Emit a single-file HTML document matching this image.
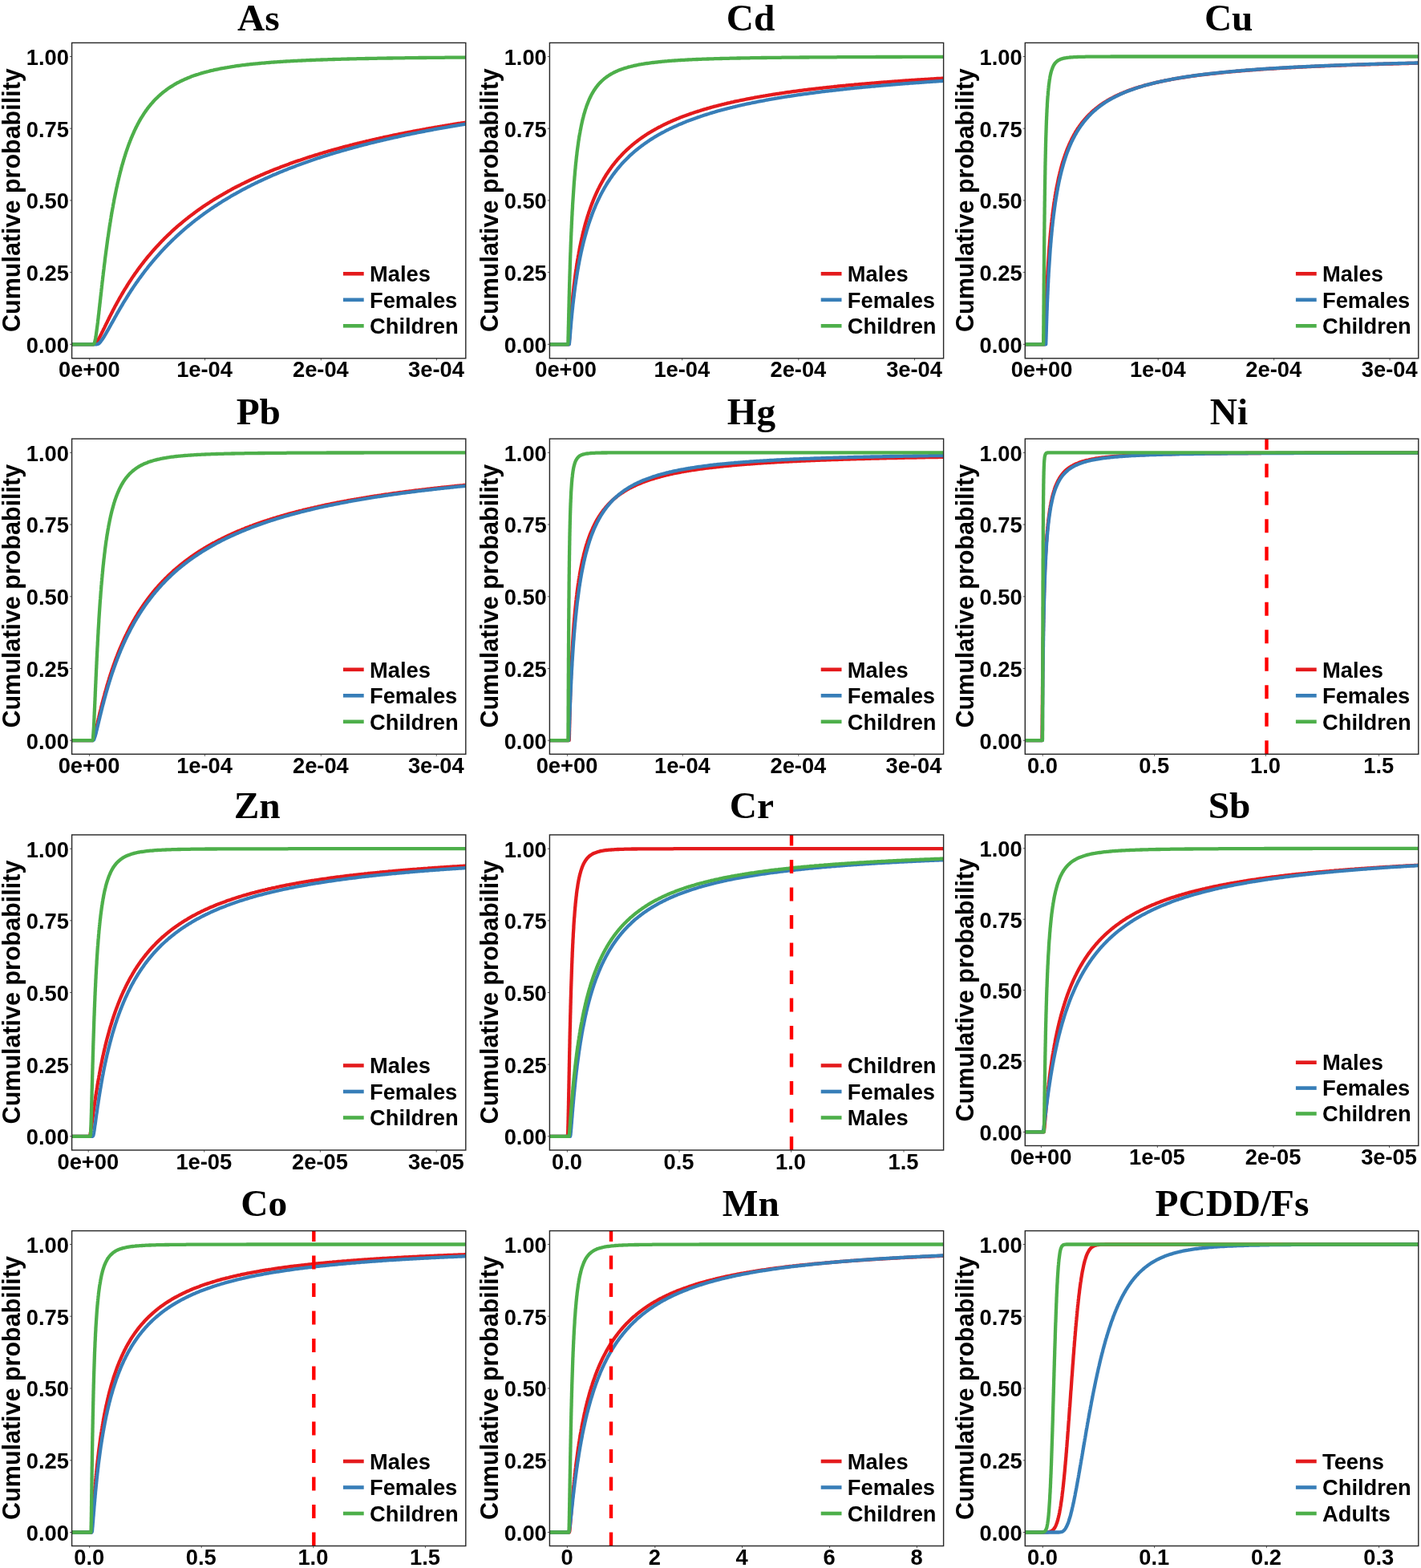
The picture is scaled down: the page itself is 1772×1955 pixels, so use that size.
<!DOCTYPE html>
<html><head><meta charset="utf-8"><title>Cumulative probability plots</title>
<style>
html,body{margin:0;padding:0;background:#fff;}
body{width:1772px;height:1955px;overflow:hidden;}
svg{display:block;}
.ti{font-family:"Liberation Serif","Times New Roman",serif;font-weight:bold;font-size:47.3px;text-anchor:middle;fill:#000;}
.yl{font-family:"Liberation Sans",Arial,sans-serif;font-weight:bold;font-size:30.5px;text-anchor:middle;fill:#000;}
.yt{font-family:"Liberation Sans",Arial,sans-serif;font-weight:bold;font-size:27.3px;text-anchor:end;fill:#000;}
.xt{font-family:"Liberation Sans",Arial,sans-serif;font-weight:bold;font-size:27.3px;text-anchor:middle;fill:#000;}
.lg{font-family:"Liberation Sans",Arial,sans-serif;font-weight:bold;font-size:27.3px;fill:#000;}
.tk{stroke:#333;stroke-width:0.8;}
.bd{fill:none;stroke:#262626;stroke-width:1.4;}
.cv{fill:none;stroke-width:4.3;stroke-linejoin:round;stroke-linecap:butt;}
.dash{stroke:#FF0000;stroke-width:4.4;stroke-dasharray:17.1 17.4;}
</style></head><body>
<svg xmlns="http://www.w3.org/2000/svg" width="1772" height="1955" viewBox="0 0 1772 1955">
<rect width="1772" height="1955" fill="#fff"/>
<defs>
<clipPath id="cp0"><rect x="89.6" y="53.4" width="491.19999999999993" height="393.40000000000003"/></clipPath>
<clipPath id="cp1"><rect x="685.4" y="53.4" width="491.19999999999993" height="393.40000000000003"/></clipPath>
<clipPath id="cp2"><rect x="1278.3" y="53.4" width="490.5" height="393.40000000000003"/></clipPath>
<clipPath id="cp3"><rect x="89.6" y="547.1" width="491.19999999999993" height="393.19999999999993"/></clipPath>
<clipPath id="cp4"><rect x="685.4" y="547.1" width="491.19999999999993" height="393.19999999999993"/></clipPath>
<clipPath id="cp5"><rect x="1278.3" y="547.1" width="490.5" height="393.19999999999993"/></clipPath>
<clipPath id="cp6"><rect x="89.6" y="1040.9" width="491.19999999999993" height="393.0999999999999"/></clipPath>
<clipPath id="cp7"><rect x="685.4" y="1040.9" width="491.19999999999993" height="393.0999999999999"/></clipPath>
<clipPath id="cp8"><rect x="1278.3" y="1040.9" width="490.5" height="387.5999999999999"/></clipPath>
<clipPath id="cp9"><rect x="89.6" y="1534.6" width="491.19999999999993" height="392.9000000000001"/></clipPath>
<clipPath id="cp10"><rect x="685.4" y="1534.6" width="491.19999999999993" height="392.9000000000001"/></clipPath>
<clipPath id="cp11"><rect x="1278.3" y="1534.6" width="490.5" height="392.9000000000001"/></clipPath>
</defs>
<text x="322.3" y="38.1" class="ti">As</text>
<text class="yl" transform="translate(24.849999999999994,249.6) rotate(-90)">Cumulative probability</text>
<line x1="87.0" y1="429.3" x2="89.6" y2="429.3" class="tk"/>
<text x="86.0" y="439.6" class="yt">0.00</text>
<line x1="87.0" y1="339.6" x2="89.6" y2="339.6" class="tk"/>
<text x="86.0" y="349.9" class="yt">0.25</text>
<line x1="87.0" y1="249.9" x2="89.6" y2="249.9" class="tk"/>
<text x="86.0" y="260.2" class="yt">0.50</text>
<line x1="87.0" y1="160.2" x2="89.6" y2="160.2" class="tk"/>
<text x="86.0" y="170.5" class="yt">0.75</text>
<line x1="87.0" y1="70.5" x2="89.6" y2="70.5" class="tk"/>
<text x="86.0" y="80.8" class="yt">1.00</text>
<line x1="111.7" y1="446.8" x2="111.7" y2="449.4" class="tk"/>
<text x="111.3" y="470.3" class="xt">0e+00</text>
<line x1="255.5" y1="446.8" x2="255.5" y2="449.4" class="tk"/>
<text x="255.1" y="470.3" class="xt">1e-04</text>
<line x1="400.3" y1="446.8" x2="400.3" y2="449.4" class="tk"/>
<text x="399.9" y="470.3" class="xt">2e-04</text>
<line x1="544.4" y1="446.8" x2="544.4" y2="449.4" class="tk"/>
<text x="544.0" y="470.3" class="xt">3e-04</text>
<g clip-path="url(#cp0)">
<path d="M79.6,429.3 L116.9,429.3 L118.3,428.9 L119.5,427.9 L120.4,426.7 L121.3,425.4 L122.1,424.2 L122.8,422.9 L123.6,421.6 L124.3,420.2 L125.0,418.9 L125.7,417.6 L126.4,416.2 L127.0,414.9 L127.7,413.5 L128.4,412.2 L129.0,410.8 L129.7,409.5 L130.4,408.1 L131.0,406.8 L131.7,405.4 L132.3,404.1 L133.0,402.7 L133.7,401.4 L134.3,400.0 L135.0,398.7 L135.7,397.3 L136.3,396.0 L137.0,394.6 L137.7,393.3 L138.4,391.9 L139.1,390.6 L139.8,389.3 L140.4,387.9 L141.1,386.6 L141.8,385.2 L142.5,383.9 L143.2,382.6 L143.9,381.3 L144.7,379.9 L145.4,378.6 L146.1,377.3 L146.8,376.0 L147.6,374.6 L148.3,373.3 L149.0,372.0 L149.8,370.7 L150.5,369.4 L151.3,368.1 L152.0,366.8 L152.8,365.5 L153.6,364.2 L154.3,362.9 L155.1,361.6 L155.9,360.3 L156.7,359.1 L157.5,357.8 L158.3,356.5 L159.1,355.2 L159.9,353.9 L160.7,352.7 L161.5,351.4 L162.3,350.2 L163.2,348.9 L164.0,347.6 L164.8,346.4 L165.7,345.1 L166.5,343.9 L167.4,342.7 L168.2,341.4 L169.1,340.2 L170.0,339.0 L170.9,337.7 L171.7,336.5 L172.6,335.3 L173.5,334.1 L174.4,332.9 L175.3,331.7 L176.2,330.5 L177.1,329.3 L178.1,328.1 L179.0,326.9 L179.9,325.7 L180.8,324.5 L181.8,323.4 L182.7,322.2 L183.7,321.0 L184.6,319.9 L185.6,318.7 L186.6,317.6 L187.6,316.4 L188.5,315.3 L189.5,314.1 L190.5,313.0 L191.5,311.9 L192.5,310.7 L193.5,309.6 L194.5,308.5 L195.5,307.4 L196.6,306.3 L197.6,305.2 L198.6,304.1 L199.6,303.0 L200.7,301.9 L201.7,300.8 L202.8,299.7 L203.8,298.7 L204.9,297.6 L206.0,296.5 L207.0,295.5 L208.1,294.4 L209.2,293.4 L210.3,292.3 L211.4,291.3 L212.5,290.3 L213.6,289.2 L214.7,288.2 L215.8,287.2 L216.9,286.2 L218.0,285.2 L219.2,284.2 L220.3,283.2 L221.4,282.2 L222.6,281.2 L223.7,280.2 L224.9,279.3 L226.0,278.3 L227.2,277.3 L228.3,276.4 L229.5,275.4 L230.7,274.5 L231.8,273.5 L233.0,272.6 L234.2,271.7 L235.4,270.7 L236.6,269.8 L237.8,268.9 L239.0,268.0 L240.2,267.1 L241.4,266.2 L242.6,265.3 L243.8,264.4 L245.0,263.5 L246.2,262.6 L247.5,261.7 L248.7,260.9 L249.9,260.0 L251.2,259.2 L252.4,258.3 L253.6,257.4 L254.9,256.6 L256.1,255.8 L257.4,254.9 L258.7,254.1 L259.9,253.3 L261.2,252.5 L262.4,251.6 L263.7,250.8 L265.0,250.0 L266.3,249.2 L267.5,248.4 L268.8,247.6 L270.1,246.9 L271.4,246.1 L272.7,245.3 L274.0,244.5 L275.3,243.8 L276.6,243.0 L277.9,242.3 L279.2,241.5 L280.5,240.8 L281.8,240.0 L283.1,239.3 L284.4,238.5 L285.7,237.8 L287.1,237.1 L288.4,236.4 L289.7,235.7 L291.0,234.9 L292.4,234.2 L293.7,233.5 L295.0,232.8 L296.4,232.2 L297.7,231.5 L299.1,230.8 L300.4,230.1 L301.8,229.4 L303.1,228.8 L304.5,228.1 L305.8,227.4 L307.2,226.8 L308.5,226.1 L309.9,225.5 L311.2,224.8 L312.6,224.2 L314.0,223.6 L315.3,222.9 L316.7,222.3 L318.1,221.7 L319.4,221.0 L320.8,220.4 L322.2,219.8 L323.6,219.2 L324.9,218.6 L326.3,218.0 L327.7,217.4 L329.1,216.8 L330.5,216.2 L331.9,215.6 L333.3,215.1 L334.6,214.5 L336.0,213.9 L337.4,213.3 L338.8,212.8 L340.2,212.2 L341.6,211.6 L343.0,211.1 L344.4,210.5 L345.8,210.0 L347.2,209.4 L348.6,208.9 L350.0,208.3 L351.4,207.8 L352.8,207.3 L354.3,206.7 L355.7,206.2 L357.1,205.7 L358.5,205.2 L359.9,204.7 L361.3,204.1 L362.7,203.6 L364.2,203.1 L365.6,202.6 L367.0,202.1 L368.4,201.6 L369.8,201.1 L371.3,200.6 L372.7,200.1 L374.1,199.7 L375.5,199.2 L377.0,198.7 L378.4,198.2 L379.8,197.7 L381.2,197.3 L382.7,196.8 L384.1,196.3 L385.5,195.9 L387.0,195.4 L388.4,195.0 L389.8,194.5 L391.3,194.1 L392.7,193.6 L394.2,193.2 L395.6,192.7 L397.0,192.3 L398.5,191.8 L399.9,191.4 L401.4,191.0 L402.8,190.5 L404.2,190.1 L405.7,189.7 L407.1,189.3 L408.6,188.8 L410.0,188.4 L411.5,188.0 L412.9,187.6 L414.4,187.2 L415.8,186.8 L417.3,186.4 L418.7,186.0 L420.2,185.6 L421.6,185.2 L423.1,184.8 L424.5,184.4 L426.0,184.0 L427.4,183.6 L428.9,183.2 L430.3,182.8 L431.8,182.4 L433.3,182.1 L434.7,181.7 L436.2,181.3 L437.6,180.9 L439.1,180.6 L440.6,180.2 L442.0,179.8 L443.5,179.4 L444.9,179.1 L446.4,178.7 L447.9,178.4 L449.3,178.0 L450.8,177.6 L452.2,177.3 L453.7,176.9 L455.2,176.6 L456.6,176.2 L458.1,175.9 L459.6,175.6 L461.0,175.2 L462.5,174.9 L464.0,174.5 L465.4,174.2 L466.9,173.9 L468.4,173.5 L469.8,173.2 L471.3,172.9 L472.8,172.5 L474.3,172.2 L475.7,171.9 L477.2,171.6 L478.7,171.2 L480.1,170.9 L481.6,170.6 L483.1,170.3 L484.6,170.0 L486.0,169.7 L487.5,169.3 L489.0,169.0 L490.4,168.7 L491.9,168.4 L493.4,168.1 L494.9,167.8 L496.3,167.5 L497.8,167.2 L499.3,166.9 L500.8,166.6 L502.3,166.3 L503.7,166.0 L505.2,165.7 L506.7,165.5 L508.2,165.2 L509.6,164.9 L511.1,164.6 L512.6,164.3 L514.1,164.0 L515.6,163.7 L517.0,163.5 L518.5,163.2 L520.0,162.9 L521.5,162.6 L523.0,162.4 L524.4,162.1 L525.9,161.8 L527.4,161.5 L528.9,161.3 L530.4,161.0 L531.8,160.7 L533.3,160.5 L534.8,160.2 L536.3,159.9 L537.8,159.7 L539.3,159.4 L540.7,159.2 L542.2,158.9 L543.7,158.6 L545.2,158.4 L546.7,158.1 L548.2,157.9 L549.6,157.6 L551.1,157.4 L552.6,157.1 L554.1,156.9 L555.6,156.6 L557.1,156.4 L558.6,156.2 L560.0,155.9 L561.5,155.7 L563.0,155.4 L564.5,155.2 L566.0,154.9 L567.5,154.7 L569.0,154.5 L570.4,154.2 L571.9,154.0 L573.4,153.8 L574.9,153.5 L576.4,153.3 L577.9,153.1 L579.4,152.9 L580.9,152.6 L582.4,152.4 L583.8,152.2 L585.3,151.9 L586.8,151.7 L588.3,151.5 L589.8,151.3 L591.3,151.1 L592.8,150.8 L594.3,150.6 L595.8,150.4 L597.2,150.2 L598.7,150.0 L600.2,149.8 L590.8,149.8" class="cv" stroke="#E41A1C"/>
<path d="M79.6,429.3 L120.4,429.3 L121.9,429.0 L123.2,428.3 L124.3,427.3 L125.3,426.2 L126.2,425.0 L127.1,423.8 L128.0,422.5 L128.8,421.3 L129.6,420.0 L130.4,418.7 L131.2,417.4 L131.9,416.1 L132.7,414.8 L133.4,413.5 L134.2,412.2 L134.9,410.9 L135.7,409.6 L136.4,408.3 L137.1,407.0 L137.9,405.6 L138.6,404.3 L139.3,403.0 L140.1,401.7 L140.8,400.4 L141.5,399.1 L142.3,397.8 L143.0,396.4 L143.7,395.1 L144.5,393.8 L145.2,392.5 L145.9,391.2 L146.7,389.9 L147.4,388.6 L148.2,387.3 L148.9,386.0 L149.7,384.7 L150.5,383.4 L151.2,382.1 L152.0,380.8 L152.8,379.5 L153.5,378.2 L154.3,376.9 L155.1,375.6 L155.9,374.3 L156.7,373.1 L157.5,371.8 L158.3,370.5 L159.1,369.2 L159.9,368.0 L160.7,366.7 L161.5,365.4 L162.3,364.2 L163.1,362.9 L163.9,361.6 L164.8,360.4 L165.6,359.1 L166.4,357.9 L167.3,356.6 L168.1,355.4 L169.0,354.2 L169.8,352.9 L170.7,351.7 L171.6,350.5 L172.4,349.2 L173.3,348.0 L174.2,346.8 L175.1,345.6 L176.0,344.4 L176.9,343.1 L177.8,341.9 L178.7,340.7 L179.6,339.5 L180.5,338.3 L181.4,337.1 L182.3,336.0 L183.3,334.8 L184.2,333.6 L185.1,332.4 L186.1,331.2 L187.0,330.1 L188.0,328.9 L188.9,327.7 L189.9,326.6 L190.9,325.4 L191.8,324.3 L192.8,323.1 L193.8,322.0 L194.8,320.9 L195.8,319.7 L196.8,318.6 L197.8,317.5 L198.8,316.4 L199.8,315.2 L200.8,314.1 L201.8,313.0 L202.8,311.9 L203.9,310.8 L204.9,309.7 L205.9,308.6 L207.0,307.6 L208.0,306.5 L209.1,305.4 L210.1,304.3 L211.2,303.3 L212.3,302.2 L213.3,301.2 L214.4,300.1 L215.5,299.1 L216.6,298.0 L217.7,297.0 L218.8,295.9 L219.9,294.9 L221.0,293.9 L222.1,292.9 L223.2,291.9 L224.3,290.8 L225.4,289.8 L226.5,288.8 L227.7,287.8 L228.8,286.9 L229.9,285.9 L231.1,284.9 L232.2,283.9 L233.4,282.9 L234.5,282.0 L235.7,281.0 L236.9,280.1 L238.0,279.1 L239.2,278.2 L240.4,277.2 L241.5,276.3 L242.7,275.3 L243.9,274.4 L245.1,273.5 L246.3,272.6 L247.5,271.7 L248.7,270.8 L249.9,269.9 L251.1,269.0 L252.3,268.1 L253.5,267.2 L254.7,266.3 L256.0,265.4 L257.2,264.5 L258.4,263.7 L259.7,262.8 L260.9,262.0 L262.1,261.1 L263.4,260.2 L264.6,259.4 L265.9,258.6 L267.1,257.7 L268.4,256.9 L269.6,256.1 L270.9,255.3 L272.2,254.4 L273.4,253.6 L274.7,252.8 L276.0,252.0 L277.2,251.2 L278.5,250.4 L279.8,249.6 L281.1,248.9 L282.4,248.1 L283.7,247.3 L285.0,246.5 L286.2,245.8 L287.5,245.0 L288.8,244.2 L290.2,243.5 L291.5,242.7 L292.8,242.0 L294.1,241.3 L295.4,240.5 L296.7,239.8 L298.0,239.1 L299.3,238.4 L300.7,237.6 L302.0,236.9 L303.3,236.2 L304.7,235.5 L306.0,234.8 L307.3,234.1 L308.7,233.4 L310.0,232.7 L311.3,232.1 L312.7,231.4 L314.0,230.7 L315.4,230.0 L316.7,229.4 L318.1,228.7 L319.4,228.0 L320.8,227.4 L322.1,226.7 L323.5,226.1 L324.9,225.5 L326.2,224.8 L327.6,224.2 L328.9,223.6 L330.3,222.9 L331.7,222.3 L333.1,221.7 L334.4,221.1 L335.8,220.5 L337.2,219.8 L338.6,219.2 L339.9,218.6 L341.3,218.0 L342.7,217.4 L344.1,216.9 L345.5,216.3 L346.9,215.7 L348.3,215.1 L349.6,214.5 L351.0,214.0 L352.4,213.4 L353.8,212.8 L355.2,212.3 L356.6,211.7 L358.0,211.2 L359.4,210.6 L360.8,210.1 L362.2,209.5 L363.6,209.0 L365.0,208.4 L366.4,207.9 L367.8,207.4 L369.2,206.8 L370.7,206.3 L372.1,205.8 L373.5,205.3 L374.9,204.7 L376.3,204.2 L377.7,203.7 L379.1,203.2 L380.6,202.7 L382.0,202.2 L383.4,201.7 L384.8,201.2 L386.2,200.7 L387.7,200.2 L389.1,199.7 L390.5,199.3 L391.9,198.8 L393.4,198.3 L394.8,197.8 L396.2,197.3 L397.6,196.9 L399.1,196.4 L400.5,195.9 L401.9,195.5 L403.4,195.0 L404.8,194.6 L406.2,194.1 L407.7,193.7 L409.1,193.2 L410.6,192.8 L412.0,192.3 L413.4,191.9 L414.9,191.4 L416.3,191.0 L417.8,190.6 L419.2,190.1 L420.6,189.7 L422.1,189.3 L423.5,188.9 L425.0,188.5 L426.4,188.0 L427.9,187.6 L429.3,187.2 L430.8,186.8 L432.2,186.4 L433.6,186.0 L435.1,185.6 L436.5,185.2 L438.0,184.8 L439.5,184.4 L440.9,184.0 L442.4,183.6 L443.8,183.2 L445.3,182.8 L446.7,182.4 L448.2,182.0 L449.6,181.6 L451.1,181.3 L452.5,180.9 L454.0,180.5 L455.5,180.1 L456.9,179.8 L458.4,179.4 L459.8,179.0 L461.3,178.7 L462.7,178.3 L464.2,177.9 L465.7,177.6 L467.1,177.2 L468.6,176.9 L470.1,176.5 L471.5,176.2 L473.0,175.8 L474.4,175.5 L475.9,175.1 L477.4,174.8 L478.8,174.4 L480.3,174.1 L481.8,173.7 L483.2,173.4 L484.7,173.1 L486.2,172.7 L487.6,172.4 L489.1,172.1 L490.6,171.7 L492.0,171.4 L493.5,171.1 L495.0,170.8 L496.5,170.4 L497.9,170.1 L499.4,169.8 L500.9,169.5 L502.3,169.2 L503.8,168.9 L505.3,168.5 L506.8,168.2 L508.2,167.9 L509.7,167.6 L511.2,167.3 L512.6,167.0 L514.1,166.7 L515.6,166.4 L517.1,166.1 L518.5,165.8 L520.0,165.5 L521.5,165.2 L523.0,164.9 L524.4,164.6 L525.9,164.3 L527.4,164.0 L528.9,163.8 L530.4,163.5 L531.8,163.2 L533.3,162.9 L534.8,162.6 L536.3,162.3 L537.7,162.1 L539.2,161.8 L540.7,161.5 L542.2,161.2 L543.7,161.0 L545.1,160.7 L546.6,160.4 L548.1,160.1 L549.6,159.9 L551.1,159.6 L552.5,159.3 L554.0,159.1 L555.5,158.8 L557.0,158.6 L558.5,158.3 L560.0,158.0 L561.4,157.8 L562.9,157.5 L564.4,157.3 L565.9,157.0 L567.4,156.8 L568.9,156.5 L570.3,156.3 L571.8,156.0 L573.3,155.8 L574.8,155.5 L576.3,155.3 L577.8,155.0 L579.2,154.8 L580.7,154.5 L582.2,154.3 L583.7,154.0 L585.2,153.8 L586.7,153.6 L588.2,153.3 L589.6,153.1 L591.1,152.9 L592.6,152.6 L594.1,152.4 L595.6,152.2 L597.1,151.9 L598.6,151.7 L600.0,151.5 L590.8,151.5" class="cv" stroke="#377EB8"/>
<path d="M79.6,429.3 L116.0,429.3 L117.2,428.7 L117.8,427.3 L118.3,425.8 L118.6,424.4 L118.9,422.9 L119.2,421.4 L119.4,419.9 L119.7,418.5 L119.9,417.0 L120.1,415.5 L120.3,414.0 L120.5,412.5 L120.7,411.0 L120.9,409.5 L121.1,408.0 L121.3,406.5 L121.5,405.0 L121.7,403.5 L121.9,402.0 L122.0,400.5 L122.2,399.1 L122.4,397.6 L122.6,396.1 L122.7,394.6 L122.9,393.1 L123.1,391.6 L123.3,390.1 L123.4,388.6 L123.6,387.1 L123.8,385.6 L123.9,384.1 L124.1,382.6 L124.3,381.1 L124.4,379.6 L124.6,378.1 L124.8,376.6 L124.9,375.1 L125.1,373.6 L125.3,372.1 L125.4,370.6 L125.6,369.1 L125.8,367.6 L125.9,366.1 L126.1,364.6 L126.3,363.2 L126.4,361.7 L126.6,360.2 L126.8,358.7 L126.9,357.2 L127.1,355.7 L127.3,354.2 L127.4,352.7 L127.6,351.2 L127.8,349.7 L128.0,348.2 L128.1,346.7 L128.3,345.2 L128.5,343.7 L128.7,342.2 L128.8,340.7 L129.0,339.2 L129.2,337.7 L129.4,336.2 L129.6,334.7 L129.7,333.2 L129.9,331.8 L130.1,330.3 L130.3,328.8 L130.5,327.3 L130.7,325.8 L130.8,324.3 L131.0,322.8 L131.2,321.3 L131.4,319.8 L131.6,318.3 L131.8,316.8 L132.0,315.3 L132.2,313.8 L132.4,312.3 L132.6,310.8 L132.8,309.4 L133.0,307.9 L133.2,306.4 L133.4,304.9 L133.6,303.4 L133.8,301.9 L134.0,300.4 L134.2,298.9 L134.4,297.4 L134.6,295.9 L134.9,294.4 L135.1,293.0 L135.3,291.5 L135.5,290.0 L135.7,288.5 L136.0,287.0 L136.2,285.5 L136.4,284.0 L136.6,282.5 L136.9,281.0 L137.1,279.6 L137.3,278.1 L137.6,276.6 L137.8,275.1 L138.0,273.6 L138.3,272.1 L138.5,270.6 L138.8,269.2 L139.0,267.7 L139.3,266.2 L139.5,264.7 L139.8,263.2 L140.1,261.7 L140.3,260.3 L140.6,258.8 L140.9,257.3 L141.1,255.8 L141.4,254.3 L141.7,252.9 L142.0,251.4 L142.2,249.9 L142.5,248.4 L142.8,246.9 L143.1,245.5 L143.4,244.0 L143.7,242.5 L144.0,241.0 L144.3,239.6 L144.6,238.1 L144.9,236.6 L145.2,235.1 L145.5,233.7 L145.9,232.2 L146.2,230.7 L146.5,229.3 L146.8,227.8 L147.2,226.3 L147.5,224.9 L147.9,223.4 L148.2,221.9 L148.6,220.5 L148.9,219.0 L149.3,217.5 L149.6,216.1 L150.0,214.6 L150.4,213.2 L150.8,211.7 L151.2,210.3 L151.5,208.8 L151.9,207.4 L152.3,205.9 L152.8,204.5 L153.2,203.0 L153.6,201.6 L154.0,200.1 L154.4,198.7 L154.9,197.2 L155.3,195.8 L155.8,194.4 L156.2,192.9 L156.7,191.5 L157.1,190.1 L157.6,188.6 L158.1,187.2 L158.6,185.8 L159.1,184.4 L159.6,182.9 L160.1,181.5 L160.6,180.1 L161.1,178.7 L161.7,177.3 L162.2,175.9 L162.8,174.5 L163.3,173.1 L163.9,171.7 L164.5,170.3 L165.1,168.9 L165.7,167.5 L166.3,166.2 L166.9,164.8 L167.5,163.4 L168.1,162.1 L168.8,160.7 L169.5,159.3 L170.1,158.0 L170.8,156.7 L171.5,155.3 L172.2,154.0 L172.9,152.7 L173.6,151.3 L174.4,150.0 L175.1,148.7 L175.9,147.4 L176.7,146.1 L177.5,144.9 L178.3,143.6 L179.1,142.3 L179.9,141.1 L180.8,139.8 L181.6,138.6 L182.5,137.4 L183.4,136.1 L184.3,134.9 L185.2,133.7 L186.1,132.6 L187.1,131.4 L188.0,130.2 L189.0,129.1 L190.0,128.0 L191.0,126.8 L192.0,125.7 L193.1,124.6 L194.1,123.6 L195.2,122.5 L196.3,121.4 L197.3,120.4 L198.5,119.4 L199.6,118.4 L200.7,117.4 L201.9,116.4 L203.0,115.4 L204.2,114.5 L205.4,113.6 L206.6,112.7 L207.8,111.8 L209.0,110.9 L210.2,110.0 L211.5,109.2 L212.7,108.4 L214.0,107.6 L215.3,106.8 L216.6,106.0 L217.9,105.2 L219.2,104.5 L220.5,103.7 L221.8,103.0 L223.2,102.3 L224.5,101.6 L225.9,101.0 L227.2,100.3 L228.6,99.7 L229.9,99.1 L231.3,98.5 L232.7,97.9 L234.1,97.3 L235.5,96.7 L236.9,96.2 L238.3,95.6 L239.7,95.1 L241.1,94.6 L242.5,94.1 L244.0,93.6 L245.4,93.1 L246.8,92.7 L248.3,92.2 L249.7,91.8 L251.1,91.3 L252.6,90.9 L254.0,90.5 L255.5,90.1 L256.9,89.7 L258.4,89.3 L259.9,89.0 L261.3,88.6 L262.8,88.2 L264.2,87.9 L265.7,87.6 L267.2,87.2 L268.6,86.9 L270.1,86.6 L271.6,86.3 L273.1,86.0 L274.5,85.7 L276.0,85.4 L277.5,85.1 L279.0,84.9 L280.5,84.6 L281.9,84.3 L283.4,84.1 L284.9,83.8 L286.4,83.6 L287.9,83.3 L289.4,83.1 L290.9,82.9 L292.4,82.7 L293.8,82.4 L295.3,82.2 L296.8,82.0 L298.3,81.8 L299.8,81.6 L301.3,81.4 L302.8,81.2 L304.3,81.1 L305.8,80.9 L307.3,80.7 L308.8,80.5 L310.3,80.4 L311.8,80.2 L313.3,80.0 L314.8,79.9 L316.3,79.7 L317.7,79.6 L319.2,79.4 L320.7,79.3 L322.2,79.1 L323.7,79.0 L325.2,78.9 L326.7,78.7 L328.2,78.6 L329.7,78.5 L331.2,78.3 L332.7,78.2 L334.2,78.1 L335.7,78.0 L337.2,77.9 L338.7,77.7 L340.2,77.6 L341.7,77.5 L343.2,77.4 L344.7,77.3 L346.3,77.2 L347.8,77.1 L349.3,77.0 L350.8,76.9 L352.3,76.8 L353.8,76.7 L355.3,76.6 L356.8,76.5 L358.3,76.4 L359.8,76.4 L361.3,76.3 L362.8,76.2 L364.3,76.1 L365.8,76.0 L367.3,75.9 L368.8,75.9 L370.3,75.8 L371.8,75.7 L373.3,75.6 L374.8,75.6 L376.3,75.5 L377.8,75.4 L379.3,75.4 L380.8,75.3 L382.3,75.2 L383.8,75.2 L385.3,75.1 L386.8,75.0 L388.3,75.0 L389.8,74.9 L391.3,74.8 L392.9,74.8 L394.4,74.7 L395.9,74.7 L397.4,74.6 L398.9,74.6 L400.4,74.5 L401.9,74.5 L403.4,74.4 L404.9,74.4 L406.4,74.3 L407.9,74.3 L409.4,74.2 L410.9,74.2 L412.4,74.1 L413.9,74.1 L415.4,74.0 L416.9,74.0 L418.4,73.9 L419.9,73.9 L421.4,73.8 L422.9,73.8 L424.4,73.8 L425.9,73.7 L427.5,73.7 L429.0,73.6 L430.5,73.6 L432.0,73.6 L433.5,73.5 L435.0,73.5 L436.5,73.4 L438.0,73.4 L439.5,73.4 L441.0,73.3 L442.5,73.3 L444.0,73.3 L445.5,73.2 L447.0,73.2 L448.5,73.2 L450.0,73.1 L451.5,73.1 L453.0,73.1 L454.5,73.1 L456.0,73.0 L457.6,73.0 L459.1,73.0 L460.6,72.9 L462.1,72.9 L463.6,72.9 L465.1,72.9 L466.6,72.8 L468.1,72.8 L469.6,72.8 L471.1,72.7 L472.6,72.7 L474.1,72.7 L475.6,72.7 L477.1,72.6 L478.6,72.6 L480.1,72.6 L481.6,72.6 L483.1,72.5 L484.6,72.5 L486.1,72.5 L487.7,72.5 L489.2,72.5 L490.7,72.4 L492.2,72.4 L493.7,72.4 L495.2,72.4 L496.7,72.4 L498.2,72.3 L499.7,72.3 L501.2,72.3 L502.7,72.3 L504.2,72.3 L505.7,72.2 L507.2,72.2 L508.7,72.2 L510.2,72.2 L511.7,72.2 L513.2,72.1 L514.7,72.1 L516.3,72.1 L517.8,72.1 L519.3,72.1 L520.8,72.1 L522.3,72.0 L523.8,72.0 L525.3,72.0 L526.8,72.0 L528.3,72.0 L529.8,72.0 L531.3,72.0 L532.8,71.9 L534.3,71.9 L535.8,71.9 L537.3,71.9 L538.8,71.9 L540.3,71.9 L541.8,71.9 L543.3,71.8 L544.8,71.8 L546.4,71.8 L547.9,71.8 L549.4,71.8 L550.9,71.8 L552.4,71.8 L553.9,71.8 L555.4,71.7 L556.9,71.7 L558.4,71.7 L559.9,71.7 L561.4,71.7 L562.9,71.7 L564.4,71.7 L565.9,71.7 L567.4,71.6 L568.9,71.6 L570.4,71.6 L571.9,71.6 L573.4,71.6 L575.0,71.6 L576.5,71.6 L578.0,71.6 L579.5,71.6 L581.0,71.5 L582.5,71.5 L584.0,71.5 L585.5,71.5 L587.0,71.5 L588.5,71.5 L590.0,71.5 L591.5,71.5 L593.0,71.5 L594.5,71.5 L596.0,71.5 L597.5,71.4 L599.0,71.4 L600.5,71.4 L590.8,71.4" class="cv" stroke="#4DAF4A"/>
</g>
<rect x="89.6" y="53.4" width="491.2" height="393.4" class="bd"/>
<line x1="427.9" y1="341.3" x2="453.7" y2="341.3" stroke="#E41A1C" stroke-width="4.6"/>
<text x="461.0" y="351.0" class="lg">Males</text>
<line x1="427.9" y1="373.8" x2="453.7" y2="373.8" stroke="#377EB8" stroke-width="4.6"/>
<text x="461.0" y="383.5" class="lg">Females</text>
<line x1="427.9" y1="406.3" x2="453.7" y2="406.3" stroke="#4DAF4A" stroke-width="4.6"/>
<text x="461.0" y="416.0" class="lg">Children</text>
<text x="936.0" y="38.1" class="ti">Cd</text>
<text class="yl" transform="translate(620.65,249.6) rotate(-90)">Cumulative probability</text>
<line x1="682.8" y1="429.3" x2="685.4" y2="429.3" class="tk"/>
<text x="681.8" y="439.6" class="yt">0.00</text>
<line x1="682.8" y1="339.6" x2="685.4" y2="339.6" class="tk"/>
<text x="681.8" y="349.9" class="yt">0.25</text>
<line x1="682.8" y1="249.9" x2="685.4" y2="249.9" class="tk"/>
<text x="681.8" y="260.2" class="yt">0.50</text>
<line x1="682.8" y1="160.2" x2="685.4" y2="160.2" class="tk"/>
<text x="681.8" y="170.5" class="yt">0.75</text>
<line x1="682.8" y1="70.5" x2="685.4" y2="70.5" class="tk"/>
<text x="681.8" y="80.8" class="yt">1.00</text>
<line x1="706.0" y1="446.8" x2="706.0" y2="449.4" class="tk"/>
<text x="705.6" y="470.3" class="xt">0e+00</text>
<line x1="850.7" y1="446.8" x2="850.7" y2="449.4" class="tk"/>
<text x="850.3" y="470.3" class="xt">1e-04</text>
<line x1="995.8" y1="446.8" x2="995.8" y2="449.4" class="tk"/>
<text x="995.4" y="470.3" class="xt">2e-04</text>
<line x1="1140.5" y1="446.8" x2="1140.5" y2="449.4" class="tk"/>
<text x="1140.1" y="470.3" class="xt">3e-04</text>
<g clip-path="url(#cp1)">
<path d="M675.4,429.3 L709.5,429.3 L709.7,427.8 L709.8,426.3 L709.9,424.8 L710.1,423.3 L710.2,421.8 L710.3,420.3 L710.3,418.8 L710.4,417.3 L710.5,415.8 L710.6,414.3 L710.7,412.8 L710.8,411.3 L711.0,409.8 L711.1,408.3 L711.2,406.8 L711.3,405.3 L711.4,403.8 L711.5,402.3 L711.6,400.8 L711.7,399.3 L711.8,397.8 L711.9,396.3 L712.1,394.8 L712.2,393.3 L712.3,391.8 L712.4,390.3 L712.5,388.8 L712.7,387.3 L712.8,385.8 L712.9,384.3 L713.1,382.8 L713.2,381.3 L713.3,379.8 L713.5,378.3 L713.6,376.8 L713.7,375.3 L713.9,373.8 L714.0,372.3 L714.2,370.8 L714.3,369.3 L714.5,367.8 L714.6,366.3 L714.8,364.8 L715.0,363.3 L715.1,361.8 L715.3,360.3 L715.5,358.8 L715.6,357.3 L715.8,355.8 L716.0,354.3 L716.2,352.8 L716.4,351.3 L716.5,349.9 L716.7,348.4 L716.9,346.9 L717.1,345.4 L717.3,343.9 L717.5,342.4 L717.7,340.9 L717.9,339.4 L718.1,337.9 L718.3,336.4 L718.6,334.9 L718.8,333.4 L719.0,332.0 L719.2,330.5 L719.5,329.0 L719.7,327.5 L719.9,326.0 L720.2,324.5 L720.4,323.0 L720.7,321.6 L720.9,320.1 L721.2,318.6 L721.5,317.1 L721.7,315.6 L722.0,314.1 L722.3,312.7 L722.6,311.2 L722.8,309.7 L723.1,308.2 L723.4,306.8 L723.7,305.3 L724.0,303.8 L724.3,302.3 L724.7,300.9 L725.0,299.4 L725.3,297.9 L725.6,296.5 L726.0,295.0 L726.3,293.5 L726.6,292.1 L727.0,290.6 L727.4,289.1 L727.7,287.7 L728.1,286.2 L728.5,284.8 L728.8,283.3 L729.2,281.8 L729.6,280.4 L730.0,278.9 L730.4,277.5 L730.9,276.0 L731.3,274.6 L731.7,273.2 L732.1,271.7 L732.6,270.3 L733.0,268.8 L733.5,267.4 L733.9,266.0 L734.4,264.5 L734.9,263.1 L735.4,261.7 L735.9,260.3 L736.4,258.8 L736.9,257.4 L737.4,256.0 L737.9,254.6 L738.5,253.2 L739.0,251.8 L739.6,250.4 L740.1,249.0 L740.7,247.6 L741.3,246.2 L741.9,244.8 L742.5,243.5 L743.1,242.1 L743.7,240.7 L744.4,239.3 L745.0,238.0 L745.6,236.6 L746.3,235.3 L747.0,233.9 L747.6,232.6 L748.3,231.2 L749.0,229.9 L749.8,228.6 L750.5,227.3 L751.2,226.0 L752.0,224.6 L752.7,223.3 L753.5,222.0 L754.2,220.8 L755.0,219.5 L755.8,218.2 L756.6,216.9 L757.5,215.7 L758.3,214.4 L759.1,213.2 L760.0,211.9 L760.9,210.7 L761.7,209.5 L762.6,208.3 L763.5,207.0 L764.4,205.8 L765.4,204.7 L766.3,203.5 L767.2,202.3 L768.2,201.1 L769.2,200.0 L770.1,198.8 L771.1,197.7 L772.1,196.6 L773.1,195.5 L774.2,194.4 L775.2,193.3 L776.2,192.2 L777.3,191.1 L778.3,190.0 L779.4,189.0 L780.5,187.9 L781.6,186.9 L782.7,185.9 L783.8,184.9 L784.9,183.8 L786.0,182.9 L787.2,181.9 L788.3,180.9 L789.5,179.9 L790.7,179.0 L791.8,178.0 L793.0,177.1 L794.2,176.2 L795.4,175.3 L796.6,174.4 L797.8,173.5 L799.0,172.6 L800.3,171.7 L801.5,170.9 L802.8,170.0 L804.0,169.2 L805.3,168.4 L806.5,167.5 L807.8,166.7 L809.1,165.9 L810.4,165.1 L811.6,164.4 L812.9,163.6 L814.2,162.8 L815.5,162.1 L816.8,161.3 L818.2,160.6 L819.5,159.9 L820.8,159.2 L822.1,158.5 L823.5,157.8 L824.8,157.1 L826.2,156.4 L827.5,155.7 L828.9,155.1 L830.2,154.4 L831.6,153.8 L832.9,153.1 L834.3,152.5 L835.7,151.9 L837.0,151.3 L838.4,150.7 L839.8,150.1 L841.2,149.5 L842.6,148.9 L844.0,148.3 L845.4,147.8 L846.8,147.2 L848.2,146.6 L849.6,146.1 L851.0,145.5 L852.4,145.0 L853.8,144.5 L855.2,144.0 L856.6,143.4 L858.0,142.9 L859.4,142.4 L860.9,141.9 L862.3,141.4 L863.7,141.0 L865.1,140.5 L866.6,140.0 L868.0,139.5 L869.4,139.1 L870.9,138.6 L872.3,138.2 L873.7,137.7 L875.2,137.3 L876.6,136.8 L878.1,136.4 L879.5,136.0 L880.9,135.6 L882.4,135.1 L883.8,134.7 L885.3,134.3 L886.7,133.9 L888.2,133.5 L889.6,133.1 L891.1,132.7 L892.6,132.4 L894.0,132.0 L895.5,131.6 L896.9,131.2 L898.4,130.9 L899.8,130.5 L901.3,130.1 L902.8,129.8 L904.2,129.4 L905.7,129.1 L907.2,128.7 L908.6,128.4 L910.1,128.1 L911.6,127.7 L913.0,127.4 L914.5,127.1 L916.0,126.7 L917.4,126.4 L918.9,126.1 L920.4,125.8 L921.9,125.5 L923.3,125.2 L924.8,124.9 L926.3,124.6 L927.8,124.3 L929.2,124.0 L930.7,123.7 L932.2,123.4 L933.7,123.1 L935.1,122.8 L936.6,122.5 L938.1,122.3 L939.6,122.0 L941.1,121.7 L942.5,121.4 L944.0,121.2 L945.5,120.9 L947.0,120.7 L948.5,120.4 L950.0,120.1 L951.4,119.9 L952.9,119.6 L954.4,119.4 L955.9,119.1 L957.4,118.9 L958.9,118.6 L960.3,118.4 L961.8,118.2 L963.3,117.9 L964.8,117.7 L966.3,117.5 L967.8,117.2 L969.3,117.0 L970.8,116.8 L972.2,116.5 L973.7,116.3 L975.2,116.1 L976.7,115.9 L978.2,115.7 L979.7,115.4 L981.2,115.2 L982.7,115.0 L984.2,114.8 L985.7,114.6 L987.1,114.4 L988.6,114.2 L990.1,114.0 L991.6,113.8 L993.1,113.6 L994.6,113.4 L996.1,113.2 L997.6,113.0 L999.1,112.8 L1000.6,112.6 L1002.1,112.4 L1003.6,112.2 L1005.1,112.1 L1006.5,111.9 L1008.0,111.7 L1009.5,111.5 L1011.0,111.3 L1012.5,111.1 L1014.0,111.0 L1015.5,110.8 L1017.0,110.6 L1018.5,110.4 L1020.0,110.3 L1021.5,110.1 L1023.0,109.9 L1024.5,109.8 L1026.0,109.6 L1027.5,109.4 L1029.0,109.3 L1030.5,109.1 L1032.0,108.9 L1033.5,108.8 L1035.0,108.6 L1036.5,108.5 L1038.0,108.3 L1039.5,108.2 L1041.0,108.0 L1042.4,107.8 L1043.9,107.7 L1045.4,107.5 L1046.9,107.4 L1048.4,107.2 L1049.9,107.1 L1051.4,106.9 L1052.9,106.8 L1054.4,106.7 L1055.9,106.5 L1057.4,106.4 L1058.9,106.2 L1060.4,106.1 L1061.9,105.9 L1063.4,105.8 L1064.9,105.7 L1066.4,105.5 L1067.9,105.4 L1069.4,105.3 L1070.9,105.1 L1072.4,105.0 L1073.9,104.9 L1075.4,104.7 L1076.9,104.6 L1078.4,104.5 L1079.9,104.3 L1081.4,104.2 L1082.9,104.1 L1084.4,104.0 L1085.9,103.8 L1087.4,103.7 L1088.9,103.6 L1090.4,103.5 L1091.9,103.3 L1093.4,103.2 L1094.9,103.1 L1096.4,103.0 L1097.9,102.9 L1099.4,102.7 L1100.9,102.6 L1102.4,102.5 L1103.9,102.4 L1105.4,102.3 L1106.9,102.2 L1108.4,102.1 L1109.9,101.9 L1111.4,101.8 L1112.9,101.7 L1114.4,101.6 L1115.9,101.5 L1117.4,101.4 L1118.9,101.3 L1120.4,101.2 L1121.9,101.1 L1123.4,101.0 L1124.9,100.9 L1126.4,100.7 L1127.9,100.6 L1129.4,100.5 L1130.9,100.4 L1132.4,100.3 L1133.9,100.2 L1135.5,100.1 L1137.0,100.0 L1138.5,99.9 L1140.0,99.8 L1141.5,99.7 L1143.0,99.6 L1144.5,99.5 L1146.0,99.4 L1147.5,99.3 L1149.0,99.2 L1150.5,99.1 L1152.0,99.1 L1153.5,99.0 L1155.0,98.9 L1156.5,98.8 L1158.0,98.7 L1159.5,98.6 L1161.0,98.5 L1162.5,98.4 L1164.0,98.3 L1165.5,98.2 L1167.0,98.1 L1168.5,98.0 L1170.0,98.0 L1171.5,97.9 L1173.0,97.8 L1174.5,97.7 L1176.0,97.6 L1177.5,97.5 L1179.0,97.4 L1180.5,97.3 L1182.0,97.3 L1183.5,97.2 L1185.0,97.1 L1186.5,97.0 L1188.0,96.9 L1189.5,96.8 L1191.0,96.8 L1192.5,96.7 L1194.0,96.6 L1195.6,96.5 L1186.6,96.5" class="cv" stroke="#E41A1C"/>
<path d="M675.4,429.3 L709.8,429.3 L710.0,427.8 L710.2,426.3 L710.3,424.8 L710.4,423.3 L710.6,421.8 L710.7,420.3 L710.8,418.8 L710.9,417.3 L711.1,415.8 L711.2,414.3 L711.3,412.8 L711.4,411.3 L711.6,409.8 L711.7,408.3 L711.8,406.8 L711.9,405.3 L712.1,403.8 L712.2,402.3 L712.3,400.8 L712.5,399.3 L712.6,397.8 L712.8,396.4 L712.9,394.9 L713.0,393.4 L713.2,391.9 L713.3,390.4 L713.5,388.9 L713.6,387.4 L713.8,385.9 L714.0,384.4 L714.1,382.9 L714.3,381.4 L714.4,379.9 L714.6,378.4 L714.8,376.9 L715.0,375.4 L715.1,373.9 L715.3,372.4 L715.5,370.9 L715.7,369.4 L715.9,367.9 L716.0,366.4 L716.2,364.9 L716.4,363.4 L716.6,362.0 L716.8,360.5 L717.0,359.0 L717.2,357.5 L717.4,356.0 L717.6,354.5 L717.9,353.0 L718.1,351.5 L718.3,350.0 L718.5,348.5 L718.8,347.1 L719.0,345.6 L719.2,344.1 L719.5,342.6 L719.7,341.1 L719.9,339.6 L720.2,338.1 L720.4,336.7 L720.7,335.2 L721.0,333.7 L721.2,332.2 L721.5,330.7 L721.8,329.3 L722.1,327.8 L722.3,326.3 L722.6,324.8 L722.9,323.3 L723.2,321.9 L723.5,320.4 L723.8,318.9 L724.1,317.5 L724.4,316.0 L724.7,314.5 L725.1,313.0 L725.4,311.6 L725.7,310.1 L726.1,308.6 L726.4,307.2 L726.8,305.7 L727.1,304.2 L727.5,302.8 L727.8,301.3 L728.2,299.9 L728.6,298.4 L729.0,297.0 L729.4,295.5 L729.8,294.0 L730.2,292.6 L730.6,291.1 L731.0,289.7 L731.4,288.3 L731.8,286.8 L732.3,285.4 L732.7,283.9 L733.1,282.5 L733.6,281.1 L734.0,279.6 L734.5,278.2 L735.0,276.8 L735.5,275.3 L736.0,273.9 L736.5,272.5 L737.0,271.1 L737.5,269.7 L738.0,268.3 L738.5,266.8 L739.1,265.4 L739.6,264.0 L740.2,262.6 L740.7,261.2 L741.3,259.8 L741.9,258.5 L742.4,257.1 L743.0,255.7 L743.6,254.3 L744.3,252.9 L744.9,251.6 L745.5,250.2 L746.2,248.8 L746.8,247.5 L747.5,246.1 L748.1,244.8 L748.8,243.4 L749.5,242.1 L750.2,240.8 L750.9,239.4 L751.6,238.1 L752.4,236.8 L753.1,235.5 L753.8,234.2 L754.6,232.9 L755.4,231.6 L756.1,230.3 L756.9,229.0 L757.7,227.7 L758.5,226.5 L759.4,225.2 L760.2,224.0 L761.0,222.7 L761.9,221.5 L762.8,220.2 L763.6,219.0 L764.5,217.8 L765.4,216.6 L766.3,215.4 L767.2,214.2 L768.2,213.0 L769.1,211.8 L770.0,210.7 L771.0,209.5 L772.0,208.3 L772.9,207.2 L773.9,206.1 L774.9,204.9 L775.9,203.8 L776.9,202.7 L778.0,201.6 L779.0,200.5 L780.1,199.4 L781.1,198.4 L782.2,197.3 L783.3,196.3 L784.3,195.2 L785.4,194.2 L786.5,193.2 L787.7,192.1 L788.8,191.1 L789.9,190.2 L791.0,189.2 L792.2,188.2 L793.3,187.2 L794.5,186.3 L795.7,185.3 L796.9,184.4 L798.0,183.5 L799.2,182.6 L800.4,181.6 L801.7,180.8 L802.9,179.9 L804.1,179.0 L805.3,178.1 L806.6,177.3 L807.8,176.4 L809.1,175.6 L810.3,174.7 L811.6,173.9 L812.8,173.1 L814.1,172.3 L815.4,171.5 L816.7,170.7 L818.0,170.0 L819.3,169.2 L820.6,168.4 L821.9,167.7 L823.2,167.0 L824.5,166.2 L825.8,165.5 L827.1,164.8 L828.5,164.1 L829.8,163.4 L831.1,162.7 L832.5,162.0 L833.8,161.4 L835.2,160.7 L836.5,160.0 L837.9,159.4 L839.3,158.7 L840.6,158.1 L842.0,157.5 L843.4,156.9 L844.7,156.3 L846.1,155.6 L847.5,155.1 L848.9,154.5 L850.3,153.9 L851.7,153.3 L853.0,152.7 L854.4,152.2 L855.8,151.6 L857.2,151.1 L858.6,150.5 L860.1,150.0 L861.5,149.4 L862.9,148.9 L864.3,148.4 L865.7,147.9 L867.1,147.4 L868.5,146.9 L870.0,146.4 L871.4,145.9 L872.8,145.4 L874.2,144.9 L875.7,144.5 L877.1,144.0 L878.5,143.5 L879.9,143.1 L881.4,142.6 L882.8,142.2 L884.3,141.7 L885.7,141.3 L887.1,140.8 L888.6,140.4 L890.0,140.0 L891.5,139.6 L892.9,139.1 L894.4,138.7 L895.8,138.3 L897.3,137.9 L898.7,137.5 L900.2,137.1 L901.6,136.7 L903.1,136.4 L904.5,136.0 L906.0,135.6 L907.4,135.2 L908.9,134.9 L910.4,134.5 L911.8,134.1 L913.3,133.8 L914.7,133.4 L916.2,133.1 L917.7,132.7 L919.1,132.4 L920.6,132.0 L922.1,131.7 L923.5,131.3 L925.0,131.0 L926.5,130.7 L927.9,130.4 L929.4,130.0 L930.9,129.7 L932.3,129.4 L933.8,129.1 L935.3,128.8 L936.8,128.5 L938.2,128.2 L939.7,127.9 L941.2,127.6 L942.7,127.3 L944.1,127.0 L945.6,126.7 L947.1,126.4 L948.6,126.1 L950.1,125.8 L951.5,125.6 L953.0,125.3 L954.5,125.0 L956.0,124.7 L957.4,124.5 L958.9,124.2 L960.4,123.9 L961.9,123.7 L963.4,123.4 L964.9,123.2 L966.3,122.9 L967.8,122.6 L969.3,122.4 L970.8,122.1 L972.3,121.9 L973.8,121.7 L975.2,121.4 L976.7,121.2 L978.2,120.9 L979.7,120.7 L981.2,120.5 L982.7,120.2 L984.2,120.0 L985.7,119.8 L987.1,119.5 L988.6,119.3 L990.1,119.1 L991.6,118.9 L993.1,118.7 L994.6,118.4 L996.1,118.2 L997.6,118.0 L999.0,117.8 L1000.5,117.6 L1002.0,117.4 L1003.5,117.2 L1005.0,117.0 L1006.5,116.8 L1008.0,116.6 L1009.5,116.4 L1011.0,116.2 L1012.5,116.0 L1014.0,115.8 L1015.5,115.6 L1016.9,115.4 L1018.4,115.2 L1019.9,115.0 L1021.4,114.8 L1022.9,114.6 L1024.4,114.4 L1025.9,114.2 L1027.4,114.1 L1028.9,113.9 L1030.4,113.7 L1031.9,113.5 L1033.4,113.3 L1034.9,113.2 L1036.4,113.0 L1037.9,112.8 L1039.4,112.6 L1040.8,112.5 L1042.3,112.3 L1043.8,112.1 L1045.3,112.0 L1046.8,111.8 L1048.3,111.6 L1049.8,111.5 L1051.3,111.3 L1052.8,111.2 L1054.3,111.0 L1055.8,110.8 L1057.3,110.7 L1058.8,110.5 L1060.3,110.4 L1061.8,110.2 L1063.3,110.1 L1064.8,109.9 L1066.3,109.7 L1067.8,109.6 L1069.3,109.4 L1070.8,109.3 L1072.3,109.2 L1073.8,109.0 L1075.3,108.9 L1076.8,108.7 L1078.3,108.6 L1079.8,108.4 L1081.3,108.3 L1082.8,108.1 L1084.3,108.0 L1085.8,107.9 L1087.3,107.7 L1088.7,107.6 L1090.2,107.5 L1091.7,107.3 L1093.2,107.2 L1094.7,107.1 L1096.2,106.9 L1097.7,106.8 L1099.2,106.7 L1100.7,106.5 L1102.2,106.4 L1103.7,106.3 L1105.2,106.1 L1106.7,106.0 L1108.2,105.9 L1109.7,105.8 L1111.2,105.6 L1112.7,105.5 L1114.2,105.4 L1115.7,105.3 L1117.2,105.1 L1118.7,105.0 L1120.2,104.9 L1121.7,104.8 L1123.2,104.7 L1124.7,104.6 L1126.2,104.4 L1127.7,104.3 L1129.2,104.2 L1130.7,104.1 L1132.2,104.0 L1133.7,103.9 L1135.2,103.7 L1136.7,103.6 L1138.2,103.5 L1139.7,103.4 L1141.2,103.3 L1142.7,103.2 L1144.2,103.1 L1145.7,103.0 L1147.2,102.9 L1148.7,102.8 L1150.2,102.7 L1151.7,102.6 L1153.3,102.4 L1154.8,102.3 L1156.3,102.2 L1157.8,102.1 L1159.3,102.0 L1160.8,101.9 L1162.3,101.8 L1163.8,101.7 L1165.3,101.6 L1166.8,101.5 L1168.3,101.4 L1169.8,101.3 L1171.3,101.2 L1172.8,101.1 L1174.3,101.0 L1175.8,100.9 L1177.3,100.8 L1178.8,100.7 L1180.3,100.7 L1181.8,100.6 L1183.3,100.5 L1184.8,100.4 L1186.3,100.3 L1187.8,100.2 L1189.3,100.1 L1190.8,100.0 L1192.3,99.9 L1193.8,99.8 L1195.3,99.7 L1186.6,99.7" class="cv" stroke="#377EB8"/>
<path d="M675.4,429.3 L708.1,429.3 L708.3,427.8 L708.4,426.3 L708.4,424.8 L708.5,423.3 L708.5,421.8 L708.5,420.3 L708.6,418.8 L708.6,417.3 L708.7,415.8 L708.7,414.3 L708.7,412.8 L708.8,411.3 L708.8,409.8 L708.8,408.3 L708.9,406.8 L708.9,405.3 L709.0,403.8 L709.0,402.2 L709.0,400.7 L709.1,399.2 L709.1,397.7 L709.1,396.2 L709.2,394.7 L709.2,393.2 L709.2,391.7 L709.3,390.2 L709.3,388.7 L709.3,387.2 L709.4,385.7 L709.4,384.2 L709.5,382.7 L709.5,381.2 L709.5,379.7 L709.6,378.2 L709.6,376.7 L709.6,375.2 L709.7,373.7 L709.7,372.2 L709.7,370.7 L709.8,369.2 L709.8,367.6 L709.9,366.1 L709.9,364.6 L709.9,363.1 L710.0,361.6 L710.0,360.1 L710.1,358.6 L710.1,357.1 L710.1,355.6 L710.2,354.1 L710.2,352.6 L710.3,351.1 L710.3,349.6 L710.4,348.1 L710.4,346.6 L710.4,345.1 L710.5,343.6 L710.5,342.1 L710.6,340.6 L710.6,339.1 L710.7,337.6 L710.7,336.1 L710.8,334.6 L710.8,333.1 L710.8,331.5 L710.9,330.0 L710.9,328.5 L711.0,327.0 L711.0,325.5 L711.1,324.0 L711.1,322.5 L711.2,321.0 L711.2,319.5 L711.3,318.0 L711.3,316.5 L711.4,315.0 L711.5,313.5 L711.5,312.0 L711.6,310.5 L711.6,309.0 L711.7,307.5 L711.7,306.0 L711.8,304.5 L711.8,303.0 L711.9,301.5 L712.0,300.0 L712.0,298.5 L712.1,297.0 L712.1,295.5 L712.2,293.9 L712.3,292.4 L712.3,290.9 L712.4,289.4 L712.5,287.9 L712.5,286.4 L712.6,284.9 L712.7,283.4 L712.7,281.9 L712.8,280.4 L712.9,278.9 L712.9,277.4 L713.0,275.9 L713.1,274.4 L713.2,272.9 L713.2,271.4 L713.3,269.9 L713.4,268.4 L713.5,266.9 L713.5,265.4 L713.6,263.9 L713.7,262.4 L713.8,260.9 L713.9,259.4 L714.0,257.9 L714.0,256.4 L714.1,254.9 L714.2,253.4 L714.3,251.9 L714.4,250.4 L714.5,248.9 L714.6,247.4 L714.7,245.9 L714.8,244.4 L714.9,242.9 L715.0,241.4 L715.1,239.9 L715.2,238.4 L715.3,236.8 L715.4,235.3 L715.5,233.8 L715.6,232.3 L715.7,230.8 L715.8,229.3 L715.9,227.8 L716.0,226.3 L716.2,224.8 L716.3,223.3 L716.4,221.8 L716.5,220.3 L716.7,218.8 L716.8,217.3 L716.9,215.8 L717.0,214.3 L717.2,212.8 L717.3,211.3 L717.5,209.9 L717.6,208.4 L717.7,206.9 L717.9,205.4 L718.0,203.9 L718.2,202.4 L718.4,200.9 L718.5,199.4 L718.7,197.9 L718.8,196.4 L719.0,194.9 L719.2,193.4 L719.4,191.9 L719.5,190.4 L719.7,188.9 L719.9,187.4 L720.1,185.9 L720.3,184.4 L720.5,182.9 L720.7,181.4 L720.9,180.0 L721.1,178.5 L721.3,177.0 L721.5,175.5 L721.8,174.0 L722.0,172.5 L722.2,171.0 L722.5,169.5 L722.7,168.1 L723.0,166.6 L723.3,165.1 L723.5,163.6 L723.8,162.1 L724.1,160.7 L724.4,159.2 L724.7,157.7 L725.0,156.2 L725.3,154.8 L725.6,153.3 L725.9,151.8 L726.3,150.4 L726.6,148.9 L727.0,147.4 L727.4,146.0 L727.7,144.5 L728.1,143.1 L728.5,141.6 L729.0,140.2 L729.4,138.7 L729.8,137.3 L730.3,135.9 L730.8,134.4 L731.2,133.0 L731.7,131.6 L732.3,130.2 L732.8,128.8 L733.4,127.4 L733.9,126.0 L734.5,124.6 L735.1,123.2 L735.8,121.8 L736.4,120.5 L737.1,119.1 L737.8,117.8 L738.5,116.5 L739.3,115.2 L740.0,113.9 L740.8,112.6 L741.7,111.4 L742.5,110.1 L743.4,108.9 L744.3,107.7 L745.3,106.5 L746.2,105.4 L747.2,104.2 L748.2,103.1 L749.3,102.1 L750.4,101.0 L751.5,100.0 L752.6,99.0 L753.7,98.0 L754.9,97.1 L756.1,96.2 L757.3,95.3 L758.6,94.5 L759.9,93.6 L761.1,92.9 L762.4,92.1 L763.8,91.4 L765.1,90.7 L766.4,90.0 L767.8,89.3 L769.2,88.7 L770.5,88.1 L771.9,87.6 L773.3,87.0 L774.7,86.5 L776.2,86.0 L777.6,85.5 L779.0,85.0 L780.5,84.6 L781.9,84.2 L783.3,83.7 L784.8,83.3 L786.3,83.0 L787.7,82.6 L789.2,82.3 L790.6,81.9 L792.1,81.6 L793.6,81.3 L795.1,81.0 L796.5,80.7 L798.0,80.4 L799.5,80.2 L801.0,79.9 L802.5,79.7 L804.0,79.4 L805.4,79.2 L806.9,79.0 L808.4,78.8 L809.9,78.6 L811.4,78.4 L812.9,78.2 L814.4,78.0 L815.9,77.8 L817.4,77.6 L818.9,77.5 L820.4,77.3 L821.9,77.1 L823.4,77.0 L824.9,76.8 L826.4,76.7 L827.9,76.6 L829.4,76.4 L830.9,76.3 L832.4,76.2 L833.9,76.0 L835.4,75.9 L836.9,75.8 L838.4,75.7 L839.9,75.6 L841.4,75.5 L842.9,75.4 L844.4,75.3 L845.9,75.2 L847.4,75.1 L848.9,75.0 L850.4,74.9 L851.9,74.8 L853.4,74.8 L854.9,74.7 L856.4,74.6 L857.9,74.5 L859.4,74.4 L860.9,74.4 L862.4,74.3 L863.9,74.2 L865.4,74.2 L866.9,74.1 L868.4,74.0 L869.9,74.0 L871.4,73.9 L872.9,73.8 L874.4,73.8 L875.9,73.7 L877.4,73.7 L878.9,73.6 L880.4,73.6 L881.9,73.5 L883.4,73.5 L884.9,73.4 L886.4,73.4 L888.0,73.3 L889.5,73.3 L891.0,73.2 L892.5,73.2 L894.0,73.1 L895.5,73.1 L897.0,73.1 L898.5,73.0 L900.0,73.0 L901.5,72.9 L903.0,72.9 L904.5,72.9 L906.0,72.8 L907.5,72.8 L909.0,72.8 L910.5,72.7 L912.0,72.7 L913.5,72.7 L915.0,72.6 L916.5,72.6 L918.0,72.6 L919.5,72.5 L921.0,72.5 L922.6,72.5 L924.1,72.4 L925.6,72.4 L927.1,72.4 L928.6,72.4 L930.1,72.3 L931.6,72.3 L933.1,72.3 L934.6,72.3 L936.1,72.2 L937.6,72.2 L939.1,72.2 L940.6,72.2 L942.1,72.1 L943.6,72.1 L945.1,72.1 L946.6,72.1 L948.1,72.1 L949.6,72.0 L951.1,72.0 L952.6,72.0 L954.2,72.0 L955.7,72.0 L957.2,71.9 L958.7,71.9 L960.2,71.9 L961.7,71.9 L963.2,71.9 L964.7,71.9 L966.2,71.8 L967.7,71.8 L969.2,71.8 L970.7,71.8 L972.2,71.8 L973.7,71.8 L975.2,71.7 L976.7,71.7 L978.2,71.7 L979.7,71.7 L981.2,71.7 L982.7,71.7 L984.2,71.7 L985.8,71.6 L987.3,71.6 L988.8,71.6 L990.3,71.6 L991.8,71.6 L993.3,71.6 L994.8,71.6 L996.3,71.6 L997.8,71.5 L999.3,71.5 L1000.8,71.5 L1002.3,71.5 L1003.8,71.5 L1005.3,71.5 L1006.8,71.5 L1008.3,71.5 L1009.8,71.4 L1011.3,71.4 L1012.8,71.4 L1014.3,71.4 L1015.8,71.4 L1017.4,71.4 L1018.9,71.4 L1020.4,71.4 L1021.9,71.4 L1023.4,71.4 L1024.9,71.4 L1026.4,71.3 L1027.9,71.3 L1029.4,71.3 L1030.9,71.3 L1032.4,71.3 L1033.9,71.3 L1035.4,71.3 L1036.9,71.3 L1038.4,71.3 L1039.9,71.3 L1041.4,71.3 L1042.9,71.3 L1044.4,71.2 L1045.9,71.2 L1047.4,71.2 L1049.0,71.2 L1050.5,71.2 L1052.0,71.2 L1053.5,71.2 L1055.0,71.2 L1056.5,71.2 L1058.0,71.2 L1059.5,71.2 L1061.0,71.2 L1062.5,71.2 L1064.0,71.2 L1065.5,71.1 L1067.0,71.1 L1068.5,71.1 L1070.0,71.1 L1071.5,71.1 L1073.0,71.1 L1074.5,71.1 L1076.0,71.1 L1077.5,71.1 L1079.1,71.1 L1080.6,71.1 L1082.1,71.1 L1083.6,71.1 L1085.1,71.1 L1086.6,71.1 L1088.1,71.1 L1089.6,71.1 L1091.1,71.1 L1092.6,71.0 L1094.1,71.0 L1095.6,71.0 L1097.1,71.0 L1098.6,71.0 L1100.1,71.0 L1101.6,71.0 L1103.1,71.0 L1104.6,71.0 L1106.1,71.0 L1107.6,71.0 L1109.1,71.0 L1110.7,71.0 L1112.2,71.0 L1113.7,71.0 L1115.2,71.0 L1116.7,71.0 L1118.2,71.0 L1119.7,71.0 L1121.2,71.0 L1122.7,71.0 L1124.2,71.0 L1125.7,70.9 L1127.2,70.9 L1128.7,70.9 L1130.2,70.9 L1131.7,70.9 L1133.2,70.9 L1134.7,70.9 L1136.2,70.9 L1137.7,70.9 L1139.2,70.9 L1140.7,70.9 L1142.3,70.9 L1143.8,70.9 L1145.3,70.9 L1146.8,70.9 L1148.3,70.9 L1149.8,70.9 L1151.3,70.9 L1152.8,70.9 L1154.3,70.9 L1155.8,70.9 L1157.3,70.9 L1158.8,70.9 L1160.3,70.9 L1161.8,70.9 L1163.3,70.9 L1164.8,70.9 L1166.3,70.9 L1167.8,70.9 L1169.3,70.9 L1170.8,70.9 L1172.4,70.8 L1173.9,70.8 L1175.4,70.8 L1176.9,70.8 L1178.4,70.8 L1179.9,70.8 L1181.4,70.8 L1182.9,70.8 L1184.4,70.8 L1185.9,70.8 L1187.4,70.8 L1188.9,70.8 L1190.4,70.8 L1191.9,70.8 L1193.4,70.8 L1194.9,70.8 L1196.4,70.8 L1186.6,70.8" class="cv" stroke="#4DAF4A"/>
</g>
<rect x="685.4" y="53.4" width="491.2" height="393.4" class="bd"/>
<line x1="1023.7" y1="341.3" x2="1049.5" y2="341.3" stroke="#E41A1C" stroke-width="4.6"/>
<text x="1056.8" y="351.0" class="lg">Males</text>
<line x1="1023.7" y1="373.8" x2="1049.5" y2="373.8" stroke="#377EB8" stroke-width="4.6"/>
<text x="1056.8" y="383.5" class="lg">Females</text>
<line x1="1023.7" y1="406.3" x2="1049.5" y2="406.3" stroke="#4DAF4A" stroke-width="4.6"/>
<text x="1056.8" y="416.0" class="lg">Children</text>
<text x="1532.2" y="38.1" class="ti">Cu</text>
<text class="yl" transform="translate(1213.55,249.6) rotate(-90)">Cumulative probability</text>
<line x1="1275.7" y1="429.3" x2="1278.3" y2="429.3" class="tk"/>
<text x="1274.7" y="439.6" class="yt">0.00</text>
<line x1="1275.7" y1="339.6" x2="1278.3" y2="339.6" class="tk"/>
<text x="1274.7" y="349.9" class="yt">0.25</text>
<line x1="1275.7" y1="249.9" x2="1278.3" y2="249.9" class="tk"/>
<text x="1274.7" y="260.2" class="yt">0.50</text>
<line x1="1275.7" y1="160.2" x2="1278.3" y2="160.2" class="tk"/>
<text x="1274.7" y="170.5" class="yt">0.75</text>
<line x1="1275.7" y1="70.5" x2="1278.3" y2="70.5" class="tk"/>
<text x="1274.7" y="80.8" class="yt">1.00</text>
<line x1="1299.4" y1="446.8" x2="1299.4" y2="449.4" class="tk"/>
<text x="1299.0" y="470.3" class="xt">0e+00</text>
<line x1="1444.2" y1="446.8" x2="1444.2" y2="449.4" class="tk"/>
<text x="1443.8" y="470.3" class="xt">1e-04</text>
<line x1="1588.6" y1="446.8" x2="1588.6" y2="449.4" class="tk"/>
<text x="1588.2" y="470.3" class="xt">2e-04</text>
<line x1="1733.1" y1="446.8" x2="1733.1" y2="449.4" class="tk"/>
<text x="1732.7" y="470.3" class="xt">3e-04</text>
<g clip-path="url(#cp2)">
<path d="M1268.3,429.3 L1303.0,429.3 L1303.0,427.8 L1303.1,426.3 L1303.1,424.8 L1303.2,423.3 L1303.2,421.8 L1303.3,420.3 L1303.3,418.8 L1303.4,417.3 L1303.4,415.8 L1303.5,414.3 L1303.5,412.8 L1303.5,411.3 L1303.6,409.8 L1303.6,408.3 L1303.7,406.8 L1303.7,405.3 L1303.8,403.7 L1303.8,402.2 L1303.9,400.7 L1303.9,399.2 L1304.0,397.7 L1304.0,396.2 L1304.0,394.7 L1304.1,393.2 L1304.1,391.7 L1304.2,390.2 L1304.3,388.7 L1304.3,387.2 L1304.4,385.7 L1304.4,384.2 L1304.5,382.7 L1304.5,381.2 L1304.6,379.7 L1304.6,378.2 L1304.7,376.7 L1304.8,375.2 L1304.8,373.7 L1304.9,372.2 L1304.9,370.7 L1305.0,369.2 L1305.1,367.7 L1305.1,366.2 L1305.2,364.7 L1305.3,363.2 L1305.3,361.7 L1305.4,360.2 L1305.5,358.7 L1305.5,357.2 L1305.6,355.6 L1305.7,354.1 L1305.7,352.6 L1305.8,351.1 L1305.9,349.6 L1306.0,348.1 L1306.0,346.6 L1306.1,345.1 L1306.2,343.6 L1306.3,342.1 L1306.4,340.6 L1306.4,339.1 L1306.5,337.6 L1306.6,336.1 L1306.7,334.6 L1306.8,333.1 L1306.9,331.6 L1307.0,330.1 L1307.1,328.6 L1307.2,327.1 L1307.3,325.6 L1307.4,324.1 L1307.5,322.6 L1307.6,321.1 L1307.7,319.6 L1307.8,318.1 L1307.9,316.6 L1308.0,315.1 L1308.1,313.6 L1308.2,312.1 L1308.3,310.6 L1308.4,309.1 L1308.5,307.6 L1308.7,306.1 L1308.8,304.6 L1308.9,303.1 L1309.0,301.6 L1309.1,300.1 L1309.3,298.6 L1309.4,297.1 L1309.5,295.6 L1309.7,294.1 L1309.8,292.6 L1309.9,291.1 L1310.1,289.6 L1310.2,288.1 L1310.4,286.6 L1310.5,285.1 L1310.7,283.6 L1310.8,282.1 L1311.0,280.6 L1311.1,279.1 L1311.3,277.7 L1311.5,276.2 L1311.6,274.7 L1311.8,273.2 L1312.0,271.7 L1312.2,270.2 L1312.3,268.7 L1312.5,267.2 L1312.7,265.7 L1312.9,264.2 L1313.1,262.7 L1313.3,261.2 L1313.5,259.7 L1313.7,258.2 L1313.9,256.8 L1314.1,255.3 L1314.3,253.8 L1314.5,252.3 L1314.8,250.8 L1315.0,249.3 L1315.2,247.8 L1315.5,246.3 L1315.7,244.9 L1315.9,243.4 L1316.2,241.9 L1316.4,240.4 L1316.7,238.9 L1317.0,237.4 L1317.2,236.0 L1317.5,234.5 L1317.8,233.0 L1318.1,231.5 L1318.4,230.1 L1318.7,228.6 L1319.0,227.1 L1319.3,225.6 L1319.6,224.2 L1319.9,222.7 L1320.2,221.2 L1320.6,219.8 L1320.9,218.3 L1321.3,216.8 L1321.6,215.4 L1322.0,213.9 L1322.4,212.5 L1322.7,211.0 L1323.1,209.5 L1323.5,208.1 L1323.9,206.6 L1324.3,205.2 L1324.7,203.8 L1325.2,202.3 L1325.6,200.9 L1326.1,199.4 L1326.5,198.0 L1327.0,196.6 L1327.5,195.1 L1328.0,193.7 L1328.5,192.3 L1329.0,190.9 L1329.5,189.5 L1330.0,188.1 L1330.6,186.7 L1331.1,185.3 L1331.7,183.9 L1332.3,182.5 L1332.9,181.1 L1333.5,179.7 L1334.1,178.4 L1334.7,177.0 L1335.4,175.6 L1336.0,174.3 L1336.7,172.9 L1337.4,171.6 L1338.1,170.3 L1338.8,168.9 L1339.5,167.6 L1340.3,166.3 L1341.0,165.0 L1341.8,163.7 L1342.6,162.5 L1343.4,161.2 L1344.2,159.9 L1345.1,158.7 L1345.9,157.5 L1346.8,156.2 L1347.7,155.0 L1348.6,153.8 L1349.5,152.6 L1350.5,151.4 L1351.4,150.3 L1352.4,149.1 L1353.4,148.0 L1354.4,146.9 L1355.4,145.8 L1356.4,144.7 L1357.5,143.6 L1358.5,142.5 L1359.6,141.5 L1360.7,140.4 L1361.8,139.4 L1362.9,138.4 L1364.0,137.4 L1365.2,136.5 L1366.4,135.5 L1367.5,134.6 L1368.7,133.6 L1369.9,132.7 L1371.1,131.8 L1372.3,130.9 L1373.6,130.1 L1374.8,129.2 L1376.1,128.4 L1377.3,127.6 L1378.6,126.8 L1379.9,126.0 L1381.2,125.2 L1382.5,124.5 L1383.8,123.7 L1385.1,123.0 L1386.4,122.3 L1387.8,121.6 L1389.1,120.9 L1390.4,120.2 L1391.8,119.6 L1393.1,118.9 L1394.5,118.3 L1395.9,117.7 L1397.3,117.0 L1398.6,116.4 L1400.0,115.9 L1401.4,115.3 L1402.8,114.7 L1404.2,114.2 L1405.6,113.6 L1407.0,113.1 L1408.4,112.6 L1409.8,112.1 L1411.3,111.6 L1412.7,111.1 L1414.1,110.6 L1415.5,110.1 L1417.0,109.6 L1418.4,109.2 L1419.8,108.7 L1421.3,108.3 L1422.7,107.9 L1424.1,107.5 L1425.6,107.0 L1427.0,106.6 L1428.5,106.2 L1429.9,105.8 L1431.4,105.5 L1432.9,105.1 L1434.3,104.7 L1435.8,104.3 L1437.2,104.0 L1438.7,103.6 L1440.2,103.3 L1441.6,102.9 L1443.1,102.6 L1444.6,102.3 L1446.0,102.0 L1447.5,101.6 L1449.0,101.3 L1450.4,101.0 L1451.9,100.7 L1453.4,100.4 L1454.9,100.1 L1456.3,99.8 L1457.8,99.6 L1459.3,99.3 L1460.8,99.0 L1462.3,98.7 L1463.7,98.5 L1465.2,98.2 L1466.7,98.0 L1468.2,97.7 L1469.7,97.5 L1471.2,97.2 L1472.6,97.0 L1474.1,96.7 L1475.6,96.5 L1477.1,96.3 L1478.6,96.0 L1480.1,95.8 L1481.6,95.6 L1483.0,95.4 L1484.5,95.2 L1486.0,94.9 L1487.5,94.7 L1489.0,94.5 L1490.5,94.3 L1492.0,94.1 L1493.5,93.9 L1495.0,93.7 L1496.5,93.6 L1497.9,93.4 L1499.4,93.2 L1500.9,93.0 L1502.4,92.8 L1503.9,92.6 L1505.4,92.5 L1506.9,92.3 L1508.4,92.1 L1509.9,91.9 L1511.4,91.8 L1512.9,91.6 L1514.4,91.5 L1515.9,91.3 L1517.4,91.1 L1518.9,91.0 L1520.4,90.8 L1521.9,90.7 L1523.4,90.5 L1524.9,90.4 L1526.4,90.2 L1527.9,90.1 L1529.3,89.9 L1530.8,89.8 L1532.3,89.7 L1533.8,89.5 L1535.3,89.4 L1536.8,89.2 L1538.3,89.1 L1539.8,89.0 L1541.3,88.8 L1542.8,88.7 L1544.3,88.6 L1545.8,88.5 L1547.3,88.3 L1548.8,88.2 L1550.3,88.1 L1551.8,88.0 L1553.3,87.9 L1554.8,87.7 L1556.3,87.6 L1557.8,87.5 L1559.3,87.4 L1560.8,87.3 L1562.3,87.2 L1563.8,87.1 L1565.3,87.0 L1566.8,86.9 L1568.3,86.7 L1569.8,86.6 L1571.3,86.5 L1572.8,86.4 L1574.3,86.3 L1575.8,86.2 L1577.3,86.1 L1578.8,86.0 L1580.3,85.9 L1581.8,85.8 L1583.3,85.7 L1584.8,85.7 L1586.3,85.6 L1587.8,85.5 L1589.3,85.4 L1590.8,85.3 L1592.3,85.2 L1593.8,85.1 L1595.3,85.0 L1596.8,84.9 L1598.3,84.8 L1599.8,84.8 L1601.4,84.7 L1602.9,84.6 L1604.4,84.5 L1605.9,84.4 L1607.4,84.3 L1608.9,84.3 L1610.4,84.2 L1611.9,84.1 L1613.4,84.0 L1614.9,84.0 L1616.4,83.9 L1617.9,83.8 L1619.4,83.7 L1620.9,83.6 L1622.4,83.6 L1623.9,83.5 L1625.4,83.4 L1626.9,83.4 L1628.4,83.3 L1629.9,83.2 L1631.4,83.1 L1632.9,83.1 L1634.4,83.0 L1635.9,82.9 L1637.4,82.9 L1638.9,82.8 L1640.4,82.7 L1641.9,82.7 L1643.4,82.6 L1644.9,82.5 L1646.4,82.5 L1647.9,82.4 L1649.4,82.4 L1650.9,82.3 L1652.4,82.2 L1653.9,82.2 L1655.4,82.1 L1656.9,82.0 L1658.4,82.0 L1659.9,81.9 L1661.5,81.9 L1663.0,81.8 L1664.5,81.8 L1666.0,81.7 L1667.5,81.6 L1669.0,81.6 L1670.5,81.5 L1672.0,81.5 L1673.5,81.4 L1675.0,81.4 L1676.5,81.3 L1678.0,81.3 L1679.5,81.2 L1681.0,81.1 L1682.5,81.1 L1684.0,81.0 L1685.5,81.0 L1687.0,80.9 L1688.5,80.9 L1690.0,80.8 L1691.5,80.8 L1693.0,80.7 L1694.5,80.7 L1696.0,80.6 L1697.5,80.6 L1699.0,80.5 L1700.5,80.5 L1702.0,80.5 L1703.5,80.4 L1705.0,80.4 L1706.5,80.3 L1708.1,80.3 L1709.6,80.2 L1711.1,80.2 L1712.6,80.1 L1714.1,80.1 L1715.6,80.0 L1717.1,80.0 L1718.6,80.0 L1720.1,79.9 L1721.6,79.9 L1723.1,79.8 L1724.6,79.8 L1726.1,79.7 L1727.6,79.7 L1729.1,79.7 L1730.6,79.6 L1732.1,79.6 L1733.6,79.5 L1735.1,79.5 L1736.6,79.5 L1738.1,79.4 L1739.6,79.4 L1741.1,79.3 L1742.6,79.3 L1744.1,79.3 L1745.6,79.2 L1747.1,79.2 L1748.6,79.2 L1750.2,79.1 L1751.7,79.1 L1753.2,79.0 L1754.7,79.0 L1756.2,79.0 L1757.7,78.9 L1759.2,78.9 L1760.7,78.9 L1762.2,78.8 L1763.7,78.8 L1765.2,78.8 L1766.7,78.7 L1768.2,78.7 L1769.7,78.7 L1771.2,78.6 L1772.7,78.6 L1774.2,78.5 L1775.7,78.5 L1777.2,78.5 L1778.7,78.5 L1780.2,78.4 L1781.7,78.4 L1783.2,78.4 L1784.7,78.3 L1786.2,78.3 L1787.7,78.3 L1778.8,78.3" class="cv" stroke="#E41A1C"/>
<path d="M1268.3,429.3 L1304.2,429.3 L1304.3,427.8 L1304.3,426.3 L1304.4,424.8 L1304.4,423.3 L1304.5,421.8 L1304.5,420.3 L1304.6,418.8 L1304.6,417.3 L1304.7,415.8 L1304.7,414.3 L1304.8,412.8 L1304.8,411.3 L1304.8,409.8 L1304.9,408.3 L1304.9,406.8 L1305.0,405.3 L1305.0,403.8 L1305.1,402.3 L1305.1,400.8 L1305.2,399.3 L1305.2,397.7 L1305.3,396.2 L1305.3,394.7 L1305.4,393.2 L1305.4,391.7 L1305.5,390.2 L1305.5,388.7 L1305.6,387.2 L1305.7,385.7 L1305.7,384.2 L1305.8,382.7 L1305.8,381.2 L1305.9,379.7 L1305.9,378.2 L1306.0,376.7 L1306.1,375.2 L1306.1,373.7 L1306.2,372.2 L1306.3,370.7 L1306.3,369.2 L1306.4,367.7 L1306.5,366.2 L1306.5,364.7 L1306.6,363.2 L1306.7,361.7 L1306.7,360.2 L1306.8,358.7 L1306.9,357.2 L1306.9,355.7 L1307.0,354.2 L1307.1,352.7 L1307.2,351.2 L1307.2,349.7 L1307.3,348.2 L1307.4,346.7 L1307.5,345.2 L1307.6,343.7 L1307.6,342.2 L1307.7,340.7 L1307.8,339.2 L1307.9,337.7 L1308.0,336.2 L1308.1,334.7 L1308.2,333.2 L1308.3,331.7 L1308.4,330.2 L1308.5,328.7 L1308.6,327.2 L1308.7,325.7 L1308.8,324.2 L1308.9,322.7 L1309.0,321.2 L1309.1,319.7 L1309.2,318.2 L1309.3,316.7 L1309.4,315.2 L1309.5,313.7 L1309.6,312.2 L1309.7,310.7 L1309.8,309.2 L1310.0,307.7 L1310.1,306.2 L1310.2,304.7 L1310.3,303.2 L1310.5,301.7 L1310.6,300.2 L1310.7,298.7 L1310.8,297.2 L1311.0,295.7 L1311.1,294.2 L1311.3,292.7 L1311.4,291.2 L1311.5,289.7 L1311.7,288.2 L1311.8,286.7 L1312.0,285.2 L1312.1,283.7 L1312.3,282.2 L1312.5,280.7 L1312.6,279.2 L1312.8,277.7 L1312.9,276.2 L1313.1,274.7 L1313.3,273.3 L1313.5,271.8 L1313.6,270.3 L1313.8,268.8 L1314.0,267.3 L1314.2,265.8 L1314.4,264.3 L1314.6,262.8 L1314.8,261.3 L1315.0,259.8 L1315.2,258.3 L1315.4,256.9 L1315.6,255.4 L1315.8,253.9 L1316.0,252.4 L1316.3,250.9 L1316.5,249.4 L1316.7,247.9 L1317.0,246.4 L1317.2,245.0 L1317.5,243.5 L1317.7,242.0 L1318.0,240.5 L1318.2,239.0 L1318.5,237.6 L1318.8,236.1 L1319.0,234.6 L1319.3,233.1 L1319.6,231.6 L1319.9,230.2 L1320.2,228.7 L1320.5,227.2 L1320.8,225.8 L1321.1,224.3 L1321.5,222.8 L1321.8,221.3 L1322.1,219.9 L1322.5,218.4 L1322.8,217.0 L1323.2,215.5 L1323.5,214.0 L1323.9,212.6 L1324.3,211.1 L1324.7,209.7 L1325.1,208.2 L1325.5,206.8 L1325.9,205.3 L1326.3,203.9 L1326.7,202.4 L1327.2,201.0 L1327.6,199.6 L1328.1,198.1 L1328.5,196.7 L1329.0,195.3 L1329.5,193.9 L1330.0,192.4 L1330.5,191.0 L1331.0,189.6 L1331.6,188.2 L1332.1,186.8 L1332.7,185.4 L1333.2,184.0 L1333.8,182.6 L1334.4,181.2 L1335.0,179.9 L1335.6,178.5 L1336.2,177.1 L1336.9,175.8 L1337.5,174.4 L1338.2,173.1 L1338.9,171.7 L1339.6,170.4 L1340.3,169.1 L1341.0,167.8 L1341.8,166.5 L1342.5,165.2 L1343.3,163.9 L1344.1,162.6 L1344.9,161.3 L1345.7,160.1 L1346.6,158.8 L1347.4,157.6 L1348.3,156.3 L1349.2,155.1 L1350.1,153.9 L1351.0,152.7 L1351.9,151.5 L1352.9,150.4 L1353.8,149.2 L1354.8,148.1 L1355.8,147.0 L1356.8,145.8 L1357.8,144.7 L1358.9,143.7 L1359.9,142.6 L1361.0,141.5 L1362.1,140.5 L1363.2,139.5 L1364.3,138.5 L1365.4,137.5 L1366.6,136.5 L1367.7,135.5 L1368.9,134.6 L1370.1,133.6 L1371.3,132.7 L1372.5,131.8 L1373.7,130.9 L1374.9,130.1 L1376.1,129.2 L1377.4,128.4 L1378.6,127.5 L1379.9,126.7 L1381.2,125.9 L1382.5,125.2 L1383.8,124.4 L1385.1,123.7 L1386.4,122.9 L1387.7,122.2 L1389.0,121.5 L1390.4,120.8 L1391.7,120.1 L1393.1,119.5 L1394.4,118.8 L1395.8,118.2 L1397.1,117.5 L1398.5,116.9 L1399.9,116.3 L1401.3,115.7 L1402.6,115.1 L1404.0,114.6 L1405.4,114.0 L1406.8,113.5 L1408.2,112.9 L1409.7,112.4 L1411.1,111.9 L1412.5,111.4 L1413.9,110.9 L1415.3,110.4 L1416.7,109.9 L1418.2,109.4 L1419.6,109.0 L1421.0,108.5 L1422.5,108.1 L1423.9,107.7 L1425.4,107.2 L1426.8,106.8 L1428.2,106.4 L1429.7,106.0 L1431.1,105.6 L1432.6,105.2 L1434.1,104.8 L1435.5,104.5 L1437.0,104.1 L1438.4,103.7 L1439.9,103.4 L1441.4,103.0 L1442.8,102.7 L1444.3,102.4 L1445.7,102.0 L1447.2,101.7 L1448.7,101.4 L1450.2,101.1 L1451.6,100.8 L1453.1,100.4 L1454.6,100.1 L1456.0,99.9 L1457.5,99.6 L1459.0,99.3 L1460.5,99.0 L1462.0,98.7 L1463.4,98.5 L1464.9,98.2 L1466.4,97.9 L1467.9,97.7 L1469.4,97.4 L1470.8,97.2 L1472.3,96.9 L1473.8,96.7 L1475.3,96.4 L1476.8,96.2 L1478.3,96.0 L1479.7,95.7 L1481.2,95.5 L1482.7,95.3 L1484.2,95.1 L1485.7,94.9 L1487.2,94.6 L1488.7,94.4 L1490.2,94.2 L1491.7,94.0 L1493.1,93.8 L1494.6,93.6 L1496.1,93.4 L1497.6,93.2 L1499.1,93.1 L1500.6,92.9 L1502.1,92.7 L1503.6,92.5 L1505.1,92.3 L1506.6,92.2 L1508.1,92.0 L1509.6,91.8 L1511.1,91.6 L1512.5,91.5 L1514.0,91.3 L1515.5,91.1 L1517.0,91.0 L1518.5,90.8 L1520.0,90.7 L1521.5,90.5 L1523.0,90.4 L1524.5,90.2 L1526.0,90.1 L1527.5,89.9 L1529.0,89.8 L1530.5,89.6 L1532.0,89.5 L1533.5,89.3 L1535.0,89.2 L1536.5,89.1 L1538.0,88.9 L1539.5,88.8 L1541.0,88.7 L1542.5,88.5 L1544.0,88.4 L1545.5,88.3 L1547.0,88.2 L1548.5,88.0 L1550.0,87.9 L1551.5,87.8 L1553.0,87.7 L1554.5,87.5 L1556.0,87.4 L1557.5,87.3 L1559.0,87.2 L1560.5,87.1 L1562.0,87.0 L1563.5,86.9 L1565.0,86.8 L1566.5,86.6 L1568.0,86.5 L1569.5,86.4 L1571.0,86.3 L1572.5,86.2 L1574.0,86.1 L1575.5,86.0 L1577.0,85.9 L1578.5,85.8 L1580.0,85.7 L1581.5,85.6 L1583.0,85.5 L1584.5,85.4 L1586.0,85.3 L1587.5,85.3 L1589.0,85.2 L1590.5,85.1 L1592.0,85.0 L1593.5,84.9 L1595.0,84.8 L1596.5,84.7 L1598.0,84.6 L1599.5,84.5 L1601.0,84.5 L1602.5,84.4 L1604.0,84.3 L1605.5,84.2 L1607.0,84.1 L1608.5,84.0 L1610.0,84.0 L1611.5,83.9 L1613.0,83.8 L1614.5,83.7 L1616.0,83.6 L1617.5,83.6 L1619.0,83.5 L1620.5,83.4 L1622.0,83.3 L1623.5,83.3 L1625.0,83.2 L1626.5,83.1 L1628.0,83.1 L1629.5,83.0 L1631.0,82.9 L1632.5,82.8 L1634.0,82.8 L1635.5,82.7 L1637.0,82.6 L1638.5,82.6 L1640.0,82.5 L1641.5,82.4 L1643.0,82.4 L1644.5,82.3 L1646.0,82.2 L1647.5,82.2 L1649.0,82.1 L1650.5,82.1 L1652.0,82.0 L1653.5,81.9 L1655.0,81.9 L1656.5,81.8 L1658.0,81.8 L1659.5,81.7 L1661.0,81.6 L1662.5,81.6 L1664.0,81.5 L1665.5,81.5 L1667.0,81.4 L1668.5,81.4 L1670.1,81.3 L1671.6,81.2 L1673.1,81.2 L1674.6,81.1 L1676.1,81.1 L1677.6,81.0 L1679.1,81.0 L1680.6,80.9 L1682.1,80.9 L1683.6,80.8 L1685.1,80.8 L1686.6,80.7 L1688.1,80.7 L1689.6,80.6 L1691.1,80.6 L1692.6,80.5 L1694.1,80.5 L1695.6,80.4 L1697.1,80.4 L1698.6,80.3 L1700.1,80.3 L1701.6,80.2 L1703.1,80.2 L1704.6,80.1 L1706.1,80.1 L1707.6,80.0 L1709.1,80.0 L1710.6,79.9 L1712.1,79.9 L1713.6,79.9 L1715.1,79.8 L1716.6,79.8 L1718.1,79.7 L1719.6,79.7 L1721.1,79.6 L1722.6,79.6 L1724.1,79.6 L1725.7,79.5 L1727.2,79.5 L1728.7,79.4 L1730.2,79.4 L1731.7,79.4 L1733.2,79.3 L1734.7,79.3 L1736.2,79.2 L1737.7,79.2 L1739.2,79.2 L1740.7,79.1 L1742.2,79.1 L1743.7,79.0 L1745.2,79.0 L1746.7,79.0 L1748.2,78.9 L1749.7,78.9 L1751.2,78.9 L1752.7,78.8 L1754.2,78.8 L1755.7,78.7 L1757.2,78.7 L1758.7,78.7 L1760.2,78.6 L1761.7,78.6 L1763.2,78.6 L1764.7,78.5 L1766.2,78.5 L1767.7,78.5 L1769.2,78.4 L1770.7,78.4 L1772.2,78.4 L1773.7,78.3 L1775.3,78.3 L1776.8,78.3 L1778.3,78.2 L1779.8,78.2 L1781.3,78.2 L1782.8,78.1 L1784.3,78.1 L1785.8,78.1 L1787.3,78.0 L1778.8,78.0" class="cv" stroke="#377EB8"/>
<path d="M1268.3,429.3 L1301.0,429.3 L1301.1,427.8 L1301.1,426.3 L1301.2,424.8 L1301.2,423.3 L1301.2,421.8 L1301.2,420.3 L1301.2,418.8 L1301.2,417.3 L1301.3,415.8 L1301.3,414.3 L1301.3,412.8 L1301.3,411.3 L1301.3,409.8 L1301.3,408.3 L1301.3,406.8 L1301.4,405.3 L1301.4,403.8 L1301.4,402.3 L1301.4,400.8 L1301.4,399.3 L1301.4,397.8 L1301.4,396.3 L1301.4,394.7 L1301.4,393.2 L1301.5,391.7 L1301.5,390.2 L1301.5,388.7 L1301.5,387.2 L1301.5,385.7 L1301.5,384.2 L1301.5,382.7 L1301.5,381.2 L1301.6,379.7 L1301.6,378.2 L1301.6,376.7 L1301.6,375.2 L1301.6,373.7 L1301.6,372.2 L1301.6,370.7 L1301.6,369.2 L1301.6,367.7 L1301.7,366.2 L1301.7,364.7 L1301.7,363.2 L1301.7,361.7 L1301.7,360.2 L1301.7,358.7 L1301.7,357.2 L1301.7,355.7 L1301.7,354.2 L1301.8,352.7 L1301.8,351.2 L1301.8,349.6 L1301.8,348.1 L1301.8,346.6 L1301.8,345.1 L1301.8,343.6 L1301.8,342.1 L1301.9,340.6 L1301.9,339.1 L1301.9,337.6 L1301.9,336.1 L1301.9,334.6 L1301.9,333.1 L1301.9,331.6 L1301.9,330.1 L1302.0,328.6 L1302.0,327.1 L1302.0,325.6 L1302.0,324.1 L1302.0,322.6 L1302.0,321.1 L1302.0,319.6 L1302.0,318.1 L1302.1,316.6 L1302.1,315.1 L1302.1,313.6 L1302.1,312.1 L1302.1,310.6 L1302.1,309.1 L1302.1,307.6 L1302.1,306.1 L1302.2,304.6 L1302.2,303.0 L1302.2,301.5 L1302.2,300.0 L1302.2,298.5 L1302.2,297.0 L1302.2,295.5 L1302.3,294.0 L1302.3,292.5 L1302.3,291.0 L1302.3,289.5 L1302.3,288.0 L1302.3,286.5 L1302.4,285.0 L1302.4,283.5 L1302.4,282.0 L1302.4,280.5 L1302.4,279.0 L1302.4,277.5 L1302.5,276.0 L1302.5,274.5 L1302.5,273.0 L1302.5,271.5 L1302.5,270.0 L1302.5,268.5 L1302.6,267.0 L1302.6,265.5 L1302.6,264.0 L1302.6,262.5 L1302.6,261.0 L1302.6,259.5 L1302.7,257.9 L1302.7,256.4 L1302.7,254.9 L1302.7,253.4 L1302.7,251.9 L1302.8,250.4 L1302.8,248.9 L1302.8,247.4 L1302.8,245.9 L1302.8,244.4 L1302.9,242.9 L1302.9,241.4 L1302.9,239.9 L1302.9,238.4 L1302.9,236.9 L1303.0,235.4 L1303.0,233.9 L1303.0,232.4 L1303.0,230.9 L1303.1,229.4 L1303.1,227.9 L1303.1,226.4 L1303.1,224.9 L1303.2,223.4 L1303.2,221.9 L1303.2,220.4 L1303.2,218.9 L1303.3,217.4 L1303.3,215.9 L1303.3,214.4 L1303.3,212.9 L1303.4,211.4 L1303.4,209.8 L1303.4,208.3 L1303.4,206.8 L1303.5,205.3 L1303.5,203.8 L1303.5,202.3 L1303.6,200.8 L1303.6,199.3 L1303.6,197.8 L1303.7,196.3 L1303.7,194.8 L1303.7,193.3 L1303.8,191.8 L1303.8,190.3 L1303.8,188.8 L1303.9,187.3 L1303.9,185.8 L1303.9,184.3 L1304.0,182.8 L1304.0,181.3 L1304.0,179.8 L1304.1,178.3 L1304.1,176.8 L1304.2,175.3 L1304.2,173.8 L1304.2,172.3 L1304.3,170.8 L1304.3,169.3 L1304.4,167.8 L1304.4,166.3 L1304.5,164.8 L1304.5,163.3 L1304.6,161.8 L1304.6,160.3 L1304.7,158.8 L1304.7,157.2 L1304.8,155.7 L1304.8,154.2 L1304.9,152.7 L1304.9,151.2 L1305.0,149.7 L1305.1,148.2 L1305.1,146.7 L1305.2,145.2 L1305.3,143.7 L1305.3,142.2 L1305.4,140.7 L1305.5,139.2 L1305.5,137.7 L1305.6,136.2 L1305.7,134.7 L1305.8,133.2 L1305.9,131.7 L1305.9,130.2 L1306.0,128.7 L1306.1,127.2 L1306.2,125.7 L1306.3,124.2 L1306.4,122.7 L1306.5,121.2 L1306.6,119.7 L1306.8,118.2 L1306.9,116.7 L1307.0,115.2 L1307.1,113.7 L1307.3,112.2 L1307.4,110.7 L1307.6,109.2 L1307.7,107.7 L1307.9,106.2 L1308.1,104.8 L1308.3,103.3 L1308.5,101.8 L1308.7,100.3 L1308.9,98.8 L1309.2,97.3 L1309.4,95.8 L1309.7,94.4 L1310.0,92.9 L1310.4,91.4 L1310.7,90.0 L1311.1,88.5 L1311.6,87.1 L1312.1,85.7 L1312.6,84.3 L1313.2,82.9 L1313.9,81.5 L1314.7,80.2 L1315.5,79.0 L1316.5,77.9 L1317.6,76.8 L1318.7,75.9 L1320.0,75.1 L1321.3,74.4 L1322.7,73.8 L1324.1,73.3 L1325.6,72.9 L1327.0,72.5 L1328.5,72.3 L1330.0,72.0 L1331.5,71.8 L1333.0,71.7 L1334.5,71.5 L1336.0,71.4 L1337.5,71.3 L1339.0,71.2 L1340.5,71.1 L1342.0,71.1 L1343.5,71.0 L1345.0,70.9 L1346.5,70.9 L1348.0,70.9 L1349.5,70.8 L1351.0,70.8 L1352.5,70.8 L1354.0,70.7 L1355.5,70.7 L1357.0,70.7 L1358.5,70.7 L1360.0,70.7 L1361.5,70.7 L1363.0,70.6 L1364.5,70.6 L1366.0,70.6 L1367.5,70.6 L1369.0,70.6 L1370.6,70.6 L1372.1,70.6 L1373.6,70.6 L1375.1,70.6 L1376.6,70.6 L1378.1,70.6 L1379.6,70.6 L1381.1,70.6 L1382.6,70.6 L1384.1,70.6 L1385.6,70.5 L1387.1,70.5 L1388.6,70.5 L1390.1,70.5 L1391.6,70.5 L1393.1,70.5 L1394.6,70.5 L1396.1,70.5 L1397.6,70.5 L1399.1,70.5 L1400.6,70.5 L1402.1,70.5 L1403.6,70.5 L1405.1,70.5 L1406.6,70.5 L1408.1,70.5 L1409.6,70.5 L1411.1,70.5 L1412.6,70.5 L1414.1,70.5 L1415.7,70.5 L1417.2,70.5 L1418.7,70.5 L1420.2,70.5 L1421.7,70.5 L1423.2,70.5 L1424.7,70.5 L1426.2,70.5 L1427.7,70.5 L1429.2,70.5 L1430.7,70.5 L1432.2,70.5 L1433.7,70.5 L1435.2,70.5 L1436.7,70.5 L1438.2,70.5 L1439.7,70.5 L1441.2,70.5 L1442.7,70.5 L1444.2,70.5 L1445.7,70.5 L1447.2,70.5 L1448.7,70.5 L1450.2,70.5 L1451.7,70.5 L1453.2,70.5 L1454.7,70.5 L1456.2,70.5 L1457.7,70.5 L1459.2,70.5 L1460.8,70.5 L1462.3,70.5 L1463.8,70.5 L1465.3,70.5 L1466.8,70.5 L1468.3,70.5 L1469.8,70.5 L1471.3,70.5 L1472.8,70.5 L1474.3,70.5 L1475.8,70.5 L1477.3,70.5 L1478.8,70.5 L1480.3,70.5 L1481.8,70.5 L1483.3,70.5 L1484.8,70.5 L1486.3,70.5 L1487.8,70.5 L1489.3,70.5 L1490.8,70.5 L1492.3,70.5 L1493.8,70.5 L1495.3,70.5 L1496.8,70.5 L1498.3,70.5 L1499.8,70.5 L1501.3,70.5 L1502.8,70.5 L1504.3,70.5 L1505.9,70.5 L1507.4,70.5 L1508.9,70.5 L1510.4,70.5 L1511.9,70.5 L1513.4,70.5 L1514.9,70.5 L1516.4,70.5 L1517.9,70.5 L1519.4,70.5 L1520.9,70.5 L1522.4,70.5 L1523.9,70.5 L1525.4,70.5 L1526.9,70.5 L1528.4,70.5 L1529.9,70.5 L1531.4,70.5 L1532.9,70.5 L1534.4,70.5 L1535.9,70.5 L1537.4,70.5 L1538.9,70.5 L1540.4,70.5 L1541.9,70.5 L1543.4,70.5 L1544.9,70.5 L1546.4,70.5 L1547.9,70.5 L1549.4,70.5 L1551.0,70.5 L1552.5,70.5 L1554.0,70.5 L1555.5,70.5 L1557.0,70.5 L1558.5,70.5 L1560.0,70.5 L1561.5,70.5 L1563.0,70.5 L1564.5,70.5 L1566.0,70.5 L1567.5,70.5 L1569.0,70.5 L1570.5,70.5 L1572.0,70.5 L1573.5,70.5 L1575.0,70.5 L1576.5,70.5 L1578.0,70.5 L1579.5,70.5 L1581.0,70.5 L1582.5,70.5 L1584.0,70.5 L1585.5,70.5 L1587.0,70.5 L1588.5,70.5 L1590.0,70.5 L1591.5,70.5 L1593.0,70.5 L1594.5,70.5 L1596.1,70.5 L1597.6,70.5 L1599.1,70.5 L1600.6,70.5 L1602.1,70.5 L1603.6,70.5 L1605.1,70.5 L1606.6,70.5 L1608.1,70.5 L1609.6,70.5 L1611.1,70.5 L1612.6,70.5 L1614.1,70.5 L1615.6,70.5 L1617.1,70.5 L1618.6,70.5 L1620.1,70.5 L1621.6,70.5 L1623.1,70.5 L1624.6,70.5 L1626.1,70.5 L1627.6,70.5 L1629.1,70.5 L1630.6,70.5 L1632.1,70.5 L1633.6,70.5 L1635.1,70.5 L1636.6,70.5 L1638.1,70.5 L1639.6,70.5 L1641.2,70.5 L1642.7,70.5 L1644.2,70.5 L1645.7,70.5 L1647.2,70.5 L1648.7,70.5 L1650.2,70.5 L1651.7,70.5 L1653.2,70.5 L1654.7,70.5 L1656.2,70.5 L1657.7,70.5 L1659.2,70.5 L1660.7,70.5 L1662.2,70.5 L1663.7,70.5 L1665.2,70.5 L1666.7,70.5 L1668.2,70.5 L1669.7,70.5 L1671.2,70.5 L1672.7,70.5 L1674.2,70.5 L1675.7,70.5 L1677.2,70.5 L1678.7,70.5 L1680.2,70.5 L1681.7,70.5 L1683.2,70.5 L1684.7,70.5 L1686.3,70.5 L1687.8,70.5 L1689.3,70.5 L1690.8,70.5 L1692.3,70.5 L1693.8,70.5 L1695.3,70.5 L1696.8,70.5 L1698.3,70.5 L1699.8,70.5 L1701.3,70.5 L1702.8,70.5 L1704.3,70.5 L1705.8,70.5 L1707.3,70.5 L1708.8,70.5 L1710.3,70.5 L1711.8,70.5 L1713.3,70.5 L1714.8,70.5 L1716.3,70.5 L1717.8,70.5 L1719.3,70.5 L1720.8,70.5 L1722.3,70.5 L1723.8,70.5 L1725.3,70.5 L1726.8,70.5 L1728.3,70.5 L1729.8,70.5 L1731.4,70.5 L1732.9,70.5 L1734.4,70.5 L1735.9,70.5 L1737.4,70.5 L1738.9,70.5 L1740.4,70.5 L1741.9,70.5 L1743.4,70.5 L1744.9,70.5 L1746.4,70.5 L1747.9,70.5 L1749.4,70.5 L1750.9,70.5 L1752.4,70.5 L1753.9,70.5 L1755.4,70.5 L1756.9,70.5 L1758.4,70.5 L1759.9,70.5 L1761.4,70.5 L1762.9,70.5 L1764.4,70.5 L1765.9,70.5 L1767.4,70.5 L1768.9,70.5 L1770.4,70.5 L1771.9,70.5 L1773.4,70.5 L1774.9,70.5 L1776.5,70.5 L1778.0,70.5 L1779.5,70.5 L1781.0,70.5 L1782.5,70.5 L1784.0,70.5 L1785.5,70.5 L1787.0,70.5 L1788.5,70.5 L1778.8,70.5" class="cv" stroke="#4DAF4A"/>
</g>
<rect x="1278.3" y="53.4" width="490.5" height="393.4" class="bd"/>
<line x1="1615.9" y1="341.3" x2="1641.7" y2="341.3" stroke="#E41A1C" stroke-width="4.6"/>
<text x="1649.0" y="351.0" class="lg">Males</text>
<line x1="1615.9" y1="373.8" x2="1641.7" y2="373.8" stroke="#377EB8" stroke-width="4.6"/>
<text x="1649.0" y="383.5" class="lg">Females</text>
<line x1="1615.9" y1="406.3" x2="1641.7" y2="406.3" stroke="#4DAF4A" stroke-width="4.6"/>
<text x="1649.0" y="416.0" class="lg">Children</text>
<text x="322.3" y="528.5" class="ti">Pb</text>
<text class="yl" transform="translate(24.849999999999994,743.2) rotate(-90)">Cumulative probability</text>
<line x1="87.0" y1="923.2" x2="89.6" y2="923.2" class="tk"/>
<text x="86.0" y="933.5" class="yt">0.00</text>
<line x1="87.0" y1="833.5" x2="89.6" y2="833.5" class="tk"/>
<text x="86.0" y="843.8" class="yt">0.25</text>
<line x1="87.0" y1="743.8" x2="89.6" y2="743.8" class="tk"/>
<text x="86.0" y="754.0" class="yt">0.50</text>
<line x1="87.0" y1="654.0" x2="89.6" y2="654.0" class="tk"/>
<text x="86.0" y="664.3" class="yt">0.75</text>
<line x1="87.0" y1="564.3" x2="89.6" y2="564.3" class="tk"/>
<text x="86.0" y="574.6" class="yt">1.00</text>
<line x1="111.4" y1="940.3" x2="111.4" y2="942.9" class="tk"/>
<text x="111.0" y="963.8" class="xt">0e+00</text>
<line x1="255.5" y1="940.3" x2="255.5" y2="942.9" class="tk"/>
<text x="255.1" y="963.8" class="xt">1e-04</text>
<line x1="400.3" y1="940.3" x2="400.3" y2="942.9" class="tk"/>
<text x="399.9" y="963.8" class="xt">2e-04</text>
<line x1="544.2" y1="940.3" x2="544.2" y2="942.9" class="tk"/>
<text x="543.8" y="963.8" class="xt">3e-04</text>
<g clip-path="url(#cp3)">
<path d="M79.6,923.2 L115.0,923.2 L116.0,922.2 L116.6,920.8 L117.1,919.4 L117.5,917.9 L117.9,916.5 L118.3,915.0 L118.7,913.5 L119.0,912.1 L119.4,910.6 L119.7,909.2 L120.1,907.7 L120.4,906.2 L120.8,904.8 L121.1,903.3 L121.5,901.8 L121.8,900.4 L122.2,898.9 L122.5,897.4 L122.8,896.0 L123.2,894.5 L123.5,893.0 L123.9,891.6 L124.2,890.1 L124.6,888.6 L124.9,887.2 L125.3,885.7 L125.7,884.2 L126.0,882.8 L126.4,881.3 L126.7,879.8 L127.1,878.4 L127.5,876.9 L127.8,875.5 L128.2,874.0 L128.6,872.6 L129.0,871.1 L129.4,869.6 L129.8,868.2 L130.2,866.7 L130.5,865.3 L130.9,863.8 L131.3,862.4 L131.8,860.9 L132.2,859.5 L132.6,858.0 L133.0,856.6 L133.4,855.1 L133.8,853.7 L134.3,852.2 L134.7,850.8 L135.1,849.4 L135.6,847.9 L136.0,846.5 L136.5,845.0 L136.9,843.6 L137.4,842.2 L137.8,840.7 L138.3,839.3 L138.8,837.9 L139.2,836.4 L139.7,835.0 L140.2,833.6 L140.7,832.2 L141.2,830.7 L141.7,829.3 L142.2,827.9 L142.7,826.5 L143.2,825.1 L143.7,823.6 L144.3,822.2 L144.8,820.8 L145.3,819.4 L145.9,818.0 L146.4,816.6 L147.0,815.2 L147.5,813.8 L148.1,812.4 L148.6,811.0 L149.2,809.6 L149.8,808.2 L150.4,806.8 L151.0,805.5 L151.6,804.1 L152.2,802.7 L152.8,801.3 L153.4,799.9 L154.0,798.6 L154.6,797.2 L155.3,795.8 L155.9,794.5 L156.5,793.1 L157.2,791.7 L157.9,790.4 L158.5,789.0 L159.2,787.7 L159.9,786.3 L160.6,785.0 L161.2,783.7 L161.9,782.3 L162.6,781.0 L163.4,779.7 L164.1,778.3 L164.8,777.0 L165.5,775.7 L166.3,774.4 L167.0,773.1 L167.8,771.8 L168.5,770.5 L169.3,769.2 L170.1,767.9 L170.9,766.6 L171.6,765.3 L172.4,764.0 L173.2,762.8 L174.0,761.5 L174.9,760.2 L175.7,759.0 L176.5,757.7 L177.4,756.5 L178.2,755.2 L179.1,754.0 L179.9,752.7 L180.8,751.5 L181.7,750.3 L182.6,749.1 L183.4,747.9 L184.3,746.6 L185.3,745.4 L186.2,744.2 L187.1,743.1 L188.0,741.9 L189.0,740.7 L189.9,739.5 L190.8,738.3 L191.8,737.2 L192.8,736.0 L193.7,734.9 L194.7,733.7 L195.7,732.6 L196.7,731.5 L197.7,730.3 L198.7,729.2 L199.7,728.1 L200.8,727.0 L201.8,725.9 L202.8,724.8 L203.9,723.7 L204.9,722.7 L206.0,721.6 L207.0,720.5 L208.1,719.5 L209.2,718.4 L210.3,717.4 L211.4,716.3 L212.5,715.3 L213.6,714.3 L214.7,713.3 L215.8,712.2 L216.9,711.2 L218.1,710.3 L219.2,709.3 L220.3,708.3 L221.5,707.3 L222.7,706.3 L223.8,705.4 L225.0,704.4 L226.2,703.5 L227.3,702.6 L228.5,701.6 L229.7,700.7 L230.9,699.8 L232.1,698.9 L233.3,698.0 L234.5,697.1 L235.7,696.2 L237.0,695.3 L238.2,694.4 L239.4,693.6 L240.7,692.7 L241.9,691.9 L243.1,691.0 L244.4,690.2 L245.7,689.3 L246.9,688.5 L248.2,687.7 L249.5,686.9 L250.7,686.1 L252.0,685.3 L253.3,684.5 L254.6,683.7 L255.9,683.0 L257.2,682.2 L258.5,681.4 L259.8,680.7 L261.1,679.9 L262.4,679.2 L263.7,678.4 L265.0,677.7 L266.3,677.0 L267.7,676.3 L269.0,675.6 L270.3,674.9 L271.7,674.2 L273.0,673.5 L274.3,672.8 L275.7,672.1 L277.0,671.4 L278.4,670.8 L279.7,670.1 L281.1,669.4 L282.4,668.8 L283.8,668.1 L285.2,667.5 L286.5,666.9 L287.9,666.3 L289.3,665.6 L290.7,665.0 L292.0,664.4 L293.4,663.8 L294.8,663.2 L296.2,662.6 L297.6,662.0 L299.0,661.4 L300.3,660.9 L301.7,660.3 L303.1,659.7 L304.5,659.2 L305.9,658.6 L307.3,658.0 L308.7,657.5 L310.1,657.0 L311.5,656.4 L313.0,655.9 L314.4,655.4 L315.8,654.8 L317.2,654.3 L318.6,653.8 L320.0,653.3 L321.4,652.8 L322.9,652.3 L324.3,651.8 L325.7,651.3 L327.1,650.8 L328.6,650.3 L330.0,649.8 L331.4,649.4 L332.8,648.9 L334.3,648.4 L335.7,648.0 L337.1,647.5 L338.6,647.0 L340.0,646.6 L341.5,646.1 L342.9,645.7 L344.3,645.3 L345.8,644.8 L347.2,644.4 L348.7,644.0 L350.1,643.5 L351.6,643.1 L353.0,642.7 L354.5,642.3 L355.9,641.9 L357.4,641.5 L358.8,641.1 L360.3,640.7 L361.7,640.3 L363.2,639.9 L364.6,639.5 L366.1,639.1 L367.5,638.7 L369.0,638.3 L370.4,637.9 L371.9,637.6 L373.4,637.2 L374.8,636.8 L376.3,636.5 L377.7,636.1 L379.2,635.7 L380.7,635.4 L382.1,635.0 L383.6,634.7 L385.1,634.3 L386.5,634.0 L388.0,633.6 L389.5,633.3 L390.9,633.0 L392.4,632.6 L393.9,632.3 L395.3,632.0 L396.8,631.6 L398.3,631.3 L399.8,631.0 L401.2,630.7 L402.7,630.3 L404.2,630.0 L405.6,629.7 L407.1,629.4 L408.6,629.1 L410.1,628.8 L411.5,628.5 L413.0,628.2 L414.5,627.9 L416.0,627.6 L417.4,627.3 L418.9,627.0 L420.4,626.7 L421.9,626.4 L423.4,626.2 L424.8,625.9 L426.3,625.6 L427.8,625.3 L429.3,625.0 L430.8,624.8 L432.2,624.5 L433.7,624.2 L435.2,623.9 L436.7,623.7 L438.2,623.4 L439.7,623.1 L441.1,622.9 L442.6,622.6 L444.1,622.4 L445.6,622.1 L447.1,621.9 L448.6,621.6 L450.0,621.4 L451.5,621.1 L453.0,620.9 L454.5,620.6 L456.0,620.4 L457.5,620.1 L459.0,619.9 L460.5,619.7 L461.9,619.4 L463.4,619.2 L464.9,619.0 L466.4,618.7 L467.9,618.5 L469.4,618.3 L470.9,618.0 L472.4,617.8 L473.8,617.6 L475.3,617.4 L476.8,617.1 L478.3,616.9 L479.8,616.7 L481.3,616.5 L482.8,616.3 L484.3,616.1 L485.8,615.8 L487.3,615.6 L488.8,615.4 L490.2,615.2 L491.7,615.0 L493.2,614.8 L494.7,614.6 L496.2,614.4 L497.7,614.2 L499.2,614.0 L500.7,613.8 L502.2,613.6 L503.7,613.4 L505.2,613.2 L506.7,613.0 L508.2,612.8 L509.7,612.6 L511.2,612.4 L512.6,612.3 L514.1,612.1 L515.6,611.9 L517.1,611.7 L518.6,611.5 L520.1,611.3 L521.6,611.2 L523.1,611.0 L524.6,610.8 L526.1,610.6 L527.6,610.4 L529.1,610.3 L530.6,610.1 L532.1,609.9 L533.6,609.7 L535.1,609.6 L536.6,609.4 L538.1,609.2 L539.6,609.1 L541.1,608.9 L542.6,608.7 L544.1,608.6 L545.6,608.4 L547.1,608.2 L548.6,608.1 L550.0,607.9 L551.5,607.7 L553.0,607.6 L554.5,607.4 L556.0,607.3 L557.5,607.1 L559.0,607.0 L560.5,606.8 L562.0,606.6 L563.5,606.5 L565.0,606.3 L566.5,606.2 L568.0,606.0 L569.5,605.9 L571.0,605.7 L572.5,605.6 L574.0,605.4 L575.5,605.3 L577.0,605.2 L578.5,605.0 L580.0,604.9 L581.5,604.7 L583.0,604.6 L584.5,604.4 L586.0,604.3 L587.5,604.2 L589.0,604.0 L590.5,603.9 L592.0,603.7 L593.5,603.6 L595.0,603.5 L596.5,603.3 L598.0,603.2 L599.5,603.1 L590.8,603.1" class="cv" stroke="#E41A1C"/>
<path d="M79.6,923.2 L116.0,923.2 L117.1,922.2 L117.6,920.8 L118.1,919.4 L118.6,918.0 L119.0,916.5 L119.4,915.1 L119.8,913.6 L120.1,912.1 L120.5,910.7 L120.9,909.2 L121.2,907.8 L121.6,906.3 L121.9,904.8 L122.3,903.4 L122.6,901.9 L123.0,900.4 L123.3,899.0 L123.7,897.5 L124.0,896.1 L124.4,894.6 L124.7,893.1 L125.1,891.7 L125.5,890.2 L125.8,888.7 L126.2,887.3 L126.5,885.8 L126.9,884.4 L127.3,882.9 L127.6,881.4 L128.0,880.0 L128.4,878.5 L128.8,877.1 L129.2,875.6 L129.5,874.2 L129.9,872.7 L130.3,871.3 L130.7,869.8 L131.1,868.4 L131.5,866.9 L131.9,865.5 L132.3,864.0 L132.7,862.6 L133.1,861.1 L133.6,859.7 L134.0,858.2 L134.4,856.8 L134.8,855.3 L135.3,853.9 L135.7,852.5 L136.1,851.0 L136.6,849.6 L137.0,848.1 L137.5,846.7 L137.9,845.3 L138.4,843.8 L138.9,842.4 L139.3,841.0 L139.8,839.6 L140.3,838.1 L140.8,836.7 L141.3,835.3 L141.8,833.9 L142.3,832.4 L142.8,831.0 L143.3,829.6 L143.8,828.2 L144.3,826.8 L144.8,825.4 L145.4,824.0 L145.9,822.6 L146.4,821.1 L147.0,819.7 L147.5,818.3 L148.1,816.9 L148.6,815.6 L149.2,814.2 L149.8,812.8 L150.3,811.4 L150.9,810.0 L151.5,808.6 L152.1,807.2 L152.7,805.8 L153.3,804.5 L153.9,803.1 L154.5,801.7 L155.2,800.3 L155.8,799.0 L156.4,797.6 L157.1,796.3 L157.7,794.9 L158.4,793.5 L159.0,792.2 L159.7,790.8 L160.4,789.5 L161.1,788.2 L161.8,786.8 L162.4,785.5 L163.1,784.2 L163.9,782.8 L164.6,781.5 L165.3,780.2 L166.0,778.9 L166.7,777.5 L167.5,776.2 L168.2,774.9 L169.0,773.6 L169.8,772.3 L170.5,771.0 L171.3,769.7 L172.1,768.5 L172.9,767.2 L173.7,765.9 L174.5,764.6 L175.3,763.4 L176.1,762.1 L176.9,760.9 L177.8,759.6 L178.6,758.3 L179.5,757.1 L180.3,755.9 L181.2,754.6 L182.0,753.4 L182.9,752.2 L183.8,751.0 L184.7,749.8 L185.6,748.6 L186.5,747.4 L187.4,746.2 L188.3,745.0 L189.3,743.8 L190.2,742.6 L191.1,741.4 L192.1,740.3 L193.1,739.1 L194.0,738.0 L195.0,736.8 L196.0,735.7 L197.0,734.5 L198.0,733.4 L199.0,732.3 L200.0,731.2 L201.0,730.0 L202.0,728.9 L203.0,727.8 L204.1,726.8 L205.1,725.7 L206.2,724.6 L207.2,723.5 L208.3,722.5 L209.3,721.4 L210.4,720.3 L211.5,719.3 L212.6,718.3 L213.7,717.2 L214.8,716.2 L215.9,715.2 L217.0,714.2 L218.1,713.2 L219.3,712.2 L220.4,711.2 L221.5,710.2 L222.7,709.2 L223.8,708.3 L225.0,707.3 L226.2,706.4 L227.3,705.4 L228.5,704.5 L229.7,703.5 L230.9,702.6 L232.1,701.7 L233.3,700.8 L234.5,699.9 L235.7,699.0 L236.9,698.1 L238.1,697.2 L239.3,696.3 L240.6,695.5 L241.8,694.6 L243.0,693.8 L244.3,692.9 L245.5,692.1 L246.8,691.2 L248.0,690.4 L249.3,689.6 L250.6,688.8 L251.8,688.0 L253.1,687.2 L254.4,686.4 L255.7,685.6 L257.0,684.8 L258.3,684.0 L259.6,683.3 L260.9,682.5 L262.2,681.8 L263.5,681.0 L264.8,680.3 L266.1,679.6 L267.4,678.8 L268.7,678.1 L270.1,677.4 L271.4,676.7 L272.7,676.0 L274.0,675.3 L275.4,674.6 L276.7,673.9 L278.1,673.2 L279.4,672.6 L280.8,671.9 L282.1,671.2 L283.5,670.6 L284.8,669.9 L286.2,669.3 L287.5,668.7 L288.9,668.0 L290.3,667.4 L291.7,666.8 L293.0,666.2 L294.4,665.6 L295.8,665.0 L297.2,664.4 L298.5,663.8 L299.9,663.2 L301.3,662.6 L302.7,662.0 L304.1,661.4 L305.5,660.9 L306.9,660.3 L308.3,659.8 L309.7,659.2 L311.1,658.7 L312.5,658.1 L313.9,657.6 L315.3,657.0 L316.7,656.5 L318.1,656.0 L319.5,655.5 L320.9,654.9 L322.4,654.4 L323.8,653.9 L325.2,653.4 L326.6,652.9 L328.0,652.4 L329.5,652.0 L330.9,651.5 L332.3,651.0 L333.7,650.5 L335.2,650.0 L336.6,649.6 L338.0,649.1 L339.5,648.6 L340.9,648.2 L342.3,647.7 L343.8,647.3 L345.2,646.8 L346.6,646.4 L348.1,646.0 L349.5,645.5 L351.0,645.1 L352.4,644.7 L353.9,644.2 L355.3,643.8 L356.7,643.4 L358.2,643.0 L359.6,642.6 L361.1,642.2 L362.5,641.8 L364.0,641.4 L365.4,641.0 L366.9,640.6 L368.3,640.2 L369.8,639.8 L371.3,639.4 L372.7,639.1 L374.2,638.7 L375.6,638.3 L377.1,637.9 L378.5,637.6 L380.0,637.2 L381.5,636.8 L382.9,636.5 L384.4,636.1 L385.8,635.8 L387.3,635.4 L388.8,635.1 L390.2,634.7 L391.7,634.4 L393.2,634.0 L394.6,633.7 L396.1,633.4 L397.6,633.0 L399.0,632.7 L400.5,632.4 L402.0,632.1 L403.4,631.7 L404.9,631.4 L406.4,631.1 L407.9,630.8 L409.3,630.5 L410.8,630.2 L412.3,629.9 L413.7,629.6 L415.2,629.3 L416.7,629.0 L418.2,628.7 L419.6,628.4 L421.1,628.1 L422.6,627.8 L424.1,627.5 L425.6,627.2 L427.0,626.9 L428.5,626.6 L430.0,626.3 L431.5,626.1 L432.9,625.8 L434.4,625.5 L435.9,625.2 L437.4,625.0 L438.9,624.7 L440.3,624.4 L441.8,624.2 L443.3,623.9 L444.8,623.6 L446.3,623.4 L447.8,623.1 L449.2,622.9 L450.7,622.6 L452.2,622.4 L453.7,622.1 L455.2,621.9 L456.7,621.6 L458.1,621.4 L459.6,621.1 L461.1,620.9 L462.6,620.6 L464.1,620.4 L465.6,620.2 L467.0,619.9 L468.5,619.7 L470.0,619.5 L471.5,619.2 L473.0,619.0 L474.5,618.8 L476.0,618.6 L477.5,618.3 L478.9,618.1 L480.4,617.9 L481.9,617.7 L483.4,617.5 L484.9,617.2 L486.4,617.0 L487.9,616.8 L489.4,616.6 L490.9,616.4 L492.3,616.2 L493.8,616.0 L495.3,615.8 L496.8,615.5 L498.3,615.3 L499.8,615.1 L501.3,614.9 L502.8,614.7 L504.3,614.5 L505.8,614.3 L507.3,614.1 L508.7,613.9 L510.2,613.8 L511.7,613.6 L513.2,613.4 L514.7,613.2 L516.2,613.0 L517.7,612.8 L519.2,612.6 L520.7,612.4 L522.2,612.2 L523.7,612.1 L525.2,611.9 L526.7,611.7 L528.2,611.5 L529.7,611.3 L531.1,611.2 L532.6,611.0 L534.1,610.8 L535.6,610.6 L537.1,610.5 L538.6,610.3 L540.1,610.1 L541.6,609.9 L543.1,609.8 L544.6,609.6 L546.1,609.4 L547.6,609.3 L549.1,609.1 L550.6,608.9 L552.1,608.8 L553.6,608.6 L555.1,608.4 L556.6,608.3 L558.1,608.1 L559.6,608.0 L561.1,607.8 L562.5,607.7 L564.0,607.5 L565.5,607.3 L567.0,607.2 L568.5,607.0 L570.0,606.9 L571.5,606.7 L573.0,606.6 L574.5,606.4 L576.0,606.3 L577.5,606.1 L579.0,606.0 L580.5,605.8 L582.0,605.7 L583.5,605.5 L585.0,605.4 L586.5,605.3 L588.0,605.1 L589.5,605.0 L591.0,604.8 L592.5,604.7 L594.0,604.6 L595.5,604.4 L597.0,604.3 L598.5,604.1 L600.0,604.0 L590.8,604.0" class="cv" stroke="#377EB8"/>
<path d="M79.6,923.2 L115.2,923.2 L115.8,922.0 L116.0,920.5 L116.1,919.0 L116.2,917.5 L116.3,916.0 L116.4,914.5 L116.5,913.0 L116.6,911.5 L116.7,910.0 L116.8,908.5 L116.9,907.0 L117.0,905.5 L117.0,904.0 L117.1,902.5 L117.2,900.9 L117.3,899.4 L117.3,897.9 L117.4,896.4 L117.5,894.9 L117.5,893.4 L117.6,891.9 L117.7,890.4 L117.7,888.9 L117.8,887.4 L117.9,885.9 L117.9,884.4 L118.0,882.9 L118.1,881.4 L118.1,879.9 L118.2,878.4 L118.3,876.9 L118.3,875.4 L118.4,873.9 L118.5,872.4 L118.5,870.9 L118.6,869.4 L118.7,867.9 L118.7,866.4 L118.8,864.9 L118.8,863.4 L118.9,861.9 L119.0,860.4 L119.0,858.9 L119.1,857.4 L119.2,855.9 L119.2,854.4 L119.3,852.9 L119.4,851.4 L119.4,849.9 L119.5,848.4 L119.6,846.9 L119.6,845.3 L119.7,843.8 L119.8,842.3 L119.8,840.8 L119.9,839.3 L120.0,837.8 L120.0,836.3 L120.1,834.8 L120.2,833.3 L120.3,831.8 L120.3,830.3 L120.4,828.8 L120.5,827.3 L120.5,825.8 L120.6,824.3 L120.7,822.8 L120.7,821.3 L120.8,819.8 L120.9,818.3 L121.0,816.8 L121.0,815.3 L121.1,813.8 L121.2,812.3 L121.3,810.8 L121.3,809.3 L121.4,807.8 L121.5,806.3 L121.6,804.8 L121.7,803.3 L121.7,801.8 L121.8,800.3 L121.9,798.8 L122.0,797.3 L122.0,795.8 L122.1,794.3 L122.2,792.8 L122.3,791.3 L122.4,789.8 L122.5,788.3 L122.5,786.8 L122.6,785.3 L122.7,783.8 L122.8,782.3 L122.9,780.8 L123.0,779.2 L123.1,777.7 L123.2,776.2 L123.3,774.7 L123.3,773.2 L123.4,771.7 L123.5,770.2 L123.6,768.7 L123.7,767.2 L123.8,765.7 L123.9,764.2 L124.0,762.7 L124.1,761.2 L124.2,759.7 L124.3,758.2 L124.4,756.7 L124.5,755.2 L124.6,753.7 L124.7,752.2 L124.8,750.7 L124.9,749.2 L125.0,747.7 L125.2,746.2 L125.3,744.7 L125.4,743.2 L125.5,741.7 L125.6,740.2 L125.7,738.7 L125.8,737.2 L126.0,735.7 L126.1,734.2 L126.2,732.7 L126.3,731.2 L126.4,729.7 L126.6,728.2 L126.7,726.7 L126.8,725.2 L127.0,723.7 L127.1,722.2 L127.2,720.7 L127.4,719.2 L127.5,717.7 L127.6,716.2 L127.8,714.7 L127.9,713.3 L128.1,711.8 L128.2,710.3 L128.3,708.8 L128.5,707.3 L128.6,705.8 L128.8,704.3 L129.0,702.8 L129.1,701.3 L129.3,699.8 L129.4,698.3 L129.6,696.8 L129.8,695.3 L130.0,693.8 L130.1,692.3 L130.3,690.8 L130.5,689.3 L130.7,687.8 L130.8,686.3 L131.0,684.8 L131.2,683.4 L131.4,681.9 L131.6,680.4 L131.8,678.9 L132.0,677.4 L132.2,675.9 L132.4,674.4 L132.7,672.9 L132.9,671.4 L133.1,669.9 L133.3,668.5 L133.6,667.0 L133.8,665.5 L134.1,664.0 L134.3,662.5 L134.6,661.0 L134.8,659.6 L135.1,658.1 L135.3,656.6 L135.6,655.1 L135.9,653.6 L136.2,652.2 L136.5,650.7 L136.8,649.2 L137.1,647.7 L137.4,646.3 L137.7,644.8 L138.0,643.3 L138.4,641.9 L138.7,640.4 L139.1,638.9 L139.4,637.5 L139.8,636.0 L140.2,634.6 L140.6,633.1 L141.0,631.7 L141.4,630.2 L141.8,628.8 L142.2,627.3 L142.7,625.9 L143.1,624.5 L143.6,623.0 L144.1,621.6 L144.6,620.2 L145.1,618.8 L145.7,617.4 L146.2,616.0 L146.8,614.6 L147.4,613.2 L148.0,611.8 L148.6,610.4 L149.2,609.1 L149.9,607.7 L150.6,606.4 L151.3,605.1 L152.0,603.8 L152.8,602.5 L153.6,601.2 L154.4,599.9 L155.2,598.7 L156.1,597.4 L157.0,596.2 L157.9,595.1 L158.9,593.9 L159.9,592.8 L160.9,591.6 L161.9,590.6 L163.0,589.5 L164.1,588.5 L165.2,587.5 L166.4,586.5 L167.5,585.6 L168.7,584.7 L170.0,583.8 L171.2,583.0 L172.5,582.2 L173.8,581.4 L175.1,580.7 L176.4,579.9 L177.8,579.3 L179.1,578.6 L180.5,578.0 L181.9,577.4 L183.3,576.9 L184.7,576.3 L186.1,575.8 L187.5,575.4 L189.0,574.9 L190.4,574.5 L191.9,574.0 L193.3,573.7 L194.8,573.3 L196.2,572.9 L197.7,572.6 L199.2,572.3 L200.6,571.9 L202.1,571.7 L203.6,571.4 L205.1,571.1 L206.6,570.9 L208.0,570.6 L209.5,570.4 L211.0,570.2 L212.5,569.9 L214.0,569.7 L215.5,569.6 L217.0,569.4 L218.5,569.2 L220.0,569.0 L221.5,568.9 L223.0,568.7 L224.5,568.6 L225.9,568.4 L227.4,568.3 L228.9,568.1 L230.4,568.0 L231.9,567.9 L233.4,567.8 L234.9,567.7 L236.4,567.6 L237.9,567.5 L239.4,567.4 L240.9,567.3 L242.4,567.2 L243.9,567.1 L245.5,567.0 L247.0,566.9 L248.5,566.9 L250.0,566.8 L251.5,566.7 L253.0,566.6 L254.5,566.6 L256.0,566.5 L257.5,566.4 L259.0,566.4 L260.5,566.3 L262.0,566.3 L263.5,566.2 L265.0,566.2 L266.5,566.1 L268.0,566.1 L269.5,566.0 L271.0,566.0 L272.5,565.9 L274.0,565.9 L275.5,565.8 L277.0,565.8 L278.5,565.8 L280.0,565.7 L281.5,565.7 L283.0,565.7 L284.5,565.6 L286.0,565.6 L287.5,565.6 L289.0,565.5 L290.5,565.5 L292.1,565.5 L293.6,565.4 L295.1,565.4 L296.6,565.4 L298.1,565.4 L299.6,565.3 L301.1,565.3 L302.6,565.3 L304.1,565.3 L305.6,565.2 L307.1,565.2 L308.6,565.2 L310.1,565.2 L311.6,565.2 L313.1,565.1 L314.6,565.1 L316.1,565.1 L317.6,565.1 L319.1,565.1 L320.6,565.1 L322.1,565.0 L323.6,565.0 L325.1,565.0 L326.6,565.0 L328.2,565.0 L329.7,565.0 L331.2,564.9 L332.7,564.9 L334.2,564.9 L335.7,564.9 L337.2,564.9 L338.7,564.9 L340.2,564.9 L341.7,564.9 L343.2,564.8 L344.7,564.8 L346.2,564.8 L347.7,564.8 L349.2,564.8 L350.7,564.8 L352.2,564.8 L353.7,564.8 L355.2,564.8 L356.7,564.8 L358.2,564.7 L359.7,564.7 L361.2,564.7 L362.7,564.7 L364.3,564.7 L365.8,564.7 L367.3,564.7 L368.8,564.7 L370.3,564.7 L371.8,564.7 L373.3,564.7 L374.8,564.7 L376.3,564.7 L377.8,564.7 L379.3,564.6 L380.8,564.6 L382.3,564.6 L383.8,564.6 L385.3,564.6 L386.8,564.6 L388.3,564.6 L389.8,564.6 L391.3,564.6 L392.8,564.6 L394.3,564.6 L395.8,564.6 L397.3,564.6 L398.8,564.6 L400.4,564.6 L401.9,564.6 L403.4,564.6 L404.9,564.6 L406.4,564.6 L407.9,564.5 L409.4,564.5 L410.9,564.5 L412.4,564.5 L413.9,564.5 L415.4,564.5 L416.9,564.5 L418.4,564.5 L419.9,564.5 L421.4,564.5 L422.9,564.5 L424.4,564.5 L425.9,564.5 L427.4,564.5 L428.9,564.5 L430.4,564.5 L431.9,564.5 L433.4,564.5 L434.9,564.5 L436.5,564.5 L438.0,564.5 L439.5,564.5 L441.0,564.5 L442.5,564.5 L444.0,564.5 L445.5,564.5 L447.0,564.5 L448.5,564.5 L450.0,564.5 L451.5,564.5 L453.0,564.5 L454.5,564.4 L456.0,564.4 L457.5,564.4 L459.0,564.4 L460.5,564.4 L462.0,564.4 L463.5,564.4 L465.0,564.4 L466.5,564.4 L468.0,564.4 L469.5,564.4 L471.0,564.4 L472.6,564.4 L474.1,564.4 L475.6,564.4 L477.1,564.4 L478.6,564.4 L480.1,564.4 L481.6,564.4 L483.1,564.4 L484.6,564.4 L486.1,564.4 L487.6,564.4 L489.1,564.4 L490.6,564.4 L492.1,564.4 L493.6,564.4 L495.1,564.4 L496.6,564.4 L498.1,564.4 L499.6,564.4 L501.1,564.4 L502.6,564.4 L504.1,564.4 L505.6,564.4 L507.1,564.4 L508.7,564.4 L510.2,564.4 L511.7,564.4 L513.2,564.4 L514.7,564.4 L516.2,564.4 L517.7,564.4 L519.2,564.4 L520.7,564.4 L522.2,564.4 L523.7,564.4 L525.2,564.4 L526.7,564.4 L528.2,564.4 L529.7,564.4 L531.2,564.4 L532.7,564.4 L534.2,564.4 L535.7,564.4 L537.2,564.4 L538.7,564.4 L540.2,564.4 L541.7,564.4 L543.2,564.4 L544.8,564.4 L546.3,564.4 L547.8,564.4 L549.3,564.4 L550.8,564.4 L552.3,564.4 L553.8,564.4 L555.3,564.4 L556.8,564.4 L558.3,564.4 L559.8,564.4 L561.3,564.4 L562.8,564.4 L564.3,564.4 L565.8,564.4 L567.3,564.4 L568.8,564.4 L570.3,564.4 L571.8,564.4 L573.3,564.4 L574.8,564.4 L576.3,564.4 L577.8,564.3 L579.3,564.3 L580.9,564.3 L582.4,564.3 L583.9,564.3 L585.4,564.3 L586.9,564.3 L588.4,564.3 L589.9,564.3 L591.4,564.3 L592.9,564.3 L594.4,564.3 L595.9,564.3 L597.4,564.3 L598.9,564.3 L600.4,564.3 L590.8,564.3" class="cv" stroke="#4DAF4A"/>
</g>
<rect x="89.6" y="547.1" width="491.2" height="393.2" class="bd"/>
<line x1="427.9" y1="834.8" x2="453.7" y2="834.8" stroke="#E41A1C" stroke-width="4.6"/>
<text x="461.0" y="844.5" class="lg">Males</text>
<line x1="427.9" y1="867.3" x2="453.7" y2="867.3" stroke="#377EB8" stroke-width="4.6"/>
<text x="461.0" y="877.0" class="lg">Females</text>
<line x1="427.9" y1="899.8" x2="453.7" y2="899.8" stroke="#4DAF4A" stroke-width="4.6"/>
<text x="461.0" y="909.5" class="lg">Children</text>
<text x="936.9" y="528.5" class="ti">Hg</text>
<text class="yl" transform="translate(620.65,743.2) rotate(-90)">Cumulative probability</text>
<line x1="682.8" y1="923.2" x2="685.4" y2="923.2" class="tk"/>
<text x="681.8" y="933.5" class="yt">0.00</text>
<line x1="682.8" y1="833.5" x2="685.4" y2="833.5" class="tk"/>
<text x="681.8" y="843.8" class="yt">0.25</text>
<line x1="682.8" y1="743.8" x2="685.4" y2="743.8" class="tk"/>
<text x="681.8" y="754.0" class="yt">0.50</text>
<line x1="682.8" y1="654.0" x2="685.4" y2="654.0" class="tk"/>
<text x="681.8" y="664.3" class="yt">0.75</text>
<line x1="682.8" y1="564.3" x2="685.4" y2="564.3" class="tk"/>
<text x="681.8" y="574.6" class="yt">1.00</text>
<line x1="707.4" y1="940.3" x2="707.4" y2="942.9" class="tk"/>
<text x="707.0" y="963.8" class="xt">0e+00</text>
<line x1="851.3" y1="940.3" x2="851.3" y2="942.9" class="tk"/>
<text x="850.9" y="963.8" class="xt">1e-04</text>
<line x1="995.8" y1="940.3" x2="995.8" y2="942.9" class="tk"/>
<text x="995.4" y="963.8" class="xt">2e-04</text>
<line x1="1139.9" y1="940.3" x2="1139.9" y2="942.9" class="tk"/>
<text x="1139.5" y="963.8" class="xt">3e-04</text>
<g clip-path="url(#cp4)">
<path d="M675.4,923.2 L709.7,923.2 L709.8,921.7 L709.8,920.2 L709.9,918.7 L709.9,917.2 L710.0,915.7 L710.0,914.2 L710.0,912.7 L710.1,911.2 L710.1,909.7 L710.1,908.2 L710.2,906.7 L710.2,905.2 L710.2,903.7 L710.3,902.1 L710.3,900.6 L710.3,899.1 L710.4,897.6 L710.4,896.1 L710.4,894.6 L710.5,893.1 L710.5,891.6 L710.6,890.1 L710.6,888.6 L710.6,887.1 L710.7,885.6 L710.7,884.1 L710.8,882.6 L710.8,881.1 L710.8,879.6 L710.9,878.1 L710.9,876.6 L711.0,875.1 L711.0,873.6 L711.1,872.1 L711.1,870.6 L711.1,869.1 L711.2,867.6 L711.2,866.1 L711.3,864.5 L711.3,863.0 L711.4,861.5 L711.4,860.0 L711.5,858.5 L711.5,857.0 L711.6,855.5 L711.6,854.0 L711.7,852.5 L711.7,851.0 L711.8,849.5 L711.9,848.0 L711.9,846.5 L712.0,845.0 L712.0,843.5 L712.1,842.0 L712.2,840.5 L712.2,839.0 L712.3,837.5 L712.3,836.0 L712.4,834.5 L712.5,833.0 L712.5,831.5 L712.6,830.0 L712.7,828.5 L712.7,827.0 L712.8,825.5 L712.9,824.0 L713.0,822.5 L713.0,821.0 L713.1,819.4 L713.2,817.9 L713.3,816.4 L713.3,814.9 L713.4,813.4 L713.5,811.9 L713.6,810.4 L713.7,808.9 L713.7,807.4 L713.8,805.9 L713.9,804.4 L714.0,802.9 L714.1,801.4 L714.2,799.9 L714.3,798.4 L714.4,796.9 L714.5,795.4 L714.6,793.9 L714.7,792.4 L714.8,790.9 L714.9,789.4 L715.0,787.9 L715.1,786.4 L715.2,784.9 L715.3,783.4 L715.4,781.9 L715.5,780.4 L715.6,778.9 L715.7,777.4 L715.9,775.9 L716.0,774.4 L716.1,772.9 L716.2,771.4 L716.4,769.9 L716.5,768.4 L716.6,766.9 L716.8,765.4 L716.9,763.9 L717.0,762.4 L717.2,760.9 L717.3,759.4 L717.5,757.9 L717.6,756.4 L717.8,754.9 L717.9,753.4 L718.1,751.9 L718.2,750.4 L718.4,748.9 L718.6,747.5 L718.7,746.0 L718.9,744.5 L719.1,743.0 L719.3,741.5 L719.4,740.0 L719.6,738.5 L719.8,737.0 L720.0,735.5 L720.2,734.0 L720.4,732.5 L720.6,731.0 L720.8,729.5 L721.0,728.0 L721.3,726.6 L721.5,725.1 L721.7,723.6 L721.9,722.1 L722.2,720.6 L722.4,719.1 L722.7,717.6 L722.9,716.2 L723.2,714.7 L723.4,713.2 L723.7,711.7 L724.0,710.2 L724.2,708.8 L724.5,707.3 L724.8,705.8 L725.1,704.3 L725.4,702.9 L725.7,701.4 L726.0,699.9 L726.4,698.4 L726.7,697.0 L727.0,695.5 L727.4,694.0 L727.7,692.6 L728.1,691.1 L728.4,689.7 L728.8,688.2 L729.2,686.7 L729.6,685.3 L730.0,683.8 L730.4,682.4 L730.8,681.0 L731.3,679.5 L731.7,678.1 L732.2,676.6 L732.6,675.2 L733.1,673.8 L733.6,672.4 L734.1,670.9 L734.6,669.5 L735.1,668.1 L735.7,666.7 L736.2,665.3 L736.8,663.9 L737.4,662.5 L738.0,661.1 L738.6,659.8 L739.2,658.4 L739.8,657.0 L740.5,655.7 L741.1,654.3 L741.8,653.0 L742.5,651.6 L743.2,650.3 L743.9,649.0 L744.7,647.7 L745.4,646.4 L746.2,645.1 L747.0,643.8 L747.8,642.6 L748.7,641.3 L749.5,640.1 L750.4,638.9 L751.3,637.6 L752.2,636.4 L753.1,635.2 L754.1,634.1 L755.0,632.9 L756.0,631.8 L757.0,630.6 L758.0,629.5 L759.0,628.4 L760.1,627.4 L761.1,626.3 L762.2,625.2 L763.3,624.2 L764.4,623.2 L765.6,622.2 L766.7,621.2 L767.9,620.3 L769.0,619.3 L770.2,618.4 L771.4,617.5 L772.7,616.6 L773.9,615.8 L775.1,614.9 L776.4,614.1 L777.6,613.3 L778.9,612.5 L780.2,611.7 L781.5,610.9 L782.8,610.2 L784.1,609.4 L785.4,608.7 L786.8,608.0 L788.1,607.3 L789.5,606.7 L790.8,606.0 L792.2,605.4 L793.5,604.7 L794.9,604.1 L796.3,603.5 L797.7,602.9 L799.1,602.4 L800.5,601.8 L801.9,601.3 L803.3,600.7 L804.7,600.2 L806.1,599.7 L807.5,599.2 L808.9,598.7 L810.4,598.2 L811.8,597.8 L813.2,597.3 L814.7,596.9 L816.1,596.4 L817.6,596.0 L819.0,595.6 L820.4,595.2 L821.9,594.8 L823.3,594.4 L824.8,594.0 L826.3,593.6 L827.7,593.2 L829.2,592.9 L830.6,592.5 L832.1,592.2 L833.6,591.8 L835.0,591.5 L836.5,591.2 L838.0,590.9 L839.4,590.5 L840.9,590.2 L842.4,589.9 L843.9,589.6 L845.3,589.3 L846.8,589.1 L848.3,588.8 L849.8,588.5 L851.3,588.2 L852.7,588.0 L854.2,587.7 L855.7,587.5 L857.2,587.2 L858.7,587.0 L860.2,586.7 L861.6,586.5 L863.1,586.2 L864.6,586.0 L866.1,585.8 L867.6,585.6 L869.1,585.3 L870.6,585.1 L872.1,584.9 L873.5,584.7 L875.0,584.5 L876.5,584.3 L878.0,584.1 L879.5,583.9 L881.0,583.7 L882.5,583.5 L884.0,583.4 L885.5,583.2 L887.0,583.0 L888.5,582.8 L890.0,582.6 L891.5,582.5 L893.0,582.3 L894.5,582.1 L895.9,582.0 L897.4,581.8 L898.9,581.7 L900.4,581.5 L901.9,581.4 L903.4,581.2 L904.9,581.1 L906.4,580.9 L907.9,580.8 L909.4,580.6 L910.9,580.5 L912.4,580.3 L913.9,580.2 L915.4,580.1 L916.9,579.9 L918.4,579.8 L919.9,579.7 L921.4,579.5 L922.9,579.4 L924.4,579.3 L925.9,579.2 L927.4,579.1 L928.9,578.9 L930.4,578.8 L931.9,578.7 L933.4,578.6 L934.9,578.5 L936.4,578.4 L937.9,578.3 L939.4,578.1 L940.9,578.0 L942.4,577.9 L943.9,577.8 L945.4,577.7 L946.9,577.6 L948.4,577.5 L949.9,577.4 L951.4,577.3 L952.9,577.2 L954.4,577.1 L955.9,577.0 L957.4,576.9 L958.9,576.8 L960.4,576.8 L961.9,576.7 L963.4,576.6 L964.9,576.5 L966.4,576.4 L967.9,576.3 L969.4,576.2 L970.9,576.1 L972.4,576.1 L973.9,576.0 L975.4,575.9 L976.9,575.8 L978.5,575.7 L980.0,575.7 L981.5,575.6 L983.0,575.5 L984.5,575.4 L986.0,575.4 L987.5,575.3 L989.0,575.2 L990.5,575.1 L992.0,575.1 L993.5,575.0 L995.0,574.9 L996.5,574.9 L998.0,574.8 L999.5,574.7 L1001.0,574.6 L1002.5,574.6 L1004.0,574.5 L1005.5,574.4 L1007.0,574.4 L1008.5,574.3 L1010.0,574.3 L1011.5,574.2 L1013.0,574.1 L1014.5,574.1 L1016.0,574.0 L1017.5,573.9 L1019.0,573.9 L1020.5,573.8 L1022.0,573.8 L1023.5,573.7 L1025.0,573.7 L1026.5,573.6 L1028.1,573.5 L1029.6,573.5 L1031.1,573.4 L1032.6,573.4 L1034.1,573.3 L1035.6,573.3 L1037.1,573.2 L1038.6,573.2 L1040.1,573.1 L1041.6,573.1 L1043.1,573.0 L1044.6,573.0 L1046.1,572.9 L1047.6,572.9 L1049.1,572.8 L1050.6,572.8 L1052.1,572.7 L1053.6,572.7 L1055.1,572.6 L1056.6,572.6 L1058.1,572.5 L1059.6,572.5 L1061.1,572.4 L1062.6,572.4 L1064.1,572.3 L1065.6,572.3 L1067.1,572.3 L1068.7,572.2 L1070.2,572.2 L1071.7,572.1 L1073.2,572.1 L1074.7,572.0 L1076.2,572.0 L1077.7,572.0 L1079.2,571.9 L1080.7,571.9 L1082.2,571.8 L1083.7,571.8 L1085.2,571.8 L1086.7,571.7 L1088.2,571.7 L1089.7,571.6 L1091.2,571.6 L1092.7,571.6 L1094.2,571.5 L1095.7,571.5 L1097.2,571.4 L1098.7,571.4 L1100.2,571.4 L1101.7,571.3 L1103.2,571.3 L1104.7,571.3 L1106.3,571.2 L1107.8,571.2 L1109.3,571.2 L1110.8,571.1 L1112.3,571.1 L1113.8,571.1 L1115.3,571.0 L1116.8,571.0 L1118.3,571.0 L1119.8,570.9 L1121.3,570.9 L1122.8,570.9 L1124.3,570.8 L1125.8,570.8 L1127.3,570.8 L1128.8,570.7 L1130.3,570.7 L1131.8,570.7 L1133.3,570.6 L1134.8,570.6 L1136.3,570.6 L1137.8,570.5 L1139.3,570.5 L1140.8,570.5 L1142.4,570.5 L1143.9,570.4 L1145.4,570.4 L1146.9,570.4 L1148.4,570.3 L1149.9,570.3 L1151.4,570.3 L1152.9,570.3 L1154.4,570.2 L1155.9,570.2 L1157.4,570.2 L1158.9,570.2 L1160.4,570.1 L1161.9,570.1 L1163.4,570.1 L1164.9,570.0 L1166.4,570.0 L1167.9,570.0 L1169.4,570.0 L1170.9,569.9 L1172.4,569.9 L1173.9,569.9 L1175.4,569.9 L1177.0,569.8 L1178.5,569.8 L1180.0,569.8 L1181.5,569.8 L1183.0,569.7 L1184.5,569.7 L1186.0,569.7 L1187.5,569.7 L1189.0,569.7 L1190.5,569.6 L1192.0,569.6 L1193.5,569.6 L1195.0,569.6 L1186.6,569.6" class="cv" stroke="#E41A1C"/>
<path d="M675.4,923.2 L709.1,923.2 L709.2,921.7 L709.3,920.2 L709.4,918.7 L709.5,917.2 L709.5,915.7 L709.6,914.2 L709.6,912.7 L709.7,911.2 L709.8,909.7 L709.8,908.2 L709.9,906.7 L709.9,905.2 L710.0,903.7 L710.0,902.2 L710.1,900.7 L710.1,899.2 L710.2,897.7 L710.3,896.2 L710.3,894.7 L710.4,893.2 L710.4,891.7 L710.5,890.2 L710.5,888.7 L710.6,887.2 L710.7,885.7 L710.7,884.2 L710.8,882.6 L710.8,881.1 L710.9,879.6 L711.0,878.1 L711.0,876.6 L711.1,875.1 L711.1,873.6 L711.2,872.1 L711.3,870.6 L711.3,869.1 L711.4,867.6 L711.5,866.1 L711.5,864.6 L711.6,863.1 L711.7,861.6 L711.7,860.1 L711.8,858.6 L711.9,857.1 L711.9,855.6 L712.0,854.1 L712.1,852.6 L712.2,851.1 L712.2,849.6 L712.3,848.1 L712.4,846.6 L712.5,845.1 L712.5,843.6 L712.6,842.1 L712.7,840.6 L712.8,839.1 L712.8,837.6 L712.9,836.1 L713.0,834.6 L713.1,833.1 L713.2,831.6 L713.3,830.1 L713.4,828.6 L713.4,827.1 L713.5,825.6 L713.6,824.1 L713.7,822.6 L713.8,821.1 L713.9,819.6 L714.0,818.1 L714.1,816.6 L714.2,815.1 L714.3,813.6 L714.4,812.1 L714.5,810.6 L714.6,809.1 L714.7,807.6 L714.8,806.1 L714.9,804.6 L715.0,803.1 L715.1,801.6 L715.2,800.1 L715.3,798.6 L715.5,797.1 L715.6,795.6 L715.7,794.1 L715.8,792.6 L715.9,791.1 L716.0,789.6 L716.2,788.1 L716.3,786.6 L716.4,785.1 L716.6,783.6 L716.7,782.1 L716.8,780.6 L717.0,779.1 L717.1,777.6 L717.2,776.1 L717.4,774.6 L717.5,773.1 L717.7,771.6 L717.8,770.1 L717.9,768.6 L718.1,767.1 L718.3,765.6 L718.4,764.1 L718.6,762.6 L718.7,761.1 L718.9,759.6 L719.1,758.1 L719.2,756.6 L719.4,755.1 L719.6,753.6 L719.7,752.1 L719.9,750.7 L720.1,749.2 L720.3,747.7 L720.5,746.2 L720.7,744.7 L720.9,743.2 L721.1,741.7 L721.3,740.2 L721.5,738.7 L721.7,737.2 L721.9,735.7 L722.1,734.3 L722.3,732.8 L722.5,731.3 L722.8,729.8 L723.0,728.3 L723.2,726.8 L723.5,725.3 L723.7,723.9 L723.9,722.4 L724.2,720.9 L724.5,719.4 L724.7,717.9 L725.0,716.4 L725.2,715.0 L725.5,713.5 L725.8,712.0 L726.1,710.5 L726.4,709.1 L726.7,707.6 L727.0,706.1 L727.3,704.6 L727.6,703.2 L727.9,701.7 L728.2,700.2 L728.6,698.8 L728.9,697.3 L729.2,695.8 L729.6,694.4 L730.0,692.9 L730.3,691.4 L730.7,690.0 L731.1,688.5 L731.5,687.1 L731.9,685.6 L732.3,684.2 L732.7,682.7 L733.1,681.3 L733.5,679.9 L734.0,678.4 L734.4,677.0 L734.9,675.5 L735.3,674.1 L735.8,672.7 L736.3,671.3 L736.8,669.9 L737.3,668.4 L737.8,667.0 L738.4,665.6 L738.9,664.2 L739.5,662.8 L740.1,661.4 L740.6,660.0 L741.2,658.7 L741.8,657.3 L742.5,655.9 L743.1,654.6 L743.8,653.2 L744.4,651.9 L745.1,650.5 L745.8,649.2 L746.5,647.9 L747.2,646.5 L748.0,645.2 L748.7,643.9 L749.5,642.6 L750.3,641.4 L751.1,640.1 L751.9,638.8 L752.8,637.6 L753.6,636.3 L754.5,635.1 L755.4,633.9 L756.3,632.7 L757.2,631.5 L758.2,630.4 L759.1,629.2 L760.1,628.1 L761.1,626.9 L762.1,625.8 L763.1,624.7 L764.2,623.6 L765.2,622.6 L766.3,621.5 L767.4,620.5 L768.5,619.5 L769.7,618.5 L770.8,617.5 L772.0,616.5 L773.1,615.6 L774.3,614.7 L775.5,613.8 L776.7,612.9 L777.9,612.0 L779.2,611.1 L780.4,610.3 L781.7,609.5 L783.0,608.7 L784.2,607.9 L785.5,607.1 L786.8,606.4 L788.1,605.6 L789.5,604.9 L790.8,604.2 L792.1,603.5 L793.5,602.8 L794.8,602.2 L796.2,601.5 L797.6,600.9 L798.9,600.3 L800.3,599.7 L801.7,599.1 L803.1,598.5 L804.5,598.0 L805.9,597.4 L807.3,596.9 L808.7,596.4 L810.1,595.9 L811.5,595.4 L812.9,594.9 L814.4,594.4 L815.8,593.9 L817.2,593.5 L818.7,593.0 L820.1,592.6 L821.6,592.2 L823.0,591.8 L824.5,591.4 L825.9,591.0 L827.4,590.6 L828.8,590.2 L830.3,589.8 L831.7,589.4 L833.2,589.1 L834.6,588.7 L836.1,588.4 L837.6,588.1 L839.0,587.7 L840.5,587.4 L842.0,587.1 L843.5,586.8 L844.9,586.5 L846.4,586.2 L847.9,585.9 L849.4,585.6 L850.8,585.3 L852.3,585.1 L853.8,584.8 L855.3,584.5 L856.8,584.3 L858.2,584.0 L859.7,583.8 L861.2,583.5 L862.7,583.3 L864.2,583.1 L865.7,582.9 L867.2,582.6 L868.6,582.4 L870.1,582.2 L871.6,582.0 L873.1,581.8 L874.6,581.6 L876.1,581.4 L877.6,581.2 L879.1,581.0 L880.6,580.8 L882.1,580.6 L883.5,580.4 L885.0,580.2 L886.5,580.0 L888.0,579.9 L889.5,579.7 L891.0,579.5 L892.5,579.4 L894.0,579.2 L895.5,579.0 L897.0,578.9 L898.5,578.7 L900.0,578.6 L901.5,578.4 L903.0,578.3 L904.5,578.1 L906.0,578.0 L907.5,577.8 L909.0,577.7 L910.5,577.6 L912.0,577.4 L913.5,577.3 L915.0,577.2 L916.5,577.0 L918.0,576.9 L919.5,576.8 L921.0,576.7 L922.5,576.6 L924.0,576.4 L925.5,576.3 L927.0,576.2 L928.5,576.1 L930.0,576.0 L931.5,575.9 L933.0,575.8 L934.5,575.6 L936.0,575.5 L937.5,575.4 L939.0,575.3 L940.5,575.2 L942.0,575.1 L943.5,575.0 L945.0,574.9 L946.5,574.8 L948.0,574.7 L949.5,574.7 L951.0,574.6 L952.5,574.5 L954.0,574.4 L955.5,574.3 L957.0,574.2 L958.5,574.1 L960.0,574.0 L961.5,574.0 L963.0,573.9 L964.5,573.8 L966.0,573.7 L967.5,573.6 L969.0,573.5 L970.5,573.5 L972.0,573.4 L973.5,573.3 L975.0,573.2 L976.5,573.2 L978.0,573.1 L979.5,573.0 L981.0,573.0 L982.5,572.9 L984.0,572.8 L985.5,572.7 L987.0,572.7 L988.5,572.6 L990.0,572.5 L991.5,572.5 L993.0,572.4 L994.5,572.4 L996.0,572.3 L997.5,572.2 L999.0,572.2 L1000.5,572.1 L1002.0,572.0 L1003.5,572.0 L1005.0,571.9 L1006.5,571.9 L1008.0,571.8 L1009.5,571.8 L1011.0,571.7 L1012.5,571.6 L1014.1,571.6 L1015.6,571.5 L1017.1,571.5 L1018.6,571.4 L1020.1,571.4 L1021.6,571.3 L1023.1,571.3 L1024.6,571.2 L1026.1,571.2 L1027.6,571.1 L1029.1,571.1 L1030.6,571.0 L1032.1,571.0 L1033.6,570.9 L1035.1,570.9 L1036.6,570.8 L1038.1,570.8 L1039.6,570.7 L1041.1,570.7 L1042.6,570.7 L1044.1,570.6 L1045.6,570.6 L1047.1,570.5 L1048.6,570.5 L1050.1,570.4 L1051.6,570.4 L1053.1,570.4 L1054.6,570.3 L1056.1,570.3 L1057.6,570.2 L1059.1,570.2 L1060.7,570.2 L1062.2,570.1 L1063.7,570.1 L1065.2,570.0 L1066.7,570.0 L1068.2,570.0 L1069.7,569.9 L1071.2,569.9 L1072.7,569.9 L1074.2,569.8 L1075.7,569.8 L1077.2,569.7 L1078.7,569.7 L1080.2,569.7 L1081.7,569.6 L1083.2,569.6 L1084.7,569.6 L1086.2,569.5 L1087.7,569.5 L1089.2,569.5 L1090.7,569.4 L1092.2,569.4 L1093.7,569.4 L1095.2,569.3 L1096.7,569.3 L1098.2,569.3 L1099.7,569.3 L1101.2,569.2 L1102.7,569.2 L1104.3,569.2 L1105.8,569.1 L1107.3,569.1 L1108.8,569.1 L1110.3,569.0 L1111.8,569.0 L1113.3,569.0 L1114.8,569.0 L1116.3,568.9 L1117.8,568.9 L1119.3,568.9 L1120.8,568.8 L1122.3,568.8 L1123.8,568.8 L1125.3,568.8 L1126.8,568.7 L1128.3,568.7 L1129.8,568.7 L1131.3,568.7 L1132.8,568.6 L1134.3,568.6 L1135.8,568.6 L1137.3,568.6 L1138.8,568.5 L1140.3,568.5 L1141.8,568.5 L1143.3,568.5 L1144.9,568.4 L1146.4,568.4 L1147.9,568.4 L1149.4,568.4 L1150.9,568.4 L1152.4,568.3 L1153.9,568.3 L1155.4,568.3 L1156.9,568.3 L1158.4,568.2 L1159.9,568.2 L1161.4,568.2 L1162.9,568.2 L1164.4,568.2 L1165.9,568.1 L1167.4,568.1 L1168.9,568.1 L1170.4,568.1 L1171.9,568.1 L1173.4,568.0 L1174.9,568.0 L1176.4,568.0 L1177.9,568.0 L1179.4,568.0 L1180.9,567.9 L1182.4,567.9 L1183.9,567.9 L1185.5,567.9 L1187.0,567.9 L1188.5,567.8 L1190.0,567.8 L1191.5,567.8 L1193.0,567.8 L1194.5,567.8 L1196.0,567.7 L1186.6,567.7" class="cv" stroke="#377EB8"/>
<path d="M675.4,923.2 L708.4,923.2 L708.4,921.7 L708.4,920.2 L708.4,918.7 L708.5,917.2 L708.5,915.7 L708.5,914.2 L708.5,912.7 L708.5,911.2 L708.5,909.7 L708.5,908.2 L708.5,906.7 L708.5,905.1 L708.5,903.6 L708.5,902.1 L708.6,900.6 L708.6,899.1 L708.6,897.6 L708.6,896.1 L708.6,894.6 L708.6,893.1 L708.6,891.6 L708.6,890.1 L708.6,888.6 L708.6,887.1 L708.6,885.6 L708.6,884.1 L708.6,882.6 L708.6,881.1 L708.7,879.6 L708.7,878.1 L708.7,876.5 L708.7,875.0 L708.7,873.5 L708.7,872.0 L708.7,870.5 L708.7,869.0 L708.7,867.5 L708.7,866.0 L708.7,864.5 L708.7,863.0 L708.7,861.5 L708.7,860.0 L708.8,858.5 L708.8,857.0 L708.8,855.5 L708.8,854.0 L708.8,852.5 L708.8,851.0 L708.8,849.5 L708.8,847.9 L708.8,846.4 L708.8,844.9 L708.8,843.4 L708.8,841.9 L708.8,840.4 L708.9,838.9 L708.9,837.4 L708.9,835.9 L708.9,834.4 L708.9,832.9 L708.9,831.4 L708.9,829.9 L708.9,828.4 L708.9,826.9 L708.9,825.4 L708.9,823.9 L708.9,822.4 L708.9,820.9 L709.0,819.3 L709.0,817.8 L709.0,816.3 L709.0,814.8 L709.0,813.3 L709.0,811.8 L709.0,810.3 L709.0,808.8 L709.0,807.3 L709.0,805.8 L709.0,804.3 L709.0,802.8 L709.1,801.3 L709.1,799.8 L709.1,798.3 L709.1,796.8 L709.1,795.3 L709.1,793.8 L709.1,792.3 L709.1,790.7 L709.1,789.2 L709.1,787.7 L709.2,786.2 L709.2,784.7 L709.2,783.2 L709.2,781.7 L709.2,780.2 L709.2,778.7 L709.2,777.2 L709.2,775.7 L709.2,774.2 L709.2,772.7 L709.3,771.2 L709.3,769.7 L709.3,768.2 L709.3,766.7 L709.3,765.2 L709.3,763.7 L709.3,762.1 L709.3,760.6 L709.3,759.1 L709.4,757.6 L709.4,756.1 L709.4,754.6 L709.4,753.1 L709.4,751.6 L709.4,750.1 L709.4,748.6 L709.4,747.1 L709.5,745.6 L709.5,744.1 L709.5,742.6 L709.5,741.1 L709.5,739.6 L709.5,738.1 L709.5,736.6 L709.6,735.1 L709.6,733.5 L709.6,732.0 L709.6,730.5 L709.6,729.0 L709.6,727.5 L709.6,726.0 L709.7,724.5 L709.7,723.0 L709.7,721.5 L709.7,720.0 L709.7,718.5 L709.7,717.0 L709.8,715.5 L709.8,714.0 L709.8,712.5 L709.8,711.0 L709.8,709.5 L709.8,708.0 L709.9,706.5 L709.9,704.9 L709.9,703.4 L709.9,701.9 L709.9,700.4 L710.0,698.9 L710.0,697.4 L710.0,695.9 L710.0,694.4 L710.0,692.9 L710.1,691.4 L710.1,689.9 L710.1,688.4 L710.1,686.9 L710.2,685.4 L710.2,683.9 L710.2,682.4 L710.2,680.9 L710.3,679.4 L710.3,677.9 L710.3,676.4 L710.3,674.8 L710.4,673.3 L710.4,671.8 L710.4,670.3 L710.4,668.8 L710.5,667.3 L710.5,665.8 L710.5,664.3 L710.6,662.8 L710.6,661.3 L710.6,659.8 L710.7,658.3 L710.7,656.8 L710.7,655.3 L710.8,653.8 L710.8,652.3 L710.8,650.8 L710.9,649.3 L710.9,647.8 L711.0,646.3 L711.0,644.7 L711.0,643.2 L711.1,641.7 L711.1,640.2 L711.2,638.7 L711.2,637.2 L711.3,635.7 L711.3,634.2 L711.4,632.7 L711.4,631.2 L711.5,629.7 L711.5,628.2 L711.6,626.7 L711.7,625.2 L711.7,623.7 L711.8,622.2 L711.9,620.7 L711.9,619.2 L712.0,617.7 L712.1,616.2 L712.1,614.7 L712.2,613.2 L712.3,611.7 L712.4,610.2 L712.5,608.7 L712.6,607.2 L712.7,605.7 L712.8,604.1 L712.9,602.6 L713.0,601.1 L713.2,599.6 L713.3,598.1 L713.4,596.7 L713.6,595.2 L713.8,593.7 L713.9,592.2 L714.1,590.7 L714.3,589.2 L714.5,587.7 L714.8,586.2 L715.0,584.7 L715.3,583.2 L715.6,581.8 L716.0,580.3 L716.4,578.9 L716.8,577.4 L717.3,576.0 L717.9,574.6 L718.6,573.3 L719.4,572.0 L720.3,570.8 L721.3,569.7 L722.5,568.7 L723.8,567.9 L725.1,567.3 L726.5,566.7 L728.0,566.3 L729.4,566.0 L730.9,565.7 L732.4,565.5 L733.9,565.3 L735.4,565.2 L736.9,565.0 L738.4,564.9 L739.9,564.9 L741.4,564.8 L742.9,564.7 L744.4,564.7 L745.9,564.6 L747.4,564.6 L748.9,564.6 L750.4,564.5 L751.9,564.5 L753.4,564.5 L755.0,564.5 L756.5,564.5 L758.0,564.4 L759.5,564.4 L761.0,564.4 L762.5,564.4 L764.0,564.4 L765.5,564.4 L767.0,564.4 L768.5,564.4 L770.0,564.4 L771.5,564.4 L773.0,564.4 L774.5,564.4 L776.0,564.4 L777.5,564.3 L779.0,564.3 L780.5,564.3 L782.0,564.3 L783.6,564.3 L785.1,564.3 L786.6,564.3 L788.1,564.3 L789.6,564.3 L791.1,564.3 L792.6,564.3 L794.1,564.3 L795.6,564.3 L797.1,564.3 L798.6,564.3 L800.1,564.3 L801.6,564.3 L803.1,564.3 L804.6,564.3 L806.1,564.3 L807.6,564.3 L809.1,564.3 L810.6,564.3 L812.2,564.3 L813.7,564.3 L815.2,564.3 L816.7,564.3 L818.2,564.3 L819.7,564.3 L821.2,564.3 L822.7,564.3 L824.2,564.3 L825.7,564.3 L827.2,564.3 L828.7,564.3 L830.2,564.3 L831.7,564.3 L833.2,564.3 L834.7,564.3 L836.2,564.3 L837.7,564.3 L839.2,564.3 L840.8,564.3 L842.3,564.3 L843.8,564.3 L845.3,564.3 L846.8,564.3 L848.3,564.3 L849.8,564.3 L851.3,564.3 L852.8,564.3 L854.3,564.3 L855.8,564.3 L857.3,564.3 L858.8,564.3 L860.3,564.3 L861.8,564.3 L863.3,564.3 L864.8,564.3 L866.3,564.3 L867.8,564.3 L869.4,564.3 L870.9,564.3 L872.4,564.3 L873.9,564.3 L875.4,564.3 L876.9,564.3 L878.4,564.3 L879.9,564.3 L881.4,564.3 L882.9,564.3 L884.4,564.3 L885.9,564.3 L887.4,564.3 L888.9,564.3 L890.4,564.3 L891.9,564.3 L893.4,564.3 L894.9,564.3 L896.4,564.3 L898.0,564.3 L899.5,564.3 L901.0,564.3 L902.5,564.3 L904.0,564.3 L905.5,564.3 L907.0,564.3 L908.5,564.3 L910.0,564.3 L911.5,564.3 L913.0,564.3 L914.5,564.3 L916.0,564.3 L917.5,564.3 L919.0,564.3 L920.5,564.3 L922.0,564.3 L923.5,564.3 L925.0,564.3 L926.6,564.3 L928.1,564.3 L929.6,564.3 L931.1,564.3 L932.6,564.3 L934.1,564.3 L935.6,564.3 L937.1,564.3 L938.6,564.3 L940.1,564.3 L941.6,564.3 L943.1,564.3 L944.6,564.3 L946.1,564.3 L947.6,564.3 L949.1,564.3 L950.6,564.3 L952.1,564.3 L953.6,564.3 L955.2,564.3 L956.7,564.3 L958.2,564.3 L959.7,564.3 L961.2,564.3 L962.7,564.3 L964.2,564.3 L965.7,564.3 L967.2,564.3 L968.7,564.3 L970.2,564.3 L971.7,564.3 L973.2,564.3 L974.7,564.3 L976.2,564.3 L977.7,564.3 L979.2,564.3 L980.7,564.3 L982.2,564.3 L983.8,564.3 L985.3,564.3 L986.8,564.3 L988.3,564.3 L989.8,564.3 L991.3,564.3 L992.8,564.3 L994.3,564.3 L995.8,564.3 L997.3,564.3 L998.8,564.3 L1000.3,564.3 L1001.8,564.3 L1003.3,564.3 L1004.8,564.3 L1006.3,564.3 L1007.8,564.3 L1009.3,564.3 L1010.8,564.3 L1012.4,564.3 L1013.9,564.3 L1015.4,564.3 L1016.9,564.3 L1018.4,564.3 L1019.9,564.3 L1021.4,564.3 L1022.9,564.3 L1024.4,564.3 L1025.9,564.3 L1027.4,564.3 L1028.9,564.3 L1030.4,564.3 L1031.9,564.3 L1033.4,564.3 L1034.9,564.3 L1036.4,564.3 L1037.9,564.3 L1039.4,564.3 L1041.0,564.3 L1042.5,564.3 L1044.0,564.3 L1045.5,564.3 L1047.0,564.3 L1048.5,564.3 L1050.0,564.3 L1051.5,564.3 L1053.0,564.3 L1054.5,564.3 L1056.0,564.3 L1057.5,564.3 L1059.0,564.3 L1060.5,564.3 L1062.0,564.3 L1063.5,564.3 L1065.0,564.3 L1066.5,564.3 L1068.0,564.3 L1069.6,564.3 L1071.1,564.3 L1072.6,564.3 L1074.1,564.3 L1075.6,564.3 L1077.1,564.3 L1078.6,564.3 L1080.1,564.3 L1081.6,564.3 L1083.1,564.3 L1084.6,564.3 L1086.1,564.3 L1087.6,564.3 L1089.1,564.3 L1090.6,564.3 L1092.1,564.3 L1093.6,564.3 L1095.1,564.3 L1096.6,564.3 L1098.2,564.3 L1099.7,564.3 L1101.2,564.3 L1102.7,564.3 L1104.2,564.3 L1105.7,564.3 L1107.2,564.3 L1108.7,564.3 L1110.2,564.3 L1111.7,564.3 L1113.2,564.3 L1114.7,564.3 L1116.2,564.3 L1117.7,564.3 L1119.2,564.3 L1120.7,564.3 L1122.2,564.3 L1123.7,564.3 L1125.2,564.3 L1126.8,564.3 L1128.3,564.3 L1129.8,564.3 L1131.3,564.3 L1132.8,564.3 L1134.3,564.3 L1135.8,564.3 L1137.3,564.3 L1138.8,564.3 L1140.3,564.3 L1141.8,564.3 L1143.3,564.3 L1144.8,564.3 L1146.3,564.3 L1147.8,564.3 L1149.3,564.3 L1150.8,564.3 L1152.3,564.3 L1153.8,564.3 L1155.4,564.3 L1156.9,564.3 L1158.4,564.3 L1159.9,564.3 L1161.4,564.3 L1162.9,564.3 L1164.4,564.3 L1165.9,564.3 L1167.4,564.3 L1168.9,564.3 L1170.4,564.3 L1171.9,564.3 L1173.4,564.3 L1174.9,564.3 L1176.4,564.3 L1177.9,564.3 L1179.4,564.3 L1180.9,564.3 L1182.4,564.3 L1184.0,564.3 L1185.5,564.3 L1187.0,564.3 L1188.5,564.3 L1190.0,564.3 L1191.5,564.3 L1193.0,564.3 L1194.5,564.3 L1196.0,564.3 L1186.6,564.3" class="cv" stroke="#4DAF4A"/>
</g>
<rect x="685.4" y="547.1" width="491.2" height="393.2" class="bd"/>
<line x1="1023.7" y1="834.8" x2="1049.5" y2="834.8" stroke="#E41A1C" stroke-width="4.6"/>
<text x="1056.8" y="844.5" class="lg">Males</text>
<line x1="1023.7" y1="867.3" x2="1049.5" y2="867.3" stroke="#377EB8" stroke-width="4.6"/>
<text x="1056.8" y="877.0" class="lg">Females</text>
<line x1="1023.7" y1="899.8" x2="1049.5" y2="899.8" stroke="#4DAF4A" stroke-width="4.6"/>
<text x="1056.8" y="909.5" class="lg">Children</text>
<text x="1532.5" y="528.5" class="ti">Ni</text>
<text class="yl" transform="translate(1213.55,743.2) rotate(-90)">Cumulative probability</text>
<line x1="1275.7" y1="923.2" x2="1278.3" y2="923.2" class="tk"/>
<text x="1274.7" y="933.5" class="yt">0.00</text>
<line x1="1275.7" y1="833.5" x2="1278.3" y2="833.5" class="tk"/>
<text x="1274.7" y="843.8" class="yt">0.25</text>
<line x1="1275.7" y1="743.8" x2="1278.3" y2="743.8" class="tk"/>
<text x="1274.7" y="754.0" class="yt">0.50</text>
<line x1="1275.7" y1="654.0" x2="1278.3" y2="654.0" class="tk"/>
<text x="1274.7" y="664.3" class="yt">0.75</text>
<line x1="1275.7" y1="564.3" x2="1278.3" y2="564.3" class="tk"/>
<text x="1274.7" y="574.6" class="yt">1.00</text>
<line x1="1300.3" y1="940.3" x2="1300.3" y2="942.9" class="tk"/>
<text x="1299.9" y="963.8" class="xt">0.0</text>
<line x1="1439.6" y1="940.3" x2="1439.6" y2="942.9" class="tk"/>
<text x="1439.2" y="963.8" class="xt">0.5</text>
<line x1="1578.5" y1="940.3" x2="1578.5" y2="942.9" class="tk"/>
<text x="1578.1" y="963.8" class="xt">1.0</text>
<line x1="1719.6" y1="940.3" x2="1719.6" y2="942.9" class="tk"/>
<text x="1719.2" y="963.8" class="xt">1.5</text>
<g clip-path="url(#cp5)">
<path d="M1268.3,923.2 L1299.5,923.2 L1299.5,921.7 L1299.5,920.2 L1299.5,918.7 L1299.5,917.2 L1299.6,915.7 L1299.6,914.2 L1299.6,912.7 L1299.6,911.2 L1299.6,909.7 L1299.6,908.2 L1299.6,906.6 L1299.6,905.1 L1299.7,903.6 L1299.7,902.1 L1299.7,900.6 L1299.7,899.1 L1299.7,897.6 L1299.7,896.1 L1299.7,894.6 L1299.7,893.1 L1299.7,891.6 L1299.8,890.1 L1299.8,888.6 L1299.8,887.1 L1299.8,885.6 L1299.8,884.1 L1299.8,882.6 L1299.8,881.1 L1299.8,879.6 L1299.9,878.1 L1299.9,876.5 L1299.9,875.0 L1299.9,873.5 L1299.9,872.0 L1299.9,870.5 L1299.9,869.0 L1299.9,867.5 L1300.0,866.0 L1300.0,864.5 L1300.0,863.0 L1300.0,861.5 L1300.0,860.0 L1300.0,858.5 L1300.0,857.0 L1300.1,855.5 L1300.1,854.0 L1300.1,852.5 L1300.1,851.0 L1300.1,849.5 L1300.1,848.0 L1300.1,846.4 L1300.2,844.9 L1300.2,843.4 L1300.2,841.9 L1300.2,840.4 L1300.2,838.9 L1300.2,837.4 L1300.3,835.9 L1300.3,834.4 L1300.3,832.9 L1300.3,831.4 L1300.3,829.9 L1300.3,828.4 L1300.4,826.9 L1300.4,825.4 L1300.4,823.9 L1300.4,822.4 L1300.4,820.9 L1300.5,819.4 L1300.5,817.9 L1300.5,816.4 L1300.5,814.8 L1300.5,813.3 L1300.6,811.8 L1300.6,810.3 L1300.6,808.8 L1300.6,807.3 L1300.6,805.8 L1300.7,804.3 L1300.7,802.8 L1300.7,801.3 L1300.7,799.8 L1300.8,798.3 L1300.8,796.8 L1300.8,795.3 L1300.8,793.8 L1300.9,792.3 L1300.9,790.8 L1300.9,789.3 L1300.9,787.8 L1301.0,786.3 L1301.0,784.7 L1301.0,783.2 L1301.0,781.7 L1301.1,780.2 L1301.1,778.7 L1301.1,777.2 L1301.2,775.7 L1301.2,774.2 L1301.2,772.7 L1301.3,771.2 L1301.3,769.7 L1301.3,768.2 L1301.3,766.7 L1301.4,765.2 L1301.4,763.7 L1301.4,762.2 L1301.5,760.7 L1301.5,759.2 L1301.6,757.7 L1301.6,756.2 L1301.6,754.7 L1301.7,753.2 L1301.7,751.6 L1301.7,750.1 L1301.8,748.6 L1301.8,747.1 L1301.9,745.6 L1301.9,744.1 L1301.9,742.6 L1302.0,741.1 L1302.0,739.6 L1302.1,738.1 L1302.1,736.6 L1302.2,735.1 L1302.2,733.6 L1302.3,732.1 L1302.3,730.6 L1302.3,729.1 L1302.4,727.6 L1302.4,726.1 L1302.5,724.6 L1302.6,723.1 L1302.6,721.6 L1302.7,720.1 L1302.7,718.6 L1302.8,717.0 L1302.8,715.5 L1302.9,714.0 L1302.9,712.5 L1303.0,711.0 L1303.1,709.5 L1303.1,708.0 L1303.2,706.5 L1303.3,705.0 L1303.3,703.5 L1303.4,702.0 L1303.5,700.5 L1303.5,699.0 L1303.6,697.5 L1303.7,696.0 L1303.8,694.5 L1303.9,693.0 L1303.9,691.5 L1304.0,690.0 L1304.1,688.5 L1304.2,687.0 L1304.3,685.5 L1304.4,684.0 L1304.5,682.5 L1304.6,681.0 L1304.6,679.5 L1304.7,678.0 L1304.8,676.5 L1305.0,675.0 L1305.1,673.5 L1305.2,672.0 L1305.3,670.5 L1305.4,669.0 L1305.5,667.5 L1305.6,666.0 L1305.8,664.5 L1305.9,663.0 L1306.0,661.5 L1306.2,660.0 L1306.3,658.5 L1306.4,657.0 L1306.6,655.5 L1306.7,654.0 L1306.9,652.5 L1307.1,651.0 L1307.2,649.5 L1307.4,648.0 L1307.6,646.5 L1307.8,645.0 L1308.0,643.5 L1308.2,642.0 L1308.4,640.5 L1308.6,639.0 L1308.8,637.5 L1309.0,636.1 L1309.2,634.6 L1309.5,633.1 L1309.7,631.6 L1310.0,630.1 L1310.3,628.6 L1310.5,627.2 L1310.8,625.7 L1311.1,624.2 L1311.5,622.7 L1311.8,621.3 L1312.1,619.8 L1312.5,618.3 L1312.9,616.9 L1313.3,615.4 L1313.7,614.0 L1314.1,612.5 L1314.6,611.1 L1315.0,609.7 L1315.5,608.3 L1316.0,606.8 L1316.6,605.4 L1317.2,604.0 L1317.8,602.7 L1318.4,601.3 L1319.1,600.0 L1319.7,598.6 L1320.5,597.3 L1321.2,596.0 L1322.1,594.7 L1322.9,593.5 L1323.8,592.3 L1324.7,591.1 L1325.7,589.9 L1326.7,588.8 L1327.7,587.7 L1328.8,586.7 L1329.9,585.7 L1331.1,584.7 L1332.3,583.8 L1333.5,582.9 L1334.8,582.1 L1336.0,581.3 L1337.4,580.6 L1338.7,579.8 L1340.0,579.2 L1341.4,578.5 L1342.8,577.9 L1344.2,577.4 L1345.6,576.8 L1347.0,576.3 L1348.4,575.8 L1349.8,575.4 L1351.3,575.0 L1352.7,574.6 L1354.2,574.2 L1355.7,573.8 L1357.1,573.5 L1358.6,573.1 L1360.1,572.8 L1361.5,572.5 L1363.0,572.3 L1364.5,572.0 L1366.0,571.7 L1367.5,571.5 L1369.0,571.3 L1370.4,571.0 L1371.9,570.8 L1373.4,570.6 L1374.9,570.4 L1376.4,570.3 L1377.9,570.1 L1379.4,569.9 L1380.9,569.8 L1382.4,569.6 L1383.9,569.5 L1385.4,569.3 L1386.9,569.2 L1388.4,569.1 L1389.9,568.9 L1391.4,568.8 L1392.9,568.7 L1394.4,568.6 L1395.9,568.5 L1397.4,568.4 L1398.9,568.3 L1400.4,568.2 L1401.9,568.1 L1403.4,568.0 L1404.9,567.9 L1406.4,567.8 L1407.9,567.8 L1409.4,567.7 L1410.9,567.6 L1412.4,567.5 L1413.9,567.5 L1415.4,567.4 L1416.9,567.3 L1418.4,567.3 L1419.9,567.2 L1421.4,567.1 L1422.9,567.1 L1424.4,567.0 L1426.0,567.0 L1427.5,566.9 L1429.0,566.9 L1430.5,566.8 L1432.0,566.8 L1433.5,566.7 L1435.0,566.7 L1436.5,566.6 L1438.0,566.6 L1439.5,566.5 L1441.0,566.5 L1442.5,566.5 L1444.0,566.4 L1445.5,566.4 L1447.0,566.3 L1448.5,566.3 L1450.0,566.3 L1451.5,566.2 L1453.0,566.2 L1454.5,566.2 L1456.0,566.1 L1457.5,566.1 L1459.1,566.1 L1460.6,566.0 L1462.1,566.0 L1463.6,566.0 L1465.1,566.0 L1466.6,565.9 L1468.1,565.9 L1469.6,565.9 L1471.1,565.9 L1472.6,565.8 L1474.1,565.8 L1475.6,565.8 L1477.1,565.8 L1478.6,565.7 L1480.1,565.7 L1481.6,565.7 L1483.1,565.7 L1484.6,565.7 L1486.1,565.6 L1487.6,565.6 L1489.1,565.6 L1490.7,565.6 L1492.2,565.6 L1493.7,565.5 L1495.2,565.5 L1496.7,565.5 L1498.2,565.5 L1499.7,565.5 L1501.2,565.5 L1502.7,565.4 L1504.2,565.4 L1505.7,565.4 L1507.2,565.4 L1508.7,565.4 L1510.2,565.4 L1511.7,565.4 L1513.2,565.3 L1514.7,565.3 L1516.2,565.3 L1517.7,565.3 L1519.2,565.3 L1520.8,565.3 L1522.3,565.3 L1523.8,565.2 L1525.3,565.2 L1526.8,565.2 L1528.3,565.2 L1529.8,565.2 L1531.3,565.2 L1532.8,565.2 L1534.3,565.2 L1535.8,565.2 L1537.3,565.1 L1538.8,565.1 L1540.3,565.1 L1541.8,565.1 L1543.3,565.1 L1544.8,565.1 L1546.3,565.1 L1547.8,565.1 L1549.3,565.1 L1550.9,565.1 L1552.4,565.1 L1553.9,565.0 L1555.4,565.0 L1556.9,565.0 L1558.4,565.0 L1559.9,565.0 L1561.4,565.0 L1562.9,565.0 L1564.4,565.0 L1565.9,565.0 L1567.4,565.0 L1568.9,565.0 L1570.4,565.0 L1571.9,565.0 L1573.4,564.9 L1574.9,564.9 L1576.4,564.9 L1577.9,564.9 L1579.4,564.9 L1581.0,564.9 L1582.5,564.9 L1584.0,564.9 L1585.5,564.9 L1587.0,564.9 L1588.5,564.9 L1590.0,564.9 L1591.5,564.9 L1593.0,564.9 L1594.5,564.9 L1596.0,564.9 L1597.5,564.8 L1599.0,564.8 L1600.5,564.8 L1602.0,564.8 L1603.5,564.8 L1605.0,564.8 L1606.5,564.8 L1608.0,564.8 L1609.5,564.8 L1611.1,564.8 L1612.6,564.8 L1614.1,564.8 L1615.6,564.8 L1617.1,564.8 L1618.6,564.8 L1620.1,564.8 L1621.6,564.8 L1623.1,564.8 L1624.6,564.8 L1626.1,564.8 L1627.6,564.7 L1629.1,564.7 L1630.6,564.7 L1632.1,564.7 L1633.6,564.7 L1635.1,564.7 L1636.6,564.7 L1638.1,564.7 L1639.6,564.7 L1641.2,564.7 L1642.7,564.7 L1644.2,564.7 L1645.7,564.7 L1647.2,564.7 L1648.7,564.7 L1650.2,564.7 L1651.7,564.7 L1653.2,564.7 L1654.7,564.7 L1656.2,564.7 L1657.7,564.7 L1659.2,564.7 L1660.7,564.7 L1662.2,564.7 L1663.7,564.7 L1665.2,564.7 L1666.7,564.7 L1668.2,564.7 L1669.7,564.6 L1671.3,564.6 L1672.8,564.6 L1674.3,564.6 L1675.8,564.6 L1677.3,564.6 L1678.8,564.6 L1680.3,564.6 L1681.8,564.6 L1683.3,564.6 L1684.8,564.6 L1686.3,564.6 L1687.8,564.6 L1689.3,564.6 L1690.8,564.6 L1692.3,564.6 L1693.8,564.6 L1695.3,564.6 L1696.8,564.6 L1698.3,564.6 L1699.8,564.6 L1701.4,564.6 L1702.9,564.6 L1704.4,564.6 L1705.9,564.6 L1707.4,564.6 L1708.9,564.6 L1710.4,564.6 L1711.9,564.6 L1713.4,564.6 L1714.9,564.6 L1716.4,564.6 L1717.9,564.6 L1719.4,564.6 L1720.9,564.6 L1722.4,564.6 L1723.9,564.6 L1725.4,564.6 L1726.9,564.6 L1728.4,564.6 L1729.9,564.6 L1731.5,564.6 L1733.0,564.6 L1734.5,564.5 L1736.0,564.5 L1737.5,564.5 L1739.0,564.5 L1740.5,564.5 L1742.0,564.5 L1743.5,564.5 L1745.0,564.5 L1746.5,564.5 L1748.0,564.5 L1749.5,564.5 L1751.0,564.5 L1752.5,564.5 L1754.0,564.5 L1755.5,564.5 L1757.0,564.5 L1758.5,564.5 L1760.0,564.5 L1761.6,564.5 L1763.1,564.5 L1764.6,564.5 L1766.1,564.5 L1767.6,564.5 L1769.1,564.5 L1770.6,564.5 L1772.1,564.5 L1773.6,564.5 L1775.1,564.5 L1776.6,564.5 L1778.1,564.5 L1779.6,564.5 L1781.1,564.5 L1782.6,564.5 L1784.1,564.5 L1785.6,564.5 L1787.1,564.5 L1788.6,564.5 L1778.8,564.5" class="cv" stroke="#E41A1C"/>
<path d="M1268.3,923.2 L1299.8,923.2 L1299.9,921.7 L1299.9,920.2 L1299.9,918.7 L1299.9,917.2 L1299.9,915.7 L1299.9,914.2 L1299.9,912.7 L1299.9,911.2 L1300.0,909.7 L1300.0,908.2 L1300.0,906.6 L1300.0,905.1 L1300.0,903.6 L1300.0,902.1 L1300.0,900.6 L1300.0,899.1 L1300.0,897.6 L1300.0,896.1 L1300.1,894.6 L1300.1,893.1 L1300.1,891.6 L1300.1,890.1 L1300.1,888.6 L1300.1,887.1 L1300.1,885.6 L1300.1,884.1 L1300.1,882.6 L1300.2,881.1 L1300.2,879.6 L1300.2,878.1 L1300.2,876.6 L1300.2,875.1 L1300.2,873.5 L1300.2,872.0 L1300.2,870.5 L1300.3,869.0 L1300.3,867.5 L1300.3,866.0 L1300.3,864.5 L1300.3,863.0 L1300.3,861.5 L1300.3,860.0 L1300.3,858.5 L1300.4,857.0 L1300.4,855.5 L1300.4,854.0 L1300.4,852.5 L1300.4,851.0 L1300.4,849.5 L1300.4,848.0 L1300.5,846.5 L1300.5,845.0 L1300.5,843.5 L1300.5,841.9 L1300.5,840.4 L1300.5,838.9 L1300.6,837.4 L1300.6,835.9 L1300.6,834.4 L1300.6,832.9 L1300.6,831.4 L1300.6,829.9 L1300.7,828.4 L1300.7,826.9 L1300.7,825.4 L1300.7,823.9 L1300.7,822.4 L1300.8,820.9 L1300.8,819.4 L1300.8,817.9 L1300.8,816.4 L1300.8,814.9 L1300.9,813.4 L1300.9,811.9 L1300.9,810.4 L1300.9,808.8 L1300.9,807.3 L1301.0,805.8 L1301.0,804.3 L1301.0,802.8 L1301.0,801.3 L1301.0,799.8 L1301.1,798.3 L1301.1,796.8 L1301.1,795.3 L1301.1,793.8 L1301.2,792.3 L1301.2,790.8 L1301.2,789.3 L1301.2,787.8 L1301.3,786.3 L1301.3,784.8 L1301.3,783.3 L1301.4,781.8 L1301.4,780.3 L1301.4,778.8 L1301.4,777.3 L1301.5,775.7 L1301.5,774.2 L1301.5,772.7 L1301.6,771.2 L1301.6,769.7 L1301.6,768.2 L1301.7,766.7 L1301.7,765.2 L1301.7,763.7 L1301.8,762.2 L1301.8,760.7 L1301.8,759.2 L1301.9,757.7 L1301.9,756.2 L1301.9,754.7 L1302.0,753.2 L1302.0,751.7 L1302.0,750.2 L1302.1,748.7 L1302.1,747.2 L1302.2,745.7 L1302.2,744.2 L1302.3,742.7 L1302.3,741.2 L1302.3,739.6 L1302.4,738.1 L1302.4,736.6 L1302.5,735.1 L1302.5,733.6 L1302.6,732.1 L1302.6,730.6 L1302.7,729.1 L1302.7,727.6 L1302.8,726.1 L1302.8,724.6 L1302.9,723.1 L1302.9,721.6 L1303.0,720.1 L1303.0,718.6 L1303.1,717.1 L1303.2,715.6 L1303.2,714.1 L1303.3,712.6 L1303.3,711.1 L1303.4,709.6 L1303.5,708.1 L1303.5,706.6 L1303.6,705.1 L1303.7,703.6 L1303.8,702.1 L1303.8,700.6 L1303.9,699.1 L1304.0,697.5 L1304.1,696.0 L1304.1,694.5 L1304.2,693.0 L1304.3,691.5 L1304.4,690.0 L1304.5,688.5 L1304.6,687.0 L1304.7,685.5 L1304.7,684.0 L1304.8,682.5 L1304.9,681.0 L1305.0,679.5 L1305.1,678.0 L1305.2,676.5 L1305.4,675.0 L1305.5,673.5 L1305.6,672.0 L1305.7,670.5 L1305.8,669.0 L1305.9,667.5 L1306.1,666.0 L1306.2,664.5 L1306.3,663.0 L1306.5,661.5 L1306.6,660.0 L1306.8,658.5 L1306.9,657.0 L1307.1,655.5 L1307.2,654.0 L1307.4,652.5 L1307.6,651.0 L1307.7,649.6 L1307.9,648.1 L1308.1,646.6 L1308.3,645.1 L1308.5,643.6 L1308.7,642.1 L1308.9,640.6 L1309.2,639.1 L1309.4,637.6 L1309.6,636.1 L1309.9,634.7 L1310.1,633.2 L1310.4,631.7 L1310.7,630.2 L1311.0,628.7 L1311.3,627.3 L1311.6,625.8 L1311.9,624.3 L1312.2,622.9 L1312.6,621.4 L1312.9,619.9 L1313.3,618.5 L1313.7,617.0 L1314.1,615.6 L1314.6,614.1 L1315.0,612.7 L1315.5,611.3 L1316.0,609.9 L1316.5,608.5 L1317.1,607.1 L1317.7,605.7 L1318.3,604.3 L1318.9,602.9 L1319.6,601.6 L1320.3,600.2 L1321.0,598.9 L1321.8,597.6 L1322.6,596.4 L1323.5,595.1 L1324.3,593.9 L1325.3,592.7 L1326.2,591.6 L1327.2,590.5 L1328.3,589.4 L1329.4,588.3 L1330.5,587.3 L1331.6,586.3 L1332.8,585.4 L1334.0,584.5 L1335.3,583.7 L1336.5,582.8 L1337.8,582.1 L1339.1,581.3 L1340.5,580.6 L1341.8,580.0 L1343.2,579.4 L1344.6,578.8 L1346.0,578.2 L1347.4,577.7 L1348.8,577.2 L1350.2,576.7 L1351.6,576.2 L1353.1,575.8 L1354.5,575.4 L1356.0,575.0 L1357.5,574.7 L1358.9,574.3 L1360.4,574.0 L1361.9,573.7 L1363.3,573.4 L1364.8,573.1 L1366.3,572.8 L1367.8,572.5 L1369.3,572.3 L1370.7,572.1 L1372.2,571.8 L1373.7,571.6 L1375.2,571.4 L1376.7,571.2 L1378.2,571.0 L1379.7,570.8 L1381.2,570.7 L1382.7,570.5 L1384.2,570.3 L1385.7,570.2 L1387.2,570.0 L1388.7,569.9 L1390.2,569.7 L1391.7,569.6 L1393.2,569.5 L1394.7,569.4 L1396.2,569.2 L1397.7,569.1 L1399.2,569.0 L1400.7,568.9 L1402.2,568.8 L1403.7,568.7 L1405.2,568.6 L1406.7,568.5 L1408.2,568.4 L1409.7,568.3 L1411.2,568.2 L1412.7,568.2 L1414.2,568.1 L1415.7,568.0 L1417.2,567.9 L1418.7,567.9 L1420.2,567.8 L1421.7,567.7 L1423.2,567.7 L1424.7,567.6 L1426.2,567.5 L1427.7,567.5 L1429.2,567.4 L1430.7,567.3 L1432.2,567.3 L1433.7,567.2 L1435.2,567.2 L1436.7,567.1 L1438.2,567.1 L1439.7,567.0 L1441.2,567.0 L1442.7,566.9 L1444.2,566.9 L1445.8,566.8 L1447.3,566.8 L1448.8,566.8 L1450.3,566.7 L1451.8,566.7 L1453.3,566.6 L1454.8,566.6 L1456.3,566.6 L1457.8,566.5 L1459.3,566.5 L1460.8,566.5 L1462.3,566.4 L1463.8,566.4 L1465.3,566.4 L1466.8,566.3 L1468.3,566.3 L1469.8,566.3 L1471.3,566.2 L1472.8,566.2 L1474.3,566.2 L1475.8,566.2 L1477.3,566.1 L1478.8,566.1 L1480.3,566.1 L1481.9,566.1 L1483.4,566.0 L1484.9,566.0 L1486.4,566.0 L1487.9,566.0 L1489.4,565.9 L1490.9,565.9 L1492.4,565.9 L1493.9,565.9 L1495.4,565.8 L1496.9,565.8 L1498.4,565.8 L1499.9,565.8 L1501.4,565.8 L1502.9,565.7 L1504.4,565.7 L1505.9,565.7 L1507.4,565.7 L1508.9,565.7 L1510.4,565.7 L1511.9,565.6 L1513.5,565.6 L1515.0,565.6 L1516.5,565.6 L1518.0,565.6 L1519.5,565.6 L1521.0,565.5 L1522.5,565.5 L1524.0,565.5 L1525.5,565.5 L1527.0,565.5 L1528.5,565.5 L1530.0,565.5 L1531.5,565.4 L1533.0,565.4 L1534.5,565.4 L1536.0,565.4 L1537.5,565.4 L1539.0,565.4 L1540.5,565.4 L1542.0,565.4 L1543.5,565.3 L1545.0,565.3 L1546.6,565.3 L1548.1,565.3 L1549.6,565.3 L1551.1,565.3 L1552.6,565.3 L1554.1,565.3 L1555.6,565.3 L1557.1,565.2 L1558.6,565.2 L1560.1,565.2 L1561.6,565.2 L1563.1,565.2 L1564.6,565.2 L1566.1,565.2 L1567.6,565.2 L1569.1,565.2 L1570.6,565.2 L1572.1,565.2 L1573.6,565.1 L1575.1,565.1 L1576.6,565.1 L1578.2,565.1 L1579.7,565.1 L1581.2,565.1 L1582.7,565.1 L1584.2,565.1 L1585.7,565.1 L1587.2,565.1 L1588.7,565.1 L1590.2,565.1 L1591.7,565.0 L1593.2,565.0 L1594.7,565.0 L1596.2,565.0 L1597.7,565.0 L1599.2,565.0 L1600.7,565.0 L1602.2,565.0 L1603.7,565.0 L1605.2,565.0 L1606.7,565.0 L1608.2,565.0 L1609.7,565.0 L1611.3,565.0 L1612.8,565.0 L1614.3,564.9 L1615.8,564.9 L1617.3,564.9 L1618.8,564.9 L1620.3,564.9 L1621.8,564.9 L1623.3,564.9 L1624.8,564.9 L1626.3,564.9 L1627.8,564.9 L1629.3,564.9 L1630.8,564.9 L1632.3,564.9 L1633.8,564.9 L1635.3,564.9 L1636.8,564.9 L1638.3,564.9 L1639.8,564.9 L1641.3,564.9 L1642.9,564.8 L1644.4,564.8 L1645.9,564.8 L1647.4,564.8 L1648.9,564.8 L1650.4,564.8 L1651.9,564.8 L1653.4,564.8 L1654.9,564.8 L1656.4,564.8 L1657.9,564.8 L1659.4,564.8 L1660.9,564.8 L1662.4,564.8 L1663.9,564.8 L1665.4,564.8 L1666.9,564.8 L1668.4,564.8 L1669.9,564.8 L1671.4,564.8 L1672.9,564.8 L1674.5,564.8 L1676.0,564.8 L1677.5,564.8 L1679.0,564.8 L1680.5,564.7 L1682.0,564.7 L1683.5,564.7 L1685.0,564.7 L1686.5,564.7 L1688.0,564.7 L1689.5,564.7 L1691.0,564.7 L1692.5,564.7 L1694.0,564.7 L1695.5,564.7 L1697.0,564.7 L1698.5,564.7 L1700.0,564.7 L1701.5,564.7 L1703.0,564.7 L1704.5,564.7 L1706.1,564.7 L1707.6,564.7 L1709.1,564.7 L1710.6,564.7 L1712.1,564.7 L1713.6,564.7 L1715.1,564.7 L1716.6,564.7 L1718.1,564.7 L1719.6,564.7 L1721.1,564.7 L1722.6,564.7 L1724.1,564.7 L1725.6,564.7 L1727.1,564.7 L1728.6,564.7 L1730.1,564.7 L1731.6,564.6 L1733.1,564.6 L1734.6,564.6 L1736.1,564.6 L1737.6,564.6 L1739.2,564.6 L1740.7,564.6 L1742.2,564.6 L1743.7,564.6 L1745.2,564.6 L1746.7,564.6 L1748.2,564.6 L1749.7,564.6 L1751.2,564.6 L1752.7,564.6 L1754.2,564.6 L1755.7,564.6 L1757.2,564.6 L1758.7,564.6 L1760.2,564.6 L1761.7,564.6 L1763.2,564.6 L1764.7,564.6 L1766.2,564.6 L1767.7,564.6 L1769.2,564.6 L1770.8,564.6 L1772.3,564.6 L1773.8,564.6 L1775.3,564.6 L1776.8,564.6 L1778.3,564.6 L1779.8,564.6 L1781.3,564.6 L1782.8,564.6 L1784.3,564.6 L1785.8,564.6 L1787.3,564.6 L1778.8,564.6" class="cv" stroke="#377EB8"/>
<path d="M1268.3,923.2 L1299.9,923.2 L1300.0,921.7 L1300.0,920.2 L1300.0,918.7 L1300.0,917.2 L1300.0,915.7 L1300.0,914.2 L1300.0,912.7 L1300.1,911.2 L1300.1,909.7 L1300.1,908.2 L1300.1,906.7 L1300.1,905.1 L1300.1,903.6 L1300.1,902.1 L1300.1,900.6 L1300.1,899.1 L1300.1,897.6 L1300.1,896.1 L1300.1,894.6 L1300.1,893.1 L1300.1,891.6 L1300.1,890.1 L1300.1,888.6 L1300.1,887.1 L1300.1,885.6 L1300.1,884.0 L1300.1,882.5 L1300.1,881.0 L1300.1,879.5 L1300.2,878.0 L1300.2,876.5 L1300.2,875.0 L1300.2,873.5 L1300.2,872.0 L1300.2,870.5 L1300.2,869.0 L1300.2,867.5 L1300.2,866.0 L1300.2,864.5 L1300.2,863.0 L1300.2,861.4 L1300.2,859.9 L1300.2,858.4 L1300.2,856.9 L1300.2,855.4 L1300.2,853.9 L1300.2,852.4 L1300.2,850.9 L1300.2,849.4 L1300.2,847.9 L1300.2,846.4 L1300.2,844.9 L1300.2,843.4 L1300.2,841.9 L1300.2,840.3 L1300.2,838.8 L1300.2,837.3 L1300.3,835.8 L1300.3,834.3 L1300.3,832.8 L1300.3,831.3 L1300.3,829.8 L1300.3,828.3 L1300.3,826.8 L1300.3,825.3 L1300.3,823.8 L1300.3,822.3 L1300.3,820.8 L1300.3,819.2 L1300.3,817.7 L1300.3,816.2 L1300.3,814.7 L1300.3,813.2 L1300.3,811.7 L1300.3,810.2 L1300.3,808.7 L1300.3,807.2 L1300.3,805.7 L1300.3,804.2 L1300.3,802.7 L1300.3,801.2 L1300.3,799.7 L1300.3,798.2 L1300.3,796.6 L1300.3,795.1 L1300.4,793.6 L1300.4,792.1 L1300.4,790.6 L1300.4,789.1 L1300.4,787.6 L1300.4,786.1 L1300.4,784.6 L1300.4,783.1 L1300.4,781.6 L1300.4,780.1 L1300.4,778.6 L1300.4,777.1 L1300.4,775.5 L1300.4,774.0 L1300.4,772.5 L1300.4,771.0 L1300.4,769.5 L1300.4,768.0 L1300.4,766.5 L1300.4,765.0 L1300.4,763.5 L1300.4,762.0 L1300.4,760.5 L1300.4,759.0 L1300.4,757.5 L1300.5,756.0 L1300.5,754.5 L1300.5,752.9 L1300.5,751.4 L1300.5,749.9 L1300.5,748.4 L1300.5,746.9 L1300.5,745.4 L1300.5,743.9 L1300.5,742.4 L1300.5,740.9 L1300.5,739.4 L1300.5,737.9 L1300.5,736.4 L1300.5,734.9 L1300.5,733.4 L1300.5,731.8 L1300.5,730.3 L1300.5,728.8 L1300.5,727.3 L1300.5,725.8 L1300.5,724.3 L1300.6,722.8 L1300.6,721.3 L1300.6,719.8 L1300.6,718.3 L1300.6,716.8 L1300.6,715.3 L1300.6,713.8 L1300.6,712.3 L1300.6,710.8 L1300.6,709.2 L1300.6,707.7 L1300.6,706.2 L1300.6,704.7 L1300.6,703.2 L1300.6,701.7 L1300.6,700.2 L1300.6,698.7 L1300.6,697.2 L1300.7,695.7 L1300.7,694.2 L1300.7,692.7 L1300.7,691.2 L1300.7,689.7 L1300.7,688.1 L1300.7,686.6 L1300.7,685.1 L1300.7,683.6 L1300.7,682.1 L1300.7,680.6 L1300.7,679.1 L1300.7,677.6 L1300.7,676.1 L1300.7,674.6 L1300.8,673.1 L1300.8,671.6 L1300.8,670.1 L1300.8,668.6 L1300.8,667.1 L1300.8,665.5 L1300.8,664.0 L1300.8,662.5 L1300.8,661.0 L1300.8,659.5 L1300.8,658.0 L1300.8,656.5 L1300.9,655.0 L1300.9,653.5 L1300.9,652.0 L1300.9,650.5 L1300.9,649.0 L1300.9,647.5 L1300.9,646.0 L1300.9,644.4 L1300.9,642.9 L1300.9,641.4 L1301.0,639.9 L1301.0,638.4 L1301.0,636.9 L1301.0,635.4 L1301.0,633.9 L1301.0,632.4 L1301.0,630.9 L1301.0,629.4 L1301.1,627.9 L1301.1,626.4 L1301.1,624.9 L1301.1,623.4 L1301.1,621.8 L1301.1,620.3 L1301.1,618.8 L1301.2,617.3 L1301.2,615.8 L1301.2,614.3 L1301.2,612.8 L1301.2,611.3 L1301.3,609.8 L1301.3,608.3 L1301.3,606.8 L1301.3,605.3 L1301.3,603.8 L1301.4,602.3 L1301.4,600.7 L1301.4,599.2 L1301.4,597.7 L1301.5,596.2 L1301.5,594.7 L1301.5,593.2 L1301.6,591.7 L1301.6,590.2 L1301.6,588.7 L1301.7,587.2 L1301.7,585.7 L1301.8,584.2 L1301.8,582.7 L1301.9,581.2 L1302.0,579.7 L1302.0,578.2 L1302.1,576.6 L1302.2,575.1 L1302.3,573.6 L1302.5,572.1 L1302.6,570.6 L1302.8,569.2 L1303.2,567.7 L1303.7,566.3 L1304.6,565.1 L1306.0,564.5 L1307.5,564.4 L1309.0,564.3 L1310.5,564.3 L1312.0,564.3 L1313.5,564.3 L1315.0,564.3 L1316.5,564.3 L1318.0,564.3 L1319.5,564.3 L1321.0,564.3 L1322.5,564.3 L1324.1,564.3 L1325.6,564.3 L1327.1,564.3 L1328.6,564.3 L1330.1,564.3 L1331.6,564.3 L1333.1,564.3 L1334.6,564.3 L1336.1,564.3 L1337.6,564.3 L1339.1,564.3 L1340.6,564.3 L1342.1,564.3 L1343.6,564.3 L1345.2,564.3 L1346.7,564.3 L1778.8,564.3" class="cv" stroke="#4DAF4A"/>
<line x1="1579.5" y1="940.3" x2="1579.5" y2="527.1" class="dash"/>
</g>
<rect x="1278.3" y="547.1" width="490.5" height="393.2" class="bd"/>
<line x1="1615.9" y1="834.8" x2="1641.7" y2="834.8" stroke="#E41A1C" stroke-width="4.6"/>
<text x="1649.0" y="844.5" class="lg">Males</text>
<line x1="1615.9" y1="867.3" x2="1641.7" y2="867.3" stroke="#377EB8" stroke-width="4.6"/>
<text x="1649.0" y="877.0" class="lg">Females</text>
<line x1="1615.9" y1="899.8" x2="1641.7" y2="899.8" stroke="#4DAF4A" stroke-width="4.6"/>
<text x="1649.0" y="909.5" class="lg">Children</text>
<text x="320.7" y="1019.6" class="ti">Zn</text>
<text class="yl" transform="translate(24.849999999999994,1237.0) rotate(-90)">Cumulative probability</text>
<line x1="87.0" y1="1416.8" x2="89.6" y2="1416.8" class="tk"/>
<text x="86.0" y="1427.1" class="yt">0.00</text>
<line x1="87.0" y1="1327.2" x2="89.6" y2="1327.2" class="tk"/>
<text x="86.0" y="1337.5" class="yt">0.25</text>
<line x1="87.0" y1="1237.5" x2="89.6" y2="1237.5" class="tk"/>
<text x="86.0" y="1247.8" class="yt">0.50</text>
<line x1="87.0" y1="1147.8" x2="89.6" y2="1147.8" class="tk"/>
<text x="86.0" y="1158.1" class="yt">0.75</text>
<line x1="87.0" y1="1058.2" x2="89.6" y2="1058.2" class="tk"/>
<text x="86.0" y="1068.5" class="yt">1.00</text>
<line x1="110.2" y1="1434.0" x2="110.2" y2="1436.6" class="tk"/>
<text x="109.8" y="1457.5" class="xt">0e+00</text>
<line x1="254.7" y1="1434.0" x2="254.7" y2="1436.6" class="tk"/>
<text x="254.3" y="1457.5" class="xt">1e-05</text>
<line x1="399.4" y1="1434.0" x2="399.4" y2="1436.6" class="tk"/>
<text x="399.0" y="1457.5" class="xt">2e-05</text>
<line x1="544.2" y1="1434.0" x2="544.2" y2="1436.6" class="tk"/>
<text x="543.8" y="1457.5" class="xt">3e-05</text>
<g clip-path="url(#cp6)">
<path d="M79.6,1416.8 L111.6,1416.8 L112.2,1415.5 L112.6,1414.0 L112.8,1412.6 L113.1,1411.1 L113.3,1409.6 L113.5,1408.1 L113.8,1406.6 L114.0,1405.1 L114.2,1403.6 L114.4,1402.1 L114.6,1400.6 L114.8,1399.2 L115.0,1397.7 L115.2,1396.2 L115.4,1394.7 L115.6,1393.2 L115.8,1391.7 L116.0,1390.2 L116.2,1388.7 L116.4,1387.2 L116.6,1385.7 L116.8,1384.2 L117.0,1382.7 L117.2,1381.3 L117.5,1379.8 L117.7,1378.3 L117.9,1376.8 L118.1,1375.3 L118.3,1373.8 L118.5,1372.3 L118.8,1370.8 L119.0,1369.3 L119.2,1367.8 L119.4,1366.4 L119.6,1364.9 L119.9,1363.4 L120.1,1361.9 L120.3,1360.4 L120.6,1358.9 L120.8,1357.4 L121.1,1355.9 L121.3,1354.5 L121.5,1353.0 L121.8,1351.5 L122.0,1350.0 L122.3,1348.5 L122.5,1347.0 L122.8,1345.6 L123.1,1344.1 L123.3,1342.6 L123.6,1341.1 L123.9,1339.6 L124.1,1338.1 L124.4,1336.7 L124.7,1335.2 L125.0,1333.7 L125.2,1332.2 L125.5,1330.7 L125.8,1329.3 L126.1,1327.8 L126.4,1326.3 L126.7,1324.8 L127.0,1323.4 L127.3,1321.9 L127.6,1320.4 L127.9,1318.9 L128.2,1317.5 L128.5,1316.0 L128.9,1314.5 L129.2,1313.1 L129.5,1311.6 L129.9,1310.1 L130.2,1308.7 L130.5,1307.2 L130.9,1305.7 L131.2,1304.3 L131.6,1302.8 L131.9,1301.3 L132.3,1299.9 L132.7,1298.4 L133.0,1297.0 L133.4,1295.5 L133.8,1294.0 L134.2,1292.6 L134.6,1291.1 L135.0,1289.7 L135.4,1288.2 L135.8,1286.8 L136.2,1285.3 L136.6,1283.9 L137.0,1282.4 L137.4,1281.0 L137.8,1279.5 L138.3,1278.1 L138.7,1276.7 L139.2,1275.2 L139.6,1273.8 L140.1,1272.3 L140.5,1270.9 L141.0,1269.5 L141.5,1268.0 L141.9,1266.6 L142.4,1265.2 L142.9,1263.8 L143.4,1262.3 L143.9,1260.9 L144.4,1259.5 L144.9,1258.1 L145.4,1256.7 L146.0,1255.3 L146.5,1253.9 L147.0,1252.5 L147.6,1251.1 L148.1,1249.7 L148.7,1248.3 L149.3,1246.9 L149.8,1245.5 L150.4,1244.1 L151.0,1242.7 L151.6,1241.3 L152.2,1239.9 L152.8,1238.6 L153.4,1237.2 L154.1,1235.8 L154.7,1234.5 L155.4,1233.1 L156.0,1231.7 L156.7,1230.4 L157.3,1229.0 L158.0,1227.7 L158.7,1226.3 L159.4,1225.0 L160.1,1223.7 L160.8,1222.3 L161.5,1221.0 L162.2,1219.7 L163.0,1218.4 L163.7,1217.1 L164.5,1215.8 L165.2,1214.5 L166.0,1213.2 L166.8,1211.9 L167.5,1210.6 L168.3,1209.3 L169.1,1208.1 L170.0,1206.8 L170.8,1205.5 L171.6,1204.3 L172.5,1203.0 L173.3,1201.8 L174.2,1200.6 L175.0,1199.3 L175.9,1198.1 L176.8,1196.9 L177.7,1195.7 L178.6,1194.5 L179.5,1193.3 L180.5,1192.1 L181.4,1190.9 L182.3,1189.7 L183.3,1188.6 L184.3,1187.4 L185.2,1186.3 L186.2,1185.1 L187.2,1184.0 L188.2,1182.9 L189.2,1181.8 L190.2,1180.7 L191.3,1179.6 L192.3,1178.5 L193.4,1177.4 L194.4,1176.3 L195.5,1175.2 L196.6,1174.2 L197.6,1173.1 L198.7,1172.1 L199.8,1171.1 L200.9,1170.1 L202.0,1169.0 L203.2,1168.0 L204.3,1167.1 L205.4,1166.1 L206.6,1165.1 L207.7,1164.1 L208.9,1163.2 L210.1,1162.2 L211.3,1161.3 L212.4,1160.4 L213.6,1159.4 L214.8,1158.5 L216.0,1157.6 L217.3,1156.7 L218.5,1155.9 L219.7,1155.0 L220.9,1154.1 L222.2,1153.3 L223.4,1152.4 L224.7,1151.6 L225.9,1150.8 L227.2,1149.9 L228.5,1149.1 L229.7,1148.3 L231.0,1147.5 L232.3,1146.8 L233.6,1146.0 L234.9,1145.2 L236.2,1144.5 L237.5,1143.7 L238.8,1143.0 L240.1,1142.2 L241.4,1141.5 L242.8,1140.8 L244.1,1140.1 L245.4,1139.4 L246.8,1138.7 L248.1,1138.0 L249.5,1137.4 L250.8,1136.7 L252.2,1136.0 L253.5,1135.4 L254.9,1134.7 L256.2,1134.1 L257.6,1133.5 L259.0,1132.9 L260.4,1132.2 L261.7,1131.6 L263.1,1131.0 L264.5,1130.4 L265.9,1129.9 L267.3,1129.3 L268.7,1128.7 L270.1,1128.1 L271.5,1127.6 L272.9,1127.0 L274.3,1126.5 L275.7,1125.9 L277.1,1125.4 L278.5,1124.9 L279.9,1124.4 L281.3,1123.9 L282.7,1123.3 L284.2,1122.8 L285.6,1122.4 L287.0,1121.9 L288.4,1121.4 L289.9,1120.9 L291.3,1120.4 L292.7,1120.0 L294.2,1119.5 L295.6,1119.0 L297.0,1118.6 L298.5,1118.1 L299.9,1117.7 L301.3,1117.3 L302.8,1116.8 L304.2,1116.4 L305.7,1116.0 L307.1,1115.6 L308.6,1115.1 L310.0,1114.7 L311.5,1114.3 L312.9,1113.9 L314.4,1113.5 L315.8,1113.1 L317.3,1112.8 L318.7,1112.4 L320.2,1112.0 L321.7,1111.6 L323.1,1111.2 L324.6,1110.9 L326.0,1110.5 L327.5,1110.2 L329.0,1109.8 L330.4,1109.5 L331.9,1109.1 L333.4,1108.8 L334.8,1108.4 L336.3,1108.1 L337.8,1107.8 L339.2,1107.4 L340.7,1107.1 L342.2,1106.8 L343.6,1106.5 L345.1,1106.1 L346.6,1105.8 L348.1,1105.5 L349.5,1105.2 L351.0,1104.9 L352.5,1104.6 L354.0,1104.3 L355.4,1104.0 L356.9,1103.7 L358.4,1103.4 L359.9,1103.2 L361.3,1102.9 L362.8,1102.6 L364.3,1102.3 L365.8,1102.0 L367.3,1101.8 L368.7,1101.5 L370.2,1101.2 L371.7,1101.0 L373.2,1100.7 L374.7,1100.5 L376.2,1100.2 L377.6,1100.0 L379.1,1099.7 L380.6,1099.5 L382.1,1099.2 L383.6,1099.0 L385.1,1098.7 L386.6,1098.5 L388.0,1098.2 L389.5,1098.0 L391.0,1097.8 L392.5,1097.5 L394.0,1097.3 L395.5,1097.1 L397.0,1096.9 L398.5,1096.6 L399.9,1096.4 L401.4,1096.2 L402.9,1096.0 L404.4,1095.8 L405.9,1095.6 L407.4,1095.4 L408.9,1095.1 L410.4,1094.9 L411.9,1094.7 L413.4,1094.5 L414.9,1094.3 L416.3,1094.1 L417.8,1093.9 L419.3,1093.7 L420.8,1093.5 L422.3,1093.3 L423.8,1093.2 L425.3,1093.0 L426.8,1092.8 L428.3,1092.6 L429.8,1092.4 L431.3,1092.2 L432.8,1092.0 L434.3,1091.9 L435.8,1091.7 L437.3,1091.5 L438.8,1091.3 L440.3,1091.2 L441.7,1091.0 L443.2,1090.8 L444.7,1090.6 L446.2,1090.5 L447.7,1090.3 L449.2,1090.1 L450.7,1090.0 L452.2,1089.8 L453.7,1089.7 L455.2,1089.5 L456.7,1089.3 L458.2,1089.2 L459.7,1089.0 L461.2,1088.9 L462.7,1088.7 L464.2,1088.6 L465.7,1088.4 L467.2,1088.3 L468.7,1088.1 L470.2,1088.0 L471.7,1087.8 L473.2,1087.7 L474.7,1087.5 L476.2,1087.4 L477.7,1087.2 L479.2,1087.1 L480.7,1087.0 L482.2,1086.8 L483.7,1086.7 L485.2,1086.5 L486.7,1086.4 L488.2,1086.3 L489.7,1086.1 L491.2,1086.0 L492.7,1085.9 L494.2,1085.7 L495.7,1085.6 L497.2,1085.5 L498.7,1085.4 L500.2,1085.2 L501.7,1085.1 L503.2,1085.0 L504.7,1084.9 L506.2,1084.7 L507.7,1084.6 L509.2,1084.5 L510.7,1084.4 L512.2,1084.2 L513.7,1084.1 L515.2,1084.0 L516.7,1083.9 L518.2,1083.8 L519.7,1083.7 L521.2,1083.5 L522.7,1083.4 L524.2,1083.3 L525.7,1083.2 L527.2,1083.1 L528.7,1083.0 L530.2,1082.9 L531.7,1082.8 L533.2,1082.7 L534.7,1082.5 L536.2,1082.4 L537.7,1082.3 L539.2,1082.2 L540.7,1082.1 L542.2,1082.0 L543.7,1081.9 L545.2,1081.8 L546.7,1081.7 L548.2,1081.6 L549.7,1081.5 L551.2,1081.4 L552.7,1081.3 L554.2,1081.2 L555.7,1081.1 L557.2,1081.0 L558.7,1080.9 L560.2,1080.8 L561.7,1080.7 L563.2,1080.6 L564.7,1080.5 L566.2,1080.4 L567.8,1080.3 L569.3,1080.3 L570.8,1080.2 L572.3,1080.1 L573.8,1080.0 L575.3,1079.9 L576.8,1079.8 L578.3,1079.7 L579.8,1079.6 L581.3,1079.5 L582.8,1079.4 L584.3,1079.4 L585.8,1079.3 L587.3,1079.2 L588.8,1079.1 L590.3,1079.0 L591.8,1078.9 L593.3,1078.9 L594.8,1078.8 L596.3,1078.7 L597.8,1078.6 L599.3,1078.5 L590.8,1078.5" class="cv" stroke="#E41A1C"/>
<path d="M79.6,1416.8 L115.7,1416.8 L116.4,1415.5 L116.7,1414.0 L117.0,1412.6 L117.2,1411.1 L117.5,1409.6 L117.7,1408.1 L117.9,1406.6 L118.1,1405.1 L118.3,1403.6 L118.6,1402.2 L118.8,1400.7 L119.0,1399.2 L119.2,1397.7 L119.4,1396.2 L119.6,1394.7 L119.8,1393.2 L120.0,1391.7 L120.2,1390.2 L120.4,1388.8 L120.7,1387.3 L120.9,1385.8 L121.1,1384.3 L121.3,1382.8 L121.5,1381.3 L121.7,1379.8 L121.9,1378.3 L122.2,1376.8 L122.4,1375.4 L122.6,1373.9 L122.8,1372.4 L123.1,1370.9 L123.3,1369.4 L123.5,1367.9 L123.8,1366.4 L124.0,1365.0 L124.2,1363.5 L124.5,1362.0 L124.7,1360.5 L125.0,1359.0 L125.2,1357.5 L125.5,1356.1 L125.7,1354.6 L126.0,1353.1 L126.2,1351.6 L126.5,1350.1 L126.7,1348.6 L127.0,1347.2 L127.3,1345.7 L127.5,1344.2 L127.8,1342.7 L128.1,1341.2 L128.4,1339.8 L128.7,1338.3 L128.9,1336.8 L129.2,1335.3 L129.5,1333.9 L129.8,1332.4 L130.1,1330.9 L130.4,1329.4 L130.7,1328.0 L131.0,1326.5 L131.3,1325.0 L131.7,1323.6 L132.0,1322.1 L132.3,1320.6 L132.6,1319.1 L133.0,1317.7 L133.3,1316.2 L133.6,1314.7 L134.0,1313.3 L134.3,1311.8 L134.7,1310.4 L135.0,1308.9 L135.4,1307.4 L135.7,1306.0 L136.1,1304.5 L136.5,1303.1 L136.8,1301.6 L137.2,1300.1 L137.6,1298.7 L138.0,1297.2 L138.4,1295.8 L138.8,1294.3 L139.2,1292.9 L139.6,1291.4 L140.0,1290.0 L140.4,1288.5 L140.8,1287.1 L141.3,1285.7 L141.7,1284.2 L142.1,1282.8 L142.6,1281.3 L143.0,1279.9 L143.5,1278.5 L143.9,1277.0 L144.4,1275.6 L144.9,1274.2 L145.4,1272.8 L145.8,1271.3 L146.3,1269.9 L146.8,1268.5 L147.3,1267.1 L147.8,1265.7 L148.3,1264.2 L148.9,1262.8 L149.4,1261.4 L149.9,1260.0 L150.5,1258.6 L151.0,1257.2 L151.6,1255.8 L152.1,1254.4 L152.7,1253.0 L153.3,1251.6 L153.8,1250.2 L154.4,1248.9 L155.0,1247.5 L155.6,1246.1 L156.2,1244.7 L156.8,1243.4 L157.5,1242.0 L158.1,1240.6 L158.7,1239.3 L159.4,1237.9 L160.0,1236.5 L160.7,1235.2 L161.4,1233.9 L162.0,1232.5 L162.7,1231.2 L163.4,1229.8 L164.1,1228.5 L164.8,1227.2 L165.6,1225.9 L166.3,1224.6 L167.0,1223.2 L167.8,1221.9 L168.5,1220.6 L169.3,1219.3 L170.1,1218.0 L170.9,1216.8 L171.6,1215.5 L172.4,1214.2 L173.3,1212.9 L174.1,1211.7 L174.9,1210.4 L175.7,1209.2 L176.6,1207.9 L177.4,1206.7 L178.3,1205.5 L179.2,1204.2 L180.0,1203.0 L180.9,1201.8 L181.8,1200.6 L182.7,1199.4 L183.7,1198.2 L184.6,1197.0 L185.5,1195.8 L186.5,1194.7 L187.4,1193.5 L188.4,1192.4 L189.4,1191.2 L190.3,1190.1 L191.3,1188.9 L192.3,1187.8 L193.3,1186.7 L194.4,1185.6 L195.4,1184.5 L196.4,1183.4 L197.5,1182.3 L198.5,1181.3 L199.6,1180.2 L200.7,1179.1 L201.7,1178.1 L202.8,1177.0 L203.9,1176.0 L205.0,1175.0 L206.1,1174.0 L207.2,1173.0 L208.4,1172.0 L209.5,1171.0 L210.6,1170.0 L211.8,1169.0 L213.0,1168.1 L214.1,1167.1 L215.3,1166.2 L216.5,1165.3 L217.7,1164.3 L218.9,1163.4 L220.1,1162.5 L221.3,1161.6 L222.5,1160.7 L223.7,1159.8 L224.9,1159.0 L226.2,1158.1 L227.4,1157.3 L228.6,1156.4 L229.9,1155.6 L231.1,1154.8 L232.4,1153.9 L233.7,1153.1 L235.0,1152.3 L236.2,1151.5 L237.5,1150.8 L238.8,1150.0 L240.1,1149.2 L241.4,1148.5 L242.7,1147.7 L244.0,1147.0 L245.3,1146.2 L246.6,1145.5 L248.0,1144.8 L249.3,1144.1 L250.6,1143.4 L252.0,1142.7 L253.3,1142.0 L254.6,1141.3 L256.0,1140.7 L257.3,1140.0 L258.7,1139.4 L260.1,1138.7 L261.4,1138.1 L262.8,1137.4 L264.1,1136.8 L265.5,1136.2 L266.9,1135.6 L268.3,1135.0 L269.6,1134.4 L271.0,1133.8 L272.4,1133.2 L273.8,1132.6 L275.2,1132.1 L276.6,1131.5 L278.0,1130.9 L279.4,1130.4 L280.8,1129.9 L282.2,1129.3 L283.6,1128.8 L285.0,1128.3 L286.4,1127.7 L287.8,1127.2 L289.2,1126.7 L290.7,1126.2 L292.1,1125.7 L293.5,1125.2 L294.9,1124.7 L296.4,1124.2 L297.8,1123.8 L299.2,1123.3 L300.6,1122.8 L302.1,1122.4 L303.5,1121.9 L304.9,1121.5 L306.4,1121.0 L307.8,1120.6 L309.3,1120.1 L310.7,1119.7 L312.1,1119.3 L313.6,1118.9 L315.0,1118.4 L316.5,1118.0 L317.9,1117.6 L319.4,1117.2 L320.8,1116.8 L322.3,1116.4 L323.7,1116.0 L325.2,1115.6 L326.6,1115.3 L328.1,1114.9 L329.5,1114.5 L331.0,1114.1 L332.5,1113.8 L333.9,1113.4 L335.4,1113.1 L336.8,1112.7 L338.3,1112.3 L339.8,1112.0 L341.2,1111.6 L342.7,1111.3 L344.2,1111.0 L345.6,1110.6 L347.1,1110.3 L348.6,1110.0 L350.0,1109.6 L351.5,1109.3 L353.0,1109.0 L354.4,1108.7 L355.9,1108.4 L357.4,1108.1 L358.8,1107.8 L360.3,1107.5 L361.8,1107.2 L363.3,1106.9 L364.7,1106.6 L366.2,1106.3 L367.7,1106.0 L369.2,1105.7 L370.6,1105.4 L372.1,1105.1 L373.6,1104.9 L375.1,1104.6 L376.6,1104.3 L378.0,1104.0 L379.5,1103.8 L381.0,1103.5 L382.5,1103.3 L384.0,1103.0 L385.4,1102.7 L386.9,1102.5 L388.4,1102.2 L389.9,1102.0 L391.4,1101.7 L392.9,1101.5 L394.3,1101.2 L395.8,1101.0 L397.3,1100.8 L398.8,1100.5 L400.3,1100.3 L401.8,1100.0 L403.3,1099.8 L404.7,1099.6 L406.2,1099.4 L407.7,1099.1 L409.2,1098.9 L410.7,1098.7 L412.2,1098.5 L413.7,1098.3 L415.2,1098.0 L416.6,1097.8 L418.1,1097.6 L419.6,1097.4 L421.1,1097.2 L422.6,1097.0 L424.1,1096.8 L425.6,1096.6 L427.1,1096.4 L428.6,1096.2 L430.0,1096.0 L431.5,1095.8 L433.0,1095.6 L434.5,1095.4 L436.0,1095.2 L437.5,1095.0 L439.0,1094.8 L440.5,1094.6 L442.0,1094.5 L443.5,1094.3 L445.0,1094.1 L446.5,1093.9 L448.0,1093.7 L449.4,1093.6 L450.9,1093.4 L452.4,1093.2 L453.9,1093.0 L455.4,1092.9 L456.9,1092.7 L458.4,1092.5 L459.9,1092.3 L461.4,1092.2 L462.9,1092.0 L464.4,1091.9 L465.9,1091.7 L467.4,1091.5 L468.9,1091.4 L470.4,1091.2 L471.9,1091.1 L473.4,1090.9 L474.9,1090.7 L476.4,1090.6 L477.8,1090.4 L479.3,1090.3 L480.8,1090.1 L482.3,1090.0 L483.8,1089.8 L485.3,1089.7 L486.8,1089.5 L488.3,1089.4 L489.8,1089.2 L491.3,1089.1 L492.8,1089.0 L494.3,1088.8 L495.8,1088.7 L497.3,1088.5 L498.8,1088.4 L500.3,1088.3 L501.8,1088.1 L503.3,1088.0 L504.8,1087.9 L506.3,1087.7 L507.8,1087.6 L509.3,1087.5 L510.8,1087.3 L512.3,1087.2 L513.8,1087.1 L515.3,1086.9 L516.8,1086.8 L518.3,1086.7 L519.8,1086.6 L521.3,1086.4 L522.8,1086.3 L524.3,1086.2 L525.8,1086.1 L527.3,1086.0 L528.8,1085.8 L530.3,1085.7 L531.8,1085.6 L533.3,1085.5 L534.8,1085.4 L536.3,1085.2 L537.8,1085.1 L539.3,1085.0 L540.8,1084.9 L542.3,1084.8 L543.8,1084.7 L545.3,1084.6 L546.8,1084.5 L548.3,1084.3 L549.8,1084.2 L551.3,1084.1 L552.8,1084.0 L554.3,1083.9 L555.8,1083.8 L557.3,1083.7 L558.8,1083.6 L560.3,1083.5 L561.8,1083.4 L563.3,1083.3 L564.8,1083.2 L566.3,1083.1 L567.8,1083.0 L569.3,1082.9 L570.8,1082.8 L572.3,1082.7 L573.8,1082.6 L575.3,1082.5 L576.8,1082.4 L578.3,1082.3 L579.8,1082.2 L581.3,1082.1 L582.8,1082.0 L584.3,1081.9 L585.8,1081.8 L587.3,1081.7 L588.8,1081.6 L590.3,1081.5 L591.8,1081.5 L593.3,1081.4 L594.8,1081.3 L596.3,1081.2 L597.8,1081.1 L599.3,1081.0 L590.8,1081.0" class="cv" stroke="#377EB8"/>
<path d="M79.6,1416.8 L112.4,1416.8 L112.8,1415.5 L113.0,1414.0 L113.0,1412.5 L113.1,1411.0 L113.2,1409.5 L113.3,1408.0 L113.3,1406.5 L113.4,1405.0 L113.4,1403.4 L113.5,1401.9 L113.5,1400.4 L113.6,1398.9 L113.6,1397.4 L113.7,1395.9 L113.7,1394.4 L113.8,1392.9 L113.8,1391.4 L113.9,1389.9 L113.9,1388.4 L114.0,1386.9 L114.0,1385.4 L114.0,1383.9 L114.1,1382.4 L114.1,1380.9 L114.2,1379.4 L114.2,1377.9 L114.2,1376.4 L114.3,1374.9 L114.3,1373.4 L114.4,1371.9 L114.4,1370.4 L114.4,1368.9 L114.5,1367.4 L114.5,1365.9 L114.6,1364.4 L114.6,1362.9 L114.6,1361.4 L114.7,1359.9 L114.7,1358.4 L114.8,1356.9 L114.8,1355.4 L114.8,1353.9 L114.9,1352.4 L114.9,1350.9 L115.0,1349.4 L115.0,1347.9 L115.1,1346.4 L115.1,1344.9 L115.1,1343.4 L115.2,1341.9 L115.2,1340.3 L115.3,1338.8 L115.3,1337.3 L115.3,1335.8 L115.4,1334.3 L115.4,1332.8 L115.5,1331.3 L115.5,1329.8 L115.5,1328.3 L115.6,1326.8 L115.6,1325.3 L115.7,1323.8 L115.7,1322.3 L115.8,1320.8 L115.8,1319.3 L115.8,1317.8 L115.9,1316.3 L115.9,1314.8 L116.0,1313.3 L116.0,1311.8 L116.1,1310.3 L116.1,1308.8 L116.2,1307.3 L116.2,1305.8 L116.2,1304.3 L116.3,1302.8 L116.3,1301.3 L116.4,1299.8 L116.4,1298.3 L116.5,1296.8 L116.5,1295.3 L116.6,1293.8 L116.6,1292.3 L116.7,1290.8 L116.7,1289.3 L116.8,1287.8 L116.8,1286.3 L116.9,1284.8 L116.9,1283.3 L117.0,1281.8 L117.0,1280.3 L117.1,1278.8 L117.1,1277.3 L117.2,1275.8 L117.2,1274.2 L117.3,1272.7 L117.3,1271.2 L117.4,1269.7 L117.4,1268.2 L117.5,1266.7 L117.6,1265.2 L117.6,1263.7 L117.7,1262.2 L117.7,1260.7 L117.8,1259.2 L117.8,1257.7 L117.9,1256.2 L118.0,1254.7 L118.0,1253.2 L118.1,1251.7 L118.1,1250.2 L118.2,1248.7 L118.3,1247.2 L118.3,1245.7 L118.4,1244.2 L118.4,1242.7 L118.5,1241.2 L118.6,1239.7 L118.6,1238.2 L118.7,1236.7 L118.8,1235.2 L118.8,1233.7 L118.9,1232.2 L119.0,1230.7 L119.1,1229.2 L119.1,1227.7 L119.2,1226.2 L119.3,1224.7 L119.3,1223.2 L119.4,1221.7 L119.5,1220.2 L119.6,1218.7 L119.6,1217.2 L119.7,1215.7 L119.8,1214.2 L119.9,1212.7 L120.0,1211.2 L120.0,1209.7 L120.1,1208.2 L120.2,1206.7 L120.3,1205.2 L120.4,1203.7 L120.5,1202.2 L120.6,1200.7 L120.6,1199.2 L120.7,1197.7 L120.8,1196.2 L120.9,1194.7 L121.0,1193.2 L121.1,1191.7 L121.2,1190.2 L121.3,1188.7 L121.4,1187.2 L121.5,1185.7 L121.6,1184.2 L121.7,1182.7 L121.8,1181.2 L121.9,1179.7 L122.1,1178.2 L122.2,1176.7 L122.3,1175.2 L122.4,1173.7 L122.5,1172.2 L122.6,1170.7 L122.8,1169.2 L122.9,1167.7 L123.0,1166.2 L123.1,1164.7 L123.3,1163.2 L123.4,1161.7 L123.5,1160.2 L123.7,1158.7 L123.8,1157.2 L124.0,1155.7 L124.1,1154.2 L124.3,1152.7 L124.4,1151.2 L124.6,1149.7 L124.7,1148.2 L124.9,1146.8 L125.1,1145.3 L125.3,1143.8 L125.4,1142.3 L125.6,1140.8 L125.8,1139.3 L126.0,1137.8 L126.2,1136.3 L126.4,1134.8 L126.6,1133.3 L126.8,1131.8 L127.0,1130.4 L127.2,1128.9 L127.5,1127.4 L127.7,1125.9 L127.9,1124.4 L128.2,1122.9 L128.4,1121.4 L128.7,1120.0 L129.0,1118.5 L129.2,1117.0 L129.5,1115.5 L129.8,1114.1 L130.1,1112.6 L130.4,1111.1 L130.8,1109.7 L131.1,1108.2 L131.5,1106.7 L131.8,1105.3 L132.2,1103.8 L132.6,1102.4 L133.0,1100.9 L133.5,1099.5 L133.9,1098.1 L134.4,1096.6 L134.9,1095.2 L135.4,1093.8 L135.9,1092.4 L136.5,1091.0 L137.1,1089.6 L137.7,1088.2 L138.3,1086.9 L139.0,1085.5 L139.7,1084.2 L140.5,1082.9 L141.2,1081.6 L142.1,1080.4 L142.9,1079.2 L143.9,1078.0 L144.8,1076.8 L145.8,1075.7 L146.9,1074.6 L148.0,1073.6 L149.1,1072.6 L150.3,1071.6 L151.5,1070.8 L152.7,1069.9 L154.0,1069.1 L155.3,1068.4 L156.6,1067.7 L158.0,1067.1 L159.4,1066.5 L160.8,1065.9 L162.2,1065.4 L163.6,1064.9 L165.1,1064.5 L166.5,1064.1 L168.0,1063.7 L169.4,1063.4 L170.9,1063.0 L172.4,1062.7 L173.8,1062.5 L175.3,1062.2 L176.8,1062.0 L178.3,1061.8 L179.8,1061.6 L181.3,1061.4 L182.8,1061.2 L184.3,1061.0 L185.8,1060.9 L187.3,1060.7 L188.8,1060.6 L190.3,1060.5 L191.8,1060.3 L193.2,1060.2 L194.7,1060.1 L196.2,1060.0 L197.7,1059.9 L199.2,1059.9 L200.8,1059.8 L202.3,1059.7 L203.8,1059.6 L205.3,1059.6 L206.8,1059.5 L208.3,1059.4 L209.8,1059.4 L211.3,1059.3 L212.8,1059.3 L214.3,1059.2 L215.8,1059.2 L217.3,1059.1 L218.8,1059.1 L220.3,1059.1 L221.8,1059.0 L223.3,1059.0 L224.8,1059.0 L226.3,1058.9 L227.8,1058.9 L229.3,1058.9 L230.8,1058.8 L232.3,1058.8 L233.8,1058.8 L235.3,1058.8 L236.8,1058.8 L238.3,1058.7 L239.8,1058.7 L241.3,1058.7 L242.8,1058.7 L244.3,1058.7 L245.8,1058.6 L247.3,1058.6 L248.8,1058.6 L250.3,1058.6 L251.8,1058.6 L253.3,1058.6 L254.8,1058.6 L256.3,1058.5 L257.8,1058.5 L259.3,1058.5 L260.9,1058.5 L262.4,1058.5 L263.9,1058.5 L265.4,1058.5 L266.9,1058.5 L268.4,1058.5 L269.9,1058.5 L271.4,1058.4 L272.9,1058.4 L274.4,1058.4 L275.9,1058.4 L277.4,1058.4 L278.9,1058.4 L280.4,1058.4 L281.9,1058.4 L283.4,1058.4 L284.9,1058.4 L286.4,1058.4 L287.9,1058.4 L289.4,1058.4 L290.9,1058.4 L292.4,1058.4 L293.9,1058.4 L295.4,1058.3 L296.9,1058.3 L298.4,1058.3 L299.9,1058.3 L301.4,1058.3 L302.9,1058.3 L304.4,1058.3 L305.9,1058.3 L307.4,1058.3 L308.9,1058.3 L310.5,1058.3 L312.0,1058.3 L313.5,1058.3 L315.0,1058.3 L316.5,1058.3 L318.0,1058.3 L319.5,1058.3 L321.0,1058.3 L322.5,1058.3 L324.0,1058.3 L325.5,1058.3 L327.0,1058.3 L328.5,1058.3 L330.0,1058.3 L331.5,1058.3 L333.0,1058.3 L334.5,1058.3 L336.0,1058.3 L337.5,1058.3 L339.0,1058.3 L340.5,1058.3 L342.0,1058.3 L343.5,1058.3 L345.0,1058.3 L346.5,1058.3 L348.0,1058.3 L349.5,1058.3 L351.0,1058.3 L352.5,1058.3 L354.0,1058.3 L355.5,1058.3 L357.0,1058.3 L358.5,1058.3 L360.0,1058.2 L361.6,1058.2 L363.1,1058.2 L364.6,1058.2 L366.1,1058.2 L367.6,1058.2 L369.1,1058.2 L370.6,1058.2 L372.1,1058.2 L373.6,1058.2 L375.1,1058.2 L376.6,1058.2 L378.1,1058.2 L379.6,1058.2 L381.1,1058.2 L382.6,1058.2 L384.1,1058.2 L385.6,1058.2 L387.1,1058.2 L388.6,1058.2 L390.1,1058.2 L391.6,1058.2 L393.1,1058.2 L394.6,1058.2 L396.1,1058.2 L397.6,1058.2 L399.1,1058.2 L400.6,1058.2 L402.1,1058.2 L403.6,1058.2 L405.1,1058.2 L406.6,1058.2 L408.1,1058.2 L409.6,1058.2 L411.2,1058.2 L412.7,1058.2 L414.2,1058.2 L415.7,1058.2 L417.2,1058.2 L418.7,1058.2 L420.2,1058.2 L421.7,1058.2 L423.2,1058.2 L424.7,1058.2 L426.2,1058.2 L427.7,1058.2 L429.2,1058.2 L430.7,1058.2 L432.2,1058.2 L433.7,1058.2 L435.2,1058.2 L436.7,1058.2 L438.2,1058.2 L439.7,1058.2 L441.2,1058.2 L442.7,1058.2 L444.2,1058.2 L445.7,1058.2 L447.2,1058.2 L448.7,1058.2 L450.2,1058.2 L451.7,1058.2 L453.2,1058.2 L454.7,1058.2 L456.2,1058.2 L457.7,1058.2 L459.2,1058.2 L460.7,1058.2 L462.3,1058.2 L463.8,1058.2 L465.3,1058.2 L466.8,1058.2 L468.3,1058.2 L469.8,1058.2 L471.3,1058.2 L472.8,1058.2 L474.3,1058.2 L475.8,1058.2 L477.3,1058.2 L478.8,1058.2 L480.3,1058.2 L481.8,1058.2 L483.3,1058.2 L484.8,1058.2 L486.3,1058.2 L487.8,1058.2 L489.3,1058.2 L490.8,1058.2 L492.3,1058.2 L493.8,1058.2 L495.3,1058.2 L496.8,1058.2 L498.3,1058.2 L499.8,1058.2 L501.3,1058.2 L502.8,1058.2 L504.3,1058.2 L505.8,1058.2 L507.3,1058.2 L508.8,1058.2 L510.3,1058.2 L511.9,1058.2 L513.4,1058.2 L514.9,1058.2 L516.4,1058.2 L517.9,1058.2 L519.4,1058.2 L520.9,1058.2 L522.4,1058.2 L523.9,1058.2 L525.4,1058.2 L526.9,1058.2 L528.4,1058.2 L529.9,1058.2 L531.4,1058.2 L532.9,1058.2 L534.4,1058.2 L535.9,1058.2 L537.4,1058.2 L538.9,1058.2 L540.4,1058.2 L541.9,1058.2 L543.4,1058.2 L544.9,1058.2 L546.4,1058.2 L547.9,1058.2 L549.4,1058.2 L550.9,1058.2 L552.4,1058.2 L553.9,1058.2 L555.4,1058.2 L556.9,1058.2 L558.4,1058.2 L559.9,1058.2 L561.5,1058.2 L563.0,1058.2 L564.5,1058.2 L566.0,1058.2 L567.5,1058.2 L569.0,1058.2 L570.5,1058.2 L572.0,1058.2 L573.5,1058.2 L575.0,1058.2 L576.5,1058.2 L578.0,1058.2 L579.5,1058.2 L581.0,1058.2 L582.5,1058.2 L584.0,1058.2 L585.5,1058.2 L587.0,1058.2 L588.5,1058.2 L590.0,1058.2 L591.5,1058.2 L593.0,1058.2 L594.5,1058.2 L596.0,1058.2 L597.5,1058.2 L599.0,1058.2 L600.5,1058.2 L590.8,1058.2" class="cv" stroke="#4DAF4A"/>
</g>
<rect x="89.6" y="1040.9" width="491.2" height="393.1" class="bd"/>
<line x1="427.9" y1="1328.5" x2="453.7" y2="1328.5" stroke="#E41A1C" stroke-width="4.6"/>
<text x="461.0" y="1338.2" class="lg">Males</text>
<line x1="427.9" y1="1361.0" x2="453.7" y2="1361.0" stroke="#377EB8" stroke-width="4.6"/>
<text x="461.0" y="1370.7" class="lg">Females</text>
<line x1="427.9" y1="1393.5" x2="453.7" y2="1393.5" stroke="#4DAF4A" stroke-width="4.6"/>
<text x="461.0" y="1403.2" class="lg">Children</text>
<text x="937.4" y="1019.6" class="ti">Cr</text>
<text class="yl" transform="translate(620.65,1237.0) rotate(-90)">Cumulative probability</text>
<line x1="682.8" y1="1416.8" x2="685.4" y2="1416.8" class="tk"/>
<text x="681.8" y="1427.1" class="yt">0.00</text>
<line x1="682.8" y1="1327.2" x2="685.4" y2="1327.2" class="tk"/>
<text x="681.8" y="1337.5" class="yt">0.25</text>
<line x1="682.8" y1="1237.5" x2="685.4" y2="1237.5" class="tk"/>
<text x="681.8" y="1247.8" class="yt">0.50</text>
<line x1="682.8" y1="1147.8" x2="685.4" y2="1147.8" class="tk"/>
<text x="681.8" y="1158.1" class="yt">0.75</text>
<line x1="682.8" y1="1058.2" x2="685.4" y2="1058.2" class="tk"/>
<text x="681.8" y="1068.5" class="yt">1.00</text>
<line x1="707.4" y1="1434.0" x2="707.4" y2="1436.6" class="tk"/>
<text x="707.0" y="1457.5" class="xt">0.0</text>
<line x1="847.0" y1="1434.0" x2="847.0" y2="1436.6" class="tk"/>
<text x="846.6" y="1457.5" class="xt">0.5</text>
<line x1="986.5" y1="1434.0" x2="986.5" y2="1436.6" class="tk"/>
<text x="986.1" y="1457.5" class="xt">1.0</text>
<line x1="1127.0" y1="1434.0" x2="1127.0" y2="1436.6" class="tk"/>
<text x="1126.6" y="1457.5" class="xt">1.5</text>
<g clip-path="url(#cp7)">
<path d="M675.4,1416.8 L707.5,1416.8 L707.9,1415.4 L708.0,1413.9 L708.1,1412.4 L708.2,1410.9 L708.2,1409.4 L708.3,1407.9 L708.3,1406.4 L708.3,1404.9 L708.4,1403.4 L708.4,1401.9 L708.5,1400.4 L708.5,1398.9 L708.5,1397.4 L708.6,1395.9 L708.6,1394.4 L708.6,1392.9 L708.7,1391.4 L708.7,1389.9 L708.7,1388.4 L708.8,1386.8 L708.8,1385.3 L708.8,1383.8 L708.9,1382.3 L708.9,1380.8 L708.9,1379.3 L709.0,1377.8 L709.0,1376.3 L709.0,1374.8 L709.0,1373.3 L709.1,1371.8 L709.1,1370.3 L709.1,1368.8 L709.2,1367.3 L709.2,1365.8 L709.2,1364.3 L709.2,1362.8 L709.3,1361.3 L709.3,1359.8 L709.3,1358.2 L709.4,1356.7 L709.4,1355.2 L709.4,1353.7 L709.4,1352.2 L709.5,1350.7 L709.5,1349.2 L709.5,1347.7 L709.6,1346.2 L709.6,1344.7 L709.6,1343.2 L709.6,1341.7 L709.7,1340.2 L709.7,1338.7 L709.7,1337.2 L709.8,1335.7 L709.8,1334.2 L709.8,1332.7 L709.8,1331.2 L709.9,1329.6 L709.9,1328.1 L709.9,1326.6 L710.0,1325.1 L710.0,1323.6 L710.0,1322.1 L710.1,1320.6 L710.1,1319.1 L710.1,1317.6 L710.1,1316.1 L710.2,1314.6 L710.2,1313.1 L710.2,1311.6 L710.3,1310.1 L710.3,1308.6 L710.3,1307.1 L710.4,1305.6 L710.4,1304.1 L710.4,1302.6 L710.5,1301.0 L710.5,1299.5 L710.5,1298.0 L710.5,1296.5 L710.6,1295.0 L710.6,1293.5 L710.6,1292.0 L710.7,1290.5 L710.7,1289.0 L710.7,1287.5 L710.8,1286.0 L710.8,1284.5 L710.8,1283.0 L710.9,1281.5 L710.9,1280.0 L711.0,1278.5 L711.0,1277.0 L711.0,1275.5 L711.1,1274.0 L711.1,1272.5 L711.1,1270.9 L711.2,1269.4 L711.2,1267.9 L711.2,1266.4 L711.3,1264.9 L711.3,1263.4 L711.4,1261.9 L711.4,1260.4 L711.4,1258.9 L711.5,1257.4 L711.5,1255.9 L711.5,1254.4 L711.6,1252.9 L711.6,1251.4 L711.7,1249.9 L711.7,1248.4 L711.7,1246.9 L711.8,1245.4 L711.8,1243.9 L711.9,1242.4 L711.9,1240.8 L712.0,1239.3 L712.0,1237.8 L712.0,1236.3 L712.1,1234.8 L712.1,1233.3 L712.2,1231.8 L712.2,1230.3 L712.3,1228.8 L712.3,1227.3 L712.4,1225.8 L712.4,1224.3 L712.5,1222.8 L712.5,1221.3 L712.6,1219.8 L712.6,1218.3 L712.7,1216.8 L712.7,1215.3 L712.8,1213.8 L712.8,1212.3 L712.9,1210.7 L712.9,1209.2 L713.0,1207.7 L713.0,1206.2 L713.1,1204.7 L713.1,1203.2 L713.2,1201.7 L713.3,1200.2 L713.3,1198.7 L713.4,1197.2 L713.4,1195.7 L713.5,1194.2 L713.6,1192.7 L713.6,1191.2 L713.7,1189.7 L713.7,1188.2 L713.8,1186.7 L713.9,1185.2 L713.9,1183.7 L714.0,1182.2 L714.1,1180.7 L714.1,1179.2 L714.2,1177.7 L714.3,1176.2 L714.4,1174.6 L714.4,1173.1 L714.5,1171.6 L714.6,1170.1 L714.7,1168.6 L714.8,1167.1 L714.8,1165.6 L714.9,1164.1 L715.0,1162.6 L715.1,1161.1 L715.2,1159.6 L715.3,1158.1 L715.4,1156.6 L715.4,1155.1 L715.5,1153.6 L715.6,1152.1 L715.7,1150.6 L715.8,1149.1 L715.9,1147.6 L716.0,1146.1 L716.1,1144.6 L716.3,1143.1 L716.4,1141.6 L716.5,1140.1 L716.6,1138.6 L716.7,1137.1 L716.8,1135.6 L717.0,1134.1 L717.1,1132.6 L717.2,1131.1 L717.4,1129.6 L717.5,1128.1 L717.6,1126.6 L717.8,1125.1 L717.9,1123.6 L718.1,1122.1 L718.3,1120.6 L718.4,1119.1 L718.6,1117.6 L718.8,1116.1 L718.9,1114.6 L719.1,1113.1 L719.3,1111.6 L719.5,1110.1 L719.7,1108.6 L720.0,1107.2 L720.2,1105.7 L720.4,1104.2 L720.6,1102.7 L720.9,1101.2 L721.2,1099.7 L721.4,1098.2 L721.7,1096.8 L722.0,1095.3 L722.3,1093.8 L722.7,1092.4 L723.0,1090.9 L723.4,1089.4 L723.8,1088.0 L724.2,1086.5 L724.6,1085.1 L725.1,1083.7 L725.6,1082.2 L726.1,1080.8 L726.7,1079.4 L727.3,1078.0 L727.9,1076.7 L728.6,1075.4 L729.4,1074.1 L730.2,1072.8 L731.1,1071.6 L732.0,1070.4 L733.0,1069.3 L734.1,1068.2 L735.2,1067.2 L736.4,1066.3 L737.7,1065.5 L739.0,1064.7 L740.3,1064.0 L741.7,1063.4 L743.1,1062.9 L744.5,1062.4 L746.0,1062.0 L747.4,1061.6 L748.9,1061.2 L750.4,1060.9 L751.8,1060.7 L753.3,1060.4 L754.8,1060.2 L756.3,1060.0 L757.8,1059.9 L759.3,1059.7 L760.8,1059.6 L762.3,1059.5 L763.8,1059.4 L765.3,1059.3 L766.8,1059.2 L768.3,1059.1 L769.8,1059.0 L771.3,1059.0 L772.8,1058.9 L774.3,1058.9 L775.8,1058.8 L777.4,1058.8 L778.9,1058.7 L780.4,1058.7 L781.9,1058.7 L783.4,1058.6 L784.9,1058.6 L786.4,1058.6 L787.9,1058.5 L789.4,1058.5 L790.9,1058.5 L792.4,1058.5 L793.9,1058.5 L795.4,1058.4 L796.9,1058.4 L798.4,1058.4 L799.9,1058.4 L801.4,1058.4 L802.9,1058.4 L804.5,1058.4 L806.0,1058.4 L807.5,1058.4 L809.0,1058.3 L810.5,1058.3 L812.0,1058.3 L813.5,1058.3 L815.0,1058.3 L816.5,1058.3 L818.0,1058.3 L819.5,1058.3 L821.0,1058.3 L822.5,1058.3 L824.0,1058.3 L825.5,1058.3 L827.0,1058.3 L828.5,1058.3 L830.0,1058.3 L831.5,1058.3 L833.1,1058.3 L834.6,1058.3 L836.1,1058.3 L837.6,1058.3 L839.1,1058.3 L840.6,1058.2 L842.1,1058.2 L843.6,1058.2 L845.1,1058.2 L846.6,1058.2 L848.1,1058.2 L849.6,1058.2 L851.1,1058.2 L852.6,1058.2 L854.1,1058.2 L855.6,1058.2 L857.1,1058.2 L858.6,1058.2 L860.2,1058.2 L861.7,1058.2 L863.2,1058.2 L864.7,1058.2 L866.2,1058.2 L867.7,1058.2 L869.2,1058.2 L870.7,1058.2 L872.2,1058.2 L873.7,1058.2 L875.2,1058.2 L876.7,1058.2 L878.2,1058.2 L879.7,1058.2 L881.2,1058.2 L882.7,1058.2 L884.2,1058.2 L885.7,1058.2 L887.3,1058.2 L888.8,1058.2 L890.3,1058.2 L891.8,1058.2 L893.3,1058.2 L894.8,1058.2 L896.3,1058.2 L897.8,1058.2 L899.3,1058.2 L900.8,1058.2 L902.3,1058.2 L903.8,1058.2 L905.3,1058.2 L906.8,1058.2 L908.3,1058.2 L909.8,1058.2 L911.3,1058.2 L912.8,1058.2 L914.4,1058.2 L915.9,1058.2 L917.4,1058.2 L918.9,1058.2 L920.4,1058.2 L921.9,1058.2 L923.4,1058.2 L924.9,1058.2 L926.4,1058.2 L927.9,1058.2 L929.4,1058.2 L930.9,1058.2 L932.4,1058.2 L933.9,1058.2 L935.4,1058.2 L936.9,1058.2 L938.4,1058.2 L939.9,1058.2 L941.5,1058.2 L943.0,1058.2 L944.5,1058.2 L946.0,1058.2 L947.5,1058.2 L949.0,1058.2 L950.5,1058.2 L952.0,1058.2 L953.5,1058.2 L955.0,1058.2 L956.5,1058.2 L958.0,1058.2 L959.5,1058.2 L961.0,1058.2 L962.5,1058.2 L964.0,1058.2 L965.5,1058.2 L967.0,1058.2 L968.6,1058.2 L970.1,1058.2 L971.6,1058.2 L973.1,1058.2 L974.6,1058.2 L976.1,1058.2 L977.6,1058.2 L979.1,1058.2 L980.6,1058.2 L982.1,1058.2 L983.6,1058.2 L985.1,1058.2 L986.6,1058.2 L988.1,1058.2 L989.6,1058.2 L991.1,1058.2 L992.6,1058.2 L994.1,1058.2 L995.7,1058.2 L997.2,1058.2 L998.7,1058.2 L1000.2,1058.2 L1001.7,1058.2 L1003.2,1058.2 L1004.7,1058.2 L1006.2,1058.2 L1007.7,1058.2 L1009.2,1058.2 L1010.7,1058.2 L1012.2,1058.2 L1013.7,1058.2 L1015.2,1058.2 L1016.7,1058.2 L1018.2,1058.2 L1019.7,1058.2 L1021.2,1058.2 L1022.8,1058.2 L1024.3,1058.2 L1025.8,1058.2 L1027.3,1058.2 L1028.8,1058.2 L1030.3,1058.2 L1031.8,1058.2 L1033.3,1058.2 L1034.8,1058.2 L1036.3,1058.2 L1037.8,1058.2 L1039.3,1058.2 L1040.8,1058.2 L1042.3,1058.2 L1043.8,1058.2 L1045.3,1058.2 L1046.8,1058.2 L1048.3,1058.2 L1049.9,1058.2 L1051.4,1058.2 L1052.9,1058.2 L1054.4,1058.2 L1055.9,1058.2 L1057.4,1058.2 L1058.9,1058.2 L1060.4,1058.2 L1061.9,1058.2 L1063.4,1058.2 L1064.9,1058.2 L1066.4,1058.2 L1067.9,1058.2 L1069.4,1058.2 L1070.9,1058.2 L1072.4,1058.2 L1073.9,1058.2 L1075.4,1058.2 L1077.0,1058.2 L1078.5,1058.2 L1080.0,1058.2 L1081.5,1058.2 L1083.0,1058.2 L1084.5,1058.2 L1086.0,1058.2 L1087.5,1058.2 L1089.0,1058.2 L1090.5,1058.2 L1092.0,1058.2 L1093.5,1058.2 L1095.0,1058.2 L1096.5,1058.2 L1098.0,1058.2 L1099.5,1058.2 L1101.0,1058.2 L1102.5,1058.2 L1104.1,1058.2 L1105.6,1058.2 L1107.1,1058.2 L1108.6,1058.2 L1110.1,1058.2 L1111.6,1058.2 L1113.1,1058.2 L1114.6,1058.2 L1116.1,1058.2 L1117.6,1058.2 L1119.1,1058.2 L1120.6,1058.2 L1122.1,1058.2 L1123.6,1058.2 L1125.1,1058.2 L1126.6,1058.2 L1128.1,1058.2 L1129.6,1058.2 L1131.2,1058.2 L1132.7,1058.2 L1134.2,1058.2 L1135.7,1058.2 L1137.2,1058.2 L1138.7,1058.2 L1140.2,1058.2 L1141.7,1058.2 L1143.2,1058.2 L1144.7,1058.2 L1146.2,1058.2 L1147.7,1058.2 L1149.2,1058.2 L1150.7,1058.2 L1152.2,1058.2 L1153.7,1058.2 L1155.2,1058.2 L1156.7,1058.2 L1158.3,1058.2 L1159.8,1058.2 L1161.3,1058.2 L1162.8,1058.2 L1164.3,1058.2 L1165.8,1058.2 L1167.3,1058.2 L1168.8,1058.2 L1170.3,1058.2 L1171.8,1058.2 L1173.3,1058.2 L1174.8,1058.2 L1176.3,1058.2 L1177.8,1058.2 L1179.3,1058.2 L1180.8,1058.2 L1182.3,1058.2 L1183.8,1058.2 L1185.3,1058.2 L1186.9,1058.2 L1188.4,1058.2 L1189.9,1058.2 L1191.4,1058.2 L1192.9,1058.2 L1194.4,1058.2 L1195.9,1058.2 L1186.6,1058.2" class="cv" stroke="#E41A1C"/>
<path d="M675.4,1416.8 L711.0,1416.8 L711.4,1415.4 L711.6,1413.9 L711.7,1412.4 L711.9,1410.9 L712.0,1409.4 L712.1,1407.9 L712.3,1406.4 L712.4,1404.9 L712.5,1403.4 L712.6,1401.9 L712.8,1400.4 L712.9,1398.9 L713.0,1397.4 L713.1,1395.9 L713.2,1394.4 L713.4,1392.9 L713.5,1391.4 L713.6,1389.9 L713.7,1388.4 L713.8,1386.9 L714.0,1385.4 L714.1,1383.9 L714.2,1382.4 L714.3,1380.9 L714.5,1379.4 L714.6,1377.9 L714.7,1376.4 L714.9,1374.9 L715.0,1373.4 L715.1,1371.9 L715.3,1370.4 L715.4,1368.9 L715.5,1367.4 L715.7,1365.9 L715.8,1364.4 L716.0,1362.9 L716.1,1361.4 L716.3,1359.9 L716.4,1358.4 L716.6,1356.9 L716.7,1355.4 L716.9,1353.9 L717.0,1352.4 L717.2,1350.9 L717.3,1349.4 L717.5,1347.9 L717.6,1346.4 L717.8,1344.9 L718.0,1343.5 L718.1,1342.0 L718.3,1340.5 L718.5,1339.0 L718.6,1337.5 L718.8,1336.0 L719.0,1334.5 L719.2,1333.0 L719.4,1331.5 L719.5,1330.0 L719.7,1328.5 L719.9,1327.0 L720.1,1325.5 L720.3,1324.0 L720.5,1322.5 L720.7,1321.0 L720.9,1319.6 L721.1,1318.1 L721.3,1316.6 L721.5,1315.1 L721.7,1313.6 L721.9,1312.1 L722.1,1310.6 L722.4,1309.1 L722.6,1307.6 L722.8,1306.2 L723.0,1304.7 L723.3,1303.2 L723.5,1301.7 L723.7,1300.2 L724.0,1298.7 L724.2,1297.2 L724.5,1295.8 L724.7,1294.3 L725.0,1292.8 L725.2,1291.3 L725.5,1289.8 L725.7,1288.3 L726.0,1286.9 L726.3,1285.4 L726.5,1283.9 L726.8,1282.4 L727.1,1280.9 L727.4,1279.5 L727.7,1278.0 L728.0,1276.5 L728.3,1275.0 L728.6,1273.6 L728.9,1272.1 L729.2,1270.6 L729.5,1269.1 L729.8,1267.7 L730.1,1266.2 L730.5,1264.7 L730.8,1263.3 L731.1,1261.8 L731.5,1260.3 L731.8,1258.9 L732.2,1257.4 L732.5,1255.9 L732.9,1254.5 L733.3,1253.0 L733.6,1251.6 L734.0,1250.1 L734.4,1248.7 L734.8,1247.2 L735.2,1245.8 L735.6,1244.3 L736.0,1242.9 L736.4,1241.4 L736.8,1240.0 L737.3,1238.5 L737.7,1237.1 L738.1,1235.6 L738.6,1234.2 L739.0,1232.8 L739.5,1231.3 L740.0,1229.9 L740.4,1228.5 L740.9,1227.1 L741.4,1225.6 L741.9,1224.2 L742.4,1222.8 L742.9,1221.4 L743.4,1220.0 L744.0,1218.6 L744.5,1217.2 L745.1,1215.8 L745.6,1214.4 L746.2,1213.0 L746.7,1211.6 L747.3,1210.2 L747.9,1208.8 L748.5,1207.4 L749.1,1206.0 L749.7,1204.7 L750.3,1203.3 L751.0,1201.9 L751.6,1200.6 L752.3,1199.2 L752.9,1197.9 L753.6,1196.5 L754.3,1195.2 L755.0,1193.8 L755.7,1192.5 L756.4,1191.2 L757.1,1189.9 L757.9,1188.6 L758.6,1187.2 L759.4,1185.9 L760.1,1184.7 L760.9,1183.4 L761.7,1182.1 L762.5,1180.8 L763.3,1179.5 L764.1,1178.3 L765.0,1177.0 L765.8,1175.8 L766.7,1174.6 L767.6,1173.3 L768.4,1172.1 L769.3,1170.9 L770.2,1169.7 L771.2,1168.5 L772.1,1167.3 L773.0,1166.1 L774.0,1165.0 L774.9,1163.8 L775.9,1162.7 L776.9,1161.5 L777.9,1160.4 L778.9,1159.3 L779.9,1158.2 L781.0,1157.1 L782.0,1156.0 L783.0,1154.9 L784.1,1153.9 L785.2,1152.8 L786.3,1151.8 L787.4,1150.7 L788.5,1149.7 L789.6,1148.7 L790.7,1147.7 L791.8,1146.7 L793.0,1145.7 L794.1,1144.8 L795.3,1143.8 L796.5,1142.9 L797.7,1142.0 L798.9,1141.0 L800.1,1140.1 L801.3,1139.2 L802.5,1138.3 L803.7,1137.5 L804.9,1136.6 L806.2,1135.8 L807.4,1134.9 L808.7,1134.1 L809.9,1133.3 L811.2,1132.5 L812.5,1131.7 L813.8,1130.9 L815.1,1130.1 L816.4,1129.4 L817.7,1128.6 L819.0,1127.9 L820.3,1127.1 L821.6,1126.4 L822.9,1125.7 L824.3,1125.0 L825.6,1124.3 L826.9,1123.6 L828.3,1123.0 L829.6,1122.3 L831.0,1121.6 L832.4,1121.0 L833.7,1120.4 L835.1,1119.7 L836.5,1119.1 L837.8,1118.5 L839.2,1117.9 L840.6,1117.3 L842.0,1116.7 L843.4,1116.2 L844.8,1115.6 L846.2,1115.1 L847.6,1114.5 L849.0,1114.0 L850.4,1113.4 L851.8,1112.9 L853.2,1112.4 L854.6,1111.9 L856.1,1111.4 L857.5,1110.9 L858.9,1110.4 L860.3,1109.9 L861.7,1109.4 L863.2,1109.0 L864.6,1108.5 L866.0,1108.1 L867.5,1107.6 L868.9,1107.2 L870.4,1106.7 L871.8,1106.3 L873.2,1105.9 L874.7,1105.5 L876.1,1105.0 L877.6,1104.6 L879.0,1104.2 L880.5,1103.8 L881.9,1103.4 L883.4,1103.1 L884.8,1102.7 L886.3,1102.3 L887.8,1101.9 L889.2,1101.6 L890.7,1101.2 L892.1,1100.8 L893.6,1100.5 L895.1,1100.1 L896.5,1099.8 L898.0,1099.5 L899.5,1099.1 L900.9,1098.8 L902.4,1098.5 L903.9,1098.2 L905.3,1097.8 L906.8,1097.5 L908.3,1097.2 L909.8,1096.9 L911.2,1096.6 L912.7,1096.3 L914.2,1096.0 L915.7,1095.7 L917.1,1095.4 L918.6,1095.2 L920.1,1094.9 L921.6,1094.6 L923.1,1094.3 L924.5,1094.1 L926.0,1093.8 L927.5,1093.5 L929.0,1093.3 L930.5,1093.0 L931.9,1092.8 L933.4,1092.5 L934.9,1092.3 L936.4,1092.0 L937.9,1091.8 L939.4,1091.5 L940.9,1091.3 L942.3,1091.1 L943.8,1090.8 L945.3,1090.6 L946.8,1090.4 L948.3,1090.2 L949.8,1089.9 L951.3,1089.7 L952.8,1089.5 L954.2,1089.3 L955.7,1089.1 L957.2,1088.9 L958.7,1088.7 L960.2,1088.4 L961.7,1088.2 L963.2,1088.0 L964.7,1087.8 L966.2,1087.6 L967.7,1087.5 L969.2,1087.3 L970.6,1087.1 L972.1,1086.9 L973.6,1086.7 L975.1,1086.5 L976.6,1086.3 L978.1,1086.1 L979.6,1086.0 L981.1,1085.8 L982.6,1085.6 L984.1,1085.4 L985.6,1085.3 L987.1,1085.1 L988.6,1084.9 L990.1,1084.8 L991.6,1084.6 L993.1,1084.4 L994.6,1084.3 L996.1,1084.1 L997.6,1084.0 L999.0,1083.8 L1000.5,1083.6 L1002.0,1083.5 L1003.5,1083.3 L1005.0,1083.2 L1006.5,1083.0 L1008.0,1082.9 L1009.5,1082.7 L1011.0,1082.6 L1012.5,1082.5 L1014.0,1082.3 L1015.5,1082.2 L1017.0,1082.0 L1018.5,1081.9 L1020.0,1081.8 L1021.5,1081.6 L1023.0,1081.5 L1024.5,1081.4 L1026.0,1081.2 L1027.5,1081.1 L1029.0,1081.0 L1030.5,1080.8 L1032.0,1080.7 L1033.5,1080.6 L1035.0,1080.5 L1036.5,1080.3 L1038.0,1080.2 L1039.5,1080.1 L1041.0,1080.0 L1042.5,1079.8 L1044.0,1079.7 L1045.5,1079.6 L1047.0,1079.5 L1048.5,1079.4 L1050.0,1079.3 L1051.5,1079.1 L1053.0,1079.0 L1054.5,1078.9 L1056.0,1078.8 L1057.5,1078.7 L1059.0,1078.6 L1060.5,1078.5 L1062.0,1078.4 L1063.5,1078.3 L1065.0,1078.2 L1066.5,1078.1 L1068.0,1078.0 L1069.5,1077.9 L1071.0,1077.8 L1072.5,1077.7 L1074.0,1077.6 L1075.5,1077.5 L1077.0,1077.4 L1078.5,1077.3 L1080.0,1077.2 L1081.5,1077.1 L1083.0,1077.0 L1084.5,1076.9 L1086.0,1076.8 L1087.5,1076.7 L1089.0,1076.6 L1090.5,1076.5 L1092.0,1076.4 L1093.5,1076.3 L1095.0,1076.2 L1096.5,1076.1 L1098.0,1076.1 L1099.5,1076.0 L1101.0,1075.9 L1102.5,1075.8 L1104.0,1075.7 L1105.6,1075.6 L1107.1,1075.5 L1108.6,1075.5 L1110.1,1075.4 L1111.6,1075.3 L1113.1,1075.2 L1114.6,1075.1 L1116.1,1075.0 L1117.6,1075.0 L1119.1,1074.9 L1120.6,1074.8 L1122.1,1074.7 L1123.6,1074.7 L1125.1,1074.6 L1126.6,1074.5 L1128.1,1074.4 L1129.6,1074.3 L1131.1,1074.3 L1132.6,1074.2 L1134.1,1074.1 L1135.6,1074.0 L1137.1,1074.0 L1138.6,1073.9 L1140.1,1073.8 L1141.6,1073.8 L1143.1,1073.7 L1144.6,1073.6 L1146.1,1073.6 L1147.6,1073.5 L1149.1,1073.4 L1150.6,1073.3 L1152.1,1073.3 L1153.6,1073.2 L1155.1,1073.1 L1156.6,1073.1 L1158.1,1073.0 L1159.7,1072.9 L1161.2,1072.9 L1162.7,1072.8 L1164.2,1072.8 L1165.7,1072.7 L1167.2,1072.6 L1168.7,1072.6 L1170.2,1072.5 L1171.7,1072.4 L1173.2,1072.4 L1174.7,1072.3 L1176.2,1072.3 L1177.7,1072.2 L1179.2,1072.1 L1180.7,1072.1 L1182.2,1072.0 L1183.7,1072.0 L1185.2,1071.9 L1186.7,1071.8 L1188.2,1071.8 L1189.7,1071.7 L1191.2,1071.7 L1192.7,1071.6 L1194.2,1071.6 L1195.7,1071.5 L1186.6,1071.5" class="cv" stroke="#377EB8"/>
<path d="M675.4,1416.8 L709.4,1416.8 L709.8,1415.4 L709.9,1413.9 L710.1,1412.4 L710.2,1410.9 L710.3,1409.4 L710.4,1407.9 L710.5,1406.4 L710.7,1404.9 L710.8,1403.4 L710.9,1401.9 L711.0,1400.4 L711.1,1398.9 L711.2,1397.4 L711.3,1395.9 L711.4,1394.4 L711.5,1392.9 L711.7,1391.4 L711.8,1389.9 L711.9,1388.3 L712.0,1386.8 L712.1,1385.3 L712.2,1383.8 L712.3,1382.3 L712.5,1380.8 L712.6,1379.3 L712.7,1377.8 L712.8,1376.3 L712.9,1374.8 L713.1,1373.3 L713.2,1371.8 L713.3,1370.3 L713.4,1368.8 L713.6,1367.3 L713.7,1365.8 L713.8,1364.3 L714.0,1362.8 L714.1,1361.3 L714.2,1359.8 L714.4,1358.3 L714.5,1356.8 L714.6,1355.3 L714.8,1353.8 L714.9,1352.3 L715.1,1350.9 L715.2,1349.4 L715.3,1347.9 L715.5,1346.4 L715.6,1344.9 L715.8,1343.4 L715.9,1341.9 L716.1,1340.4 L716.3,1338.9 L716.4,1337.4 L716.6,1335.9 L716.7,1334.4 L716.9,1332.9 L717.1,1331.4 L717.2,1329.9 L717.4,1328.4 L717.6,1326.9 L717.8,1325.4 L717.9,1323.9 L718.1,1322.4 L718.3,1320.9 L718.5,1319.4 L718.7,1317.9 L718.9,1316.4 L719.0,1314.9 L719.2,1313.5 L719.4,1312.0 L719.6,1310.5 L719.8,1309.0 L720.0,1307.5 L720.2,1306.0 L720.5,1304.5 L720.7,1303.0 L720.9,1301.5 L721.1,1300.0 L721.3,1298.5 L721.5,1297.1 L721.8,1295.6 L722.0,1294.1 L722.2,1292.6 L722.5,1291.1 L722.7,1289.6 L722.9,1288.1 L723.2,1286.6 L723.4,1285.2 L723.7,1283.7 L723.9,1282.2 L724.2,1280.7 L724.5,1279.2 L724.7,1277.7 L725.0,1276.3 L725.3,1274.8 L725.6,1273.3 L725.8,1271.8 L726.1,1270.4 L726.4,1268.9 L726.7,1267.4 L727.0,1265.9 L727.3,1264.4 L727.6,1263.0 L727.9,1261.5 L728.2,1260.0 L728.6,1258.6 L728.9,1257.1 L729.2,1255.6 L729.6,1254.2 L729.9,1252.7 L730.2,1251.2 L730.6,1249.8 L730.9,1248.3 L731.3,1246.8 L731.7,1245.4 L732.0,1243.9 L732.4,1242.5 L732.8,1241.0 L733.2,1239.5 L733.6,1238.1 L734.0,1236.6 L734.4,1235.2 L734.8,1233.7 L735.2,1232.3 L735.7,1230.9 L736.1,1229.4 L736.5,1228.0 L737.0,1226.5 L737.4,1225.1 L737.9,1223.7 L738.4,1222.2 L738.9,1220.8 L739.3,1219.4 L739.8,1218.0 L740.3,1216.5 L740.8,1215.1 L741.4,1213.7 L741.9,1212.3 L742.4,1210.9 L743.0,1209.5 L743.5,1208.1 L744.1,1206.7 L744.6,1205.3 L745.2,1203.9 L745.8,1202.5 L746.4,1201.1 L747.0,1199.8 L747.6,1198.4 L748.2,1197.0 L748.9,1195.7 L749.5,1194.3 L750.2,1192.9 L750.8,1191.6 L751.5,1190.2 L752.2,1188.9 L752.9,1187.6 L753.6,1186.2 L754.3,1184.9 L755.0,1183.6 L755.8,1182.3 L756.5,1181.0 L757.3,1179.7 L758.1,1178.4 L758.8,1177.1 L759.6,1175.8 L760.4,1174.6 L761.3,1173.3 L762.1,1172.0 L762.9,1170.8 L763.8,1169.6 L764.7,1168.3 L765.5,1167.1 L766.4,1165.9 L767.3,1164.7 L768.3,1163.5 L769.2,1162.3 L770.1,1161.1 L771.1,1160.0 L772.0,1158.8 L773.0,1157.7 L774.0,1156.5 L775.0,1155.4 L776.0,1154.3 L777.0,1153.2 L778.1,1152.1 L779.1,1151.0 L780.2,1149.9 L781.2,1148.9 L782.3,1147.8 L783.4,1146.8 L784.5,1145.8 L785.6,1144.7 L786.8,1143.7 L787.9,1142.8 L789.0,1141.8 L790.2,1140.8 L791.4,1139.9 L792.5,1138.9 L793.7,1138.0 L794.9,1137.1 L796.1,1136.2 L797.3,1135.3 L798.5,1134.4 L799.8,1133.5 L801.0,1132.6 L802.2,1131.8 L803.5,1131.0 L804.7,1130.1 L806.0,1129.3 L807.3,1128.5 L808.6,1127.7 L809.9,1126.9 L811.1,1126.2 L812.4,1125.4 L813.8,1124.7 L815.1,1123.9 L816.4,1123.2 L817.7,1122.5 L819.0,1121.8 L820.4,1121.1 L821.7,1120.4 L823.1,1119.8 L824.4,1119.1 L825.8,1118.4 L827.1,1117.8 L828.5,1117.2 L829.9,1116.5 L831.3,1115.9 L832.6,1115.3 L834.0,1114.7 L835.4,1114.1 L836.8,1113.6 L838.2,1113.0 L839.6,1112.4 L841.0,1111.9 L842.4,1111.3 L843.8,1110.8 L845.2,1110.3 L846.6,1109.8 L848.0,1109.2 L849.5,1108.7 L850.9,1108.2 L852.3,1107.8 L853.7,1107.3 L855.2,1106.8 L856.6,1106.3 L858.0,1105.9 L859.5,1105.4 L860.9,1105.0 L862.3,1104.5 L863.8,1104.1 L865.2,1103.7 L866.7,1103.2 L868.1,1102.8 L869.6,1102.4 L871.0,1102.0 L872.5,1101.6 L873.9,1101.2 L875.4,1100.8 L876.8,1100.5 L878.3,1100.1 L879.7,1099.7 L881.2,1099.3 L882.7,1099.0 L884.1,1098.6 L885.6,1098.3 L887.0,1097.9 L888.5,1097.6 L890.0,1097.3 L891.4,1096.9 L892.9,1096.6 L894.4,1096.3 L895.9,1096.0 L897.3,1095.6 L898.8,1095.3 L900.3,1095.0 L901.8,1094.7 L903.2,1094.4 L904.7,1094.1 L906.2,1093.8 L907.7,1093.5 L909.1,1093.3 L910.6,1093.0 L912.1,1092.7 L913.6,1092.4 L915.1,1092.2 L916.5,1091.9 L918.0,1091.6 L919.5,1091.4 L921.0,1091.1 L922.5,1090.9 L924.0,1090.6 L925.4,1090.4 L926.9,1090.1 L928.4,1089.9 L929.9,1089.6 L931.4,1089.4 L932.9,1089.2 L934.4,1088.9 L935.8,1088.7 L937.3,1088.5 L938.8,1088.3 L940.3,1088.1 L941.8,1087.8 L943.3,1087.6 L944.8,1087.4 L946.3,1087.2 L947.8,1087.0 L949.3,1086.8 L950.8,1086.6 L952.2,1086.4 L953.7,1086.2 L955.2,1086.0 L956.7,1085.8 L958.2,1085.6 L959.7,1085.4 L961.2,1085.2 L962.7,1085.0 L964.2,1084.9 L965.7,1084.7 L967.2,1084.5 L968.7,1084.3 L970.2,1084.2 L971.7,1084.0 L973.2,1083.8 L974.7,1083.6 L976.2,1083.5 L977.6,1083.3 L979.1,1083.1 L980.6,1083.0 L982.1,1082.8 L983.6,1082.7 L985.1,1082.5 L986.6,1082.3 L988.1,1082.2 L989.6,1082.0 L991.1,1081.9 L992.6,1081.7 L994.1,1081.6 L995.6,1081.4 L997.1,1081.3 L998.6,1081.2 L1000.1,1081.0 L1001.6,1080.9 L1003.1,1080.7 L1004.6,1080.6 L1006.1,1080.5 L1007.6,1080.3 L1009.1,1080.2 L1010.6,1080.0 L1012.1,1079.9 L1013.6,1079.8 L1015.1,1079.7 L1016.6,1079.5 L1018.1,1079.4 L1019.6,1079.3 L1021.1,1079.2 L1022.6,1079.0 L1024.1,1078.9 L1025.6,1078.8 L1027.1,1078.7 L1028.6,1078.5 L1030.1,1078.4 L1031.6,1078.3 L1033.1,1078.2 L1034.6,1078.1 L1036.1,1078.0 L1037.6,1077.9 L1039.1,1077.7 L1040.6,1077.6 L1042.1,1077.5 L1043.6,1077.4 L1045.1,1077.3 L1046.6,1077.2 L1048.1,1077.1 L1049.6,1077.0 L1051.1,1076.9 L1052.6,1076.8 L1054.1,1076.7 L1055.6,1076.6 L1057.1,1076.5 L1058.6,1076.4 L1060.1,1076.3 L1061.6,1076.2 L1063.1,1076.1 L1064.6,1076.0 L1066.1,1075.9 L1067.6,1075.8 L1069.1,1075.7 L1070.7,1075.6 L1072.2,1075.5 L1073.7,1075.4 L1075.2,1075.3 L1076.7,1075.3 L1078.2,1075.2 L1079.7,1075.1 L1081.2,1075.0 L1082.7,1074.9 L1084.2,1074.8 L1085.7,1074.7 L1087.2,1074.6 L1088.7,1074.6 L1090.2,1074.5 L1091.7,1074.4 L1093.2,1074.3 L1094.7,1074.2 L1096.2,1074.2 L1097.7,1074.1 L1099.2,1074.0 L1100.7,1073.9 L1102.2,1073.8 L1103.7,1073.8 L1105.2,1073.7 L1106.7,1073.6 L1108.2,1073.5 L1109.7,1073.5 L1111.2,1073.4 L1112.7,1073.3 L1114.2,1073.2 L1115.7,1073.2 L1117.2,1073.1 L1118.8,1073.0 L1120.3,1072.9 L1121.8,1072.9 L1123.3,1072.8 L1124.8,1072.7 L1126.3,1072.7 L1127.8,1072.6 L1129.3,1072.5 L1130.8,1072.5 L1132.3,1072.4 L1133.8,1072.3 L1135.3,1072.3 L1136.8,1072.2 L1138.3,1072.1 L1139.8,1072.1 L1141.3,1072.0 L1142.8,1071.9 L1144.3,1071.9 L1145.8,1071.8 L1147.3,1071.7 L1148.8,1071.7 L1150.3,1071.6 L1151.8,1071.6 L1153.3,1071.5 L1154.8,1071.4 L1156.3,1071.4 L1157.9,1071.3 L1159.4,1071.3 L1160.9,1071.2 L1162.4,1071.1 L1163.9,1071.1 L1165.4,1071.0 L1166.9,1071.0 L1168.4,1070.9 L1169.9,1070.9 L1171.4,1070.8 L1172.9,1070.7 L1174.4,1070.7 L1175.9,1070.6 L1177.4,1070.6 L1178.9,1070.5 L1180.4,1070.5 L1181.9,1070.4 L1183.4,1070.4 L1184.9,1070.3 L1186.4,1070.3 L1187.9,1070.2 L1189.4,1070.2 L1190.9,1070.1 L1192.5,1070.1 L1194.0,1070.0 L1195.5,1070.0 L1186.6,1070.0" class="cv" stroke="#4DAF4A"/>
<line x1="987.0" y1="1434.0" x2="987.0" y2="1020.9000000000001" class="dash"/>
</g>
<rect x="685.4" y="1040.9" width="491.2" height="393.1" class="bd"/>
<line x1="1023.7" y1="1328.5" x2="1049.5" y2="1328.5" stroke="#E41A1C" stroke-width="4.6"/>
<text x="1056.8" y="1338.2" class="lg">Children</text>
<line x1="1023.7" y1="1361.0" x2="1049.5" y2="1361.0" stroke="#377EB8" stroke-width="4.6"/>
<text x="1056.8" y="1370.7" class="lg">Females</text>
<line x1="1023.7" y1="1393.5" x2="1049.5" y2="1393.5" stroke="#4DAF4A" stroke-width="4.6"/>
<text x="1056.8" y="1403.2" class="lg">Males</text>
<text x="1533.0" y="1019.6" class="ti">Sb</text>
<text class="yl" transform="translate(1213.55,1234.2) rotate(-90)">Cumulative probability</text>
<line x1="1275.7" y1="1411.4" x2="1278.3" y2="1411.4" class="tk"/>
<text x="1274.7" y="1421.7" class="yt">0.00</text>
<line x1="1275.7" y1="1323.0" x2="1278.3" y2="1323.0" class="tk"/>
<text x="1274.7" y="1333.3" class="yt">0.25</text>
<line x1="1275.7" y1="1234.6" x2="1278.3" y2="1234.6" class="tk"/>
<text x="1274.7" y="1244.9" class="yt">0.50</text>
<line x1="1275.7" y1="1146.2" x2="1278.3" y2="1146.2" class="tk"/>
<text x="1274.7" y="1156.5" class="yt">0.75</text>
<line x1="1275.7" y1="1057.8" x2="1278.3" y2="1057.8" class="tk"/>
<text x="1274.7" y="1068.1" class="yt">1.00</text>
<line x1="1298.4" y1="1428.5" x2="1298.4" y2="1431.1" class="tk"/>
<text x="1298.0" y="1452.0" class="xt">0e+00</text>
<line x1="1443.3" y1="1428.5" x2="1443.3" y2="1431.1" class="tk"/>
<text x="1442.9" y="1452.0" class="xt">1e-05</text>
<line x1="1588.0" y1="1428.5" x2="1588.0" y2="1431.1" class="tk"/>
<text x="1587.6" y="1452.0" class="xt">2e-05</text>
<line x1="1732.5" y1="1428.5" x2="1732.5" y2="1431.1" class="tk"/>
<text x="1732.1" y="1452.0" class="xt">3e-05</text>
<g clip-path="url(#cp8)">
<path d="M1268.3,1411.4 L1301.6,1411.4 L1302.0,1410.0 L1302.1,1408.5 L1302.3,1407.0 L1302.5,1405.5 L1302.6,1404.0 L1302.7,1402.5 L1302.9,1401.0 L1303.0,1399.5 L1303.1,1398.0 L1303.3,1396.5 L1303.4,1395.0 L1303.5,1393.5 L1303.7,1392.0 L1303.8,1390.5 L1303.9,1389.0 L1304.1,1387.5 L1304.2,1386.0 L1304.3,1384.5 L1304.5,1383.0 L1304.6,1381.5 L1304.7,1380.0 L1304.9,1378.5 L1305.0,1377.0 L1305.2,1375.5 L1305.3,1374.0 L1305.5,1372.5 L1305.6,1371.0 L1305.8,1369.5 L1305.9,1368.0 L1306.1,1366.5 L1306.2,1365.0 L1306.4,1363.5 L1306.6,1362.0 L1306.7,1360.5 L1306.9,1359.0 L1307.0,1357.5 L1307.2,1356.0 L1307.4,1354.5 L1307.6,1353.0 L1307.7,1351.5 L1307.9,1350.0 L1308.1,1348.5 L1308.3,1347.0 L1308.5,1345.6 L1308.6,1344.1 L1308.8,1342.6 L1309.0,1341.1 L1309.2,1339.6 L1309.4,1338.1 L1309.6,1336.6 L1309.8,1335.1 L1310.0,1333.6 L1310.2,1332.1 L1310.4,1330.6 L1310.6,1329.1 L1310.9,1327.7 L1311.1,1326.2 L1311.3,1324.7 L1311.5,1323.2 L1311.7,1321.7 L1312.0,1320.2 L1312.2,1318.7 L1312.4,1317.2 L1312.7,1315.7 L1312.9,1314.3 L1313.2,1312.8 L1313.4,1311.3 L1313.7,1309.8 L1313.9,1308.3 L1314.2,1306.8 L1314.5,1305.4 L1314.7,1303.9 L1315.0,1302.4 L1315.3,1300.9 L1315.6,1299.4 L1315.8,1298.0 L1316.1,1296.5 L1316.4,1295.0 L1316.7,1293.5 L1317.0,1292.1 L1317.3,1290.6 L1317.6,1289.1 L1317.9,1287.6 L1318.3,1286.2 L1318.6,1284.7 L1318.9,1283.2 L1319.2,1281.8 L1319.6,1280.3 L1319.9,1278.8 L1320.3,1277.4 L1320.6,1275.9 L1321.0,1274.4 L1321.3,1273.0 L1321.7,1271.5 L1322.1,1270.1 L1322.5,1268.6 L1322.8,1267.1 L1323.2,1265.7 L1323.6,1264.2 L1324.0,1262.8 L1324.4,1261.3 L1324.9,1259.9 L1325.3,1258.4 L1325.7,1257.0 L1326.1,1255.6 L1326.6,1254.1 L1327.0,1252.7 L1327.5,1251.2 L1327.9,1249.8 L1328.4,1248.4 L1328.9,1246.9 L1329.4,1245.5 L1329.8,1244.1 L1330.3,1242.7 L1330.8,1241.3 L1331.3,1239.8 L1331.9,1238.4 L1332.4,1237.0 L1332.9,1235.6 L1333.5,1234.2 L1334.0,1232.8 L1334.6,1231.4 L1335.1,1230.0 L1335.7,1228.6 L1336.3,1227.2 L1336.9,1225.8 L1337.5,1224.5 L1338.1,1223.1 L1338.7,1221.7 L1339.3,1220.4 L1340.0,1219.0 L1340.6,1217.6 L1341.3,1216.3 L1342.0,1214.9 L1342.6,1213.6 L1343.3,1212.2 L1344.0,1210.9 L1344.7,1209.6 L1345.4,1208.2 L1346.2,1206.9 L1346.9,1205.6 L1347.6,1204.3 L1348.4,1203.0 L1349.2,1201.7 L1349.9,1200.4 L1350.7,1199.1 L1351.5,1197.9 L1352.3,1196.6 L1353.1,1195.3 L1354.0,1194.1 L1354.8,1192.8 L1355.7,1191.6 L1356.5,1190.3 L1357.4,1189.1 L1358.3,1187.9 L1359.2,1186.7 L1360.1,1185.5 L1361.0,1184.3 L1361.9,1183.1 L1362.9,1181.9 L1363.8,1180.8 L1364.8,1179.6 L1365.7,1178.5 L1366.7,1177.3 L1367.7,1176.2 L1368.7,1175.1 L1369.7,1173.9 L1370.8,1172.8 L1371.8,1171.7 L1372.8,1170.7 L1373.9,1169.6 L1375.0,1168.5 L1376.0,1167.5 L1377.1,1166.4 L1378.2,1165.4 L1379.3,1164.4 L1380.4,1163.3 L1381.5,1162.3 L1382.7,1161.3 L1383.8,1160.4 L1385.0,1159.4 L1386.1,1158.4 L1387.3,1157.5 L1388.5,1156.5 L1389.6,1155.6 L1390.8,1154.7 L1392.0,1153.8 L1393.2,1152.9 L1394.5,1152.0 L1395.7,1151.1 L1396.9,1150.2 L1398.1,1149.4 L1399.4,1148.5 L1400.6,1147.7 L1401.9,1146.9 L1403.2,1146.0 L1404.4,1145.2 L1405.7,1144.4 L1407.0,1143.6 L1408.3,1142.9 L1409.6,1142.1 L1410.9,1141.3 L1412.2,1140.6 L1413.5,1139.8 L1414.8,1139.1 L1416.1,1138.4 L1417.4,1137.7 L1418.8,1137.0 L1420.1,1136.3 L1421.5,1135.6 L1422.8,1134.9 L1424.1,1134.3 L1425.5,1133.6 L1426.9,1132.9 L1428.2,1132.3 L1429.6,1131.7 L1431.0,1131.0 L1432.3,1130.4 L1433.7,1129.8 L1435.1,1129.2 L1436.5,1128.6 L1437.9,1128.0 L1439.2,1127.5 L1440.6,1126.9 L1442.0,1126.3 L1443.4,1125.8 L1444.8,1125.2 L1446.2,1124.7 L1447.6,1124.1 L1449.1,1123.6 L1450.5,1123.1 L1451.9,1122.6 L1453.3,1122.1 L1454.7,1121.6 L1456.1,1121.1 L1457.6,1120.6 L1459.0,1120.1 L1460.4,1119.6 L1461.8,1119.1 L1463.3,1118.7 L1464.7,1118.2 L1466.1,1117.7 L1467.6,1117.3 L1469.0,1116.9 L1470.5,1116.4 L1471.9,1116.0 L1473.3,1115.6 L1474.8,1115.1 L1476.2,1114.7 L1477.7,1114.3 L1479.1,1113.9 L1480.6,1113.5 L1482.0,1113.1 L1483.5,1112.7 L1484.9,1112.3 L1486.4,1111.9 L1487.8,1111.5 L1489.3,1111.2 L1490.8,1110.8 L1492.2,1110.4 L1493.7,1110.1 L1495.1,1109.7 L1496.6,1109.4 L1498.1,1109.0 L1499.5,1108.7 L1501.0,1108.3 L1502.5,1108.0 L1503.9,1107.6 L1505.4,1107.3 L1506.9,1107.0 L1508.3,1106.7 L1509.8,1106.3 L1511.3,1106.0 L1512.8,1105.7 L1514.2,1105.4 L1515.7,1105.1 L1517.2,1104.8 L1518.7,1104.5 L1520.1,1104.2 L1521.6,1103.9 L1523.1,1103.6 L1524.6,1103.3 L1526.0,1103.0 L1527.5,1102.8 L1529.0,1102.5 L1530.5,1102.2 L1532.0,1101.9 L1533.4,1101.7 L1534.9,1101.4 L1536.4,1101.1 L1537.9,1100.9 L1539.4,1100.6 L1540.9,1100.3 L1542.3,1100.1 L1543.8,1099.8 L1545.3,1099.6 L1546.8,1099.3 L1548.3,1099.1 L1549.8,1098.9 L1551.3,1098.6 L1552.7,1098.4 L1554.2,1098.2 L1555.7,1097.9 L1557.2,1097.7 L1558.7,1097.5 L1560.2,1097.2 L1561.7,1097.0 L1563.2,1096.8 L1564.6,1096.6 L1566.1,1096.4 L1567.6,1096.1 L1569.1,1095.9 L1570.6,1095.7 L1572.1,1095.5 L1573.6,1095.3 L1575.1,1095.1 L1576.6,1094.9 L1578.1,1094.7 L1579.6,1094.5 L1581.0,1094.3 L1582.5,1094.1 L1584.0,1093.9 L1585.5,1093.7 L1587.0,1093.5 L1588.5,1093.3 L1590.0,1093.1 L1591.5,1093.0 L1593.0,1092.8 L1594.5,1092.6 L1596.0,1092.4 L1597.5,1092.2 L1599.0,1092.1 L1600.5,1091.9 L1602.0,1091.7 L1603.5,1091.5 L1605.0,1091.4 L1606.4,1091.2 L1607.9,1091.0 L1609.4,1090.9 L1610.9,1090.7 L1612.4,1090.5 L1613.9,1090.4 L1615.4,1090.2 L1616.9,1090.0 L1618.4,1089.9 L1619.9,1089.7 L1621.4,1089.6 L1622.9,1089.4 L1624.4,1089.3 L1625.9,1089.1 L1627.4,1089.0 L1628.9,1088.8 L1630.4,1088.7 L1631.9,1088.5 L1633.4,1088.4 L1634.9,1088.2 L1636.4,1088.1 L1637.9,1087.9 L1639.4,1087.8 L1640.9,1087.6 L1642.4,1087.5 L1643.9,1087.4 L1645.4,1087.2 L1646.9,1087.1 L1648.4,1087.0 L1649.9,1086.8 L1651.4,1086.7 L1652.9,1086.6 L1654.4,1086.4 L1655.9,1086.3 L1657.4,1086.2 L1658.9,1086.0 L1660.4,1085.9 L1661.9,1085.8 L1663.4,1085.7 L1664.9,1085.5 L1666.4,1085.4 L1667.9,1085.3 L1669.4,1085.2 L1670.9,1085.0 L1672.4,1084.9 L1673.9,1084.8 L1675.4,1084.7 L1676.9,1084.6 L1678.4,1084.4 L1679.9,1084.3 L1681.4,1084.2 L1682.9,1084.1 L1684.4,1084.0 L1685.9,1083.9 L1687.4,1083.8 L1688.9,1083.7 L1690.4,1083.5 L1691.9,1083.4 L1693.4,1083.3 L1694.9,1083.2 L1696.4,1083.1 L1697.9,1083.0 L1699.4,1082.9 L1700.9,1082.8 L1702.4,1082.7 L1703.9,1082.6 L1705.4,1082.5 L1706.9,1082.4 L1708.4,1082.3 L1709.9,1082.2 L1711.4,1082.1 L1712.9,1082.0 L1714.4,1081.9 L1715.9,1081.8 L1717.4,1081.7 L1718.9,1081.6 L1720.4,1081.5 L1721.9,1081.4 L1723.4,1081.3 L1724.9,1081.2 L1726.4,1081.1 L1727.9,1081.0 L1729.4,1080.9 L1731.0,1080.8 L1732.5,1080.8 L1734.0,1080.7 L1735.5,1080.6 L1737.0,1080.5 L1738.5,1080.4 L1740.0,1080.3 L1741.5,1080.2 L1743.0,1080.1 L1744.5,1080.0 L1746.0,1080.0 L1747.5,1079.9 L1749.0,1079.8 L1750.5,1079.7 L1752.0,1079.6 L1753.5,1079.5 L1755.0,1079.5 L1756.5,1079.4 L1758.0,1079.3 L1759.5,1079.2 L1761.0,1079.1 L1762.5,1079.1 L1764.0,1079.0 L1765.5,1078.9 L1767.0,1078.8 L1768.5,1078.7 L1770.0,1078.7 L1771.5,1078.6 L1773.0,1078.5 L1774.5,1078.4 L1776.0,1078.4 L1777.5,1078.3 L1779.1,1078.2 L1780.6,1078.1 L1782.1,1078.1 L1783.6,1078.0 L1785.1,1077.9 L1786.6,1077.8 L1788.1,1077.8 L1778.8,1077.8" class="cv" stroke="#E41A1C"/>
<path d="M1268.3,1411.4 L1300.3,1411.4 L1300.9,1410.1 L1301.1,1408.6 L1301.4,1407.1 L1301.6,1405.6 L1301.8,1404.1 L1302.0,1402.6 L1302.2,1401.1 L1302.4,1399.6 L1302.6,1398.1 L1302.8,1396.7 L1303.0,1395.2 L1303.1,1393.7 L1303.3,1392.2 L1303.5,1390.7 L1303.7,1389.2 L1303.9,1387.7 L1304.1,1386.2 L1304.2,1384.7 L1304.4,1383.2 L1304.6,1381.7 L1304.8,1380.2 L1305.0,1378.7 L1305.2,1377.3 L1305.4,1375.8 L1305.6,1374.3 L1305.8,1372.8 L1306.0,1371.3 L1306.2,1369.8 L1306.4,1368.3 L1306.6,1366.8 L1306.8,1365.3 L1307.0,1363.8 L1307.2,1362.3 L1307.4,1360.9 L1307.6,1359.4 L1307.8,1357.9 L1308.0,1356.4 L1308.3,1354.9 L1308.5,1353.4 L1308.7,1351.9 L1308.9,1350.4 L1309.2,1349.0 L1309.4,1347.5 L1309.6,1346.0 L1309.9,1344.5 L1310.1,1343.0 L1310.3,1341.5 L1310.6,1340.0 L1310.8,1338.6 L1311.1,1337.1 L1311.3,1335.6 L1311.6,1334.1 L1311.8,1332.6 L1312.1,1331.2 L1312.4,1329.7 L1312.6,1328.2 L1312.9,1326.7 L1313.2,1325.2 L1313.5,1323.8 L1313.7,1322.3 L1314.0,1320.8 L1314.3,1319.3 L1314.6,1317.8 L1314.9,1316.4 L1315.2,1314.9 L1315.5,1313.4 L1315.8,1311.9 L1316.1,1310.5 L1316.4,1309.0 L1316.7,1307.5 L1317.0,1306.1 L1317.4,1304.6 L1317.7,1303.1 L1318.0,1301.7 L1318.3,1300.2 L1318.7,1298.7 L1319.0,1297.3 L1319.4,1295.8 L1319.7,1294.3 L1320.1,1292.9 L1320.4,1291.4 L1320.8,1290.0 L1321.2,1288.5 L1321.6,1287.0 L1321.9,1285.6 L1322.3,1284.1 L1322.7,1282.7 L1323.1,1281.2 L1323.5,1279.8 L1323.9,1278.3 L1324.3,1276.9 L1324.7,1275.4 L1325.2,1274.0 L1325.6,1272.6 L1326.0,1271.1 L1326.5,1269.7 L1326.9,1268.2 L1327.3,1266.8 L1327.8,1265.4 L1328.3,1263.9 L1328.7,1262.5 L1329.2,1261.1 L1329.7,1259.7 L1330.2,1258.2 L1330.7,1256.8 L1331.2,1255.4 L1331.7,1254.0 L1332.2,1252.6 L1332.7,1251.1 L1333.2,1249.7 L1333.7,1248.3 L1334.3,1246.9 L1334.8,1245.5 L1335.4,1244.1 L1335.9,1242.7 L1336.5,1241.3 L1337.1,1240.0 L1337.7,1238.6 L1338.3,1237.2 L1338.9,1235.8 L1339.5,1234.4 L1340.1,1233.1 L1340.7,1231.7 L1341.3,1230.3 L1342.0,1229.0 L1342.6,1227.6 L1343.3,1226.2 L1343.9,1224.9 L1344.6,1223.6 L1345.3,1222.2 L1346.0,1220.9 L1346.7,1219.5 L1347.4,1218.2 L1348.1,1216.9 L1348.8,1215.6 L1349.6,1214.3 L1350.3,1213.0 L1351.1,1211.7 L1351.8,1210.4 L1352.6,1209.1 L1353.4,1207.8 L1354.2,1206.5 L1355.0,1205.2 L1355.8,1204.0 L1356.6,1202.7 L1357.4,1201.5 L1358.3,1200.2 L1359.1,1199.0 L1360.0,1197.7 L1360.9,1196.5 L1361.7,1195.3 L1362.6,1194.1 L1363.5,1192.9 L1364.4,1191.7 L1365.4,1190.5 L1366.3,1189.3 L1367.2,1188.1 L1368.2,1186.9 L1369.1,1185.8 L1370.1,1184.6 L1371.1,1183.5 L1372.0,1182.3 L1373.0,1181.2 L1374.0,1180.1 L1375.1,1179.0 L1376.1,1177.9 L1377.1,1176.8 L1378.2,1175.7 L1379.2,1174.6 L1380.3,1173.6 L1381.3,1172.5 L1382.4,1171.5 L1383.5,1170.4 L1384.6,1169.4 L1385.7,1168.4 L1386.8,1167.4 L1387.9,1166.4 L1389.1,1165.4 L1390.2,1164.4 L1391.4,1163.4 L1392.5,1162.4 L1393.7,1161.5 L1394.8,1160.5 L1396.0,1159.6 L1397.2,1158.7 L1398.4,1157.8 L1399.6,1156.9 L1400.8,1156.0 L1402.0,1155.1 L1403.2,1154.2 L1404.5,1153.3 L1405.7,1152.5 L1406.9,1151.6 L1408.2,1150.8 L1409.4,1150.0 L1410.7,1149.1 L1412.0,1148.3 L1413.2,1147.5 L1414.5,1146.7 L1415.8,1145.9 L1417.1,1145.2 L1418.4,1144.4 L1419.7,1143.6 L1421.0,1142.9 L1422.3,1142.1 L1423.6,1141.4 L1424.9,1140.7 L1426.3,1140.0 L1427.6,1139.3 L1428.9,1138.6 L1430.3,1137.9 L1431.6,1137.2 L1432.9,1136.5 L1434.3,1135.9 L1435.6,1135.2 L1437.0,1134.6 L1438.4,1133.9 L1439.7,1133.3 L1441.1,1132.7 L1442.5,1132.0 L1443.8,1131.4 L1445.2,1130.8 L1446.6,1130.2 L1448.0,1129.6 L1449.4,1129.1 L1450.8,1128.5 L1452.1,1127.9 L1453.5,1127.4 L1454.9,1126.8 L1456.3,1126.3 L1457.7,1125.7 L1459.2,1125.2 L1460.6,1124.6 L1462.0,1124.1 L1463.4,1123.6 L1464.8,1123.1 L1466.2,1122.6 L1467.6,1122.1 L1469.1,1121.6 L1470.5,1121.1 L1471.9,1120.6 L1473.3,1120.2 L1474.8,1119.7 L1476.2,1119.2 L1477.6,1118.8 L1479.1,1118.3 L1480.5,1117.9 L1481.9,1117.4 L1483.4,1117.0 L1484.8,1116.6 L1486.2,1116.1 L1487.7,1115.7 L1489.1,1115.3 L1490.6,1114.9 L1492.0,1114.5 L1493.5,1114.1 L1494.9,1113.7 L1496.4,1113.3 L1497.8,1112.9 L1499.3,1112.5 L1500.7,1112.1 L1502.2,1111.7 L1503.7,1111.4 L1505.1,1111.0 L1506.6,1110.6 L1508.0,1110.3 L1509.5,1109.9 L1511.0,1109.6 L1512.4,1109.2 L1513.9,1108.9 L1515.3,1108.5 L1516.8,1108.2 L1518.3,1107.8 L1519.7,1107.5 L1521.2,1107.2 L1522.7,1106.9 L1524.1,1106.5 L1525.6,1106.2 L1527.1,1105.9 L1528.6,1105.6 L1530.0,1105.3 L1531.5,1105.0 L1533.0,1104.7 L1534.5,1104.4 L1535.9,1104.1 L1537.4,1103.8 L1538.9,1103.5 L1540.4,1103.2 L1541.8,1102.9 L1543.3,1102.7 L1544.8,1102.4 L1546.3,1102.1 L1547.7,1101.8 L1549.2,1101.6 L1550.7,1101.3 L1552.2,1101.0 L1553.7,1100.8 L1555.1,1100.5 L1556.6,1100.2 L1558.1,1100.0 L1559.6,1099.7 L1561.1,1099.5 L1562.6,1099.2 L1564.0,1099.0 L1565.5,1098.8 L1567.0,1098.5 L1568.5,1098.3 L1570.0,1098.0 L1571.5,1097.8 L1573.0,1097.6 L1574.4,1097.4 L1575.9,1097.1 L1577.4,1096.9 L1578.9,1096.7 L1580.4,1096.5 L1581.9,1096.2 L1583.4,1096.0 L1584.9,1095.8 L1586.3,1095.6 L1587.8,1095.4 L1589.3,1095.2 L1590.8,1095.0 L1592.3,1094.8 L1593.8,1094.6 L1595.3,1094.4 L1596.8,1094.2 L1598.3,1094.0 L1599.8,1093.8 L1601.2,1093.6 L1602.7,1093.4 L1604.2,1093.2 L1605.7,1093.0 L1607.2,1092.8 L1608.7,1092.6 L1610.2,1092.4 L1611.7,1092.3 L1613.2,1092.1 L1614.7,1091.9 L1616.2,1091.7 L1617.7,1091.5 L1619.2,1091.4 L1620.7,1091.2 L1622.1,1091.0 L1623.6,1090.8 L1625.1,1090.7 L1626.6,1090.5 L1628.1,1090.3 L1629.6,1090.2 L1631.1,1090.0 L1632.6,1089.8 L1634.1,1089.7 L1635.6,1089.5 L1637.1,1089.4 L1638.6,1089.2 L1640.1,1089.0 L1641.6,1088.9 L1643.1,1088.7 L1644.6,1088.6 L1646.1,1088.4 L1647.6,1088.3 L1649.1,1088.1 L1650.6,1088.0 L1652.1,1087.8 L1653.6,1087.7 L1655.1,1087.6 L1656.6,1087.4 L1658.0,1087.3 L1659.5,1087.1 L1661.0,1087.0 L1662.5,1086.8 L1664.0,1086.7 L1665.5,1086.6 L1667.0,1086.4 L1668.5,1086.3 L1670.0,1086.2 L1671.5,1086.0 L1673.0,1085.9 L1674.5,1085.8 L1676.0,1085.6 L1677.5,1085.5 L1679.0,1085.4 L1680.5,1085.3 L1682.0,1085.1 L1683.5,1085.0 L1685.0,1084.9 L1686.5,1084.8 L1688.0,1084.6 L1689.5,1084.5 L1691.0,1084.4 L1692.5,1084.3 L1694.0,1084.2 L1695.5,1084.0 L1697.0,1083.9 L1698.5,1083.8 L1700.0,1083.7 L1701.5,1083.6 L1703.0,1083.5 L1704.5,1083.3 L1706.0,1083.2 L1707.5,1083.1 L1709.0,1083.0 L1710.5,1082.9 L1712.0,1082.8 L1713.5,1082.7 L1715.0,1082.6 L1716.5,1082.5 L1718.0,1082.4 L1719.5,1082.3 L1721.0,1082.2 L1722.5,1082.0 L1724.0,1081.9 L1725.5,1081.8 L1727.0,1081.7 L1728.5,1081.6 L1730.0,1081.5 L1731.5,1081.4 L1733.0,1081.3 L1734.5,1081.2 L1736.0,1081.1 L1737.5,1081.0 L1739.0,1080.9 L1740.5,1080.9 L1742.0,1080.8 L1743.5,1080.7 L1745.0,1080.6 L1746.5,1080.5 L1748.0,1080.4 L1749.5,1080.3 L1751.0,1080.2 L1752.5,1080.1 L1754.0,1080.0 L1755.5,1079.9 L1757.0,1079.8 L1758.5,1079.7 L1760.0,1079.7 L1761.5,1079.6 L1763.0,1079.5 L1764.5,1079.4 L1766.0,1079.3 L1767.5,1079.2 L1769.0,1079.1 L1770.5,1079.1 L1772.0,1079.0 L1773.5,1078.9 L1775.0,1078.8 L1776.5,1078.7 L1778.1,1078.6 L1779.6,1078.6 L1781.1,1078.5 L1782.6,1078.4 L1784.1,1078.3 L1785.6,1078.2 L1787.1,1078.2 L1788.6,1078.1 L1778.8,1078.1" class="cv" stroke="#377EB8"/>
<path d="M1268.3,1411.4 L1301.8,1411.4 L1301.9,1409.9 L1302.0,1408.4 L1302.0,1406.9 L1302.0,1405.4 L1302.0,1403.9 L1302.1,1402.4 L1302.1,1400.9 L1302.1,1399.4 L1302.1,1397.9 L1302.2,1396.4 L1302.2,1394.9 L1302.2,1393.4 L1302.2,1391.9 L1302.2,1390.4 L1302.3,1388.8 L1302.3,1387.3 L1302.3,1385.8 L1302.3,1384.3 L1302.3,1382.8 L1302.4,1381.3 L1302.4,1379.8 L1302.4,1378.3 L1302.4,1376.8 L1302.4,1375.3 L1302.5,1373.8 L1302.5,1372.3 L1302.5,1370.8 L1302.5,1369.3 L1302.5,1367.8 L1302.6,1366.3 L1302.6,1364.8 L1302.6,1363.3 L1302.6,1361.8 L1302.7,1360.3 L1302.7,1358.8 L1302.7,1357.3 L1302.7,1355.7 L1302.7,1354.2 L1302.8,1352.7 L1302.8,1351.2 L1302.8,1349.7 L1302.8,1348.2 L1302.9,1346.7 L1302.9,1345.2 L1302.9,1343.7 L1302.9,1342.2 L1302.9,1340.7 L1303.0,1339.2 L1303.0,1337.7 L1303.0,1336.2 L1303.0,1334.7 L1303.1,1333.2 L1303.1,1331.7 L1303.1,1330.2 L1303.1,1328.7 L1303.2,1327.2 L1303.2,1325.7 L1303.2,1324.2 L1303.2,1322.7 L1303.3,1321.1 L1303.3,1319.6 L1303.3,1318.1 L1303.3,1316.6 L1303.4,1315.1 L1303.4,1313.6 L1303.4,1312.1 L1303.5,1310.6 L1303.5,1309.1 L1303.5,1307.6 L1303.5,1306.1 L1303.6,1304.6 L1303.6,1303.1 L1303.6,1301.6 L1303.7,1300.1 L1303.7,1298.6 L1303.7,1297.1 L1303.8,1295.6 L1303.8,1294.1 L1303.8,1292.6 L1303.8,1291.1 L1303.9,1289.6 L1303.9,1288.1 L1303.9,1286.5 L1304.0,1285.0 L1304.0,1283.5 L1304.0,1282.0 L1304.1,1280.5 L1304.1,1279.0 L1304.1,1277.5 L1304.2,1276.0 L1304.2,1274.5 L1304.3,1273.0 L1304.3,1271.5 L1304.3,1270.0 L1304.4,1268.5 L1304.4,1267.0 L1304.4,1265.5 L1304.5,1264.0 L1304.5,1262.5 L1304.6,1261.0 L1304.6,1259.5 L1304.7,1258.0 L1304.7,1256.5 L1304.7,1255.0 L1304.8,1253.5 L1304.8,1252.0 L1304.9,1250.4 L1304.9,1248.9 L1305.0,1247.4 L1305.0,1245.9 L1305.0,1244.4 L1305.1,1242.9 L1305.1,1241.4 L1305.2,1239.9 L1305.2,1238.4 L1305.3,1236.9 L1305.3,1235.4 L1305.4,1233.9 L1305.4,1232.4 L1305.5,1230.9 L1305.6,1229.4 L1305.6,1227.9 L1305.7,1226.4 L1305.7,1224.9 L1305.8,1223.4 L1305.8,1221.9 L1305.9,1220.4 L1306.0,1218.9 L1306.0,1217.4 L1306.1,1215.9 L1306.1,1214.4 L1306.2,1212.9 L1306.3,1211.4 L1306.3,1209.9 L1306.4,1208.3 L1306.5,1206.8 L1306.5,1205.3 L1306.6,1203.8 L1306.7,1202.3 L1306.8,1200.8 L1306.8,1199.3 L1306.9,1197.8 L1307.0,1196.3 L1307.1,1194.8 L1307.1,1193.3 L1307.2,1191.8 L1307.3,1190.3 L1307.4,1188.8 L1307.5,1187.3 L1307.6,1185.8 L1307.7,1184.3 L1307.8,1182.8 L1307.8,1181.3 L1307.9,1179.8 L1308.0,1178.3 L1308.1,1176.8 L1308.2,1175.3 L1308.3,1173.8 L1308.4,1172.3 L1308.6,1170.8 L1308.7,1169.3 L1308.8,1167.8 L1308.9,1166.3 L1309.0,1164.8 L1309.1,1163.3 L1309.3,1161.8 L1309.4,1160.3 L1309.5,1158.8 L1309.6,1157.3 L1309.8,1155.8 L1309.9,1154.3 L1310.1,1152.8 L1310.2,1151.3 L1310.4,1149.8 L1310.5,1148.3 L1310.7,1146.8 L1310.8,1145.3 L1311.0,1143.8 L1311.2,1142.3 L1311.3,1140.8 L1311.5,1139.3 L1311.7,1137.8 L1311.9,1136.4 L1312.1,1134.9 L1312.3,1133.4 L1312.5,1131.9 L1312.7,1130.4 L1313.0,1128.9 L1313.2,1127.4 L1313.4,1125.9 L1313.7,1124.4 L1313.9,1123.0 L1314.2,1121.5 L1314.5,1120.0 L1314.7,1118.5 L1315.0,1117.1 L1315.3,1115.6 L1315.7,1114.1 L1316.0,1112.6 L1316.3,1111.2 L1316.7,1109.7 L1317.1,1108.3 L1317.5,1106.8 L1317.9,1105.4 L1318.3,1103.9 L1318.7,1102.5 L1319.2,1101.0 L1319.7,1099.6 L1320.2,1098.2 L1320.7,1096.8 L1321.3,1095.4 L1321.8,1094.0 L1322.4,1092.6 L1323.1,1091.3 L1323.8,1089.9 L1324.5,1088.6 L1325.2,1087.3 L1326.0,1086.0 L1326.8,1084.7 L1327.7,1083.5 L1328.6,1082.3 L1329.5,1081.1 L1330.5,1080.0 L1331.5,1078.9 L1332.6,1077.8 L1333.7,1076.8 L1334.8,1075.8 L1336.0,1074.9 L1337.2,1074.0 L1338.5,1073.2 L1339.8,1072.4 L1341.1,1071.6 L1342.4,1070.9 L1343.7,1070.2 L1345.1,1069.6 L1346.5,1069.0 L1347.9,1068.4 L1349.3,1067.9 L1350.7,1067.4 L1352.1,1067.0 L1353.6,1066.5 L1355.0,1066.1 L1356.5,1065.7 L1357.9,1065.4 L1359.4,1065.0 L1360.9,1064.7 L1362.4,1064.4 L1363.8,1064.1 L1365.3,1063.9 L1366.8,1063.6 L1368.3,1063.4 L1369.8,1063.2 L1371.3,1063.0 L1372.8,1062.8 L1374.2,1062.6 L1375.7,1062.4 L1377.2,1062.2 L1378.7,1062.1 L1380.2,1061.9 L1381.7,1061.8 L1383.2,1061.6 L1384.7,1061.5 L1386.2,1061.4 L1387.7,1061.2 L1389.2,1061.1 L1390.7,1061.0 L1392.2,1060.9 L1393.7,1060.8 L1395.2,1060.7 L1396.7,1060.6 L1398.2,1060.5 L1399.7,1060.4 L1401.2,1060.4 L1402.7,1060.3 L1404.2,1060.2 L1405.7,1060.1 L1407.2,1060.1 L1408.7,1060.0 L1410.3,1059.9 L1411.8,1059.9 L1413.3,1059.8 L1414.8,1059.8 L1416.3,1059.7 L1417.8,1059.7 L1419.3,1059.6 L1420.8,1059.6 L1422.3,1059.5 L1423.8,1059.5 L1425.3,1059.4 L1426.8,1059.4 L1428.3,1059.3 L1429.8,1059.3 L1431.3,1059.3 L1432.8,1059.2 L1434.3,1059.2 L1435.8,1059.2 L1437.3,1059.1 L1438.8,1059.1 L1440.3,1059.1 L1441.8,1059.0 L1443.3,1059.0 L1444.8,1059.0 L1446.3,1059.0 L1447.9,1058.9 L1449.4,1058.9 L1450.9,1058.9 L1452.4,1058.9 L1453.9,1058.8 L1455.4,1058.8 L1456.9,1058.8 L1458.4,1058.8 L1459.9,1058.7 L1461.4,1058.7 L1462.9,1058.7 L1464.4,1058.7 L1465.9,1058.7 L1467.4,1058.7 L1468.9,1058.6 L1470.4,1058.6 L1471.9,1058.6 L1473.4,1058.6 L1474.9,1058.6 L1476.4,1058.6 L1477.9,1058.5 L1479.4,1058.5 L1481.0,1058.5 L1482.5,1058.5 L1484.0,1058.5 L1485.5,1058.5 L1487.0,1058.5 L1488.5,1058.4 L1490.0,1058.4 L1491.5,1058.4 L1493.0,1058.4 L1494.5,1058.4 L1496.0,1058.4 L1497.5,1058.4 L1499.0,1058.4 L1500.5,1058.4 L1502.0,1058.3 L1503.5,1058.3 L1505.0,1058.3 L1506.5,1058.3 L1508.0,1058.3 L1509.5,1058.3 L1511.0,1058.3 L1512.5,1058.3 L1514.1,1058.3 L1515.6,1058.3 L1517.1,1058.3 L1518.6,1058.3 L1520.1,1058.2 L1521.6,1058.2 L1523.1,1058.2 L1524.6,1058.2 L1526.1,1058.2 L1527.6,1058.2 L1529.1,1058.2 L1530.6,1058.2 L1532.1,1058.2 L1533.6,1058.2 L1535.1,1058.2 L1536.6,1058.2 L1538.1,1058.2 L1539.6,1058.2 L1541.1,1058.2 L1542.6,1058.1 L1544.1,1058.1 L1545.6,1058.1 L1547.2,1058.1 L1548.7,1058.1 L1550.2,1058.1 L1551.7,1058.1 L1553.2,1058.1 L1554.7,1058.1 L1556.2,1058.1 L1557.7,1058.1 L1559.2,1058.1 L1560.7,1058.1 L1562.2,1058.1 L1563.7,1058.1 L1565.2,1058.1 L1566.7,1058.1 L1568.2,1058.1 L1569.7,1058.1 L1571.2,1058.1 L1572.7,1058.1 L1574.2,1058.1 L1575.7,1058.1 L1577.2,1058.0 L1578.8,1058.0 L1580.3,1058.0 L1581.8,1058.0 L1583.3,1058.0 L1584.8,1058.0 L1586.3,1058.0 L1587.8,1058.0 L1589.3,1058.0 L1590.8,1058.0 L1592.3,1058.0 L1593.8,1058.0 L1595.3,1058.0 L1596.8,1058.0 L1598.3,1058.0 L1599.8,1058.0 L1601.3,1058.0 L1602.8,1058.0 L1604.3,1058.0 L1605.8,1058.0 L1607.3,1058.0 L1608.8,1058.0 L1610.3,1058.0 L1611.9,1058.0 L1613.4,1058.0 L1614.9,1058.0 L1616.4,1058.0 L1617.9,1058.0 L1619.4,1058.0 L1620.9,1058.0 L1622.4,1058.0 L1623.9,1058.0 L1625.4,1058.0 L1626.9,1058.0 L1628.4,1058.0 L1629.9,1058.0 L1631.4,1058.0 L1632.9,1058.0 L1634.4,1058.0 L1635.9,1058.0 L1637.4,1057.9 L1638.9,1057.9 L1640.4,1057.9 L1641.9,1057.9 L1643.4,1057.9 L1645.0,1057.9 L1646.5,1057.9 L1648.0,1057.9 L1649.5,1057.9 L1651.0,1057.9 L1652.5,1057.9 L1654.0,1057.9 L1655.5,1057.9 L1657.0,1057.9 L1658.5,1057.9 L1660.0,1057.9 L1661.5,1057.9 L1663.0,1057.9 L1664.5,1057.9 L1666.0,1057.9 L1667.5,1057.9 L1669.0,1057.9 L1670.5,1057.9 L1672.0,1057.9 L1673.5,1057.9 L1675.0,1057.9 L1676.6,1057.9 L1678.1,1057.9 L1679.6,1057.9 L1681.1,1057.9 L1682.6,1057.9 L1684.1,1057.9 L1685.6,1057.9 L1687.1,1057.9 L1688.6,1057.9 L1690.1,1057.9 L1691.6,1057.9 L1693.1,1057.9 L1694.6,1057.9 L1696.1,1057.9 L1697.6,1057.9 L1699.1,1057.9 L1700.6,1057.9 L1702.1,1057.9 L1703.6,1057.9 L1705.1,1057.9 L1706.6,1057.9 L1708.1,1057.9 L1709.7,1057.9 L1711.2,1057.9 L1712.7,1057.9 L1714.2,1057.9 L1715.7,1057.9 L1717.2,1057.9 L1718.7,1057.9 L1720.2,1057.9 L1721.7,1057.9 L1723.2,1057.9 L1724.7,1057.9 L1726.2,1057.9 L1727.7,1057.9 L1729.2,1057.9 L1730.7,1057.9 L1732.2,1057.9 L1733.7,1057.9 L1735.2,1057.9 L1736.7,1057.9 L1738.2,1057.9 L1739.7,1057.9 L1741.3,1057.9 L1742.8,1057.9 L1744.3,1057.9 L1745.8,1057.9 L1747.3,1057.9 L1748.8,1057.9 L1750.3,1057.9 L1751.8,1057.9 L1753.3,1057.9 L1754.8,1057.9 L1756.3,1057.9 L1757.8,1057.9 L1759.3,1057.9 L1760.8,1057.9 L1762.3,1057.9 L1763.8,1057.9 L1765.3,1057.9 L1766.8,1057.9 L1768.3,1057.9 L1769.8,1057.9 L1771.3,1057.9 L1772.8,1057.9 L1774.4,1057.9 L1775.9,1057.9 L1777.4,1057.9 L1778.9,1057.9 L1780.4,1057.9 L1781.9,1057.9 L1783.4,1057.9 L1784.9,1057.9 L1786.4,1057.9 L1787.9,1057.9 L1778.8,1057.9" class="cv" stroke="#4DAF4A"/>
</g>
<rect x="1278.3" y="1040.9" width="490.5" height="387.6" class="bd"/>
<line x1="1615.9" y1="1324.7" x2="1641.7" y2="1324.7" stroke="#E41A1C" stroke-width="4.6"/>
<text x="1649.0" y="1334.4" class="lg">Males</text>
<line x1="1615.9" y1="1356.6" x2="1641.7" y2="1356.6" stroke="#377EB8" stroke-width="4.6"/>
<text x="1649.0" y="1366.3" class="lg">Females</text>
<line x1="1615.9" y1="1388.5" x2="1641.7" y2="1388.5" stroke="#4DAF4A" stroke-width="4.6"/>
<text x="1649.0" y="1398.2" class="lg">Children</text>
<text x="329.2" y="1515.7" class="ti">Co</text>
<text class="yl" transform="translate(24.849999999999994,1730.5) rotate(-90)">Cumulative probability</text>
<line x1="87.0" y1="1910.5" x2="89.6" y2="1910.5" class="tk"/>
<text x="86.0" y="1920.8" class="yt">0.00</text>
<line x1="87.0" y1="1820.8" x2="89.6" y2="1820.8" class="tk"/>
<text x="86.0" y="1831.0" class="yt">0.25</text>
<line x1="87.0" y1="1731.0" x2="89.6" y2="1731.0" class="tk"/>
<text x="86.0" y="1741.3" class="yt">0.50</text>
<line x1="87.0" y1="1641.2" x2="89.6" y2="1641.2" class="tk"/>
<text x="86.0" y="1651.5" class="yt">0.75</text>
<line x1="87.0" y1="1551.5" x2="89.6" y2="1551.5" class="tk"/>
<text x="86.0" y="1561.8" class="yt">1.00</text>
<line x1="111.7" y1="1927.5" x2="111.7" y2="1930.1" class="tk"/>
<text x="111.3" y="1951.0" class="xt">0.0</text>
<line x1="251.2" y1="1927.5" x2="251.2" y2="1930.1" class="tk"/>
<text x="250.8" y="1951.0" class="xt">0.5</text>
<line x1="390.8" y1="1927.5" x2="390.8" y2="1930.1" class="tk"/>
<text x="390.4" y="1951.0" class="xt">1.0</text>
<line x1="530.4" y1="1927.5" x2="530.4" y2="1930.1" class="tk"/>
<text x="530.0" y="1951.0" class="xt">1.5</text>
<g clip-path="url(#cp9)">
<path d="M79.6,1910.5 L114.0,1910.5 L114.3,1909.1 L114.4,1907.6 L114.5,1906.1 L114.7,1904.6 L114.8,1903.1 L114.9,1901.6 L115.0,1900.1 L115.1,1898.6 L115.2,1897.1 L115.3,1895.6 L115.4,1894.0 L115.5,1892.5 L115.6,1891.0 L115.7,1889.5 L115.9,1888.0 L116.0,1886.5 L116.1,1885.0 L116.2,1883.5 L116.3,1882.0 L116.4,1880.5 L116.5,1879.0 L116.6,1877.5 L116.7,1876.0 L116.8,1874.5 L116.9,1873.0 L117.1,1871.5 L117.2,1870.0 L117.3,1868.5 L117.4,1867.0 L117.5,1865.5 L117.7,1864.0 L117.8,1862.5 L117.9,1861.0 L118.0,1859.5 L118.1,1858.0 L118.3,1856.5 L118.4,1855.0 L118.5,1853.5 L118.7,1852.0 L118.8,1850.5 L118.9,1849.0 L119.1,1847.5 L119.2,1846.0 L119.3,1844.5 L119.5,1843.0 L119.6,1841.5 L119.8,1840.0 L119.9,1838.5 L120.1,1837.0 L120.2,1835.6 L120.4,1834.1 L120.5,1832.6 L120.7,1831.1 L120.8,1829.6 L121.0,1828.1 L121.1,1826.6 L121.3,1825.1 L121.5,1823.6 L121.6,1822.1 L121.8,1820.6 L122.0,1819.1 L122.1,1817.6 L122.3,1816.1 L122.5,1814.6 L122.7,1813.1 L122.8,1811.6 L123.0,1810.1 L123.2,1808.6 L123.4,1807.1 L123.6,1805.6 L123.8,1804.2 L124.0,1802.7 L124.2,1801.2 L124.4,1799.7 L124.6,1798.2 L124.8,1796.7 L125.0,1795.2 L125.2,1793.7 L125.4,1792.2 L125.7,1790.7 L125.9,1789.2 L126.1,1787.8 L126.3,1786.3 L126.6,1784.8 L126.8,1783.3 L127.0,1781.8 L127.3,1780.3 L127.5,1778.8 L127.8,1777.4 L128.0,1775.9 L128.3,1774.4 L128.5,1772.9 L128.8,1771.4 L129.0,1769.9 L129.3,1768.5 L129.6,1767.0 L129.9,1765.5 L130.1,1764.0 L130.4,1762.5 L130.7,1761.1 L131.0,1759.6 L131.3,1758.1 L131.6,1756.6 L131.9,1755.2 L132.2,1753.7 L132.5,1752.2 L132.9,1750.8 L133.2,1749.3 L133.5,1747.8 L133.9,1746.4 L134.2,1744.9 L134.5,1743.4 L134.9,1742.0 L135.2,1740.5 L135.6,1739.0 L136.0,1737.6 L136.3,1736.1 L136.7,1734.7 L137.1,1733.2 L137.5,1731.8 L137.9,1730.3 L138.3,1728.8 L138.7,1727.4 L139.1,1726.0 L139.5,1724.5 L140.0,1723.1 L140.4,1721.6 L140.9,1720.2 L141.3,1718.8 L141.8,1717.3 L142.2,1715.9 L142.7,1714.5 L143.2,1713.0 L143.7,1711.6 L144.2,1710.2 L144.7,1708.8 L145.2,1707.4 L145.7,1705.9 L146.2,1704.5 L146.8,1703.1 L147.3,1701.7 L147.9,1700.3 L148.4,1698.9 L149.0,1697.5 L149.6,1696.1 L150.2,1694.8 L150.8,1693.4 L151.4,1692.0 L152.0,1690.6 L152.6,1689.3 L153.3,1687.9 L153.9,1686.5 L154.6,1685.2 L155.2,1683.8 L155.9,1682.5 L156.6,1681.2 L157.3,1679.8 L158.0,1678.5 L158.7,1677.2 L159.5,1675.9 L160.2,1674.6 L161.0,1673.3 L161.8,1672.0 L162.5,1670.7 L163.3,1669.4 L164.1,1668.1 L164.9,1666.9 L165.8,1665.6 L166.6,1664.4 L167.5,1663.1 L168.3,1661.9 L169.2,1660.7 L170.1,1659.5 L171.0,1658.3 L171.9,1657.1 L172.8,1655.9 L173.8,1654.7 L174.7,1653.5 L175.7,1652.4 L176.7,1651.2 L177.7,1650.1 L178.7,1649.0 L179.7,1647.8 L180.7,1646.7 L181.7,1645.6 L182.8,1644.6 L183.8,1643.5 L184.9,1642.4 L186.0,1641.4 L187.1,1640.3 L188.2,1639.3 L189.3,1638.3 L190.4,1637.3 L191.5,1636.3 L192.7,1635.3 L193.8,1634.4 L195.0,1633.4 L196.2,1632.5 L197.3,1631.5 L198.5,1630.6 L199.7,1629.7 L200.9,1628.8 L202.2,1627.9 L203.4,1627.1 L204.6,1626.2 L205.9,1625.3 L207.1,1624.5 L208.4,1623.7 L209.6,1622.9 L210.9,1622.1 L212.2,1621.3 L213.5,1620.5 L214.8,1619.7 L216.1,1619.0 L217.4,1618.2 L218.7,1617.5 L220.0,1616.8 L221.3,1616.1 L222.7,1615.4 L224.0,1614.7 L225.4,1614.0 L226.7,1613.3 L228.0,1612.7 L229.4,1612.0 L230.8,1611.4 L232.1,1610.7 L233.5,1610.1 L234.9,1609.5 L236.3,1608.9 L237.6,1608.3 L239.0,1607.7 L240.4,1607.1 L241.8,1606.6 L243.2,1606.0 L244.6,1605.5 L246.0,1604.9 L247.4,1604.4 L248.8,1603.9 L250.2,1603.3 L251.7,1602.8 L253.1,1602.3 L254.5,1601.8 L255.9,1601.3 L257.3,1600.9 L258.8,1600.4 L260.2,1599.9 L261.6,1599.5 L263.1,1599.0 L264.5,1598.6 L266.0,1598.1 L267.4,1597.7 L268.8,1597.3 L270.3,1596.8 L271.7,1596.4 L273.2,1596.0 L274.6,1595.6 L276.1,1595.2 L277.5,1594.8 L279.0,1594.4 L280.4,1594.1 L281.9,1593.7 L283.4,1593.3 L284.8,1593.0 L286.3,1592.6 L287.7,1592.2 L289.2,1591.9 L290.7,1591.5 L292.1,1591.2 L293.6,1590.9 L295.1,1590.5 L296.5,1590.2 L298.0,1589.9 L299.5,1589.6 L301.0,1589.2 L302.4,1588.9 L303.9,1588.6 L305.4,1588.3 L306.8,1588.0 L308.3,1587.7 L309.8,1587.4 L311.3,1587.2 L312.8,1586.9 L314.2,1586.6 L315.7,1586.3 L317.2,1586.0 L318.7,1585.8 L320.2,1585.5 L321.6,1585.3 L323.1,1585.0 L324.6,1584.7 L326.1,1584.5 L327.6,1584.2 L329.1,1584.0 L330.5,1583.7 L332.0,1583.5 L333.5,1583.3 L335.0,1583.0 L336.5,1582.8 L338.0,1582.6 L339.5,1582.3 L341.0,1582.1 L342.4,1581.9 L343.9,1581.7 L345.4,1581.5 L346.9,1581.2 L348.4,1581.0 L349.9,1580.8 L351.4,1580.6 L352.9,1580.4 L354.4,1580.2 L355.9,1580.0 L357.3,1579.8 L358.8,1579.6 L360.3,1579.4 L361.8,1579.2 L363.3,1579.0 L364.8,1578.9 L366.3,1578.7 L367.8,1578.5 L369.3,1578.3 L370.8,1578.1 L372.3,1578.0 L373.8,1577.8 L375.3,1577.6 L376.8,1577.4 L378.3,1577.3 L379.8,1577.1 L381.2,1576.9 L382.7,1576.8 L384.2,1576.6 L385.7,1576.4 L387.2,1576.3 L388.7,1576.1 L390.2,1576.0 L391.7,1575.8 L393.2,1575.7 L394.7,1575.5 L396.2,1575.4 L397.7,1575.2 L399.2,1575.1 L400.7,1574.9 L402.2,1574.8 L403.7,1574.6 L405.2,1574.5 L406.7,1574.3 L408.2,1574.2 L409.7,1574.1 L411.2,1573.9 L412.7,1573.8 L414.2,1573.7 L415.7,1573.5 L417.2,1573.4 L418.7,1573.3 L420.2,1573.1 L421.7,1573.0 L423.2,1572.9 L424.7,1572.8 L426.2,1572.6 L427.7,1572.5 L429.2,1572.4 L430.7,1572.3 L432.2,1572.2 L433.7,1572.0 L435.2,1571.9 L436.7,1571.8 L438.2,1571.7 L439.7,1571.6 L441.2,1571.5 L442.7,1571.4 L444.2,1571.3 L445.7,1571.1 L447.2,1571.0 L448.7,1570.9 L450.2,1570.8 L451.7,1570.7 L453.2,1570.6 L454.7,1570.5 L456.2,1570.4 L457.7,1570.3 L459.2,1570.2 L460.7,1570.1 L462.2,1570.0 L463.7,1569.9 L465.2,1569.8 L466.7,1569.7 L468.2,1569.6 L469.7,1569.5 L471.2,1569.4 L472.7,1569.3 L474.2,1569.2 L475.7,1569.1 L477.2,1569.0 L478.7,1569.0 L480.2,1568.9 L481.7,1568.8 L483.2,1568.7 L484.7,1568.6 L486.2,1568.5 L487.8,1568.4 L489.3,1568.3 L490.8,1568.3 L492.3,1568.2 L493.8,1568.1 L495.3,1568.0 L496.8,1567.9 L498.3,1567.8 L499.8,1567.8 L501.3,1567.7 L502.8,1567.6 L504.3,1567.5 L505.8,1567.4 L507.3,1567.4 L508.8,1567.3 L510.3,1567.2 L511.8,1567.1 L513.3,1567.1 L514.8,1567.0 L516.3,1566.9 L517.8,1566.8 L519.3,1566.8 L520.8,1566.7 L522.3,1566.6 L523.8,1566.5 L525.3,1566.5 L526.8,1566.4 L528.3,1566.3 L529.8,1566.3 L531.3,1566.2 L532.8,1566.1 L534.3,1566.1 L535.8,1566.0 L537.4,1565.9 L538.9,1565.8 L540.4,1565.8 L541.9,1565.7 L543.4,1565.7 L544.9,1565.6 L546.4,1565.5 L547.9,1565.5 L549.4,1565.4 L550.9,1565.3 L552.4,1565.3 L553.9,1565.2 L555.4,1565.1 L556.9,1565.1 L558.4,1565.0 L559.9,1565.0 L561.4,1564.9 L562.9,1564.8 L564.4,1564.8 L565.9,1564.7 L567.4,1564.7 L568.9,1564.6 L570.4,1564.6 L571.9,1564.5 L573.4,1564.4 L574.9,1564.4 L576.4,1564.3 L578.0,1564.3 L579.5,1564.2 L581.0,1564.2 L582.5,1564.1 L584.0,1564.1 L585.5,1564.0 L587.0,1563.9 L588.5,1563.9 L590.0,1563.8 L591.5,1563.8 L593.0,1563.7 L594.5,1563.7 L596.0,1563.6 L597.5,1563.6 L599.0,1563.5 L600.5,1563.5 L590.8,1563.5" class="cv" stroke="#E41A1C"/>
<path d="M79.6,1910.5 L114.5,1910.5 L114.9,1909.1 L115.1,1907.6 L115.2,1906.1 L115.3,1904.6 L115.5,1903.1 L115.6,1901.6 L115.7,1900.1 L115.8,1898.6 L116.0,1897.1 L116.1,1895.6 L116.2,1894.1 L116.3,1892.6 L116.4,1891.1 L116.6,1889.6 L116.7,1888.1 L116.8,1886.6 L116.9,1885.1 L117.1,1883.6 L117.2,1882.1 L117.3,1880.6 L117.4,1879.1 L117.5,1877.6 L117.7,1876.1 L117.8,1874.6 L117.9,1873.1 L118.1,1871.6 L118.2,1870.1 L118.3,1868.6 L118.5,1867.1 L118.6,1865.6 L118.7,1864.1 L118.9,1862.6 L119.0,1861.1 L119.1,1859.6 L119.3,1858.1 L119.4,1856.6 L119.6,1855.1 L119.7,1853.6 L119.9,1852.1 L120.0,1850.7 L120.2,1849.2 L120.3,1847.7 L120.5,1846.2 L120.6,1844.7 L120.8,1843.2 L120.9,1841.7 L121.1,1840.2 L121.3,1838.7 L121.4,1837.2 L121.6,1835.7 L121.8,1834.2 L121.9,1832.7 L122.1,1831.2 L122.3,1829.7 L122.5,1828.2 L122.6,1826.7 L122.8,1825.2 L123.0,1823.8 L123.2,1822.3 L123.4,1820.8 L123.6,1819.3 L123.8,1817.8 L124.0,1816.3 L124.2,1814.8 L124.4,1813.3 L124.6,1811.8 L124.8,1810.3 L125.0,1808.8 L125.2,1807.4 L125.4,1805.9 L125.6,1804.4 L125.8,1802.9 L126.1,1801.4 L126.3,1799.9 L126.5,1798.4 L126.8,1797.0 L127.0,1795.5 L127.2,1794.0 L127.5,1792.5 L127.7,1791.0 L128.0,1789.5 L128.2,1788.0 L128.5,1786.6 L128.7,1785.1 L129.0,1783.6 L129.3,1782.1 L129.5,1780.6 L129.8,1779.2 L130.1,1777.7 L130.4,1776.2 L130.6,1774.7 L130.9,1773.3 L131.2,1771.8 L131.5,1770.3 L131.8,1768.8 L132.1,1767.4 L132.4,1765.9 L132.7,1764.4 L133.1,1763.0 L133.4,1761.5 L133.7,1760.0 L134.0,1758.6 L134.4,1757.1 L134.7,1755.6 L135.1,1754.2 L135.4,1752.7 L135.8,1751.2 L136.1,1749.8 L136.5,1748.3 L136.9,1746.9 L137.3,1745.4 L137.6,1744.0 L138.0,1742.5 L138.4,1741.1 L138.8,1739.6 L139.2,1738.2 L139.7,1736.7 L140.1,1735.3 L140.5,1733.8 L140.9,1732.4 L141.4,1730.9 L141.8,1729.5 L142.3,1728.1 L142.7,1726.6 L143.2,1725.2 L143.7,1723.8 L144.2,1722.4 L144.6,1720.9 L145.1,1719.5 L145.6,1718.1 L146.2,1716.7 L146.7,1715.3 L147.2,1713.9 L147.7,1712.5 L148.3,1711.1 L148.8,1709.7 L149.4,1708.3 L150.0,1706.9 L150.5,1705.5 L151.1,1704.1 L151.7,1702.7 L152.3,1701.3 L152.9,1700.0 L153.6,1698.6 L154.2,1697.2 L154.8,1695.9 L155.5,1694.5 L156.2,1693.2 L156.8,1691.8 L157.5,1690.5 L158.2,1689.2 L158.9,1687.8 L159.6,1686.5 L160.3,1685.2 L161.1,1683.9 L161.8,1682.6 L162.6,1681.3 L163.3,1680.0 L164.1,1678.7 L164.9,1677.4 L165.7,1676.1 L166.5,1674.9 L167.3,1673.6 L168.2,1672.4 L169.0,1671.1 L169.9,1669.9 L170.7,1668.7 L171.6,1667.4 L172.5,1666.2 L173.4,1665.0 L174.3,1663.8 L175.3,1662.6 L176.2,1661.5 L177.1,1660.3 L178.1,1659.1 L179.1,1658.0 L180.1,1656.9 L181.0,1655.7 L182.1,1654.6 L183.1,1653.5 L184.1,1652.4 L185.1,1651.3 L186.2,1650.2 L187.2,1649.2 L188.3,1648.1 L189.4,1647.1 L190.5,1646.0 L191.6,1645.0 L192.7,1644.0 L193.8,1643.0 L194.9,1642.0 L196.1,1641.0 L197.2,1640.1 L198.4,1639.1 L199.6,1638.2 L200.7,1637.2 L201.9,1636.3 L203.1,1635.4 L204.3,1634.5 L205.5,1633.6 L206.8,1632.7 L208.0,1631.9 L209.2,1631.0 L210.5,1630.2 L211.7,1629.3 L213.0,1628.5 L214.3,1627.7 L215.5,1626.9 L216.8,1626.1 L218.1,1625.3 L219.4,1624.5 L220.7,1623.8 L222.0,1623.0 L223.3,1622.3 L224.6,1621.6 L225.9,1620.9 L227.3,1620.2 L228.6,1619.5 L229.9,1618.8 L231.3,1618.1 L232.6,1617.4 L234.0,1616.8 L235.3,1616.1 L236.7,1615.5 L238.1,1614.8 L239.4,1614.2 L240.8,1613.6 L242.2,1613.0 L243.6,1612.4 L244.9,1611.8 L246.3,1611.2 L247.7,1610.7 L249.1,1610.1 L250.5,1609.6 L251.9,1609.0 L253.3,1608.5 L254.7,1607.9 L256.1,1607.4 L257.5,1606.9 L259.0,1606.4 L260.4,1605.9 L261.8,1605.4 L263.2,1604.9 L264.6,1604.4 L266.1,1603.9 L267.5,1603.5 L268.9,1603.0 L270.4,1602.6 L271.8,1602.1 L273.2,1601.7 L274.7,1601.2 L276.1,1600.8 L277.6,1600.4 L279.0,1600.0 L280.4,1599.5 L281.9,1599.1 L283.3,1598.7 L284.8,1598.3 L286.2,1597.9 L287.7,1597.6 L289.1,1597.2 L290.6,1596.8 L292.1,1596.4 L293.5,1596.1 L295.0,1595.7 L296.4,1595.3 L297.9,1595.0 L299.4,1594.6 L300.8,1594.3 L302.3,1594.0 L303.8,1593.6 L305.2,1593.3 L306.7,1593.0 L308.2,1592.6 L309.6,1592.3 L311.1,1592.0 L312.6,1591.7 L314.0,1591.4 L315.5,1591.1 L317.0,1590.8 L318.5,1590.5 L319.9,1590.2 L321.4,1589.9 L322.9,1589.6 L324.4,1589.3 L325.8,1589.1 L327.3,1588.8 L328.8,1588.5 L330.3,1588.2 L331.8,1588.0 L333.2,1587.7 L334.7,1587.5 L336.2,1587.2 L337.7,1586.9 L339.2,1586.7 L340.6,1586.4 L342.1,1586.2 L343.6,1586.0 L345.1,1585.7 L346.6,1585.5 L348.1,1585.3 L349.6,1585.0 L351.0,1584.8 L352.5,1584.6 L354.0,1584.3 L355.5,1584.1 L357.0,1583.9 L358.5,1583.7 L360.0,1583.5 L361.5,1583.3 L362.9,1583.0 L364.4,1582.8 L365.9,1582.6 L367.4,1582.4 L368.9,1582.2 L370.4,1582.0 L371.9,1581.8 L373.4,1581.6 L374.9,1581.4 L376.4,1581.3 L377.8,1581.1 L379.3,1580.9 L380.8,1580.7 L382.3,1580.5 L383.8,1580.3 L385.3,1580.1 L386.8,1580.0 L388.3,1579.8 L389.8,1579.6 L391.3,1579.4 L392.8,1579.3 L394.3,1579.1 L395.8,1578.9 L397.3,1578.8 L398.8,1578.6 L400.3,1578.4 L401.7,1578.3 L403.2,1578.1 L404.7,1578.0 L406.2,1577.8 L407.7,1577.7 L409.2,1577.5 L410.7,1577.4 L412.2,1577.2 L413.7,1577.1 L415.2,1576.9 L416.7,1576.8 L418.2,1576.6 L419.7,1576.5 L421.2,1576.3 L422.7,1576.2 L424.2,1576.0 L425.7,1575.9 L427.2,1575.8 L428.7,1575.6 L430.2,1575.5 L431.7,1575.4 L433.2,1575.2 L434.7,1575.1 L436.2,1575.0 L437.7,1574.8 L439.2,1574.7 L440.7,1574.6 L442.2,1574.5 L443.7,1574.3 L445.2,1574.2 L446.7,1574.1 L448.2,1574.0 L449.7,1573.8 L451.2,1573.7 L452.7,1573.6 L454.2,1573.5 L455.7,1573.4 L457.2,1573.3 L458.6,1573.1 L460.1,1573.0 L461.6,1572.9 L463.1,1572.8 L464.6,1572.7 L466.1,1572.6 L467.6,1572.5 L469.1,1572.4 L470.6,1572.3 L472.1,1572.2 L473.6,1572.1 L475.1,1572.0 L476.6,1571.8 L478.1,1571.7 L479.6,1571.6 L481.1,1571.5 L482.6,1571.4 L484.1,1571.3 L485.6,1571.2 L487.1,1571.1 L488.6,1571.1 L490.1,1571.0 L491.6,1570.9 L493.2,1570.8 L494.7,1570.7 L496.2,1570.6 L497.7,1570.5 L499.2,1570.4 L500.7,1570.3 L502.2,1570.2 L503.7,1570.1 L505.2,1570.0 L506.7,1569.9 L508.2,1569.9 L509.7,1569.8 L511.2,1569.7 L512.7,1569.6 L514.2,1569.5 L515.7,1569.4 L517.2,1569.3 L518.7,1569.3 L520.2,1569.2 L521.7,1569.1 L523.2,1569.0 L524.7,1568.9 L526.2,1568.9 L527.7,1568.8 L529.2,1568.7 L530.7,1568.6 L532.2,1568.5 L533.7,1568.5 L535.2,1568.4 L536.7,1568.3 L538.2,1568.2 L539.7,1568.2 L541.2,1568.1 L542.7,1568.0 L544.2,1567.9 L545.7,1567.9 L547.2,1567.8 L548.7,1567.7 L550.2,1567.6 L551.7,1567.6 L553.2,1567.5 L554.7,1567.4 L556.2,1567.4 L557.7,1567.3 L559.2,1567.2 L560.7,1567.2 L562.2,1567.1 L563.7,1567.0 L565.2,1567.0 L566.7,1566.9 L568.2,1566.8 L569.7,1566.8 L571.2,1566.7 L572.7,1566.6 L574.2,1566.6 L575.7,1566.5 L577.2,1566.4 L578.7,1566.4 L580.2,1566.3 L581.7,1566.2 L583.2,1566.2 L584.8,1566.1 L586.3,1566.1 L587.8,1566.0 L589.3,1565.9 L590.8,1565.9 L592.3,1565.8 L593.8,1565.8 L595.3,1565.7 L596.8,1565.7 L598.3,1565.6 L599.8,1565.5 L590.8,1565.5" class="cv" stroke="#377EB8"/>
<path d="M79.6,1910.5 L113.3,1910.5 L113.5,1909.0 L113.5,1907.5 L113.6,1906.0 L113.6,1904.5 L113.6,1903.0 L113.7,1901.5 L113.7,1900.0 L113.7,1898.5 L113.8,1897.0 L113.8,1895.5 L113.8,1894.0 L113.8,1892.5 L113.9,1891.0 L113.9,1889.5 L113.9,1888.0 L113.9,1886.5 L114.0,1885.0 L114.0,1883.5 L114.0,1882.0 L114.0,1880.5 L114.0,1879.0 L114.1,1877.5 L114.1,1876.0 L114.1,1874.5 L114.1,1872.9 L114.1,1871.4 L114.2,1869.9 L114.2,1868.4 L114.2,1866.9 L114.2,1865.4 L114.2,1863.9 L114.3,1862.4 L114.3,1860.9 L114.3,1859.4 L114.3,1857.9 L114.4,1856.4 L114.4,1854.9 L114.4,1853.4 L114.4,1851.9 L114.4,1850.4 L114.5,1848.9 L114.5,1847.4 L114.5,1845.9 L114.5,1844.4 L114.5,1842.9 L114.6,1841.4 L114.6,1839.9 L114.6,1838.4 L114.6,1836.9 L114.7,1835.4 L114.7,1833.8 L114.7,1832.3 L114.7,1830.8 L114.7,1829.3 L114.8,1827.8 L114.8,1826.3 L114.8,1824.8 L114.8,1823.3 L114.9,1821.8 L114.9,1820.3 L114.9,1818.8 L114.9,1817.3 L114.9,1815.8 L115.0,1814.3 L115.0,1812.8 L115.0,1811.3 L115.0,1809.8 L115.1,1808.3 L115.1,1806.8 L115.1,1805.3 L115.1,1803.8 L115.2,1802.3 L115.2,1800.8 L115.2,1799.3 L115.2,1797.8 L115.3,1796.3 L115.3,1794.7 L115.3,1793.2 L115.3,1791.7 L115.4,1790.2 L115.4,1788.7 L115.4,1787.2 L115.5,1785.7 L115.5,1784.2 L115.5,1782.7 L115.5,1781.2 L115.6,1779.7 L115.6,1778.2 L115.6,1776.7 L115.7,1775.2 L115.7,1773.7 L115.7,1772.2 L115.7,1770.7 L115.8,1769.2 L115.8,1767.7 L115.8,1766.2 L115.9,1764.7 L115.9,1763.2 L115.9,1761.7 L116.0,1760.2 L116.0,1758.7 L116.0,1757.2 L116.1,1755.7 L116.1,1754.1 L116.1,1752.6 L116.2,1751.1 L116.2,1749.6 L116.2,1748.1 L116.3,1746.6 L116.3,1745.1 L116.3,1743.6 L116.4,1742.1 L116.4,1740.6 L116.4,1739.1 L116.5,1737.6 L116.5,1736.1 L116.5,1734.6 L116.6,1733.1 L116.6,1731.6 L116.7,1730.1 L116.7,1728.6 L116.7,1727.1 L116.8,1725.6 L116.8,1724.1 L116.9,1722.6 L116.9,1721.1 L116.9,1719.6 L117.0,1718.1 L117.0,1716.6 L117.1,1715.1 L117.1,1713.6 L117.2,1712.1 L117.2,1710.5 L117.3,1709.0 L117.3,1707.5 L117.4,1706.0 L117.4,1704.5 L117.5,1703.0 L117.5,1701.5 L117.6,1700.0 L117.6,1698.5 L117.7,1697.0 L117.7,1695.5 L117.8,1694.0 L117.8,1692.5 L117.9,1691.0 L117.9,1689.5 L118.0,1688.0 L118.0,1686.5 L118.1,1685.0 L118.2,1683.5 L118.2,1682.0 L118.3,1680.5 L118.4,1679.0 L118.4,1677.5 L118.5,1676.0 L118.5,1674.5 L118.6,1673.0 L118.7,1671.5 L118.8,1670.0 L118.8,1668.5 L118.9,1667.0 L119.0,1665.5 L119.0,1664.0 L119.1,1662.5 L119.2,1661.0 L119.3,1659.5 L119.4,1658.0 L119.4,1656.5 L119.5,1655.0 L119.6,1653.4 L119.7,1651.9 L119.8,1650.4 L119.9,1648.9 L120.0,1647.4 L120.1,1645.9 L120.2,1644.4 L120.3,1642.9 L120.4,1641.4 L120.5,1639.9 L120.6,1638.4 L120.7,1636.9 L120.8,1635.4 L120.9,1633.9 L121.0,1632.4 L121.2,1630.9 L121.3,1629.4 L121.4,1627.9 L121.6,1626.4 L121.7,1625.0 L121.8,1623.5 L122.0,1622.0 L122.1,1620.5 L122.3,1619.0 L122.4,1617.5 L122.6,1616.0 L122.8,1614.5 L122.9,1613.0 L123.1,1611.5 L123.3,1610.0 L123.5,1608.5 L123.7,1607.0 L123.9,1605.5 L124.1,1604.0 L124.3,1602.5 L124.6,1601.1 L124.8,1599.6 L125.1,1598.1 L125.3,1596.6 L125.6,1595.1 L125.9,1593.7 L126.2,1592.2 L126.5,1590.7 L126.8,1589.2 L127.2,1587.8 L127.5,1586.3 L127.9,1584.9 L128.3,1583.4 L128.8,1582.0 L129.2,1580.6 L129.7,1579.1 L130.2,1577.7 L130.8,1576.3 L131.4,1574.9 L132.0,1573.6 L132.7,1572.2 L133.4,1570.9 L134.1,1569.6 L135.0,1568.4 L135.9,1567.1 L136.8,1566.0 L137.8,1564.8 L138.9,1563.8 L140.0,1562.8 L141.1,1561.8 L142.4,1560.9 L143.6,1560.1 L144.9,1559.4 L146.3,1558.7 L147.7,1558.1 L149.1,1557.6 L150.5,1557.0 L151.9,1556.6 L153.4,1556.2 L154.8,1555.8 L156.3,1555.5 L157.8,1555.2 L159.2,1554.9 L160.7,1554.6 L162.2,1554.4 L163.7,1554.2 L165.2,1554.0 L166.7,1553.8 L168.2,1553.7 L169.7,1553.5 L171.2,1553.4 L172.7,1553.3 L174.2,1553.2 L175.7,1553.1 L177.2,1553.0 L178.7,1552.9 L180.2,1552.8 L181.7,1552.7 L183.2,1552.7 L184.7,1552.6 L186.2,1552.5 L187.7,1552.5 L189.2,1552.4 L190.7,1552.4 L192.2,1552.3 L193.7,1552.3 L195.2,1552.2 L196.7,1552.2 L198.2,1552.2 L199.7,1552.1 L201.2,1552.1 L202.7,1552.1 L204.2,1552.1 L205.7,1552.0 L207.2,1552.0 L208.7,1552.0 L210.2,1552.0 L211.7,1551.9 L213.2,1551.9 L214.7,1551.9 L216.3,1551.9 L217.8,1551.9 L219.3,1551.9 L220.8,1551.8 L222.3,1551.8 L223.8,1551.8 L225.3,1551.8 L226.8,1551.8 L228.3,1551.8 L229.8,1551.8 L231.3,1551.8 L232.8,1551.7 L234.3,1551.7 L235.8,1551.7 L237.3,1551.7 L238.8,1551.7 L240.3,1551.7 L241.8,1551.7 L243.3,1551.7 L244.8,1551.7 L246.3,1551.7 L247.8,1551.7 L249.3,1551.7 L250.8,1551.7 L252.3,1551.7 L253.8,1551.6 L255.4,1551.6 L256.9,1551.6 L258.4,1551.6 L259.9,1551.6 L261.4,1551.6 L262.9,1551.6 L264.4,1551.6 L265.9,1551.6 L267.4,1551.6 L268.9,1551.6 L270.4,1551.6 L271.9,1551.6 L273.4,1551.6 L274.9,1551.6 L276.4,1551.6 L277.9,1551.6 L279.4,1551.6 L280.9,1551.6 L282.4,1551.6 L283.9,1551.6 L285.4,1551.6 L286.9,1551.6 L288.4,1551.6 L289.9,1551.6 L291.4,1551.6 L293.0,1551.6 L294.5,1551.6 L296.0,1551.6 L297.5,1551.6 L299.0,1551.6 L300.5,1551.6 L302.0,1551.6 L303.5,1551.6 L305.0,1551.6 L306.5,1551.6 L308.0,1551.5 L309.5,1551.5 L311.0,1551.5 L312.5,1551.5 L314.0,1551.5 L315.5,1551.5 L317.0,1551.5 L318.5,1551.5 L320.0,1551.5 L321.5,1551.5 L323.0,1551.5 L324.5,1551.5 L326.0,1551.5 L327.5,1551.5 L329.0,1551.5 L330.6,1551.5 L332.1,1551.5 L333.6,1551.5 L335.1,1551.5 L336.6,1551.5 L338.1,1551.5 L339.6,1551.5 L341.1,1551.5 L342.6,1551.5 L344.1,1551.5 L345.6,1551.5 L347.1,1551.5 L348.6,1551.5 L350.1,1551.5 L351.6,1551.5 L353.1,1551.5 L354.6,1551.5 L356.1,1551.5 L357.6,1551.5 L359.1,1551.5 L360.6,1551.5 L362.1,1551.5 L363.6,1551.5 L365.1,1551.5 L366.6,1551.5 L368.2,1551.5 L369.7,1551.5 L371.2,1551.5 L372.7,1551.5 L374.2,1551.5 L375.7,1551.5 L377.2,1551.5 L378.7,1551.5 L380.2,1551.5 L381.7,1551.5 L383.2,1551.5 L384.7,1551.5 L386.2,1551.5 L387.7,1551.5 L389.2,1551.5 L390.7,1551.5 L392.2,1551.5 L393.7,1551.5 L395.2,1551.5 L396.7,1551.5 L398.2,1551.5 L399.7,1551.5 L401.2,1551.5 L402.7,1551.5 L404.2,1551.5 L405.8,1551.5 L407.3,1551.5 L408.8,1551.5 L410.3,1551.5 L411.8,1551.5 L413.3,1551.5 L414.8,1551.5 L416.3,1551.5 L417.8,1551.5 L419.3,1551.5 L420.8,1551.5 L422.3,1551.5 L423.8,1551.5 L425.3,1551.5 L426.8,1551.5 L428.3,1551.5 L429.8,1551.5 L431.3,1551.5 L432.8,1551.5 L434.3,1551.5 L435.8,1551.5 L437.3,1551.5 L438.8,1551.5 L440.3,1551.5 L441.8,1551.5 L443.4,1551.5 L444.9,1551.5 L446.4,1551.5 L447.9,1551.5 L449.4,1551.5 L450.9,1551.5 L452.4,1551.5 L453.9,1551.5 L455.4,1551.5 L456.9,1551.5 L458.4,1551.5 L459.9,1551.5 L461.4,1551.5 L462.9,1551.5 L464.4,1551.5 L465.9,1551.5 L467.4,1551.5 L468.9,1551.5 L470.4,1551.5 L471.9,1551.5 L473.4,1551.5 L474.9,1551.5 L476.4,1551.5 L477.9,1551.5 L479.4,1551.5 L481.0,1551.5 L482.5,1551.5 L484.0,1551.5 L485.5,1551.5 L487.0,1551.5 L488.5,1551.5 L490.0,1551.5 L491.5,1551.5 L493.0,1551.5 L494.5,1551.5 L496.0,1551.5 L497.5,1551.5 L499.0,1551.5 L500.5,1551.5 L502.0,1551.5 L503.5,1551.5 L505.0,1551.5 L506.5,1551.5 L508.0,1551.5 L509.5,1551.5 L511.0,1551.5 L512.5,1551.5 L514.0,1551.5 L515.5,1551.5 L517.0,1551.5 L518.6,1551.5 L520.1,1551.5 L521.6,1551.5 L523.1,1551.5 L524.6,1551.5 L526.1,1551.5 L527.6,1551.5 L529.1,1551.5 L530.6,1551.5 L532.1,1551.5 L533.6,1551.5 L535.1,1551.5 L536.6,1551.5 L538.1,1551.5 L539.6,1551.5 L541.1,1551.5 L542.6,1551.5 L544.1,1551.5 L545.6,1551.5 L547.1,1551.5 L548.6,1551.5 L550.1,1551.5 L551.6,1551.5 L553.1,1551.5 L554.6,1551.5 L556.2,1551.5 L557.7,1551.5 L559.2,1551.5 L560.7,1551.5 L562.2,1551.5 L563.7,1551.5 L565.2,1551.5 L566.7,1551.5 L568.2,1551.5 L569.7,1551.5 L571.2,1551.5 L572.7,1551.5 L574.2,1551.5 L575.7,1551.5 L577.2,1551.5 L578.7,1551.5 L580.2,1551.5 L581.7,1551.5 L583.2,1551.5 L584.7,1551.5 L586.2,1551.5 L587.7,1551.5 L589.2,1551.5 L590.7,1551.5 L592.2,1551.5 L593.7,1551.5 L595.3,1551.5 L596.8,1551.5 L598.3,1551.5 L599.8,1551.5 L590.8,1551.5" class="cv" stroke="#4DAF4A"/>
<line x1="391.3" y1="1927.5" x2="391.3" y2="1514.6" class="dash"/>
</g>
<rect x="89.6" y="1534.6" width="491.2" height="392.9" class="bd"/>
<line x1="427.9" y1="1822.0" x2="453.7" y2="1822.0" stroke="#E41A1C" stroke-width="4.6"/>
<text x="461.0" y="1831.7" class="lg">Males</text>
<line x1="427.9" y1="1854.5" x2="453.7" y2="1854.5" stroke="#377EB8" stroke-width="4.6"/>
<text x="461.0" y="1864.2" class="lg">Females</text>
<line x1="427.9" y1="1887.0" x2="453.7" y2="1887.0" stroke="#4DAF4A" stroke-width="4.6"/>
<text x="461.0" y="1896.7" class="lg">Children</text>
<text x="936.3" y="1515.7" class="ti">Mn</text>
<text class="yl" transform="translate(620.65,1730.5) rotate(-90)">Cumulative probability</text>
<line x1="682.8" y1="1910.5" x2="685.4" y2="1910.5" class="tk"/>
<text x="681.8" y="1920.8" class="yt">0.00</text>
<line x1="682.8" y1="1820.8" x2="685.4" y2="1820.8" class="tk"/>
<text x="681.8" y="1831.0" class="yt">0.25</text>
<line x1="682.8" y1="1731.0" x2="685.4" y2="1731.0" class="tk"/>
<text x="681.8" y="1741.3" class="yt">0.50</text>
<line x1="682.8" y1="1641.2" x2="685.4" y2="1641.2" class="tk"/>
<text x="681.8" y="1651.5" class="yt">0.75</text>
<line x1="682.8" y1="1551.5" x2="685.4" y2="1551.5" class="tk"/>
<text x="681.8" y="1561.8" class="yt">1.00</text>
<line x1="707.4" y1="1927.5" x2="707.4" y2="1930.1" class="tk"/>
<text x="707.0" y="1951.0" class="xt">0</text>
<line x1="816.8" y1="1927.5" x2="816.8" y2="1930.1" class="tk"/>
<text x="816.4" y="1951.0" class="xt">2</text>
<line x1="925.5" y1="1927.5" x2="925.5" y2="1930.1" class="tk"/>
<text x="925.1" y="1951.0" class="xt">4</text>
<line x1="1034.6" y1="1927.5" x2="1034.6" y2="1930.1" class="tk"/>
<text x="1034.2" y="1951.0" class="xt">6</text>
<line x1="1143.4" y1="1927.5" x2="1143.4" y2="1930.1" class="tk"/>
<text x="1143.0" y="1951.0" class="xt">8</text>
<g clip-path="url(#cp10)">
<path d="M675.4,1910.5 L709.9,1910.5 L710.3,1909.1 L710.5,1907.6 L710.6,1906.1 L710.8,1904.6 L710.9,1903.1 L711.0,1901.6 L711.2,1900.1 L711.3,1898.6 L711.4,1897.1 L711.5,1895.6 L711.7,1894.1 L711.8,1892.6 L711.9,1891.1 L712.0,1889.6 L712.2,1888.1 L712.3,1886.6 L712.4,1885.1 L712.5,1883.6 L712.7,1882.1 L712.8,1880.6 L712.9,1879.1 L713.0,1877.6 L713.2,1876.1 L713.3,1874.6 L713.4,1873.1 L713.6,1871.6 L713.7,1870.1 L713.8,1868.6 L714.0,1867.1 L714.1,1865.6 L714.2,1864.1 L714.4,1862.6 L714.5,1861.1 L714.7,1859.6 L714.8,1858.1 L715.0,1856.6 L715.1,1855.1 L715.2,1853.6 L715.4,1852.2 L715.6,1850.7 L715.7,1849.2 L715.9,1847.7 L716.0,1846.2 L716.2,1844.7 L716.3,1843.2 L716.5,1841.7 L716.7,1840.2 L716.8,1838.7 L717.0,1837.2 L717.2,1835.7 L717.3,1834.2 L717.5,1832.7 L717.7,1831.2 L717.9,1829.7 L718.0,1828.2 L718.2,1826.7 L718.4,1825.2 L718.6,1823.8 L718.8,1822.3 L719.0,1820.8 L719.2,1819.3 L719.4,1817.8 L719.6,1816.3 L719.8,1814.8 L720.0,1813.3 L720.2,1811.8 L720.4,1810.3 L720.6,1808.8 L720.8,1807.4 L721.0,1805.9 L721.2,1804.4 L721.5,1802.9 L721.7,1801.4 L721.9,1799.9 L722.1,1798.4 L722.4,1796.9 L722.6,1795.5 L722.9,1794.0 L723.1,1792.5 L723.3,1791.0 L723.6,1789.5 L723.8,1788.0 L724.1,1786.6 L724.4,1785.1 L724.6,1783.6 L724.9,1782.1 L725.2,1780.6 L725.4,1779.2 L725.7,1777.7 L726.0,1776.2 L726.3,1774.7 L726.6,1773.3 L726.9,1771.8 L727.2,1770.3 L727.5,1768.8 L727.8,1767.4 L728.1,1765.9 L728.4,1764.4 L728.7,1762.9 L729.0,1761.5 L729.4,1760.0 L729.7,1758.5 L730.0,1757.1 L730.4,1755.6 L730.7,1754.1 L731.1,1752.7 L731.4,1751.2 L731.8,1749.8 L732.2,1748.3 L732.5,1746.8 L732.9,1745.4 L733.3,1743.9 L733.7,1742.5 L734.1,1741.0 L734.5,1739.6 L734.9,1738.1 L735.3,1736.7 L735.7,1735.2 L736.1,1733.8 L736.6,1732.4 L737.0,1730.9 L737.5,1729.5 L737.9,1728.1 L738.4,1726.6 L738.8,1725.2 L739.3,1723.8 L739.8,1722.3 L740.3,1720.9 L740.8,1719.5 L741.3,1718.1 L741.8,1716.7 L742.3,1715.2 L742.8,1713.8 L743.4,1712.4 L743.9,1711.0 L744.4,1709.6 L745.0,1708.2 L745.6,1706.8 L746.1,1705.4 L746.7,1704.1 L747.3,1702.7 L747.9,1701.3 L748.5,1699.9 L749.2,1698.6 L749.8,1697.2 L750.4,1695.8 L751.1,1694.5 L751.7,1693.1 L752.4,1691.8 L753.1,1690.4 L753.8,1689.1 L754.5,1687.8 L755.2,1686.4 L755.9,1685.1 L756.6,1683.8 L757.4,1682.5 L758.1,1681.2 L758.9,1679.9 L759.6,1678.6 L760.4,1677.3 L761.2,1676.0 L762.0,1674.8 L762.8,1673.5 L763.7,1672.2 L764.5,1671.0 L765.4,1669.8 L766.2,1668.5 L767.1,1667.3 L768.0,1666.1 L768.9,1664.9 L769.8,1663.7 L770.7,1662.5 L771.6,1661.3 L772.6,1660.1 L773.5,1659.0 L774.5,1657.8 L775.5,1656.7 L776.5,1655.5 L777.5,1654.4 L778.5,1653.3 L779.5,1652.2 L780.5,1651.1 L781.6,1650.0 L782.6,1649.0 L783.7,1647.9 L784.8,1646.8 L785.9,1645.8 L786.9,1644.8 L788.1,1643.7 L789.2,1642.7 L790.3,1641.7 L791.4,1640.8 L792.6,1639.8 L793.7,1638.8 L794.9,1637.9 L796.1,1636.9 L797.3,1636.0 L798.4,1635.1 L799.6,1634.2 L800.9,1633.3 L802.1,1632.4 L803.3,1631.5 L804.5,1630.7 L805.8,1629.8 L807.0,1629.0 L808.3,1628.1 L809.5,1627.3 L810.8,1626.5 L812.1,1625.7 L813.4,1624.9 L814.6,1624.2 L815.9,1623.4 L817.2,1622.6 L818.6,1621.9 L819.9,1621.2 L821.2,1620.4 L822.5,1619.7 L823.8,1619.0 L825.2,1618.3 L826.5,1617.6 L827.9,1617.0 L829.2,1616.3 L830.6,1615.7 L831.9,1615.0 L833.3,1614.4 L834.7,1613.7 L836.0,1613.1 L837.4,1612.5 L838.8,1611.9 L840.2,1611.3 L841.5,1610.7 L842.9,1610.2 L844.3,1609.6 L845.7,1609.0 L847.1,1608.5 L848.5,1608.0 L849.9,1607.4 L851.3,1606.9 L852.8,1606.4 L854.2,1605.9 L855.6,1605.4 L857.0,1604.9 L858.4,1604.4 L859.9,1603.9 L861.3,1603.4 L862.7,1602.9 L864.1,1602.5 L865.6,1602.0 L867.0,1601.6 L868.4,1601.1 L869.9,1600.7 L871.3,1600.2 L872.8,1599.8 L874.2,1599.4 L875.7,1599.0 L877.1,1598.6 L878.5,1598.2 L880.0,1597.8 L881.4,1597.4 L882.9,1597.0 L884.4,1596.6 L885.8,1596.2 L887.3,1595.8 L888.7,1595.5 L890.2,1595.1 L891.6,1594.8 L893.1,1594.4 L894.6,1594.0 L896.0,1593.7 L897.5,1593.4 L899.0,1593.0 L900.4,1592.7 L901.9,1592.4 L903.4,1592.0 L904.8,1591.7 L906.3,1591.4 L907.8,1591.1 L909.3,1590.8 L910.7,1590.5 L912.2,1590.2 L913.7,1589.9 L915.1,1589.6 L916.6,1589.3 L918.1,1589.0 L919.6,1588.7 L921.1,1588.5 L922.5,1588.2 L924.0,1587.9 L925.5,1587.6 L927.0,1587.4 L928.5,1587.1 L929.9,1586.9 L931.4,1586.6 L932.9,1586.3 L934.4,1586.1 L935.9,1585.8 L937.4,1585.6 L938.8,1585.4 L940.3,1585.1 L941.8,1584.9 L943.3,1584.6 L944.8,1584.4 L946.3,1584.2 L947.8,1584.0 L949.2,1583.7 L950.7,1583.5 L952.2,1583.3 L953.7,1583.1 L955.2,1582.9 L956.7,1582.6 L958.2,1582.4 L959.7,1582.2 L961.2,1582.0 L962.6,1581.8 L964.1,1581.6 L965.6,1581.4 L967.1,1581.2 L968.6,1581.0 L970.1,1580.8 L971.6,1580.6 L973.1,1580.5 L974.6,1580.3 L976.1,1580.1 L977.6,1579.9 L979.1,1579.7 L980.5,1579.5 L982.0,1579.4 L983.5,1579.2 L985.0,1579.0 L986.5,1578.8 L988.0,1578.7 L989.5,1578.5 L991.0,1578.3 L992.5,1578.2 L994.0,1578.0 L995.5,1577.9 L997.0,1577.7 L998.5,1577.5 L1000.0,1577.4 L1001.5,1577.2 L1003.0,1577.1 L1004.5,1576.9 L1006.0,1576.8 L1007.5,1576.6 L1009.0,1576.5 L1010.5,1576.3 L1011.9,1576.2 L1013.4,1576.0 L1014.9,1575.9 L1016.4,1575.7 L1017.9,1575.6 L1019.4,1575.5 L1020.9,1575.3 L1022.4,1575.2 L1023.9,1575.1 L1025.4,1574.9 L1026.9,1574.8 L1028.4,1574.7 L1029.9,1574.5 L1031.4,1574.4 L1032.9,1574.3 L1034.4,1574.1 L1035.9,1574.0 L1037.4,1573.9 L1038.9,1573.8 L1040.4,1573.6 L1041.9,1573.5 L1043.4,1573.4 L1044.9,1573.3 L1046.4,1573.2 L1047.9,1573.0 L1049.4,1572.9 L1050.9,1572.8 L1052.4,1572.7 L1053.9,1572.6 L1055.4,1572.5 L1056.9,1572.4 L1058.4,1572.2 L1059.9,1572.1 L1061.4,1572.0 L1062.9,1571.9 L1064.4,1571.8 L1065.9,1571.7 L1067.4,1571.6 L1068.9,1571.5 L1070.4,1571.4 L1071.9,1571.3 L1073.4,1571.2 L1074.9,1571.1 L1076.4,1571.0 L1077.9,1570.9 L1079.4,1570.8 L1080.9,1570.7 L1082.4,1570.6 L1083.9,1570.5 L1085.4,1570.4 L1086.9,1570.3 L1088.4,1570.2 L1089.9,1570.1 L1091.4,1570.0 L1092.9,1569.9 L1094.4,1569.9 L1095.9,1569.8 L1097.4,1569.7 L1098.9,1569.6 L1100.4,1569.5 L1101.9,1569.4 L1103.4,1569.3 L1104.9,1569.2 L1106.4,1569.1 L1107.9,1569.1 L1109.4,1569.0 L1110.9,1568.9 L1112.4,1568.8 L1113.9,1568.7 L1115.4,1568.6 L1116.9,1568.6 L1118.5,1568.5 L1120.0,1568.4 L1121.5,1568.3 L1123.0,1568.2 L1124.5,1568.2 L1126.0,1568.1 L1127.5,1568.0 L1129.0,1567.9 L1130.5,1567.9 L1132.0,1567.8 L1133.5,1567.7 L1135.0,1567.6 L1136.5,1567.6 L1138.0,1567.5 L1139.5,1567.4 L1141.0,1567.3 L1142.5,1567.3 L1144.0,1567.2 L1145.5,1567.1 L1147.0,1567.1 L1148.5,1567.0 L1150.0,1566.9 L1151.5,1566.9 L1153.0,1566.8 L1154.5,1566.7 L1156.0,1566.7 L1157.5,1566.6 L1159.0,1566.5 L1160.5,1566.5 L1162.0,1566.4 L1163.5,1566.3 L1165.0,1566.3 L1166.5,1566.2 L1168.0,1566.1 L1169.5,1566.1 L1171.0,1566.0 L1172.5,1565.9 L1174.0,1565.9 L1175.5,1565.8 L1177.0,1565.8 L1178.5,1565.7 L1180.1,1565.6 L1181.6,1565.6 L1183.1,1565.5 L1184.6,1565.5 L1186.1,1565.4 L1187.6,1565.3 L1189.1,1565.3 L1190.6,1565.2 L1192.1,1565.2 L1193.6,1565.1 L1195.1,1565.1 L1186.6,1565.1" class="cv" stroke="#E41A1C"/>
<path d="M675.4,1910.5 L709.2,1910.5 L709.7,1909.2 L710.0,1907.7 L710.2,1906.2 L710.4,1904.7 L710.6,1903.2 L710.8,1901.7 L711.0,1900.2 L711.1,1898.7 L711.3,1897.2 L711.5,1895.7 L711.6,1894.2 L711.8,1892.7 L712.0,1891.2 L712.1,1889.7 L712.3,1888.3 L712.5,1886.8 L712.6,1885.3 L712.8,1883.8 L712.9,1882.3 L713.1,1880.8 L713.3,1879.3 L713.4,1877.8 L713.6,1876.3 L713.8,1874.8 L713.9,1873.3 L714.1,1871.8 L714.2,1870.3 L714.4,1868.8 L714.6,1867.3 L714.8,1865.8 L714.9,1864.3 L715.1,1862.8 L715.3,1861.3 L715.5,1859.8 L715.6,1858.3 L715.8,1856.8 L716.0,1855.3 L716.2,1853.9 L716.4,1852.4 L716.5,1850.9 L716.7,1849.4 L716.9,1847.9 L717.1,1846.4 L717.3,1844.9 L717.5,1843.4 L717.7,1841.9 L717.9,1840.4 L718.1,1838.9 L718.3,1837.4 L718.5,1835.9 L718.7,1834.4 L718.9,1833.0 L719.1,1831.5 L719.3,1830.0 L719.6,1828.5 L719.8,1827.0 L720.0,1825.5 L720.2,1824.0 L720.4,1822.5 L720.7,1821.0 L720.9,1819.6 L721.1,1818.1 L721.4,1816.6 L721.6,1815.1 L721.8,1813.6 L722.1,1812.1 L722.3,1810.6 L722.6,1809.1 L722.8,1807.7 L723.1,1806.2 L723.3,1804.7 L723.6,1803.2 L723.8,1801.7 L724.1,1800.3 L724.4,1798.8 L724.6,1797.3 L724.9,1795.8 L725.2,1794.3 L725.5,1792.8 L725.8,1791.4 L726.0,1789.9 L726.3,1788.4 L726.6,1786.9 L726.9,1785.5 L727.2,1784.0 L727.5,1782.5 L727.8,1781.0 L728.1,1779.6 L728.5,1778.1 L728.8,1776.6 L729.1,1775.2 L729.4,1773.7 L729.8,1772.2 L730.1,1770.8 L730.4,1769.3 L730.8,1767.8 L731.1,1766.4 L731.5,1764.9 L731.8,1763.4 L732.2,1762.0 L732.6,1760.5 L733.0,1759.1 L733.3,1757.6 L733.7,1756.1 L734.1,1754.7 L734.5,1753.2 L734.9,1751.8 L735.3,1750.3 L735.7,1748.9 L736.1,1747.4 L736.5,1746.0 L736.9,1744.5 L737.4,1743.1 L737.8,1741.7 L738.3,1740.2 L738.7,1738.8 L739.2,1737.3 L739.6,1735.9 L740.1,1734.5 L740.5,1733.1 L741.0,1731.6 L741.5,1730.2 L742.0,1728.8 L742.5,1727.4 L743.0,1725.9 L743.5,1724.5 L744.0,1723.1 L744.6,1721.7 L745.1,1720.3 L745.6,1718.9 L746.2,1717.5 L746.7,1716.1 L747.3,1714.7 L747.9,1713.3 L748.4,1711.9 L749.0,1710.5 L749.6,1709.1 L750.2,1707.8 L750.8,1706.4 L751.5,1705.0 L752.1,1703.6 L752.7,1702.3 L753.4,1700.9 L754.0,1699.6 L754.7,1698.2 L755.4,1696.9 L756.0,1695.5 L756.7,1694.2 L757.4,1692.9 L758.1,1691.5 L758.9,1690.2 L759.6,1688.9 L760.3,1687.6 L761.1,1686.3 L761.8,1685.0 L762.6,1683.7 L763.4,1682.4 L764.2,1681.1 L765.0,1679.8 L765.8,1678.6 L766.6,1677.3 L767.4,1676.0 L768.3,1674.8 L769.1,1673.5 L770.0,1672.3 L770.9,1671.1 L771.7,1669.9 L772.6,1668.7 L773.5,1667.4 L774.4,1666.3 L775.4,1665.1 L776.3,1663.9 L777.3,1662.7 L778.2,1661.6 L779.2,1660.4 L780.2,1659.3 L781.1,1658.1 L782.1,1657.0 L783.2,1655.9 L784.2,1654.8 L785.2,1653.7 L786.2,1652.6 L787.3,1651.5 L788.4,1650.4 L789.4,1649.4 L790.5,1648.3 L791.6,1647.3 L792.7,1646.3 L793.8,1645.2 L794.9,1644.2 L796.0,1643.2 L797.2,1642.3 L798.3,1641.3 L799.5,1640.3 L800.6,1639.4 L801.8,1638.4 L803.0,1637.5 L804.2,1636.6 L805.4,1635.6 L806.6,1634.7 L807.8,1633.9 L809.0,1633.0 L810.3,1632.1 L811.5,1631.2 L812.7,1630.4 L814.0,1629.6 L815.2,1628.7 L816.5,1627.9 L817.8,1627.1 L819.1,1626.3 L820.3,1625.5 L821.6,1624.8 L822.9,1624.0 L824.2,1623.2 L825.5,1622.5 L826.8,1621.7 L828.2,1621.0 L829.5,1620.3 L830.8,1619.6 L832.2,1618.9 L833.5,1618.2 L834.8,1617.5 L836.2,1616.9 L837.5,1616.2 L838.9,1615.6 L840.3,1614.9 L841.6,1614.3 L843.0,1613.7 L844.4,1613.0 L845.7,1612.4 L847.1,1611.8 L848.5,1611.2 L849.9,1610.7 L851.3,1610.1 L852.7,1609.5 L854.1,1608.9 L855.5,1608.4 L856.9,1607.9 L858.3,1607.3 L859.7,1606.8 L861.1,1606.3 L862.5,1605.7 L863.9,1605.2 L865.4,1604.7 L866.8,1604.2 L868.2,1603.8 L869.6,1603.3 L871.1,1602.8 L872.5,1602.3 L873.9,1601.9 L875.4,1601.4 L876.8,1601.0 L878.2,1600.5 L879.7,1600.1 L881.1,1599.6 L882.6,1599.2 L884.0,1598.8 L885.4,1598.4 L886.9,1598.0 L888.3,1597.6 L889.8,1597.2 L891.2,1596.8 L892.7,1596.4 L894.2,1596.0 L895.6,1595.6 L897.1,1595.3 L898.5,1594.9 L900.0,1594.5 L901.5,1594.2 L902.9,1593.8 L904.4,1593.5 L905.8,1593.1 L907.3,1592.8 L908.8,1592.4 L910.2,1592.1 L911.7,1591.8 L913.2,1591.4 L914.7,1591.1 L916.1,1590.8 L917.6,1590.5 L919.1,1590.2 L920.5,1589.9 L922.0,1589.6 L923.5,1589.3 L925.0,1589.0 L926.5,1588.7 L927.9,1588.4 L929.4,1588.1 L930.9,1587.8 L932.4,1587.6 L933.8,1587.3 L935.3,1587.0 L936.8,1586.7 L938.3,1586.5 L939.8,1586.2 L941.3,1586.0 L942.7,1585.7 L944.2,1585.4 L945.7,1585.2 L947.2,1584.9 L948.7,1584.7 L950.2,1584.5 L951.6,1584.2 L953.1,1584.0 L954.6,1583.8 L956.1,1583.5 L957.6,1583.3 L959.1,1583.1 L960.6,1582.8 L962.1,1582.6 L963.5,1582.4 L965.0,1582.2 L966.5,1582.0 L968.0,1581.8 L969.5,1581.5 L971.0,1581.3 L972.5,1581.1 L974.0,1580.9 L975.5,1580.7 L977.0,1580.5 L978.5,1580.3 L980.0,1580.1 L981.4,1580.0 L982.9,1579.8 L984.4,1579.6 L985.9,1579.4 L987.4,1579.2 L988.9,1579.0 L990.4,1578.8 L991.9,1578.7 L993.4,1578.5 L994.9,1578.3 L996.4,1578.1 L997.9,1578.0 L999.4,1577.8 L1000.9,1577.6 L1002.4,1577.5 L1003.9,1577.3 L1005.4,1577.1 L1006.9,1577.0 L1008.4,1576.8 L1009.9,1576.6 L1011.4,1576.5 L1012.8,1576.3 L1014.3,1576.2 L1015.8,1576.0 L1017.3,1575.9 L1018.8,1575.7 L1020.3,1575.6 L1021.8,1575.4 L1023.3,1575.3 L1024.8,1575.1 L1026.3,1575.0 L1027.8,1574.8 L1029.3,1574.7 L1030.8,1574.6 L1032.3,1574.4 L1033.8,1574.3 L1035.3,1574.2 L1036.8,1574.0 L1038.3,1573.9 L1039.8,1573.8 L1041.3,1573.6 L1042.8,1573.5 L1044.3,1573.4 L1045.8,1573.2 L1047.3,1573.1 L1048.8,1573.0 L1050.3,1572.9 L1051.8,1572.7 L1053.3,1572.6 L1054.8,1572.5 L1056.3,1572.4 L1057.8,1572.3 L1059.3,1572.1 L1060.8,1572.0 L1062.3,1571.9 L1063.8,1571.8 L1065.3,1571.7 L1066.8,1571.6 L1068.3,1571.5 L1069.8,1571.4 L1071.3,1571.2 L1072.8,1571.1 L1074.3,1571.0 L1075.8,1570.9 L1077.3,1570.8 L1078.8,1570.7 L1080.3,1570.6 L1081.8,1570.5 L1083.3,1570.4 L1084.8,1570.3 L1086.3,1570.2 L1087.8,1570.1 L1089.3,1570.0 L1090.9,1569.9 L1092.4,1569.8 L1093.9,1569.7 L1095.4,1569.6 L1096.9,1569.5 L1098.4,1569.4 L1099.9,1569.3 L1101.4,1569.2 L1102.9,1569.1 L1104.4,1569.1 L1105.9,1569.0 L1107.4,1568.9 L1108.9,1568.8 L1110.4,1568.7 L1111.9,1568.6 L1113.4,1568.5 L1114.9,1568.4 L1116.4,1568.3 L1117.9,1568.3 L1119.4,1568.2 L1120.9,1568.1 L1122.4,1568.0 L1123.9,1567.9 L1125.4,1567.8 L1126.9,1567.8 L1128.4,1567.7 L1129.9,1567.6 L1131.4,1567.5 L1132.9,1567.4 L1134.4,1567.4 L1135.9,1567.3 L1137.4,1567.2 L1138.9,1567.1 L1140.4,1567.1 L1141.9,1567.0 L1143.5,1566.9 L1145.0,1566.8 L1146.5,1566.8 L1148.0,1566.7 L1149.5,1566.6 L1151.0,1566.5 L1152.5,1566.5 L1154.0,1566.4 L1155.5,1566.3 L1157.0,1566.3 L1158.5,1566.2 L1160.0,1566.1 L1161.5,1566.0 L1163.0,1566.0 L1164.5,1565.9 L1166.0,1565.8 L1167.5,1565.8 L1169.0,1565.7 L1170.5,1565.6 L1172.0,1565.6 L1173.5,1565.5 L1175.0,1565.4 L1176.5,1565.4 L1178.0,1565.3 L1179.5,1565.3 L1181.0,1565.2 L1182.5,1565.1 L1184.1,1565.1 L1185.6,1565.0 L1187.1,1564.9 L1188.6,1564.9 L1190.1,1564.8 L1191.6,1564.8 L1193.1,1564.7 L1194.6,1564.6 L1196.1,1564.6 L1186.6,1564.6" class="cv" stroke="#377EB8"/>
<path d="M675.4,1910.5 L709.2,1910.5 L709.4,1909.1 L709.5,1907.6 L709.6,1906.1 L709.6,1904.6 L709.7,1903.1 L709.7,1901.6 L709.7,1900.1 L709.8,1898.5 L709.8,1897.0 L709.8,1895.5 L709.9,1894.0 L709.9,1892.5 L709.9,1891.0 L710.0,1889.5 L710.0,1888.0 L710.0,1886.5 L710.0,1885.0 L710.1,1883.5 L710.1,1882.0 L710.1,1880.5 L710.2,1879.0 L710.2,1877.5 L710.2,1876.0 L710.2,1874.5 L710.3,1873.0 L710.3,1871.5 L710.3,1870.0 L710.3,1868.5 L710.4,1866.9 L710.4,1865.4 L710.4,1863.9 L710.4,1862.4 L710.5,1860.9 L710.5,1859.4 L710.5,1857.9 L710.5,1856.4 L710.6,1854.9 L710.6,1853.4 L710.6,1851.9 L710.6,1850.4 L710.7,1848.9 L710.7,1847.4 L710.7,1845.9 L710.7,1844.4 L710.8,1842.9 L710.8,1841.4 L710.8,1839.9 L710.8,1838.4 L710.9,1836.8 L710.9,1835.3 L710.9,1833.8 L710.9,1832.3 L711.0,1830.8 L711.0,1829.3 L711.0,1827.8 L711.1,1826.3 L711.1,1824.8 L711.1,1823.3 L711.1,1821.8 L711.2,1820.3 L711.2,1818.8 L711.2,1817.3 L711.2,1815.8 L711.3,1814.3 L711.3,1812.8 L711.3,1811.3 L711.4,1809.8 L711.4,1808.3 L711.4,1806.8 L711.4,1805.2 L711.5,1803.7 L711.5,1802.2 L711.5,1800.7 L711.6,1799.2 L711.6,1797.7 L711.6,1796.2 L711.6,1794.7 L711.7,1793.2 L711.7,1791.7 L711.7,1790.2 L711.8,1788.7 L711.8,1787.2 L711.8,1785.7 L711.8,1784.2 L711.9,1782.7 L711.9,1781.2 L711.9,1779.7 L712.0,1778.2 L712.0,1776.7 L712.0,1775.1 L712.1,1773.6 L712.1,1772.1 L712.1,1770.6 L712.2,1769.1 L712.2,1767.6 L712.2,1766.1 L712.3,1764.6 L712.3,1763.1 L712.3,1761.6 L712.4,1760.1 L712.4,1758.6 L712.4,1757.1 L712.5,1755.6 L712.5,1754.1 L712.6,1752.6 L712.6,1751.1 L712.6,1749.6 L712.7,1748.1 L712.7,1746.6 L712.7,1745.1 L712.8,1743.6 L712.8,1742.0 L712.9,1740.5 L712.9,1739.0 L712.9,1737.5 L713.0,1736.0 L713.0,1734.5 L713.1,1733.0 L713.1,1731.5 L713.2,1730.0 L713.2,1728.5 L713.2,1727.0 L713.3,1725.5 L713.3,1724.0 L713.4,1722.5 L713.4,1721.0 L713.5,1719.5 L713.5,1718.0 L713.6,1716.5 L713.6,1715.0 L713.7,1713.5 L713.7,1712.0 L713.8,1710.5 L713.8,1708.9 L713.9,1707.4 L713.9,1705.9 L714.0,1704.4 L714.0,1702.9 L714.1,1701.4 L714.1,1699.9 L714.2,1698.4 L714.2,1696.9 L714.3,1695.4 L714.3,1693.9 L714.4,1692.4 L714.5,1690.9 L714.5,1689.4 L714.6,1687.9 L714.6,1686.4 L714.7,1684.9 L714.8,1683.4 L714.8,1681.9 L714.9,1680.4 L715.0,1678.9 L715.0,1677.4 L715.1,1675.9 L715.2,1674.4 L715.2,1672.9 L715.3,1671.4 L715.4,1669.8 L715.5,1668.3 L715.5,1666.8 L715.6,1665.3 L715.7,1663.8 L715.8,1662.3 L715.8,1660.8 L715.9,1659.3 L716.0,1657.8 L716.1,1656.3 L716.2,1654.8 L716.3,1653.3 L716.4,1651.8 L716.5,1650.3 L716.6,1648.8 L716.6,1647.3 L716.7,1645.8 L716.8,1644.3 L716.9,1642.8 L717.1,1641.3 L717.2,1639.8 L717.3,1638.3 L717.4,1636.8 L717.5,1635.3 L717.6,1633.8 L717.7,1632.3 L717.9,1630.8 L718.0,1629.3 L718.1,1627.8 L718.3,1626.3 L718.4,1624.8 L718.5,1623.3 L718.7,1621.8 L718.8,1620.3 L719.0,1618.8 L719.1,1617.3 L719.3,1615.8 L719.5,1614.3 L719.6,1612.8 L719.8,1611.3 L720.0,1609.8 L720.2,1608.3 L720.4,1606.9 L720.6,1605.4 L720.8,1603.9 L721.0,1602.4 L721.2,1600.9 L721.5,1599.4 L721.7,1597.9 L722.0,1596.4 L722.3,1595.0 L722.5,1593.5 L722.8,1592.0 L723.1,1590.5 L723.5,1589.1 L723.8,1587.6 L724.2,1586.1 L724.5,1584.7 L724.9,1583.2 L725.3,1581.8 L725.8,1580.3 L726.3,1578.9 L726.8,1577.5 L727.3,1576.1 L727.8,1574.7 L728.5,1573.3 L729.1,1571.9 L729.8,1570.6 L730.5,1569.3 L731.3,1568.0 L732.2,1566.8 L733.1,1565.6 L734.1,1564.4 L735.1,1563.3 L736.2,1562.3 L737.4,1561.3 L738.6,1560.5 L739.8,1559.6 L741.1,1558.9 L742.5,1558.2 L743.8,1557.6 L745.2,1557.0 L746.7,1556.5 L748.1,1556.1 L749.5,1555.7 L751.0,1555.3 L752.5,1555.0 L753.9,1554.7 L755.4,1554.4 L756.9,1554.2 L758.4,1554.0 L759.9,1553.8 L761.4,1553.6 L762.9,1553.4 L764.4,1553.3 L765.9,1553.2 L767.4,1553.0 L768.9,1552.9 L770.4,1552.8 L771.9,1552.7 L773.4,1552.7 L774.9,1552.6 L776.4,1552.5 L777.9,1552.4 L779.4,1552.4 L780.9,1552.3 L782.4,1552.3 L783.9,1552.2 L785.4,1552.2 L786.9,1552.1 L788.4,1552.1 L789.9,1552.1 L791.4,1552.0 L792.9,1552.0 L794.5,1552.0 L796.0,1552.0 L797.5,1551.9 L799.0,1551.9 L800.5,1551.9 L802.0,1551.9 L803.5,1551.8 L805.0,1551.8 L806.5,1551.8 L808.0,1551.8 L809.5,1551.8 L811.0,1551.8 L812.5,1551.8 L814.0,1551.7 L815.5,1551.7 L817.0,1551.7 L818.5,1551.7 L820.0,1551.7 L821.5,1551.7 L823.0,1551.7 L824.6,1551.7 L826.1,1551.7 L827.6,1551.7 L829.1,1551.7 L830.6,1551.6 L832.1,1551.6 L833.6,1551.6 L835.1,1551.6 L836.6,1551.6 L838.1,1551.6 L839.6,1551.6 L841.1,1551.6 L842.6,1551.6 L844.1,1551.6 L845.6,1551.6 L847.1,1551.6 L848.6,1551.6 L850.1,1551.6 L851.6,1551.6 L853.1,1551.6 L854.7,1551.6 L856.2,1551.6 L857.7,1551.6 L859.2,1551.6 L860.7,1551.6 L862.2,1551.6 L863.7,1551.6 L865.2,1551.6 L866.7,1551.6 L868.2,1551.6 L869.7,1551.6 L871.2,1551.6 L872.7,1551.5 L874.2,1551.5 L875.7,1551.5 L877.2,1551.5 L878.7,1551.5 L880.2,1551.5 L881.7,1551.5 L883.3,1551.5 L884.8,1551.5 L886.3,1551.5 L887.8,1551.5 L889.3,1551.5 L890.8,1551.5 L892.3,1551.5 L893.8,1551.5 L895.3,1551.5 L896.8,1551.5 L898.3,1551.5 L899.8,1551.5 L901.3,1551.5 L902.8,1551.5 L904.3,1551.5 L905.8,1551.5 L907.3,1551.5 L908.8,1551.5 L910.3,1551.5 L911.8,1551.5 L913.4,1551.5 L914.9,1551.5 L916.4,1551.5 L917.9,1551.5 L919.4,1551.5 L920.9,1551.5 L922.4,1551.5 L923.9,1551.5 L925.4,1551.5 L926.9,1551.5 L928.4,1551.5 L929.9,1551.5 L931.4,1551.5 L932.9,1551.5 L934.4,1551.5 L935.9,1551.5 L937.4,1551.5 L938.9,1551.5 L940.4,1551.5 L942.0,1551.5 L943.5,1551.5 L945.0,1551.5 L946.5,1551.5 L948.0,1551.5 L949.5,1551.5 L951.0,1551.5 L952.5,1551.5 L954.0,1551.5 L955.5,1551.5 L957.0,1551.5 L958.5,1551.5 L960.0,1551.5 L961.5,1551.5 L963.0,1551.5 L964.5,1551.5 L966.0,1551.5 L967.5,1551.5 L969.0,1551.5 L970.5,1551.5 L972.1,1551.5 L973.6,1551.5 L975.1,1551.5 L976.6,1551.5 L978.1,1551.5 L979.6,1551.5 L981.1,1551.5 L982.6,1551.5 L984.1,1551.5 L985.6,1551.5 L987.1,1551.5 L988.6,1551.5 L990.1,1551.5 L991.6,1551.5 L993.1,1551.5 L994.6,1551.5 L996.1,1551.5 L997.6,1551.5 L999.1,1551.5 L1000.6,1551.5 L1002.2,1551.5 L1003.7,1551.5 L1005.2,1551.5 L1006.7,1551.5 L1008.2,1551.5 L1009.7,1551.5 L1011.2,1551.5 L1012.7,1551.5 L1014.2,1551.5 L1015.7,1551.5 L1017.2,1551.5 L1018.7,1551.5 L1020.2,1551.5 L1021.7,1551.5 L1023.2,1551.5 L1024.7,1551.5 L1026.2,1551.5 L1027.7,1551.5 L1029.2,1551.5 L1030.8,1551.5 L1032.3,1551.5 L1033.8,1551.5 L1035.3,1551.5 L1036.8,1551.5 L1038.3,1551.5 L1039.8,1551.5 L1041.3,1551.5 L1042.8,1551.5 L1044.3,1551.5 L1045.8,1551.5 L1047.3,1551.5 L1048.8,1551.5 L1050.3,1551.5 L1051.8,1551.5 L1053.3,1551.5 L1054.8,1551.5 L1056.3,1551.5 L1057.8,1551.5 L1059.3,1551.5 L1060.9,1551.5 L1062.4,1551.5 L1063.9,1551.5 L1065.4,1551.5 L1066.9,1551.5 L1068.4,1551.5 L1069.9,1551.5 L1071.4,1551.5 L1072.9,1551.5 L1074.4,1551.5 L1075.9,1551.5 L1077.4,1551.5 L1078.9,1551.5 L1080.4,1551.5 L1081.9,1551.5 L1083.4,1551.5 L1084.9,1551.5 L1086.4,1551.5 L1087.9,1551.5 L1089.4,1551.5 L1091.0,1551.5 L1092.5,1551.5 L1094.0,1551.5 L1095.5,1551.5 L1097.0,1551.5 L1098.5,1551.5 L1100.0,1551.5 L1101.5,1551.5 L1103.0,1551.5 L1104.5,1551.5 L1106.0,1551.5 L1107.5,1551.5 L1109.0,1551.5 L1110.5,1551.5 L1112.0,1551.5 L1113.5,1551.5 L1115.0,1551.5 L1116.5,1551.5 L1118.0,1551.5 L1119.6,1551.5 L1121.1,1551.5 L1122.6,1551.5 L1124.1,1551.5 L1125.6,1551.5 L1127.1,1551.5 L1128.6,1551.5 L1130.1,1551.5 L1131.6,1551.5 L1133.1,1551.5 L1134.6,1551.5 L1136.1,1551.5 L1137.6,1551.5 L1139.1,1551.5 L1140.6,1551.5 L1142.1,1551.5 L1143.6,1551.5 L1145.1,1551.5 L1146.6,1551.5 L1148.1,1551.5 L1149.7,1551.5 L1151.2,1551.5 L1152.7,1551.5 L1154.2,1551.5 L1155.7,1551.5 L1157.2,1551.5 L1158.7,1551.5 L1160.2,1551.5 L1161.7,1551.5 L1163.2,1551.5 L1164.7,1551.5 L1166.2,1551.5 L1167.7,1551.5 L1169.2,1551.5 L1170.7,1551.5 L1172.2,1551.5 L1173.7,1551.5 L1175.2,1551.5 L1176.7,1551.5 L1178.3,1551.5 L1179.8,1551.5 L1181.3,1551.5 L1182.8,1551.5 L1184.3,1551.5 L1185.8,1551.5 L1187.3,1551.5 L1188.8,1551.5 L1190.3,1551.5 L1191.8,1551.5 L1193.3,1551.5 L1194.8,1551.5 L1196.3,1551.5 L1186.6,1551.5" class="cv" stroke="#4DAF4A"/>
<line x1="762.0" y1="1927.5" x2="762.0" y2="1514.6" class="dash"/>
</g>
<rect x="685.4" y="1534.6" width="491.2" height="392.9" class="bd"/>
<line x1="1023.7" y1="1822.0" x2="1049.5" y2="1822.0" stroke="#E41A1C" stroke-width="4.6"/>
<text x="1056.8" y="1831.7" class="lg">Males</text>
<line x1="1023.7" y1="1854.5" x2="1049.5" y2="1854.5" stroke="#377EB8" stroke-width="4.6"/>
<text x="1056.8" y="1864.2" class="lg">Females</text>
<line x1="1023.7" y1="1887.0" x2="1049.5" y2="1887.0" stroke="#4DAF4A" stroke-width="4.6"/>
<text x="1056.8" y="1896.7" class="lg">Children</text>
<text x="1536.5" y="1515.7" class="ti">PCDD/Fs</text>
<text class="yl" transform="translate(1213.55,1730.5) rotate(-90)">Cumulative probability</text>
<line x1="1275.7" y1="1910.5" x2="1278.3" y2="1910.5" class="tk"/>
<text x="1274.7" y="1920.8" class="yt">0.00</text>
<line x1="1275.7" y1="1820.8" x2="1278.3" y2="1820.8" class="tk"/>
<text x="1274.7" y="1831.0" class="yt">0.25</text>
<line x1="1275.7" y1="1731.0" x2="1278.3" y2="1731.0" class="tk"/>
<text x="1274.7" y="1741.3" class="yt">0.50</text>
<line x1="1275.7" y1="1641.2" x2="1278.3" y2="1641.2" class="tk"/>
<text x="1274.7" y="1651.5" class="yt">0.75</text>
<line x1="1275.7" y1="1551.5" x2="1278.3" y2="1551.5" class="tk"/>
<text x="1274.7" y="1561.8" class="yt">1.00</text>
<line x1="1300.3" y1="1927.5" x2="1300.3" y2="1930.1" class="tk"/>
<text x="1299.9" y="1951.0" class="xt">0.0</text>
<line x1="1439.6" y1="1927.5" x2="1439.6" y2="1930.1" class="tk"/>
<text x="1439.2" y="1951.0" class="xt">0.1</text>
<line x1="1579.4" y1="1927.5" x2="1579.4" y2="1930.1" class="tk"/>
<text x="1579.0" y="1951.0" class="xt">0.2</text>
<line x1="1719.6" y1="1927.5" x2="1719.6" y2="1930.1" class="tk"/>
<text x="1719.2" y="1951.0" class="xt">0.3</text>
<g clip-path="url(#cp11)">
<path d="M1268.3,1910.5 L1186.8,1910.5 L1188.3,1910.5 L1189.8,1910.5 L1191.3,1910.5 L1192.8,1910.5 L1194.3,1910.5 L1195.9,1910.5 L1197.4,1910.5 L1198.9,1910.5 L1200.4,1910.5 L1201.9,1910.5 L1203.4,1910.5 L1204.9,1910.5 L1206.4,1910.5 L1207.9,1910.5 L1209.4,1910.5 L1210.9,1910.5 L1212.4,1910.5 L1213.9,1910.5 L1215.4,1910.5 L1216.9,1910.5 L1218.4,1910.5 L1220.0,1910.5 L1221.5,1910.5 L1223.0,1910.5 L1224.5,1910.5 L1226.0,1910.5 L1227.5,1910.5 L1229.0,1910.5 L1230.5,1910.5 L1232.0,1910.5 L1233.5,1910.5 L1235.0,1910.5 L1236.5,1910.5 L1238.0,1910.5 L1239.5,1910.5 L1241.0,1910.5 L1242.6,1910.5 L1244.1,1910.5 L1245.6,1910.5 L1247.1,1910.5 L1248.6,1910.5 L1250.1,1910.5 L1251.6,1910.5 L1253.1,1910.5 L1254.6,1910.5 L1256.1,1910.5 L1257.6,1910.5 L1259.1,1910.5 L1260.6,1910.5 L1262.1,1910.5 L1263.6,1910.5 L1265.2,1910.5 L1266.7,1910.5 L1268.2,1910.5 L1269.7,1910.5 L1271.2,1910.5 L1272.7,1910.5 L1274.2,1910.5 L1275.7,1910.5 L1277.2,1910.5 L1278.7,1910.5 L1280.2,1910.5 L1281.7,1910.5 L1283.2,1910.5 L1284.7,1910.5 L1286.2,1910.5 L1287.7,1910.5 L1289.3,1910.5 L1290.8,1910.5 L1292.3,1910.5 L1293.8,1910.5 L1295.3,1910.5 L1296.8,1910.5 L1298.3,1910.5 L1299.8,1910.5 L1301.3,1910.5 L1302.8,1910.4 L1304.3,1910.4 L1305.8,1910.3 L1307.3,1910.1 L1308.8,1909.8 L1310.2,1909.3 L1311.6,1908.7 L1312.8,1907.8 L1313.8,1906.7 L1314.8,1905.5 L1315.6,1904.2 L1316.3,1902.9 L1316.9,1901.5 L1317.4,1900.1 L1318.0,1898.7 L1318.4,1897.3 L1318.9,1895.8 L1319.3,1894.4 L1319.6,1892.9 L1320.0,1891.5 L1320.3,1890.0 L1320.7,1888.5 L1321.0,1887.0 L1321.3,1885.6 L1321.5,1884.1 L1321.8,1882.6 L1322.1,1881.1 L1322.3,1879.6 L1322.6,1878.1 L1322.8,1876.7 L1323.0,1875.2 L1323.2,1873.7 L1323.5,1872.2 L1323.7,1870.7 L1323.9,1869.2 L1324.1,1867.7 L1324.3,1866.2 L1324.5,1864.7 L1324.6,1863.2 L1324.8,1861.7 L1325.0,1860.2 L1325.2,1858.7 L1325.4,1857.2 L1325.5,1855.7 L1325.7,1854.2 L1325.9,1852.8 L1326.0,1851.3 L1326.2,1849.8 L1326.3,1848.3 L1326.5,1846.8 L1326.6,1845.3 L1326.8,1843.8 L1326.9,1842.3 L1327.1,1840.8 L1327.2,1839.3 L1327.4,1837.8 L1327.5,1836.3 L1327.7,1834.8 L1327.8,1833.3 L1327.9,1831.8 L1328.1,1830.3 L1328.2,1828.8 L1328.3,1827.3 L1328.5,1825.8 L1328.6,1824.3 L1328.7,1822.8 L1328.9,1821.3 L1329.0,1819.8 L1329.1,1818.3 L1329.3,1816.8 L1329.4,1815.3 L1329.5,1813.8 L1329.6,1812.3 L1329.8,1810.8 L1329.9,1809.2 L1330.0,1807.7 L1330.1,1806.2 L1330.2,1804.7 L1330.4,1803.2 L1330.5,1801.7 L1330.6,1800.2 L1330.7,1798.7 L1330.8,1797.2 L1330.9,1795.7 L1331.1,1794.2 L1331.2,1792.7 L1331.3,1791.2 L1331.4,1789.7 L1331.5,1788.2 L1331.6,1786.7 L1331.7,1785.2 L1331.9,1783.7 L1332.0,1782.2 L1332.1,1780.7 L1332.2,1779.2 L1332.3,1777.7 L1332.4,1776.2 L1332.5,1774.7 L1332.6,1773.2 L1332.7,1771.7 L1332.9,1770.2 L1333.0,1768.7 L1333.1,1767.2 L1333.2,1765.7 L1333.3,1764.2 L1333.4,1762.7 L1333.5,1761.2 L1333.6,1759.7 L1333.7,1758.2 L1333.8,1756.7 L1333.9,1755.2 L1334.1,1753.7 L1334.2,1752.2 L1334.3,1750.7 L1334.4,1749.2 L1334.5,1747.7 L1334.6,1746.2 L1334.7,1744.6 L1334.8,1743.1 L1334.9,1741.6 L1335.0,1740.1 L1335.1,1738.6 L1335.2,1737.1 L1335.3,1735.6 L1335.4,1734.1 L1335.6,1732.6 L1335.7,1731.1 L1335.8,1729.6 L1335.9,1728.1 L1336.0,1726.6 L1336.1,1725.1 L1336.2,1723.6 L1336.3,1722.1 L1336.4,1720.6 L1336.5,1719.1 L1336.6,1717.6 L1336.7,1716.1 L1336.9,1714.6 L1337.0,1713.1 L1337.1,1711.6 L1337.2,1710.1 L1337.3,1708.6 L1337.4,1707.1 L1337.5,1705.6 L1337.6,1704.1 L1337.7,1702.6 L1337.8,1701.1 L1338.0,1699.6 L1338.1,1698.1 L1338.2,1696.6 L1338.3,1695.1 L1338.4,1693.6 L1338.5,1692.1 L1338.6,1690.6 L1338.7,1689.1 L1338.9,1687.6 L1339.0,1686.0 L1339.1,1684.5 L1339.2,1683.0 L1339.3,1681.5 L1339.4,1680.0 L1339.6,1678.5 L1339.7,1677.0 L1339.8,1675.5 L1339.9,1674.0 L1340.0,1672.5 L1340.2,1671.0 L1340.3,1669.5 L1340.4,1668.0 L1340.5,1666.5 L1340.7,1665.0 L1340.8,1663.5 L1340.9,1662.0 L1341.0,1660.5 L1341.2,1659.0 L1341.3,1657.5 L1341.4,1656.0 L1341.5,1654.5 L1341.7,1653.0 L1341.8,1651.5 L1341.9,1650.0 L1342.1,1648.5 L1342.2,1647.0 L1342.4,1645.5 L1342.5,1644.0 L1342.6,1642.5 L1342.8,1641.0 L1342.9,1639.5 L1343.1,1638.0 L1343.2,1636.5 L1343.3,1635.0 L1343.5,1633.5 L1343.6,1632.0 L1343.8,1630.5 L1343.9,1629.0 L1344.1,1627.5 L1344.3,1626.0 L1344.4,1624.5 L1344.6,1623.0 L1344.7,1621.5 L1344.9,1620.0 L1345.1,1618.5 L1345.2,1617.0 L1345.4,1615.5 L1345.6,1614.0 L1345.8,1612.5 L1346.0,1611.1 L1346.1,1609.6 L1346.3,1608.1 L1346.5,1606.6 L1346.7,1605.1 L1346.9,1603.6 L1347.1,1602.1 L1347.3,1600.6 L1347.5,1599.1 L1347.8,1597.6 L1348.0,1596.1 L1348.2,1594.6 L1348.4,1593.1 L1348.7,1591.7 L1348.9,1590.2 L1349.2,1588.7 L1349.4,1587.2 L1349.7,1585.7 L1350.0,1584.2 L1350.3,1582.8 L1350.6,1581.3 L1350.9,1579.8 L1351.2,1578.3 L1351.5,1576.9 L1351.9,1575.4 L1352.3,1573.9 L1352.6,1572.5 L1353.0,1571.0 L1353.5,1569.6 L1353.9,1568.2 L1354.4,1566.7 L1354.9,1565.3 L1355.5,1563.9 L1356.1,1562.5 L1356.8,1561.2 L1357.5,1559.9 L1358.3,1558.6 L1359.2,1557.4 L1360.2,1556.3 L1361.3,1555.2 L1362.5,1554.4 L1363.9,1553.6 L1365.2,1553.0 L1366.7,1552.6 L1368.1,1552.2 L1369.6,1552.0 L1371.1,1551.8 L1372.6,1551.7 L1374.1,1551.7 L1375.6,1551.6 L1377.1,1551.6 L1378.7,1551.5 L1380.2,1551.5 L1381.7,1551.5 L1383.2,1551.5 L1384.7,1551.5 L1386.2,1551.5 L1387.7,1551.5 L1389.2,1551.5 L1390.7,1551.5 L1392.2,1551.5 L1393.7,1551.5 L1395.2,1551.5 L1396.7,1551.5 L1398.2,1551.5 L1399.7,1551.5 L1401.3,1551.5 L1402.8,1551.5 L1404.3,1551.5 L1405.8,1551.5 L1407.3,1551.5 L1408.8,1551.5 L1410.3,1551.5 L1411.8,1551.5 L1778.8,1551.5" class="cv" stroke="#E41A1C"/>
<path d="M1268.3,1910.5 L1315.6,1910.5 L1317.1,1910.5 L1318.6,1910.5 L1320.1,1910.5 L1321.6,1910.4 L1323.1,1910.2 L1324.5,1909.8 L1325.8,1909.0 L1326.9,1908.0 L1327.9,1906.9 L1328.8,1905.6 L1329.5,1904.3 L1330.2,1903.0 L1330.8,1901.6 L1331.4,1900.2 L1332.0,1898.8 L1332.5,1897.4 L1332.9,1896.0 L1333.4,1894.5 L1333.8,1893.1 L1334.3,1891.7 L1334.7,1890.2 L1335.1,1888.8 L1335.5,1887.3 L1335.8,1885.8 L1336.2,1884.4 L1336.6,1882.9 L1336.9,1881.5 L1337.2,1880.0 L1337.6,1878.5 L1337.9,1877.1 L1338.2,1875.6 L1338.6,1874.1 L1338.9,1872.6 L1339.2,1871.2 L1339.5,1869.7 L1339.8,1868.2 L1340.1,1866.7 L1340.4,1865.3 L1340.7,1863.8 L1340.9,1862.3 L1341.2,1860.8 L1341.5,1859.4 L1341.8,1857.9 L1342.1,1856.4 L1342.4,1854.9 L1342.6,1853.4 L1342.9,1852.0 L1343.2,1850.5 L1343.4,1849.0 L1343.7,1847.5 L1344.0,1846.0 L1344.2,1844.6 L1344.5,1843.1 L1344.8,1841.6 L1345.0,1840.1 L1345.3,1838.6 L1345.5,1837.1 L1345.8,1835.7 L1346.1,1834.2 L1346.3,1832.7 L1346.6,1831.2 L1346.8,1829.7 L1347.1,1828.2 L1347.3,1826.8 L1347.6,1825.3 L1347.8,1823.8 L1348.1,1822.3 L1348.3,1820.8 L1348.6,1819.3 L1348.9,1817.9 L1349.1,1816.4 L1349.4,1814.9 L1349.6,1813.4 L1349.9,1811.9 L1350.1,1810.4 L1350.4,1809.0 L1350.6,1807.5 L1350.9,1806.0 L1351.1,1804.5 L1351.4,1803.0 L1351.6,1801.5 L1351.9,1800.0 L1352.1,1798.6 L1352.4,1797.1 L1352.6,1795.6 L1352.9,1794.1 L1353.2,1792.6 L1353.4,1791.1 L1353.7,1789.7 L1353.9,1788.2 L1354.2,1786.7 L1354.4,1785.2 L1354.7,1783.7 L1354.9,1782.2 L1355.2,1780.8 L1355.5,1779.3 L1355.7,1777.8 L1356.0,1776.3 L1356.2,1774.8 L1356.5,1773.4 L1356.8,1771.9 L1357.0,1770.4 L1357.3,1768.9 L1357.6,1767.4 L1357.8,1765.9 L1358.1,1764.5 L1358.4,1763.0 L1358.6,1761.5 L1358.9,1760.0 L1359.2,1758.5 L1359.5,1757.1 L1359.7,1755.6 L1360.0,1754.1 L1360.3,1752.6 L1360.6,1751.1 L1360.8,1749.7 L1361.1,1748.2 L1361.4,1746.7 L1361.7,1745.2 L1362.0,1743.7 L1362.3,1742.3 L1362.5,1740.8 L1362.8,1739.3 L1363.1,1737.8 L1363.4,1736.4 L1363.7,1734.9 L1364.0,1733.4 L1364.3,1731.9 L1364.6,1730.5 L1364.9,1729.0 L1365.2,1727.5 L1365.5,1726.0 L1365.8,1724.6 L1366.1,1723.1 L1366.4,1721.6 L1366.7,1720.1 L1367.1,1718.7 L1367.4,1717.2 L1367.7,1715.7 L1368.0,1714.3 L1368.3,1712.8 L1368.7,1711.3 L1369.0,1709.8 L1369.3,1708.4 L1369.6,1706.9 L1370.0,1705.4 L1370.3,1704.0 L1370.7,1702.5 L1371.0,1701.0 L1371.3,1699.6 L1371.7,1698.1 L1372.0,1696.6 L1372.4,1695.2 L1372.7,1693.7 L1373.1,1692.3 L1373.5,1690.8 L1373.8,1689.3 L1374.2,1687.9 L1374.6,1686.4 L1375.0,1685.0 L1375.3,1683.5 L1375.7,1682.0 L1376.1,1680.6 L1376.5,1679.1 L1376.9,1677.7 L1377.3,1676.2 L1377.7,1674.8 L1378.1,1673.3 L1378.5,1671.9 L1378.9,1670.4 L1379.3,1669.0 L1379.8,1667.6 L1380.2,1666.1 L1380.6,1664.7 L1381.1,1663.2 L1381.5,1661.8 L1382.0,1660.4 L1382.4,1658.9 L1382.9,1657.5 L1383.3,1656.1 L1383.8,1654.6 L1384.3,1653.2 L1384.8,1651.8 L1385.3,1650.3 L1385.7,1648.9 L1386.2,1647.5 L1386.8,1646.1 L1387.3,1644.7 L1387.8,1643.3 L1388.3,1641.8 L1388.8,1640.4 L1389.4,1639.0 L1389.9,1637.6 L1390.5,1636.2 L1391.1,1634.8 L1391.6,1633.4 L1392.2,1632.1 L1392.8,1630.7 L1393.4,1629.3 L1394.0,1627.9 L1394.6,1626.5 L1395.3,1625.2 L1395.9,1623.8 L1396.5,1622.5 L1397.2,1621.1 L1397.9,1619.7 L1398.5,1618.4 L1399.2,1617.1 L1399.9,1615.7 L1400.7,1614.4 L1401.4,1613.1 L1402.1,1611.8 L1402.9,1610.5 L1403.6,1609.2 L1404.4,1607.9 L1405.2,1606.6 L1406.0,1605.3 L1406.8,1604.1 L1407.7,1602.8 L1408.5,1601.6 L1409.4,1600.3 L1410.3,1599.1 L1411.1,1597.9 L1412.1,1596.7 L1413.0,1595.5 L1413.9,1594.4 L1414.9,1593.2 L1415.9,1592.0 L1416.9,1590.9 L1417.9,1589.8 L1418.9,1588.7 L1419.9,1587.6 L1421.0,1586.5 L1422.1,1585.5 L1423.2,1584.5 L1424.3,1583.5 L1425.4,1582.5 L1426.6,1581.5 L1427.7,1580.5 L1428.9,1579.6 L1430.1,1578.7 L1431.3,1577.8 L1432.5,1576.9 L1433.8,1576.0 L1435.0,1575.2 L1436.3,1574.4 L1437.6,1573.6 L1438.9,1572.8 L1440.2,1572.1 L1441.5,1571.4 L1442.8,1570.7 L1444.2,1570.0 L1445.5,1569.3 L1446.9,1568.7 L1448.3,1568.1 L1449.6,1567.5 L1451.0,1566.9 L1452.4,1566.3 L1453.8,1565.8 L1455.2,1565.3 L1456.7,1564.8 L1458.1,1564.3 L1459.5,1563.8 L1461.0,1563.4 L1462.4,1562.9 L1463.8,1562.5 L1465.3,1562.1 L1466.7,1561.7 L1468.2,1561.4 L1469.7,1561.0 L1471.1,1560.7 L1472.6,1560.3 L1474.1,1560.0 L1475.5,1559.7 L1477.0,1559.4 L1478.5,1559.1 L1480.0,1558.8 L1481.5,1558.6 L1482.9,1558.3 L1484.4,1558.1 L1485.9,1557.8 L1487.4,1557.6 L1488.9,1557.4 L1490.4,1557.2 L1491.9,1557.0 L1493.4,1556.8 L1494.9,1556.6 L1496.4,1556.4 L1497.9,1556.3 L1499.3,1556.1 L1500.8,1555.9 L1502.3,1555.8 L1503.8,1555.6 L1505.3,1555.5 L1506.8,1555.4 L1508.3,1555.2 L1509.8,1555.1 L1511.3,1555.0 L1512.8,1554.9 L1514.3,1554.7 L1515.8,1554.6 L1517.3,1554.5 L1518.8,1554.4 L1520.3,1554.3 L1521.8,1554.2 L1523.4,1554.1 L1524.9,1554.1 L1526.4,1554.0 L1527.9,1553.9 L1529.4,1553.8 L1530.9,1553.7 L1532.4,1553.7 L1533.9,1553.6 L1535.4,1553.5 L1536.9,1553.5 L1538.4,1553.4 L1539.9,1553.3 L1541.4,1553.3 L1542.9,1553.2 L1544.4,1553.2 L1545.9,1553.1 L1547.4,1553.1 L1548.9,1553.0 L1550.4,1553.0 L1551.9,1552.9 L1553.4,1552.9 L1554.9,1552.8 L1556.4,1552.8 L1557.9,1552.7 L1559.4,1552.7 L1561.0,1552.7 L1562.5,1552.6 L1564.0,1552.6 L1565.5,1552.6 L1567.0,1552.5 L1568.5,1552.5 L1570.0,1552.5 L1571.5,1552.4 L1573.0,1552.4 L1574.5,1552.4 L1576.0,1552.4 L1577.5,1552.3 L1579.0,1552.3 L1580.5,1552.3 L1582.0,1552.3 L1583.5,1552.2 L1585.0,1552.2 L1586.5,1552.2 L1588.0,1552.2 L1589.5,1552.2 L1591.1,1552.1 L1592.6,1552.1 L1594.1,1552.1 L1595.6,1552.1 L1597.1,1552.1 L1598.6,1552.1 L1600.1,1552.0 L1601.6,1552.0 L1603.1,1552.0 L1604.6,1552.0 L1606.1,1552.0 L1607.6,1552.0 L1609.1,1552.0 L1610.6,1551.9 L1612.1,1551.9 L1613.6,1551.9 L1615.1,1551.9 L1616.6,1551.9 L1618.1,1551.9 L1619.7,1551.9 L1621.2,1551.9 L1622.7,1551.8 L1624.2,1551.8 L1625.7,1551.8 L1627.2,1551.8 L1628.7,1551.8 L1630.2,1551.8 L1631.7,1551.8 L1633.2,1551.8 L1634.7,1551.8 L1636.2,1551.8 L1637.7,1551.8 L1639.2,1551.8 L1640.7,1551.8 L1642.2,1551.7 L1643.7,1551.7 L1645.2,1551.7 L1646.7,1551.7 L1648.3,1551.7 L1649.8,1551.7 L1651.3,1551.7 L1652.8,1551.7 L1654.3,1551.7 L1655.8,1551.7 L1657.3,1551.7 L1658.8,1551.7 L1660.3,1551.7 L1661.8,1551.7 L1663.3,1551.7 L1664.8,1551.7 L1666.3,1551.7 L1667.8,1551.7 L1669.3,1551.7 L1670.8,1551.6 L1672.3,1551.6 L1673.8,1551.6 L1675.3,1551.6 L1676.9,1551.6 L1678.4,1551.6 L1679.9,1551.6 L1681.4,1551.6 L1682.9,1551.6 L1684.4,1551.6 L1685.9,1551.6 L1687.4,1551.6 L1688.9,1551.6 L1690.4,1551.6 L1691.9,1551.6 L1693.4,1551.6 L1694.9,1551.6 L1696.4,1551.6 L1697.9,1551.6 L1699.4,1551.6 L1700.9,1551.6 L1702.4,1551.6 L1703.9,1551.6 L1705.5,1551.6 L1707.0,1551.6 L1708.5,1551.6 L1710.0,1551.6 L1711.5,1551.6 L1713.0,1551.6 L1714.5,1551.6 L1716.0,1551.6 L1717.5,1551.6 L1719.0,1551.6 L1720.5,1551.6 L1722.0,1551.6 L1723.5,1551.6 L1725.0,1551.6 L1726.5,1551.6 L1728.0,1551.6 L1729.5,1551.6 L1731.0,1551.6 L1732.5,1551.6 L1734.1,1551.6 L1735.6,1551.6 L1737.1,1551.6 L1738.6,1551.5 L1740.1,1551.5 L1741.6,1551.5 L1743.1,1551.5 L1744.6,1551.5 L1746.1,1551.5 L1747.6,1551.5 L1749.1,1551.5 L1750.6,1551.5 L1752.1,1551.5 L1753.6,1551.5 L1755.1,1551.5 L1756.6,1551.5 L1758.1,1551.5 L1759.6,1551.5 L1761.1,1551.5 L1762.7,1551.5 L1764.2,1551.5 L1765.7,1551.5 L1767.2,1551.5 L1768.7,1551.5 L1770.2,1551.5 L1771.7,1551.5 L1773.2,1551.5 L1774.7,1551.5 L1776.2,1551.5 L1777.7,1551.5 L1779.2,1551.5 L1780.7,1551.5 L1782.2,1551.5 L1783.7,1551.5 L1785.2,1551.5 L1786.7,1551.5 L1788.2,1551.5 L1778.8,1551.5" class="cv" stroke="#377EB8"/>
<path d="M1268.3,1910.5 L905.6,1910.5 L907.1,1910.5 L908.7,1910.5 L910.2,1910.5 L911.7,1910.5 L913.2,1910.5 L914.7,1910.5 L916.2,1910.5 L917.7,1910.5 L919.2,1910.5 L920.7,1910.5 L922.2,1910.5 L923.7,1910.5 L925.2,1910.5 L926.7,1910.5 L928.2,1910.5 L929.7,1910.5 L931.2,1910.5 L932.7,1910.5 L934.2,1910.5 L935.7,1910.5 L937.2,1910.5 L938.7,1910.5 L940.3,1910.5 L941.8,1910.5 L943.3,1910.5 L944.8,1910.5 L946.3,1910.5 L947.8,1910.5 L949.3,1910.5 L950.8,1910.5 L952.3,1910.5 L953.8,1910.5 L955.3,1910.5 L956.8,1910.5 L958.3,1910.5 L959.8,1910.5 L961.3,1910.5 L962.8,1910.5 L964.3,1910.5 L965.8,1910.5 L967.3,1910.5 L968.8,1910.5 L970.3,1910.5 L971.8,1910.5 L973.4,1910.5 L974.9,1910.5 L976.4,1910.5 L977.9,1910.5 L979.4,1910.5 L980.9,1910.5 L982.4,1910.5 L983.9,1910.5 L985.4,1910.5 L986.9,1910.5 L988.4,1910.5 L989.9,1910.5 L991.4,1910.5 L992.9,1910.5 L994.4,1910.5 L995.9,1910.5 L997.4,1910.5 L998.9,1910.5 L1000.4,1910.5 L1001.9,1910.5 L1003.4,1910.5 L1005.0,1910.5 L1006.5,1910.5 L1008.0,1910.5 L1009.5,1910.5 L1011.0,1910.5 L1012.5,1910.5 L1014.0,1910.5 L1015.5,1910.5 L1017.0,1910.5 L1018.5,1910.5 L1020.0,1910.5 L1021.5,1910.5 L1023.0,1910.5 L1024.5,1910.5 L1026.0,1910.5 L1027.5,1910.5 L1029.0,1910.5 L1030.5,1910.5 L1032.0,1910.5 L1033.5,1910.5 L1035.0,1910.5 L1036.6,1910.5 L1038.1,1910.5 L1039.6,1910.5 L1041.1,1910.5 L1042.6,1910.5 L1044.1,1910.5 L1045.6,1910.5 L1047.1,1910.5 L1048.6,1910.5 L1050.1,1910.5 L1051.6,1910.5 L1053.1,1910.5 L1054.6,1910.5 L1056.1,1910.5 L1057.6,1910.5 L1059.1,1910.5 L1060.6,1910.5 L1062.1,1910.5 L1063.6,1910.5 L1065.1,1910.5 L1066.6,1910.5 L1068.1,1910.5 L1069.7,1910.5 L1071.2,1910.5 L1072.7,1910.5 L1074.2,1910.5 L1075.7,1910.5 L1077.2,1910.5 L1078.7,1910.5 L1080.2,1910.5 L1081.7,1910.5 L1083.2,1910.5 L1084.7,1910.5 L1086.2,1910.5 L1087.7,1910.5 L1089.2,1910.5 L1090.7,1910.5 L1092.2,1910.5 L1093.7,1910.5 L1095.2,1910.5 L1096.7,1910.5 L1098.2,1910.5 L1099.7,1910.5 L1101.3,1910.5 L1102.8,1910.5 L1104.3,1910.5 L1105.8,1910.5 L1107.3,1910.5 L1108.8,1910.5 L1110.3,1910.5 L1111.8,1910.5 L1113.3,1910.5 L1114.8,1910.5 L1116.3,1910.5 L1117.8,1910.5 L1119.3,1910.5 L1120.8,1910.5 L1122.3,1910.5 L1123.8,1910.5 L1125.3,1910.5 L1126.8,1910.5 L1128.3,1910.5 L1129.8,1910.5 L1131.3,1910.5 L1132.9,1910.5 L1134.4,1910.5 L1135.9,1910.5 L1137.4,1910.5 L1138.9,1910.5 L1140.4,1910.5 L1141.9,1910.5 L1143.4,1910.5 L1144.9,1910.5 L1146.4,1910.5 L1147.9,1910.5 L1149.4,1910.5 L1150.9,1910.5 L1152.4,1910.5 L1153.9,1910.5 L1155.4,1910.5 L1156.9,1910.5 L1158.4,1910.5 L1159.9,1910.5 L1161.4,1910.5 L1162.9,1910.5 L1164.5,1910.5 L1166.0,1910.5 L1167.5,1910.5 L1169.0,1910.5 L1170.5,1910.5 L1172.0,1910.5 L1173.5,1910.5 L1175.0,1910.5 L1176.5,1910.5 L1178.0,1910.5 L1179.5,1910.5 L1181.0,1910.5 L1182.5,1910.5 L1184.0,1910.5 L1185.5,1910.5 L1187.0,1910.5 L1188.5,1910.5 L1190.0,1910.5 L1191.5,1910.5 L1193.0,1910.5 L1194.5,1910.5 L1196.0,1910.5 L1197.6,1910.5 L1199.1,1910.5 L1200.6,1910.5 L1202.1,1910.5 L1203.6,1910.5 L1205.1,1910.5 L1206.6,1910.5 L1208.1,1910.5 L1209.6,1910.5 L1211.1,1910.5 L1212.6,1910.5 L1214.1,1910.5 L1215.6,1910.5 L1217.1,1910.5 L1218.6,1910.5 L1220.1,1910.5 L1221.6,1910.5 L1223.1,1910.5 L1224.6,1910.5 L1226.1,1910.5 L1227.6,1910.5 L1229.2,1910.5 L1230.7,1910.5 L1232.2,1910.5 L1233.7,1910.5 L1235.2,1910.5 L1236.7,1910.5 L1238.2,1910.5 L1239.7,1910.5 L1241.2,1910.5 L1242.7,1910.5 L1244.2,1910.5 L1245.7,1910.5 L1247.2,1910.5 L1248.7,1910.5 L1250.2,1910.5 L1251.7,1910.5 L1253.2,1910.5 L1254.7,1910.5 L1256.2,1910.5 L1257.7,1910.5 L1259.2,1910.5 L1260.8,1910.5 L1262.3,1910.5 L1263.8,1910.5 L1265.3,1910.5 L1266.8,1910.5 L1268.3,1910.5 L1269.8,1910.5 L1271.3,1910.5 L1272.8,1910.5 L1274.3,1910.5 L1275.8,1910.5 L1277.3,1910.5 L1278.8,1910.5 L1280.3,1910.5 L1281.8,1910.5 L1283.3,1910.5 L1284.8,1910.5 L1286.3,1910.5 L1287.8,1910.5 L1289.3,1910.5 L1290.8,1910.5 L1292.4,1910.5 L1293.9,1910.5 L1295.4,1910.5 L1296.9,1910.5 L1298.4,1910.5 L1299.9,1910.4 L1301.4,1910.2 L1302.7,1909.5 L1303.7,1908.4 L1304.4,1907.1 L1305.0,1905.7 L1305.4,1904.3 L1305.7,1902.8 L1306.0,1901.3 L1306.3,1899.8 L1306.5,1898.3 L1306.7,1896.9 L1306.9,1895.4 L1307.1,1893.9 L1307.3,1892.4 L1307.4,1890.9 L1307.6,1889.4 L1307.7,1887.9 L1307.8,1886.4 L1308.0,1884.9 L1308.1,1883.4 L1308.2,1881.9 L1308.3,1880.4 L1308.4,1878.9 L1308.5,1877.4 L1308.6,1875.9 L1308.7,1874.4 L1308.8,1872.9 L1308.9,1871.4 L1309.0,1869.9 L1309.1,1868.4 L1309.2,1866.9 L1309.2,1865.4 L1309.3,1863.9 L1309.4,1862.4 L1309.5,1860.9 L1309.6,1859.4 L1309.6,1857.8 L1309.7,1856.3 L1309.8,1854.8 L1309.9,1853.3 L1309.9,1851.8 L1310.0,1850.3 L1310.1,1848.8 L1310.1,1847.3 L1310.2,1845.8 L1310.2,1844.3 L1310.3,1842.8 L1310.4,1841.3 L1310.4,1839.8 L1310.5,1838.3 L1310.6,1836.8 L1310.6,1835.3 L1310.7,1833.8 L1310.7,1832.3 L1310.8,1830.8 L1310.8,1829.3 L1310.9,1827.8 L1311.0,1826.3 L1311.0,1824.8 L1311.1,1823.3 L1311.1,1821.8 L1311.2,1820.3 L1311.2,1818.8 L1311.3,1817.3 L1311.3,1815.8 L1311.4,1814.2 L1311.4,1812.7 L1311.5,1811.2 L1311.5,1809.7 L1311.6,1808.2 L1311.6,1806.7 L1311.7,1805.2 L1311.7,1803.7 L1311.8,1802.2 L1311.8,1800.7 L1311.9,1799.2 L1311.9,1797.7 L1312.0,1796.2 L1312.0,1794.7 L1312.1,1793.2 L1312.1,1791.7 L1312.2,1790.2 L1312.2,1788.7 L1312.3,1787.2 L1312.3,1785.7 L1312.4,1784.2 L1312.4,1782.7 L1312.4,1781.2 L1312.5,1779.7 L1312.5,1778.2 L1312.6,1776.7 L1312.6,1775.1 L1312.7,1773.6 L1312.7,1772.1 L1312.8,1770.6 L1312.8,1769.1 L1312.8,1767.6 L1312.9,1766.1 L1312.9,1764.6 L1313.0,1763.1 L1313.0,1761.6 L1313.1,1760.1 L1313.1,1758.6 L1313.2,1757.1 L1313.2,1755.6 L1313.2,1754.1 L1313.3,1752.6 L1313.3,1751.1 L1313.4,1749.6 L1313.4,1748.1 L1313.5,1746.6 L1313.5,1745.1 L1313.5,1743.6 L1313.6,1742.1 L1313.6,1740.6 L1313.7,1739.0 L1313.7,1737.5 L1313.8,1736.0 L1313.8,1734.5 L1313.8,1733.0 L1313.9,1731.5 L1313.9,1730.0 L1314.0,1728.5 L1314.0,1727.0 L1314.1,1725.5 L1314.1,1724.0 L1314.1,1722.5 L1314.2,1721.0 L1314.2,1719.5 L1314.3,1718.0 L1314.3,1716.5 L1314.4,1715.0 L1314.4,1713.5 L1314.4,1712.0 L1314.5,1710.5 L1314.5,1709.0 L1314.6,1707.5 L1314.6,1706.0 L1314.7,1704.5 L1314.7,1703.0 L1314.8,1701.4 L1314.8,1699.9 L1314.8,1698.4 L1314.9,1696.9 L1314.9,1695.4 L1315.0,1693.9 L1315.0,1692.4 L1315.1,1690.9 L1315.1,1689.4 L1315.2,1687.9 L1315.2,1686.4 L1315.2,1684.9 L1315.3,1683.4 L1315.3,1681.9 L1315.4,1680.4 L1315.4,1678.9 L1315.5,1677.4 L1315.5,1675.9 L1315.6,1674.4 L1315.6,1672.9 L1315.7,1671.4 L1315.7,1669.9 L1315.8,1668.4 L1315.8,1666.9 L1315.8,1665.4 L1315.9,1663.8 L1315.9,1662.3 L1316.0,1660.8 L1316.0,1659.3 L1316.1,1657.8 L1316.1,1656.3 L1316.2,1654.8 L1316.2,1653.3 L1316.3,1651.8 L1316.3,1650.3 L1316.4,1648.8 L1316.5,1647.3 L1316.5,1645.8 L1316.6,1644.3 L1316.6,1642.8 L1316.7,1641.3 L1316.7,1639.8 L1316.8,1638.3 L1316.8,1636.8 L1316.9,1635.3 L1316.9,1633.8 L1317.0,1632.3 L1317.1,1630.8 L1317.1,1629.3 L1317.2,1627.8 L1317.2,1626.3 L1317.3,1624.7 L1317.4,1623.2 L1317.4,1621.7 L1317.5,1620.2 L1317.5,1618.7 L1317.6,1617.2 L1317.7,1615.7 L1317.7,1614.2 L1317.8,1612.7 L1317.9,1611.2 L1317.9,1609.7 L1318.0,1608.2 L1318.1,1606.7 L1318.2,1605.2 L1318.2,1603.7 L1318.3,1602.2 L1318.4,1600.7 L1318.5,1599.2 L1318.6,1597.7 L1318.6,1596.2 L1318.7,1594.7 L1318.8,1593.2 L1318.9,1591.7 L1319.0,1590.2 L1319.1,1588.7 L1319.2,1587.2 L1319.3,1585.7 L1319.4,1584.2 L1319.5,1582.7 L1319.6,1581.2 L1319.7,1579.7 L1319.8,1578.2 L1320.0,1576.7 L1320.1,1575.2 L1320.2,1573.7 L1320.4,1572.2 L1320.5,1570.7 L1320.7,1569.2 L1320.9,1567.7 L1321.1,1566.2 L1321.3,1564.7 L1321.5,1563.2 L1321.7,1561.7 L1322.0,1560.3 L1322.3,1558.8 L1322.7,1557.3 L1323.2,1555.9 L1323.8,1554.5 L1324.6,1553.3 L1325.7,1552.3 L1327.1,1551.8 L1328.6,1551.6 L1330.1,1551.5 L1331.6,1551.5 L1333.1,1551.5 L1334.6,1551.5 L1336.1,1551.5 L1337.6,1551.5 L1339.1,1551.5 L1778.8,1551.5" class="cv" stroke="#4DAF4A"/>
</g>
<rect x="1278.3" y="1534.6" width="490.5" height="392.9" class="bd"/>
<line x1="1615.9" y1="1822.0" x2="1641.7" y2="1822.0" stroke="#E41A1C" stroke-width="4.6"/>
<text x="1649.0" y="1831.7" class="lg">Teens</text>
<line x1="1615.9" y1="1854.5" x2="1641.7" y2="1854.5" stroke="#377EB8" stroke-width="4.6"/>
<text x="1649.0" y="1864.2" class="lg">Children</text>
<line x1="1615.9" y1="1887.0" x2="1641.7" y2="1887.0" stroke="#4DAF4A" stroke-width="4.6"/>
<text x="1649.0" y="1896.7" class="lg">Adults</text>
</svg>
</body></html>
